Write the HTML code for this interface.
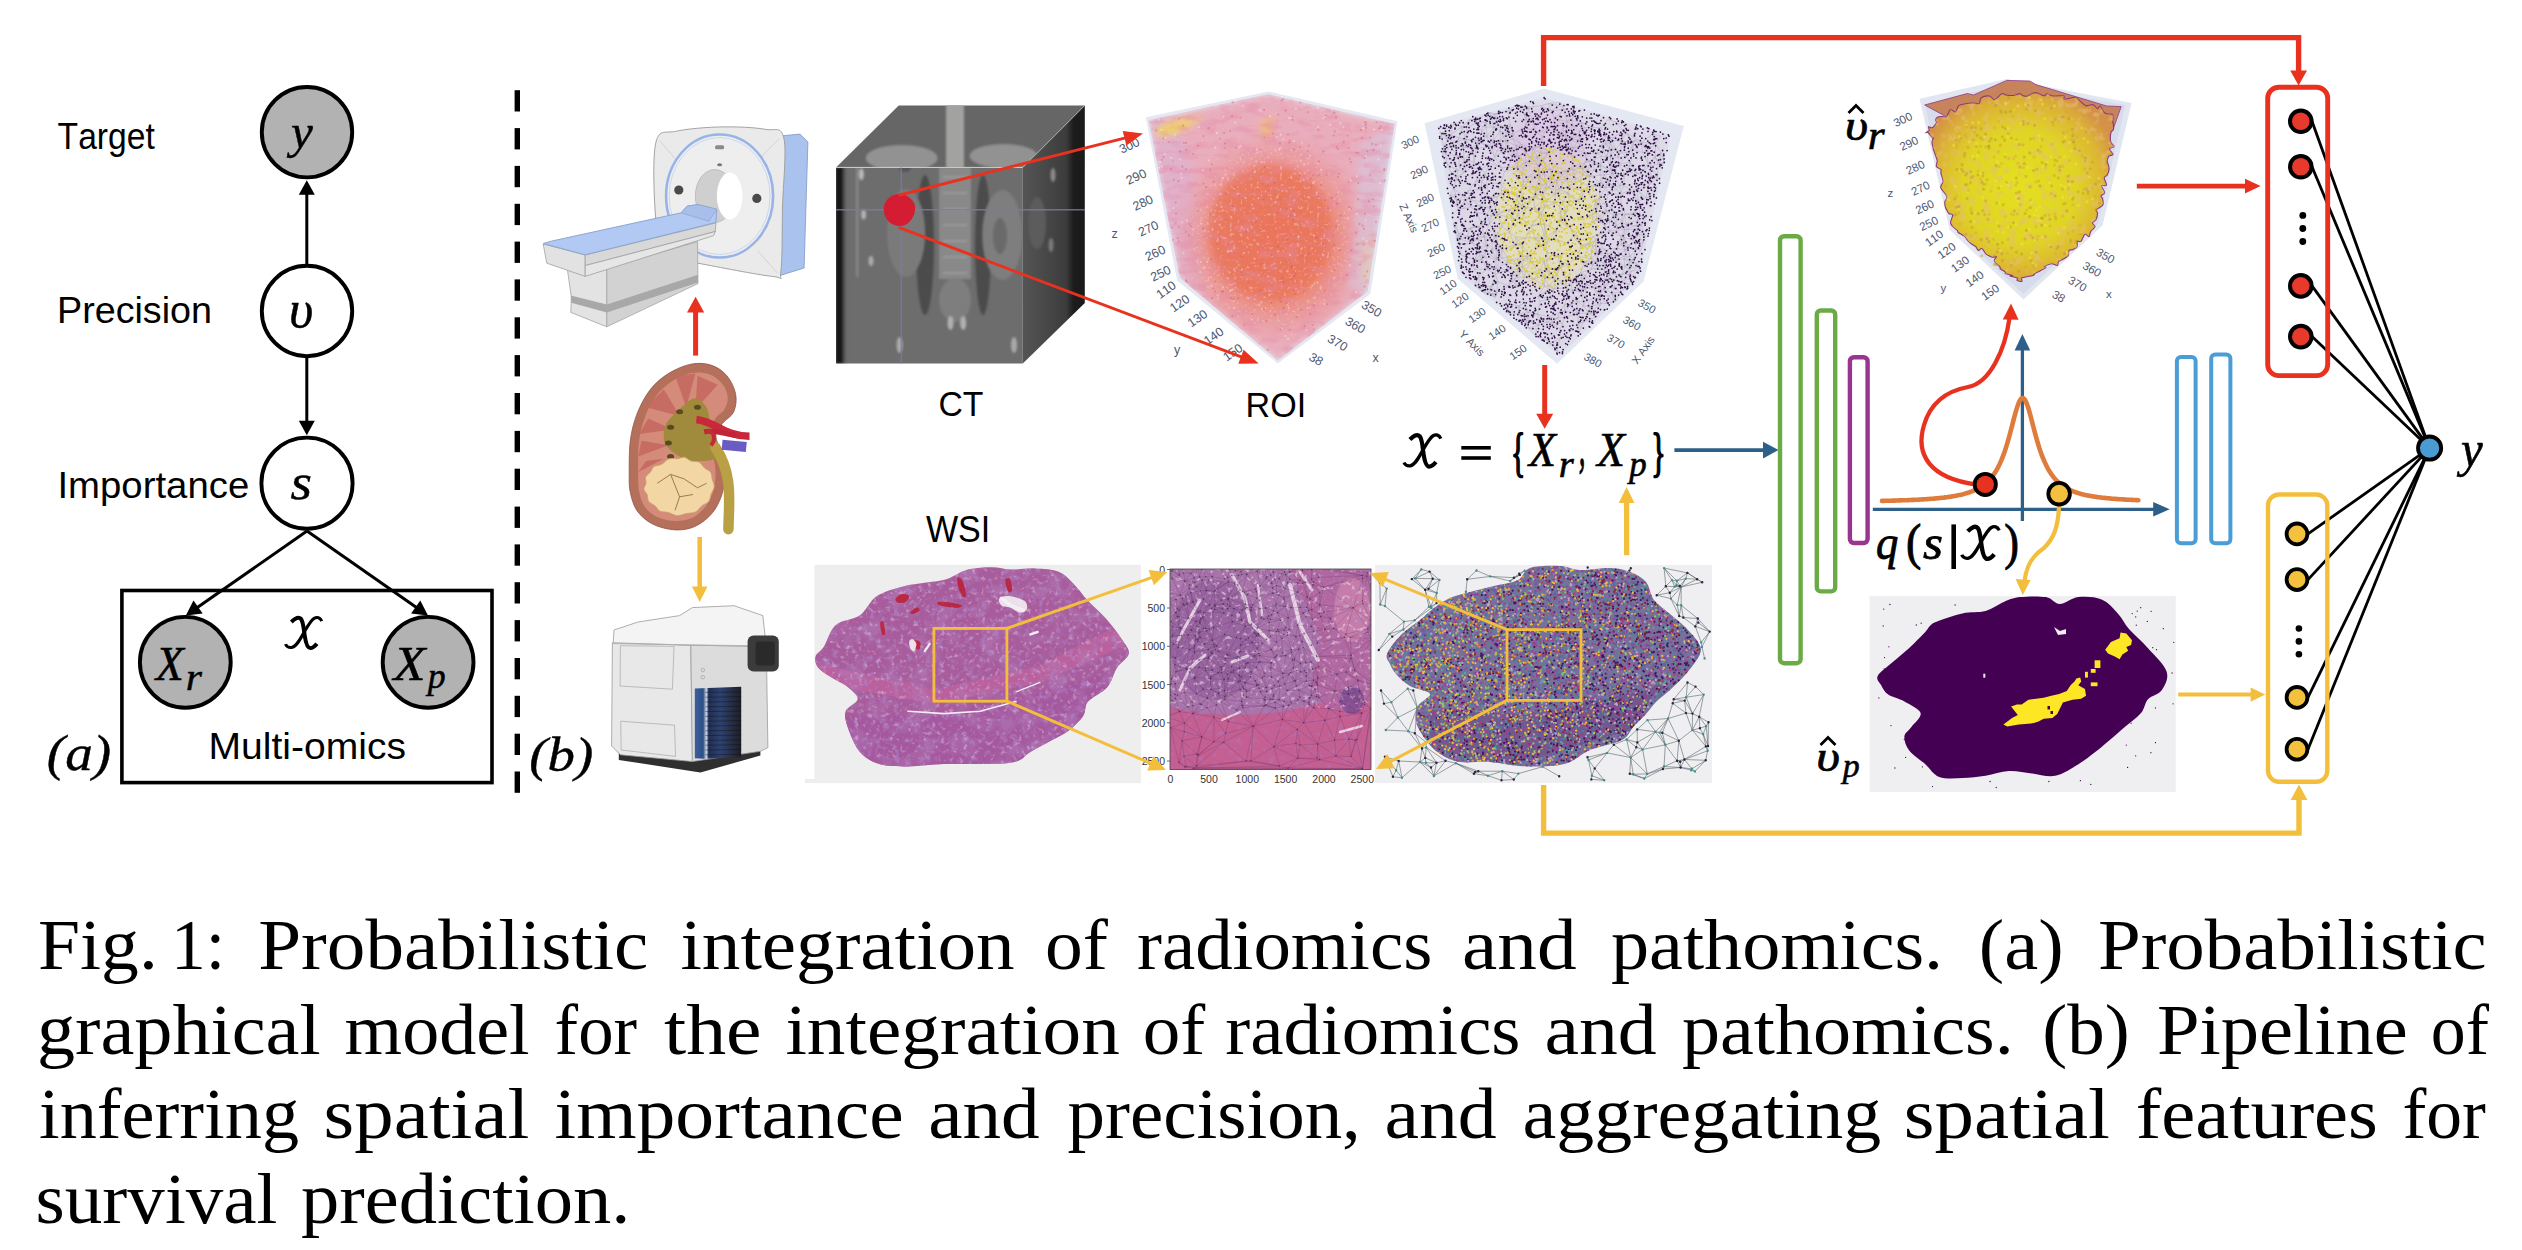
<!DOCTYPE html>
<html><head><meta charset="utf-8"><style>
html,body{margin:0;padding:0;background:#fff;}
body{width:2522px;height:1250px;overflow:hidden;}
svg{display:block;font-family:"Liberation Sans",sans-serif;}
text{font-kerning:none;font-variant-ligatures:none;}
</style></head><body>
<svg width="2522" height="1250" viewBox="0 0 2522 1250">
<defs><filter id="blur1" x="-20%" y="-20%" width="140%" height="140%"><feGaussianBlur stdDeviation="1.2"/></filter>
<filter id="blur3" x="-30%" y="-30%" width="160%" height="160%"><feGaussianBlur stdDeviation="3"/></filter>
<filter id="blur6" x="-50%" y="-50%" width="200%" height="200%"><feGaussianBlur stdDeviation="6"/></filter>
<filter id="tisL" x="0" y="0" width="100%" height="100%"><feTurbulence type="fractalNoise" baseFrequency="0.22" numOctaves="2" seed="11"/>
<feColorMatrix type="matrix" values="0 0 0 0 0.96  0 0 0 0 0.82  0 0 0 0 0.94  0 0 0 5 -2.9"/><feComposite in2="SourceGraphic" operator="in"/></filter>
<filter id="tisD" x="0" y="0" width="100%" height="100%"><feTurbulence type="fractalNoise" baseFrequency="0.16" numOctaves="2" seed="5"/>
<feColorMatrix type="matrix" values="0 0 0 0 0.42  0 0 0 0 0.22  0 0 0 0 0.55  0 0 0 4 -2.1"/><feComposite in2="SourceGraphic" operator="in"/></filter>
<filter id="roiT" x="0" y="0" width="100%" height="100%"><feTurbulence type="fractalNoise" baseFrequency="0.05 0.12" numOctaves="3" seed="8"/>
<feColorMatrix type="matrix" values="0 0 0 0 0.80  0 0 0 0 0.25  0 0 0 0 0.38  0 0 0 4 -1.9"/><feComposite in2="SourceGraphic" operator="in"/></filter>
<filter id="roiW" x="0" y="0" width="100%" height="100%"><feTurbulence type="fractalNoise" baseFrequency="0.3" numOctaves="2" seed="21"/>
<feColorMatrix type="matrix" values="0 0 0 0 1  0 0 0 0 0.92  0 0 0 0 0.88  0 0 0 5 -3.0"/><feComposite in2="SourceGraphic" operator="in"/></filter>
<filter id="tisM" x="0" y="0" width="100%" height="100%"><feTurbulence type="fractalNoise" baseFrequency="0.045" numOctaves="3" seed="17"/>
<feColorMatrix type="matrix" values="0 0 0 0 0.45  0 0 0 0 0.22  0 0 0 0 0.5  0 0 0 3.5 -1.6"/><feComposite in2="SourceGraphic" operator="in"/></filter>
<filter id="vrT" x="0" y="0" width="100%" height="100%"><feTurbulence type="fractalNoise" baseFrequency="0.12" numOctaves="3" seed="31"/>
<feColorMatrix type="matrix" values="0 0 0 0 0.78  0 0 0 0 0.52  0 0 0 0 0.18  0 0 0 5 -2.6"/><feComposite in2="SourceGraphic" operator="in"/></filter>
<filter id="tissue" x="0" y="0" width="100%" height="100%"><feTurbulence type="fractalNoise" baseFrequency="0.09" numOctaves="3" seed="4" result="n"/>
<feColorMatrix in="n" type="matrix" values="0 0 0 0 0.35  0 0 0 0 0.10  0 0 0 0 0.35  0 0 0 1.6 -0.55" result="c"/>
<feComposite in="c" in2="SourceGraphic" operator="in" result="t"/><feMerge><feMergeNode in="SourceGraphic"/><feMergeNode in="t"/></feMerge></filter>

<linearGradient id="scp" x1="0" x2="1" y1="0" y2="0"><stop offset="0" stop-color="#3d5f9a"/><stop offset="0.18" stop-color="#2d4f88"/><stop offset="0.25" stop-color="#cfd6e4"/><stop offset="0.3" stop-color="#1f2f55"/><stop offset="0.55" stop-color="#2e4270"/><stop offset="1" stop-color="#1e1e24"/></linearGradient>
<clipPath id="ctf"><rect x="836.0" y="167.4" width="186.8" height="196.1"/></clipPath>
<clipPath id="ctt"><polygon points="836.0,167.4 898.7,105.4 1084.8,105.4 1022.8,167.4"/></clipPath>
<clipPath id="ctr"><polygon points="1022.8,167.4 1084.8,105.4 1084.8,303.0 1022.8,363.5"/></clipPath>
<linearGradient id="ctl" x1="0" x2="1"><stop offset="0" stop-color="#121212"/><stop offset="0.45" stop-color="#181818"/><stop offset="1" stop-color="#676767" stop-opacity="0"/></linearGradient>
<linearGradient id="ctrg" x1="0" x2="1"><stop offset="0" stop-color="#555"/><stop offset="0.7" stop-color="#3c3c3c"/><stop offset="0.82" stop-color="#1c1c1c"/><stop offset="1" stop-color="#1a1a1a"/></linearGradient>
<clipPath id="roic"><polygon points="1148.5,119.9 1268.2,94.1 1394.8,124.0 1367.6,291.4 1277.8,360.7 1179.8,277.8"/></clipPath>
<radialGradient id="roig" cx="0.5" cy="0.5" r="0.5"><stop offset="0" stop-color="#ea7a62"/><stop offset="0.55" stop-color="#ec8670"/><stop offset="1" stop-color="#eaa2ae" stop-opacity="0"/></radialGradient>
<clipPath id="pcc"><polygon points="1437.5,126.1 1544.1,97.3 1670.8,134.7 1639.1,278.7 1559.9,356.5 1460.6,274.4"/></clipPath>
<radialGradient id="vrg" cx="0.5" cy="0.5" r="0.55"><stop offset="0" stop-color="#e4e01e"/><stop offset="0.55" stop-color="#e0d424"/><stop offset="0.82" stop-color="#dcb434"/><stop offset="1" stop-color="#d49048"/></radialGradient>
<clipPath id="vrc"><path d="M1929.1,130.2 C1929.5,129.2 1928.0,127.2 1928.6,126.7 C1929.1,126.3 1930.9,128.4 1932.3,127.7 C1933.6,127.0 1936.0,123.7 1936.5,122.4 C1937.1,121.1 1935.3,121.0 1935.5,120.0 C1935.7,119.1 1936.6,117.4 1937.7,116.9 C1938.8,116.3 1940.7,116.5 1942.2,116.5 C1943.6,116.5 1945.1,118.0 1946.5,116.8 C1947.9,115.6 1949.1,110.2 1950.6,109.5 C1952.1,108.7 1954.2,112.8 1955.5,112.2 C1956.9,111.5 1957.0,107.1 1958.7,105.7 C1960.4,104.3 1963.4,104.2 1965.7,103.8 C1968.0,103.4 1970.2,103.2 1972.5,103.1 C1974.7,103.0 1977.7,104.3 1979.2,103.4 C1980.6,102.5 1979.6,98.9 1981.3,97.7 C1983.0,96.4 1987.3,95.7 1989.5,96.0 C1991.8,96.3 1992.6,100.1 1994.7,99.7 C1996.7,99.3 1999.8,94.5 2001.7,93.7 C2003.6,92.9 2003.9,94.7 2006.0,95.0 C2008.0,95.3 2011.8,95.7 2014.1,95.5 C2016.4,95.2 2018.6,93.6 2019.9,93.6 C2021.2,93.5 2020.9,94.8 2022.1,95.2 C2023.3,95.7 2024.9,96.6 2027.1,96.2 C2029.2,95.7 2032.2,92.7 2035.1,92.6 C2037.9,92.6 2042.2,95.7 2044.2,95.9 C2046.2,96.1 2045.3,93.8 2046.8,93.8 C2048.4,93.8 2050.6,95.7 2053.4,96.0 C2056.3,96.3 2062.1,95.2 2063.9,95.7 C2065.7,96.3 2062.4,98.9 2064.3,99.2 C2066.1,99.4 2072.6,97.3 2074.8,97.2 C2077.0,97.1 2075.6,97.3 2077.3,98.6 C2079.1,100.0 2082.8,104.3 2085.4,105.4 C2088.1,106.4 2091.1,104.2 2093.1,104.7 C2095.0,105.2 2096.2,108.3 2097.4,108.6 C2098.6,108.8 2099.3,105.6 2100.4,106.1 C2101.4,106.7 2102.5,110.4 2103.7,111.8 C2104.9,113.1 2106.1,113.6 2107.7,114.0 C2109.2,114.5 2111.9,113.3 2112.7,114.6 C2113.6,115.9 2112.7,120.2 2112.8,121.7 C2112.8,123.1 2112.9,122.9 2113.0,123.2 C2113.0,123.4 2113.2,122.2 2113.3,123.2 C2113.3,124.3 2113.8,127.9 2113.5,129.5 C2113.1,131.0 2111.4,130.6 2110.9,132.7 C2110.5,134.7 2110.2,139.3 2110.7,141.7 C2111.2,144.0 2114.3,145.5 2114.1,146.7 C2113.8,147.9 2109.5,147.5 2109.3,148.8 C2109.2,150.1 2113.2,153.3 2113.1,154.5 C2113.0,155.7 2109.9,155.0 2108.9,156.2 C2107.9,157.4 2107.3,160.4 2107.1,161.5 C2106.9,162.6 2107.4,161.6 2107.7,162.8 C2108.1,164.1 2109.1,166.9 2109.1,169.0 C2109.0,171.0 2108.0,173.5 2107.2,175.0 C2106.4,176.5 2104.3,176.3 2104.2,178.0 C2104.1,179.7 2107.0,183.9 2106.5,185.2 C2106.1,186.5 2101.8,184.6 2101.5,185.8 C2101.2,187.1 2104.8,190.9 2104.7,192.6 C2104.6,194.3 2101.4,195.0 2101.0,196.0 C2100.7,197.0 2102.3,197.1 2102.6,198.7 C2102.8,200.2 2103.8,203.3 2102.7,205.1 C2101.6,207.0 2097.1,208.6 2096.2,209.9 C2095.4,211.2 2097.5,211.2 2097.5,212.8 C2097.5,214.4 2097.0,217.8 2096.1,219.5 C2095.3,221.2 2092.6,221.8 2092.4,222.9 C2092.2,224.1 2095.3,225.2 2095.0,226.6 C2094.7,228.1 2091.6,229.9 2090.6,231.6 C2089.7,233.2 2090.1,236.1 2089.1,236.6 C2088.2,237.0 2086.3,233.5 2084.9,234.3 C2083.6,235.1 2082.2,240.3 2081.0,241.4 C2079.7,242.6 2078.1,240.4 2077.4,241.3 C2076.7,242.2 2077.7,245.4 2077.0,246.8 C2076.2,248.2 2074.1,249.1 2072.8,249.7 C2071.5,250.3 2070.0,249.3 2069.1,250.4 C2068.3,251.5 2069.2,254.4 2067.6,256.2 C2066.0,258.0 2061.0,260.3 2059.5,261.0 C2058.0,261.8 2059.0,260.0 2058.6,260.7 C2058.2,261.5 2058.4,265.0 2057.3,265.5 C2056.1,266.0 2053.8,263.5 2051.7,263.7 C2049.5,263.9 2045.4,265.8 2044.3,266.5 C2043.3,267.2 2046.8,266.9 2045.6,267.9 C2044.4,268.8 2039.2,271.2 2037.2,272.3 C2035.2,273.4 2034.2,274.0 2033.7,274.3 C2033.2,274.7 2034.4,274.1 2034.3,274.3 C2034.2,274.5 2034.7,275.0 2033.1,275.5 C2031.5,276.0 2026.7,276.8 2024.7,277.2 C2022.8,277.6 2021.9,277.3 2021.4,278.0 C2021.0,278.7 2022.6,281.0 2021.9,281.4 C2021.2,281.8 2017.8,281.0 2017.1,280.4 C2016.3,279.9 2018.6,278.9 2017.5,278.2 C2016.3,277.4 2010.8,276.5 2010.0,276.1 C2009.2,275.7 2013.4,276.1 2012.6,275.6 C2011.8,275.2 2006.6,274.1 2005.4,273.5 C2004.2,272.9 2006.3,272.9 2005.5,272.1 C2004.6,271.3 2001.2,269.7 2000.3,268.9 C1999.4,268.1 2001.0,268.4 2000.0,267.1 C1999.0,265.8 1994.8,262.6 1994.3,260.9 C1993.7,259.1 1996.9,257.3 1996.5,256.6 C1996.2,256.0 1993.9,257.7 1992.1,257.2 C1990.3,256.7 1987.5,255.2 1985.8,253.8 C1984.2,252.3 1983.3,249.1 1982.0,248.5 C1980.8,247.9 1979.3,250.7 1978.3,250.4 C1977.2,250.1 1976.9,247.8 1975.8,246.7 C1974.7,245.7 1972.9,245.0 1971.6,244.0 C1970.3,243.0 1969.3,242.2 1968.1,240.9 C1966.9,239.6 1966.0,237.6 1964.3,236.2 C1962.7,234.8 1959.5,233.5 1958.3,232.5 C1957.2,231.6 1958.3,231.7 1957.4,230.6 C1956.4,229.6 1953.7,227.6 1952.6,226.2 C1951.4,224.9 1950.5,224.5 1950.5,222.6 C1950.5,220.7 1952.9,216.5 1952.6,215.0 C1952.4,213.5 1950.0,214.5 1948.9,213.5 C1947.9,212.6 1946.9,210.3 1946.3,209.2 C1945.7,208.1 1945.6,208.1 1945.3,206.9 C1945.1,205.6 1944.5,203.4 1944.8,201.7 C1945.1,200.0 1947.6,199.0 1947.0,196.7 C1946.3,194.4 1941.5,190.1 1940.8,187.8 C1940.1,185.4 1942.4,183.9 1942.8,182.6 C1943.1,181.2 1943.3,181.4 1942.9,179.8 C1942.6,178.2 1941.2,174.5 1940.9,172.8 C1940.6,171.1 1941.8,170.7 1941.0,169.7 C1940.3,168.6 1937.1,168.0 1936.4,166.6 C1935.8,165.1 1937.3,162.6 1937.2,161.0 C1937.2,159.4 1936.5,158.5 1936.0,156.9 C1935.5,155.4 1934.7,153.4 1934.2,151.9 C1933.7,150.4 1933.1,148.5 1932.9,147.9 C1932.8,147.3 1933.5,149.0 1933.3,148.2 C1933.2,147.3 1932.0,144.7 1932.0,143.0 C1931.9,141.3 1933.0,138.8 1933.2,138.0 C1933.3,137.2 1933.9,139.4 1933.0,138.4 C1932.0,137.4 1928.7,133.2 1927.5,132.2 C1926.3,131.3 1925.5,133.2 1925.8,132.8 C1926.1,132.5 1928.6,131.2 1929.1,130.2Z"/></clipPath>
<clipPath id="wsic"><path d="M815.6,656.0 C816.8,652.8 820.6,651.6 824.0,646.4 C827.4,641.2 830.0,630.0 836.0,624.8 C842.0,619.6 853.2,620.0 860.0,615.2 C866.8,610.4 869.6,600.8 876.8,596.0 C884.0,591.2 895.2,588.6 903.2,586.4 C911.2,584.2 917.6,584.0 924.8,582.8 C932.0,581.6 939.2,581.4 946.4,579.2 C953.6,577.0 960.4,571.6 968.0,569.6 C975.6,567.6 984.8,567.2 992.0,567.2 C999.2,567.2 1004.0,569.4 1011.2,569.6 C1018.4,569.8 1027.2,568.0 1035.2,568.4 C1043.2,568.8 1052.4,569.0 1059.2,572.0 C1066.0,575.0 1071.2,581.6 1076.0,586.4 C1080.8,591.2 1082.8,595.2 1088.0,600.8 C1093.2,606.4 1101.6,613.6 1107.2,620.0 C1112.9,626.4 1118.1,633.6 1121.7,639.2 C1125.3,644.8 1129.7,648.8 1128.9,653.6 C1128.1,658.4 1120.5,662.4 1116.9,668.0 C1113.3,673.6 1112.0,681.6 1107.2,687.2 C1102.4,692.8 1092.0,696.8 1088.0,701.6 C1084.0,706.4 1086.4,711.2 1083.2,716.0 C1080.0,720.8 1074.0,726.4 1068.8,730.4 C1063.6,734.4 1058.4,736.4 1052.0,740.0 C1045.6,743.6 1036.4,748.4 1030.4,752.0 C1024.4,755.6 1023.2,759.6 1016.0,761.6 C1008.8,763.6 999.2,763.6 987.2,764.0 C975.2,764.4 957.2,763.6 944.0,764.0 C930.8,764.4 918.8,766.4 908.0,766.4 C897.2,766.4 887.2,766.4 879.2,764.0 C871.2,761.6 865.2,758.0 860.0,752.0 C854.8,746.0 850.4,734.8 848.0,728.0 C845.6,721.2 844.0,716.0 845.6,711.2 C847.2,706.4 857.2,703.2 857.6,699.2 C858.0,695.2 851.6,690.4 848.0,687.2 C844.4,684.0 840.0,682.4 836.0,680.0 C832.0,677.6 827.2,675.2 824.0,672.8 C820.8,670.4 818.2,668.4 816.8,665.6 C815.4,662.8 814.4,659.2 815.6,656.0Z"/></clipPath>
<clipPath id="patc"><rect x="1170.0" y="569.0" width="201.0" height="200.4"/></clipPath>
<clipPath id="grc"><path d="M1387.0,654.0 C1388.7,649.3 1394.5,641.7 1400.0,636.0 C1405.5,630.3 1414.3,624.7 1420.0,620.0 C1425.7,615.3 1429.0,611.7 1434.0,608.0 C1439.0,604.3 1444.0,600.7 1450.0,598.0 C1456.0,595.3 1462.7,594.0 1470.0,592.0 C1477.3,590.0 1486.0,588.0 1494.0,586.0 C1502.0,584.0 1512.0,583.0 1518.0,580.0 C1524.0,577.0 1523.0,570.3 1530.0,568.0 C1537.0,565.7 1551.7,565.7 1560.0,566.0 C1568.3,566.3 1571.7,569.7 1580.0,570.0 C1588.3,570.3 1601.7,567.7 1610.0,568.0 C1618.3,568.3 1624.0,569.7 1630.0,572.0 C1636.0,574.3 1642.0,577.3 1646.0,582.0 C1650.0,586.7 1650.0,594.7 1654.0,600.0 C1658.0,605.3 1665.0,609.7 1670.0,614.0 C1675.0,618.3 1679.3,621.3 1684.0,626.0 C1688.7,630.7 1695.3,637.3 1698.0,642.0 C1700.7,646.7 1702.0,648.7 1700.0,654.0 C1698.0,659.3 1691.0,668.0 1686.0,674.0 C1681.0,680.0 1675.0,685.3 1670.0,690.0 C1665.0,694.7 1660.0,698.0 1656.0,702.0 C1652.0,706.0 1649.7,710.0 1646.0,714.0 C1642.3,718.0 1638.0,721.7 1634.0,726.0 C1630.0,730.3 1629.3,736.0 1622.0,740.0 C1614.7,744.0 1598.7,746.3 1590.0,750.0 C1581.3,753.7 1576.7,759.3 1570.0,762.0 C1563.3,764.7 1558.3,765.3 1550.0,766.0 C1541.7,766.7 1530.0,766.7 1520.0,766.0 C1510.0,765.3 1500.0,762.7 1490.0,762.0 C1480.0,761.3 1468.3,763.3 1460.0,762.0 C1451.7,760.7 1445.7,757.7 1440.0,754.0 C1434.3,750.3 1430.0,745.3 1426.0,740.0 C1422.0,734.7 1417.3,727.7 1416.0,722.0 C1414.7,716.3 1415.7,710.7 1418.0,706.0 C1420.3,701.3 1431.3,697.3 1430.0,694.0 C1428.7,690.7 1415.7,689.3 1410.0,686.0 C1404.3,682.7 1399.3,677.7 1396.0,674.0 C1392.7,670.3 1391.5,667.3 1390.0,664.0 C1388.5,660.7 1385.3,658.7 1387.0,654.0Z"/></clipPath></defs>
<text transform="translate(38.00 969.30) scale(0.1513 0.1440)" font-size="500" style="font-family:&quot;Liberation Serif&quot;;" fill="#000">Fig.</text>
<text transform="translate(171.00 969.30) scale(0.1393 0.1440)" font-size="500" style="font-family:&quot;Liberation Serif&quot;;" fill="#000">1:</text>
<text transform="translate(258.20 969.30) scale(0.1544 0.1440)" font-size="500" style="font-family:&quot;Liberation Serif&quot;;" fill="#000">Probabilistic</text>
<text transform="translate(680.40 969.30) scale(0.1543 0.1440)" font-size="500" style="font-family:&quot;Liberation Serif&quot;;" fill="#000">integration</text>
<text transform="translate(1045.00 969.30) scale(0.1511 0.1440)" font-size="500" style="font-family:&quot;Liberation Serif&quot;;" fill="#000">of</text>
<text transform="translate(1137.00 969.30) scale(0.1498 0.1440)" font-size="500" style="font-family:&quot;Liberation Serif&quot;;" fill="#000">radiomics</text>
<text transform="translate(1462.00 969.30) scale(0.1587 0.1440)" font-size="500" style="font-family:&quot;Liberation Serif&quot;;" fill="#000">and</text>
<text transform="translate(1611.00 969.30) scale(0.1524 0.1440)" font-size="500" style="font-family:&quot;Liberation Serif&quot;;" fill="#000">pathomics.</text>
<text transform="translate(1978.80 969.30) scale(0.1529 0.1440)" font-size="500" style="font-family:&quot;Liberation Serif&quot;;" fill="#000">(a)</text>
<text transform="translate(2098.00 969.30) scale(0.1538 0.1440)" font-size="500" style="font-family:&quot;Liberation Serif&quot;;" fill="#000">Probabilistic</text>
<text transform="translate(37.00 1053.80) scale(0.1525 0.1440)" font-size="500" style="font-family:&quot;Liberation Serif&quot;;" fill="#000">graphical</text>
<text transform="translate(344.60 1053.80) scale(0.1480 0.1440)" font-size="500" style="font-family:&quot;Liberation Serif&quot;;" fill="#000">model</text>
<text transform="translate(554.60 1053.80) scale(0.1414 0.1440)" font-size="500" style="font-family:&quot;Liberation Serif&quot;;" fill="#000">for</text>
<text transform="translate(664.00 1053.80) scale(0.1597 0.1440)" font-size="500" style="font-family:&quot;Liberation Serif&quot;;" fill="#000">the</text>
<text transform="translate(785.40 1053.80) scale(0.1544 0.1440)" font-size="500" style="font-family:&quot;Liberation Serif&quot;;" fill="#000">integration</text>
<text transform="translate(1142.80 1053.80) scale(0.1501 0.1440)" font-size="500" style="font-family:&quot;Liberation Serif&quot;;" fill="#000">of</text>
<text transform="translate(1225.20 1053.80) scale(0.1498 0.1440)" font-size="500" style="font-family:&quot;Liberation Serif&quot;;" fill="#000">radiomics</text>
<text transform="translate(1544.40 1053.80) scale(0.1554 0.1440)" font-size="500" style="font-family:&quot;Liberation Serif&quot;;" fill="#000">and</text>
<text transform="translate(1682.00 1053.80) scale(0.1522 0.1440)" font-size="500" style="font-family:&quot;Liberation Serif&quot;;" fill="#000">pathomics.</text>
<text transform="translate(2042.20 1053.80) scale(0.1500 0.1440)" font-size="500" style="font-family:&quot;Liberation Serif&quot;;" fill="#000">(b)</text>
<text transform="translate(2157.00 1053.80) scale(0.1531 0.1440)" font-size="500" style="font-family:&quot;Liberation Serif&quot;;" fill="#000">Pipeline</text>
<text transform="translate(2430.80 1053.80) scale(0.1396 0.1440)" font-size="500" style="font-family:&quot;Liberation Serif&quot;;" fill="#000">of</text>
<text transform="translate(39.00 1138.30) scale(0.1487 0.1440)" font-size="500" style="font-family:&quot;Liberation Serif&quot;;" fill="#000">inferring</text>
<text transform="translate(323.60 1138.30) scale(0.1577 0.1440)" font-size="500" style="font-family:&quot;Liberation Serif&quot;;" fill="#000">spatial</text>
<text transform="translate(554.60 1138.30) scale(0.1552 0.1440)" font-size="500" style="font-family:&quot;Liberation Serif&quot;;" fill="#000">importance</text>
<text transform="translate(928.20 1138.30) scale(0.1543 0.1440)" font-size="500" style="font-family:&quot;Liberation Serif&quot;;" fill="#000">and</text>
<text transform="translate(1067.60 1138.30) scale(0.1498 0.1440)" font-size="500" style="font-family:&quot;Liberation Serif&quot;;" fill="#000">precision,</text>
<text transform="translate(1384.40 1138.30) scale(0.1554 0.1440)" font-size="500" style="font-family:&quot;Liberation Serif&quot;;" fill="#000">and</text>
<text transform="translate(1522.60 1138.30) scale(0.1520 0.1440)" font-size="500" style="font-family:&quot;Liberation Serif&quot;;" fill="#000">aggregating</text>
<text transform="translate(1903.80 1138.30) scale(0.1579 0.1440)" font-size="500" style="font-family:&quot;Liberation Serif&quot;;" fill="#000">spatial</text>
<text transform="translate(2135.80 1138.30) scale(0.1530 0.1440)" font-size="500" style="font-family:&quot;Liberation Serif&quot;;" fill="#000">features</text>
<text transform="translate(2402.40 1138.30) scale(0.1432 0.1440)" font-size="500" style="font-family:&quot;Liberation Serif&quot;;" fill="#000">for</text>
<text transform="translate(35.60 1222.80) scale(0.1502 0.1440)" font-size="500" style="font-family:&quot;Liberation Serif&quot;;" fill="#000">survival</text>
<text transform="translate(301.00 1222.80) scale(0.1531 0.1440)" font-size="500" style="font-family:&quot;Liberation Serif&quot;;" fill="#000">prediction.</text>
<circle cx="307.0" cy="132.2" r="45.2" fill="#b2b2b2" stroke="#000" stroke-width="3.9"/>
<circle cx="307.0" cy="311.0" r="45.2" fill="#fff" stroke="#000" stroke-width="3.9"/>
<circle cx="307.0" cy="483.2" r="45.6" fill="#fff" stroke="#000" stroke-width="3.9"/>
<circle cx="185.3" cy="662.3" r="45.4" fill="#b2b2b2" stroke="#000" stroke-width="3.9"/>
<circle cx="428.1" cy="662.3" r="45.4" fill="#b2b2b2" stroke="#000" stroke-width="3.9"/>
<line x1="306.8" y1="264.0" x2="306.8" y2="193.7" stroke="#000" stroke-width="3.0"/><polygon points="306.8,180.2 314.8,194.7 298.8,194.7" fill="#000"/>
<line x1="306.8" y1="358.0" x2="306.8" y2="421.8" stroke="#000" stroke-width="3.0"/><polygon points="306.8,435.3 298.8,420.8 314.8,420.8" fill="#000"/>
<line x1="307.0" y1="531.0" x2="197.3" y2="607.6" stroke="#000" stroke-width="3.0"/><polygon points="185.8,615.6 193.5,600.5 202.7,613.6" fill="#000"/>
<line x1="307.0" y1="531.0" x2="416.5" y2="607.6" stroke="#000" stroke-width="3.0"/><polygon points="428.0,615.6 411.1,613.6 420.3,600.4" fill="#000"/>
<rect x="121.9" y="590.5" width="370.1" height="192.1" fill="none" stroke="#000" stroke-width="3.6"/>
<text transform="translate(57.60 148.80) scale(0.0673 0.0753)" font-size="500" style="font-family:&quot;Liberation Sans&quot;;" fill="#000">Target</text>
<text transform="translate(57.00 323.20) scale(0.0754 0.0744)" font-size="500" style="font-family:&quot;Liberation Sans&quot;;" fill="#000">Precision</text>
<text transform="translate(57.40 497.50) scale(0.0767 0.0753)" font-size="500" style="font-family:&quot;Liberation Sans&quot;;" fill="#000">Importance</text>
<text transform="translate(208.60 759.20) scale(0.0781 0.0747)" font-size="500" style="font-family:&quot;Liberation Sans&quot;;" fill="#000">Multi-omics</text>
<text transform="translate(291.05 147.58) scale(0.0983 0.0981)" font-size="500" style="font-family:&quot;Liberation Serif&quot;;font-style:italic;" fill="#000" stroke="#000" stroke-width="4.58" stroke-linejoin="round">y</text>
<text transform="translate(289.03 326.65) scale(0.1059 0.1048)" font-size="500" style="font-family:&quot;Liberation Serif&quot;;font-style:italic;" fill="#000" stroke="#000" stroke-width="4.27" stroke-linejoin="round">υ</text>
<text transform="translate(290.53 499.16) scale(0.1105 0.1027)" font-size="500" style="font-family:&quot;Liberation Serif&quot;;font-style:italic;" fill="#000" stroke="#000" stroke-width="4.22" stroke-linejoin="round">s</text>
<text transform="translate(155.66 679.70) scale(0.0917 0.0985)" font-size="500" style="font-family:&quot;Liberation Serif&quot;;font-style:italic;" fill="#000" stroke="#000" stroke-width="6.31" stroke-linejoin="round">X</text>
<text transform="translate(185.75 689.65) scale(0.0832 0.0780)" font-size="500" style="font-family:&quot;Liberation Serif&quot;;font-style:italic;" fill="#000" stroke="#000" stroke-width="6.20" stroke-linejoin="round">r</text>
<text transform="translate(393.38 679.70) scale(0.1047 0.0985)" font-size="500" style="font-family:&quot;Liberation Serif&quot;;font-style:italic;" fill="#000" stroke="#000" stroke-width="5.91" stroke-linejoin="round">X</text>
<text transform="translate(427.79 688.02) scale(0.0714 0.0711)" font-size="500" style="font-family:&quot;Liberation Serif&quot;;font-style:italic;" fill="#000" stroke="#000" stroke-width="7.02" stroke-linejoin="round">p</text>
<text transform="translate(46.83 770.01) scale(0.1102 0.0997)" font-size="500" style="font-family:&quot;Liberation Serif&quot;;font-style:italic;" fill="#000" stroke="#000" stroke-width="4.29" stroke-linejoin="round">(a)</text>
<text transform="translate(529.23 770.66) scale(0.1097 0.0992)" font-size="500" style="font-family:&quot;Liberation Serif&quot;;font-style:italic;" fill="#000" stroke="#000" stroke-width="4.31" stroke-linejoin="round">(b)</text>
<path d="M291.32,621.94 C294.95,618.39 298.35,616.28 300.92,618.80 C303.45,621.72 303.88,630.10 304.74,635.96 C306.03,644.31 307.74,648.08 310.28,648.08 C313.28,648.08 315.39,645.56 316.91,643.70" fill="none" stroke="#000" stroke-width="4.05" stroke-linecap="butt"/><path d="M321.78,621.11 C320.11,617.56 317.10,616.72 314.14,618.39 C311.14,620.05 307.74,625.91 304.31,631.76 C300.06,639.28 296.63,646.42 291.52,647.44 C288.13,647.86 285.98,645.56 285.55,644.12" fill="none" stroke="#000" stroke-width="3.13" stroke-linecap="butt"/>
<rect x="514.6" y="90.2" width="5.4" height="21.3" fill="#000"/>
<rect x="514.6" y="128.1" width="5.4" height="21.3" fill="#000"/>
<rect x="514.6" y="165.9" width="5.4" height="21.3" fill="#000"/>
<rect x="514.6" y="203.8" width="5.4" height="21.3" fill="#000"/>
<rect x="514.6" y="241.6" width="5.4" height="21.3" fill="#000"/>
<rect x="514.6" y="279.4" width="5.4" height="21.3" fill="#000"/>
<rect x="514.6" y="317.3" width="5.4" height="21.3" fill="#000"/>
<rect x="514.6" y="355.1" width="5.4" height="21.3" fill="#000"/>
<rect x="514.6" y="393.0" width="5.4" height="21.3" fill="#000"/>
<rect x="514.6" y="430.9" width="5.4" height="21.3" fill="#000"/>
<rect x="514.6" y="468.7" width="5.4" height="21.3" fill="#000"/>
<rect x="514.6" y="506.6" width="5.4" height="21.3" fill="#000"/>
<rect x="514.6" y="544.4" width="5.4" height="21.3" fill="#000"/>
<rect x="514.6" y="582.2" width="5.4" height="21.3" fill="#000"/>
<rect x="514.6" y="620.1" width="5.4" height="21.3" fill="#000"/>
<rect x="514.6" y="658.0" width="5.4" height="21.3" fill="#000"/>
<rect x="514.6" y="695.8" width="5.4" height="21.3" fill="#000"/>
<rect x="514.6" y="733.7" width="5.4" height="21.3" fill="#000"/>
<rect x="514.6" y="771.5" width="5.4" height="21.3" fill="#000"/>
<g><polygon points="779.6,136.0 800.0,134.1 807.9,142.0 804.1,268.0 777.2,276.4" fill="#a9c3ee" stroke="#7f97c4" stroke-width="0.8"/><path d="M656.0,142.0 C659.5,128.4 665.4,133.7 676.4,131.2 C687.4,128.7 707.2,127.2 722.0,126.9 C736.8,126.6 754.9,127.4 765.2,129.3 C775.5,131.2 781.0,125.3 783.9,138.4 C786.8,151.5 783.0,185.8 782.5,208.0 C782.0,230.2 782.5,260.2 780.8,271.6 C779.1,283.0 786.2,277.8 772.4,276.4 C758.6,275.0 716.0,266.6 698.0,263.2 C680.0,259.8 671.5,264.4 664.4,256.0 C657.3,247.6 656.7,231.8 655.3,212.8 C653.9,193.8 652.5,155.6 656.0,142.0Z" fill="#ebeaea" stroke="#9a9a9a" stroke-width="0.9"/><line x1="659.6" y1="140.8" x2="676.4" y2="160.0" stroke="#c8c8c8" stroke-width="0.7"/><line x1="779.6" y1="138.4" x2="760.4" y2="157.6" stroke="#c8c8c8" stroke-width="0.7"/><line x1="777.2" y1="272.8" x2="758.0" y2="251.2" stroke="#c8c8c8" stroke-width="0.7"/><ellipse cx="719.6" cy="196.0" rx="53.5" ry="61.5" fill="#eeeeee" stroke="#98b3e6" stroke-width="2.6"/><ellipse cx="719.6" cy="196.0" rx="50.5" ry="58.5" fill="none" stroke="#c9d7f1" stroke-width="1"/><ellipse cx="714.8" cy="196.0" rx="19.5" ry="26.5" fill="#cfcfcf" stroke="#aaa" stroke-width="0.6"/><ellipse cx="729.7" cy="196.0" rx="12.8" ry="23.5" fill="#ffffff"/><circle cx="678.8" cy="190.0" r="4.6" fill="#4a4a4a"/><circle cx="756.8" cy="198.4" r="4.6" fill="#4a4a4a"/><rect x="715.1" y="145.3" width="9" height="4" rx="1.5" fill="#8a8a8a"/><ellipse cx="719.6" cy="164.8" rx="2.5" ry="1.5" fill="#777"/><polygon points="567.2,268.0 606.8,268.0 606.8,326.8 570.8,312.4 571.3,296.8" fill="#e3e3e3" stroke="#a5a5a5" stroke-width="0.8"/><polygon points="606.8,268.0 697.5,241.6 698.0,283.6 606.8,326.8" fill="#d2d2d2" stroke="#a5a5a5" stroke-width="0.8"/><polygon points="570.8,295.6 606.8,304.5 606.8,312.4 571.3,302.8" fill="#a8a8a8"/><polygon points="606.8,304.5 698.0,274.7 698.0,282.4 606.8,312.4" fill="#a8a8a8"/><polygon points="543.2,244.0 585.2,255.0 585.2,276.4 546.8,263.2" fill="#e2e2e2" stroke="#a0a0a0" stroke-width="0.8"/><polygon points="585.2,255.0 716.0,222.9 715.3,231.5 585.2,265.6" fill="#d8d8d8" stroke="#a0a0a0" stroke-width="0.8"/><polygon points="585.2,265.6 715.3,231.5 713.6,235.6 585.2,276.4" fill="#e6e6e6" stroke="#a0a0a0" stroke-width="0.8"/><polygon points="543.2,243.5 551.6,241.1 681.2,212.8 687.2,206.1 698.0,204.6 716.7,209.2 716.0,222.4 585.2,254.8" fill="#b2caf3" stroke="#8ea6d0" stroke-width="1"/><polygon points="681.2,212.8 687.2,206.1 698.0,204.6 716.7,209.2 708.8,221.2" fill="#a7bfea" stroke="#8ea6d0" stroke-width="0.8"/></g>
<g><path d="M629.2,474.4 C629.2,465.8 629.0,450.9 630.3,440.8 C631.6,430.7 633.7,422.5 637.0,413.9 C640.4,405.3 645.2,396.0 650.5,389.3 C655.7,382.6 661.7,377.8 668.4,373.6 C675.1,369.4 683.7,365.6 690.8,364.2 C697.9,362.8 705.0,363.2 710.9,365.1 C716.9,367.0 722.5,370.6 726.6,375.4 C730.7,380.2 734.4,387.7 735.6,393.8 C736.8,399.8 735.9,406.7 733.8,411.7 C731.6,416.6 725.6,419.4 722.6,423.3 C719.6,427.2 716.1,430.2 715.9,435.2 C715.6,440.1 719.6,447.1 721.0,453.1 C722.4,459.1 724.1,464.5 724.4,471.0 C724.6,477.6 724.5,485.4 722.6,492.3 C720.6,499.2 717.3,506.8 712.7,512.5 C708.2,518.1 701.5,523.4 695.3,526.3 C689.0,529.2 682.2,530.3 675.1,529.9 C668.0,529.5 659.1,527.3 652.7,524.1 C646.4,520.9 640.8,516.0 637.0,510.7 C633.3,505.4 631.6,498.3 630.3,492.3 C629.0,486.2 629.2,483.0 629.2,474.4Z" fill="#b5705c" stroke="#8f5646" stroke-width="0.8"/><path d="M638.2,474.4 C638.1,466.2 637.7,452.5 638.8,443.0 C639.9,433.5 642.0,425.1 644.9,417.3 C647.7,409.4 651.6,402.0 656.1,396.0 C660.5,390.0 666.0,385.2 671.7,381.4 C677.5,377.6 684.6,374.4 690.8,373.1 C696.9,371.9 703.5,372.3 708.7,374.0 C713.9,375.8 719.0,379.8 722.1,383.7 C725.3,387.5 727.4,392.8 727.7,397.1 C728.1,401.4 726.4,405.9 724.4,409.4 C722.3,413.0 718.0,414.3 715.4,418.4 C712.8,422.5 709.3,428.5 708.7,434.1 C708.1,439.7 710.9,446.0 712.1,452.0 C713.2,458.0 715.2,463.6 715.4,469.9 C715.7,476.2 715.3,483.9 713.6,490.1 C711.9,496.2 709.0,502.2 705.3,506.9 C701.7,511.5 696.9,515.7 691.9,518.1 C686.9,520.4 680.9,521.1 675.1,521.0 C669.3,520.8 662.2,519.3 657.2,516.9 C652.2,514.6 647.9,511.0 644.9,506.9 C641.9,502.7 640.4,497.7 639.3,492.3 C638.2,486.9 638.2,482.6 638.2,474.4Z" fill="#d58b79"/><polygon points="675.1,375.8 695.3,373.6 686.3,407.2" fill="#c4685f" opacity="0.9"/><polygon points="697.5,375.8 717.7,384.8 695.3,409.4" fill="#c4685f" opacity="0.9"/><polygon points="646.0,407.2 663.9,389.3 679.6,416.1" fill="#c4685f" opacity="0.9"/><polygon points="639.3,434.1 648.2,418.4 672.9,429.6" fill="#c4685f" opacity="0.9"/><polygon points="638.2,456.5 641.5,440.8 668.4,445.3" fill="#c4685f" opacity="0.9"/><polygon points="638.2,472.1 646.0,460.9 663.9,458.7" fill="#c4685f" opacity="0.9"/><path d="M668.4,420.6 C671.7,416.1 679.6,408.7 684.1,404.9 C688.5,401.2 691.5,397.9 695.3,398.2 C699.0,398.6 703.8,402.7 706.5,407.2 C709.1,411.7 708.9,418.4 710.9,425.1 C713.0,431.8 718.0,441.9 718.8,447.5 C719.5,453.1 719.3,456.5 715.4,458.7 C711.5,460.9 701.2,461.3 695.3,460.9 C689.3,460.6 684.4,459.1 679.6,456.5 C674.7,453.8 668.8,449.4 666.1,445.3 C663.5,441.2 663.5,435.9 663.9,431.8 C664.3,427.7 665.0,425.1 668.4,420.6Z" fill="#a08a3c"/><ellipse cx="679.6" cy="411.7" rx="3.5" ry="2.5" fill="#5a4a20"/><ellipse cx="697.5" cy="407.2" rx="3.5" ry="2.5" fill="#5a4a20"/><ellipse cx="670.6" cy="427.3" rx="3.5" ry="2.5" fill="#5a4a20"/><ellipse cx="668.4" cy="443.0" rx="3.5" ry="2.5" fill="#5a4a20"/><ellipse cx="670.6" cy="456.5" rx="3.5" ry="2.5" fill="#5a4a20"/><path d="M715.4,447.5 C733.3,474.4 728.9,501.3 728.4,529.2" fill="none" stroke="#b9a044" stroke-width="10.5" stroke-linecap="round"/><path d="M722.1,444.8 L746.3,447.1" stroke="#6a5cc4" stroke-width="10" /><path d="M696.4,419.5 C715.4,421.7 724.4,436.3 749.5,436.3" fill="none" stroke="#c8283a" stroke-width="7.5"/><path d="M704.2,431.8 C715.4,429.6 724.4,434.1 735.6,435.2" fill="none" stroke="#c02436" stroke-width="5"/><path d="M706.5,431.8 C715.4,429.6 715.4,440.8 710.9,445.3" fill="none" stroke="#c8283a" stroke-width="4"/><path d="M646.0,483.3 C646.3,481.3 644.9,478.9 645.6,477.1 C646.4,475.2 649.1,473.9 650.5,472.1 C651.9,470.4 652.1,467.9 653.9,466.6 C655.8,465.3 659.2,465.6 661.7,464.3 C664.1,463.0 666.0,459.9 668.6,459.0 C671.2,458.0 674.7,459.0 677.3,458.7 C680.0,458.4 682.4,456.8 684.6,457.2 C686.9,457.6 688.3,460.1 690.8,460.9 C693.2,461.8 697.1,461.2 699.3,462.3 C701.5,463.4 702.3,466.0 704.2,467.7 C706.1,469.3 709.3,470.4 710.6,472.2 C711.9,474.1 711.5,476.4 712.1,478.9 C712.7,481.3 714.4,484.2 714.2,486.8 C714.0,489.4 711.8,492.1 710.9,494.5 C710.1,497.0 710.3,499.5 708.8,501.4 C707.4,503.2 704.2,504.0 702.0,505.7 C699.8,507.5 698.2,510.6 695.6,511.9 C693.0,513.2 689.4,512.9 686.3,513.6 C683.2,514.2 680.2,515.9 677.2,515.7 C674.3,515.5 671.2,513.2 668.4,512.5 C665.5,511.7 662.3,512.4 660.1,511.3 C657.9,510.2 656.9,507.4 654.9,505.7 C653.0,504.1 650.0,503.3 648.7,501.4 C647.3,499.5 647.9,496.6 647.1,494.5 C646.3,492.5 644.1,491.1 643.9,489.2 C643.7,487.4 645.7,485.4 646.0,483.3Z" fill="#f2d7a4" stroke="#c8a070" stroke-width="0.8"/><polyline points="657.2,483.3 670.6,474.4 684.1,478.9" fill="none" stroke="#a07a48" stroke-width="1"/><polyline points="670.6,474.4 679.6,496.8 675.1,510.2" fill="none" stroke="#a07a48" stroke-width="1"/><polyline points="684.1,478.9 697.5,487.8 706.5,483.3" fill="none" stroke="#a07a48" stroke-width="1"/><polyline points="679.6,496.8 693.0,494.5" fill="none" stroke="#a07a48" stroke-width="1"/></g>
<g><polygon points="618.8,752.4 692.4,760.9 760.4,750.0 760.4,755.6 700.4,772.4 618.8,759.9" fill="#2f2f2f"/><polygon points="612.4,642.8 690.8,645.2 692.4,761.5 620.4,754.8 611.6,746.0" fill="#e9e8e8" stroke="#9a9a9a" stroke-width="0.8"/><polygon points="690.8,645.2 766.3,646.3 767.9,747.6 760.4,751.3 692.4,761.5" fill="#dddcdc" stroke="#9a9a9a" stroke-width="0.8"/><path d="M613.2,642.8 L614.0,630.0 L638.0,622.0 L679.6,615.6 L692.4,607.6 L734.0,605.7 L762.8,615.6 L766.3,646.3 L690.8,645.2Z" fill="#f4f4f4" stroke="#9a9a9a" stroke-width="0.8"/><line x1="613.2" y1="643.6" x2="766.0" y2="646.0" stroke="#b0b0b0" stroke-width="0.8"/><polygon points="620.4,645.7 674.0,646.3 672.4,689.2 620.1,686.0" fill="none" stroke="#a8a8a8" stroke-width="0.7"/><polygon points="620.7,721.2 674.5,725.2 675.6,756.4 621.2,750.0" fill="none" stroke="#a8a8a8" stroke-width="0.7"/><polygon points="694.8,688.4 741.2,686.8 741.2,757.2 703.9,758.8 694.8,758.3" fill="url(#scp)"/><line x1="705.2" y1="692.4" x2="741.2" y2="691.9" stroke="#0e0e14" stroke-width="0.7" opacity="0.6"/><line x1="705.2" y1="697.2" x2="741.2" y2="696.7" stroke="#0e0e14" stroke-width="0.7" opacity="0.6"/><line x1="705.2" y1="702.0" x2="741.2" y2="701.5" stroke="#0e0e14" stroke-width="0.7" opacity="0.6"/><line x1="705.2" y1="706.8" x2="741.2" y2="706.3" stroke="#0e0e14" stroke-width="0.7" opacity="0.6"/><line x1="705.2" y1="711.6" x2="741.2" y2="711.1" stroke="#0e0e14" stroke-width="0.7" opacity="0.6"/><line x1="705.2" y1="716.4" x2="741.2" y2="715.9" stroke="#0e0e14" stroke-width="0.7" opacity="0.6"/><line x1="705.2" y1="721.2" x2="741.2" y2="720.7" stroke="#0e0e14" stroke-width="0.7" opacity="0.6"/><line x1="705.2" y1="726.0" x2="741.2" y2="725.5" stroke="#0e0e14" stroke-width="0.7" opacity="0.6"/><line x1="705.2" y1="730.8" x2="741.2" y2="730.3" stroke="#0e0e14" stroke-width="0.7" opacity="0.6"/><line x1="705.2" y1="735.6" x2="741.2" y2="735.1" stroke="#0e0e14" stroke-width="0.7" opacity="0.6"/><line x1="705.2" y1="740.4" x2="741.2" y2="739.9" stroke="#0e0e14" stroke-width="0.7" opacity="0.6"/><line x1="705.2" y1="745.2" x2="741.2" y2="744.7" stroke="#0e0e14" stroke-width="0.7" opacity="0.6"/><line x1="705.2" y1="750.0" x2="741.2" y2="749.5" stroke="#0e0e14" stroke-width="0.7" opacity="0.6"/><line x1="705.2" y1="754.8" x2="741.2" y2="754.3" stroke="#0e0e14" stroke-width="0.7" opacity="0.6"/><rect x="747.6" y="635.6" width="31.2" height="36.0" rx="6" fill="#3b3b3b"/><rect x="755.6" y="641.6" width="19.2" height="24.0" rx="3" fill="#2a2a2a"/><circle cx="702.8" cy="670.0" r="1.8" fill="none" stroke="#999" stroke-width="0.6"/><circle cx="702.8" cy="677.2" r="1.8" fill="none" stroke="#999" stroke-width="0.6"/></g>
<g><rect x="836.0" y="167.4" width="186.8" height="196.1" fill="#6d6d6d"/><g clip-path="url(#ctf)"><g filter="url(#blur1)"><rect x="836.0" y="167.4" width="12" height="196.1" fill="url(#ctl)"/><rect x="856" y="167" width="2.5" height="110" fill="#9a9a9a" opacity="0.6"/><ellipse cx="925" cy="245" rx="9" ry="70" fill="#4c4c4c"/><ellipse cx="983" cy="245" rx="8" ry="70" fill="#4c4c4c"/><ellipse cx="906" cy="233" rx="19" ry="44" fill="#7a7a7a"/><ellipse cx="1002.4" cy="235" rx="20" ry="45" fill="#7e7e7e"/><ellipse cx="1000" cy="236" rx="7" ry="18" fill="#6a6a6a"/><rect x="939" y="167" width="32" height="112" fill="#898989"/><rect x="943" y="176.0" width="24" height="2" fill="#9a9a9a"/><rect x="943" y="192.0" width="24" height="2" fill="#9a9a9a"/><rect x="943" y="208.0" width="24" height="2" fill="#9a9a9a"/><rect x="943" y="224.0" width="24" height="2" fill="#9a9a9a"/><rect x="943" y="240.0" width="24" height="2" fill="#9a9a9a"/><rect x="943" y="256.0" width="24" height="2" fill="#9a9a9a"/><rect x="943" y="272.0" width="24" height="2" fill="#9a9a9a"/><ellipse cx="955" cy="300" rx="16" ry="22" fill="#7e7e7e"/><ellipse cx="861.4" cy="174.2" rx="2.5" ry="6.0" fill="#b8b8b8"/><ellipse cx="863.6" cy="214.5" rx="2.5" ry="5.0" fill="#b0b0b0"/><ellipse cx="871.0" cy="261.0" rx="2.5" ry="5.0" fill="#aaaaaa"/><ellipse cx="899.6" cy="345.0" rx="3.0" ry="8.0" fill="#aaaaaa"/><ellipse cx="950.5" cy="323.0" rx="3.0" ry="7.0" fill="#b0b0b0"/><ellipse cx="963.2" cy="323.0" rx="3.0" ry="7.0" fill="#b0b0b0"/><ellipse cx="1014.0" cy="345.0" rx="3.0" ry="8.0" fill="#a8a8a8"/><ellipse cx="905.0" cy="168.0" rx="6.0" ry="4.0" fill="#555"/></g></g><polygon points="836.0,167.4 898.7,105.4 1084.8,105.4 1022.8,167.4" fill="#666"/><g clip-path="url(#ctt)"><g filter="url(#blur1)"><ellipse cx="901.7" cy="158" rx="36" ry="13" fill="#929292"/><ellipse cx="1003.5" cy="156" rx="34" ry="12" fill="#929292"/><rect x="946" y="104" width="18" height="64" fill="#a2a2a0"/></g></g><polygon points="1022.8,167.4 1084.8,105.4 1084.8,303.0 1022.8,363.5" fill="url(#ctrg)"/><g clip-path="url(#ctr)"><g filter="url(#blur1)"><ellipse cx="1037" cy="223" rx="9" ry="26" fill="#5c5c5c"/><ellipse cx="1053" cy="175" rx="2.5" ry="7" fill="#8a8a8a"/><ellipse cx="1051" cy="245" rx="2.5" ry="7" fill="#7a7a7a"/></g></g><line x1="836.0" y1="167.4" x2="1022.8" y2="167.4" stroke="#d0d0d0" stroke-width="1"/><line x1="1022.8" y1="167.4" x2="1084.8" y2="105.4" stroke="#b8b8b8" stroke-width="0.8"/><line x1="836.0" y1="209.7" x2="1084.8" y2="209.7" stroke="#7c7aac" stroke-width="1.6" opacity="0.8"/><line x1="901.3" y1="167.4" x2="901.3" y2="363.5" stroke="#7c7aac" stroke-width="1.6" opacity="0.7"/><path d="M884.0,206.0 C884.7,202.5 887.3,199.0 890.0,197.0 C892.7,195.0 896.7,193.8 900.0,194.0 C903.3,194.2 907.5,196.0 910.0,198.0 C912.5,200.0 914.5,202.8 915.0,206.0 C915.5,209.2 914.7,213.8 913.0,217.0 C911.3,220.2 908.2,223.7 905.0,225.0 C901.8,226.3 897.2,226.2 894.0,225.0 C890.8,223.8 887.7,221.2 886.0,218.0 C884.3,214.8 883.3,209.5 884.0,206.0Z" fill="#d9182f" opacity="0.95"/></g>
<g><polygon points="1145.8,117.2 1268.2,91.4 1397.5,121.3 1370.3,294.1 1277.8,363.5 1177.1,280.5" fill="#e5e8f2"/><g clip-path="url(#roic)"><g filter="url(#blur3)"><polygon points="1148.5,119.9 1268.2,94.1 1394.8,124.0 1367.6,291.4 1277.8,360.7 1179.8,277.8" fill="#e9aebd"/><polygon points="1148.5,119.9 1179.8,277.8 1204.3,296.8 1193.4,171.6 1179.8,117.2" fill="#dcb0d0" opacity="0.6"/><polygon points="1394.8,124.0 1367.6,291.4 1343.1,302.2 1356.7,144.4" fill="#e0b8cc" opacity="0.5"/><ellipse cx="1274" cy="238" rx="104" ry="112" fill="url(#roig)"/><ellipse cx="1270" cy="232" rx="62" ry="68" fill="#ea6f52" opacity="0.55"/><polygon points="1362.1,242.4 1378.4,231.5 1373.0,280.5 1359.4,285.9" fill="#f0d080" opacity="0.5"/><polygon points="1155.3,128.1 1171.6,119.9 1204.3,115.9 1179.8,133.5 1158.0,137.6" fill="#f2d45a" opacity="0.8"/><polygon points="1258.7,122.7 1275.0,114.5 1272.3,136.3 1261.4,139.0" fill="#f0c060" opacity="0.6"/><polygon points="1362.1,144.4 1394.8,125.4 1370.3,291.4 1348.5,285.9" fill="#d8c8e0" opacity="0.5"/></g><rect x="1140" y="90" width="260" height="275" fill="#fff" filter="url(#roiT)" opacity="0.4"/><ellipse cx="1272" cy="236" rx="80" ry="90" fill="#fff" filter="url(#roiW)" opacity="0.33"/></g><g opacity="0.35"><path d="M1171.0 157.8h0M1330.0 125.1h0M1223.1 178.2h0M1200.8 262.0h0M1181.1 173.6h0M1316.6 192.6h0M1267.8 237.1h0M1279.3 149.4h0M1356.3 292.2h0M1258.4 198.3h0M1323.1 118.4h0M1275.6 202.2h0M1313.0 183.2h0M1378.3 159.6h0M1281.6 328.5h0M1294.1 141.1h0M1281.9 97.4h0M1251.8 319.5h0M1276.5 137.4h0M1229.4 272.4h0M1283.0 139.5h0M1215.2 147.6h0M1277.5 196.6h0M1365.8 156.3h0M1379.9 183.2h0M1204.5 267.5h0M1180.2 159.3h0M1234.3 307.8h0M1240.8 146.0h0M1313.8 235.6h0M1241.3 165.7h0M1243.0 105.7h0M1289.0 117.9h0M1161.2 130.0h0M1159.1 167.8h0M1285.5 336.1h0M1245.5 198.2h0M1304.2 164.4h0M1182.2 222.3h0M1356.9 176.3h0M1323.1 255.2h0M1365.8 220.5h0M1318.2 127.1h0M1310.1 155.9h0M1198.8 127.2h0M1253.3 208.5h0M1223.4 116.6h0M1324.8 304.0h0M1202.8 170.2h0M1295.1 224.0h0M1183.4 253.3h0M1350.4 180.4h0M1174.9 134.6h0M1256.9 149.5h0M1212.5 229.7h0M1312.3 285.7h0M1300.0 173.5h0M1308.4 197.1h0M1261.8 162.2h0M1222.9 287.2h0M1290.0 254.9h0M1230.5 290.6h0M1186.8 220.7h0M1221.6 206.8h0M1235.2 122.5h0M1288.8 307.9h0M1207.3 261.7h0M1165.1 154.1h0M1269.4 294.9h0M1318.0 107.7h0M1317.6 282.6h0M1181.5 177.8h0M1366.7 241.4h0M1232.7 289.5h0M1298.8 236.3h0M1303.7 179.8h0M1350.1 208.8h0M1208.9 160.4h0M1173.5 208.2h0M1243.9 252.9h0M1171.2 229.2h0M1301.8 142.7h0M1161.8 166.5h0M1280.8 134.6h0M1219.7 224.7h0M1257.4 152.5h0M1241.7 227.7h0M1291.1 117.6h0M1231.2 251.0h0M1349.9 265.3h0M1160.0 161.9h0M1380.9 145.6h0M1295.8 108.7h0M1343.4 127.5h0M1201.0 223.6h0M1363.1 238.5h0M1374.0 129.4h0M1381.5 130.2h0M1268.3 276.5h0M1211.3 286.2h0M1300.7 160.7h0M1306.3 330.3h0M1242.4 269.5h0M1270.2 116.2h0M1290.9 208.8h0M1325.4 117.0h0M1193.4 229.5h0M1254.8 172.0h0M1288.1 338.8h0M1214.9 221.5h0M1174.3 161.9h0M1222.7 210.3h0M1340.3 123.0h0M1165.2 138.2h0M1256.3 161.5h0M1321.1 169.8h0M1332.1 109.8h0M1262.3 308.8h0M1261.2 302.4h0M1239.4 147.3h0M1260.3 110.6h0M1356.7 213.8h0M1217.0 132.9h0M1225.5 174.6h0M1200.3 272.2h0M1158.9 119.6h0M1363.2 128.4h0" stroke="#ffffff" stroke-width="2.20" stroke-linecap="round" fill="none"/></g><g opacity="0.35"><path d="M1256.1 221.9h0M1245.9 231.9h0M1293.8 290.5h0M1384.3 170.3h0M1323.2 194.2h0M1223.0 291.6h0M1185.9 280.1h0M1217.5 243.9h0M1300.2 147.1h0M1240.5 117.5h0M1372.8 199.1h0M1235.5 187.2h0M1172.9 239.9h0M1268.1 185.8h0M1290.0 179.2h0M1186.0 169.2h0M1205.2 237.1h0M1313.7 329.4h0M1215.0 281.5h0M1225.5 193.5h0M1363.8 244.7h0M1364.7 276.1h0M1360.1 264.6h0M1326.1 115.6h0M1243.6 269.8h0M1189.6 224.1h0M1367.2 151.2h0M1324.7 290.6h0M1260.5 264.2h0M1291.5 279.8h0M1376.0 144.7h0M1380.8 126.6h0M1347.6 135.7h0M1300.4 102.6h0M1161.7 159.8h0M1213.3 288.6h0M1293.9 149.4h0M1326.5 175.0h0M1303.9 291.8h0M1240.9 165.3h0M1324.9 200.4h0M1203.6 136.2h0M1270.6 247.1h0M1294.9 274.7h0M1349.6 159.2h0M1260.5 149.9h0M1346.8 275.1h0M1179.3 227.2h0M1336.6 194.5h0M1163.5 157.2h0M1185.8 232.0h0M1307.7 112.2h0M1198.0 211.4h0M1171.1 169.1h0M1219.9 138.8h0M1328.1 208.3h0M1310.1 313.9h0M1264.4 137.5h0M1313.4 175.2h0M1317.5 175.8h0M1171.8 228.1h0M1278.3 114.6h0M1376.5 122.4h0M1307.8 151.1h0M1308.6 253.9h0M1263.3 183.6h0M1313.8 305.4h0M1364.6 158.2h0M1308.8 145.5h0M1191.0 226.3h0M1188.9 235.4h0M1311.5 185.4h0M1179.1 118.5h0M1225.3 219.7h0M1238.9 196.1h0M1319.5 174.7h0M1253.6 195.8h0M1176.2 213.5h0M1232.0 116.3h0M1227.8 244.5h0M1175.6 223.5h0M1211.1 259.1h0M1334.8 270.0h0M1302.7 197.5h0M1310.5 178.6h0M1370.1 137.5h0M1366.1 127.8h0M1357.4 244.3h0M1280.0 298.3h0M1289.6 330.0h0M1361.8 138.0h0M1268.8 190.3h0M1287.3 239.4h0M1334.9 131.4h0M1290.6 215.6h0M1168.8 142.0h0M1336.9 146.8h0M1348.8 147.8h0M1260.8 175.7h0M1338.9 174.0h0M1286.9 209.0h0M1224.9 148.0h0M1291.2 266.9h0M1292.4 116.5h0M1273.0 133.3h0M1329.8 255.0h0M1231.0 297.9h0M1309.6 172.6h0M1290.9 213.8h0M1213.9 181.9h0M1280.4 199.5h0M1373.9 206.3h0M1348.8 182.0h0M1211.7 164.5h0M1244.3 325.0h0M1367.2 271.4h0M1292.4 215.8h0M1224.3 132.8h0M1370.2 175.5h0M1312.5 325.1h0M1195.4 195.6h0M1193.1 153.8h0M1301.6 309.8h0M1317.6 196.6h0M1324.8 226.1h0M1210.3 169.7h0M1286.5 302.9h0M1318.3 129.9h0M1177.6 238.1h0M1288.0 134.5h0M1178.7 241.5h0M1376.0 222.1h0M1183.9 142.9h0M1384.7 180.5h0M1356.0 232.7h0M1289.8 140.5h0M1220.5 238.8h0" stroke="#d0566a" stroke-width="2.20" stroke-linecap="round" fill="none"/></g><g opacity="0.35"><path d="M1320.6 172.6h0M1311.1 275.9h0M1270.7 320.1h0M1278.1 242.0h0M1198.5 226.2h0M1339.7 199.3h0M1301.6 249.3h0M1208.0 272.3h0M1287.4 270.9h0M1287.8 271.6h0M1342.5 222.3h0M1245.8 189.5h0M1348.7 210.1h0M1256.8 244.0h0M1183.0 260.6h0M1368.7 148.1h0M1236.5 267.8h0M1232.4 210.1h0M1297.0 223.6h0M1272.2 256.5h0M1196.6 227.9h0M1165.7 151.3h0M1340.5 263.7h0M1329.8 239.6h0M1230.8 217.3h0M1316.1 261.5h0M1354.7 205.3h0M1295.1 334.6h0M1222.1 180.9h0M1329.1 173.4h0M1254.1 262.9h0M1371.6 229.1h0M1352.6 142.5h0M1295.9 289.2h0M1163.6 125.8h0M1341.5 193.3h0M1161.2 143.2h0M1244.0 229.2h0M1247.0 246.9h0M1291.5 333.9h0M1324.0 251.2h0M1235.4 146.5h0M1218.8 266.9h0M1240.5 234.2h0M1166.7 201.5h0M1239.5 143.0h0M1255.4 266.2h0M1225.3 152.4h0M1324.1 235.6h0M1263.3 320.7h0M1190.1 221.6h0M1180.5 227.0h0M1168.1 171.1h0M1230.7 108.5h0M1194.6 167.3h0M1275.4 345.5h0M1365.4 275.4h0M1306.1 254.7h0M1168.3 120.8h0M1209.9 165.8h0M1363.1 165.6h0M1230.0 291.2h0M1234.0 269.4h0M1251.6 291.2h0M1247.8 170.8h0M1167.6 174.3h0M1275.2 311.5h0M1276.0 228.4h0M1254.0 220.7h0M1258.4 245.0h0M1289.5 274.3h0M1366.1 220.6h0M1233.1 174.7h0M1354.2 137.0h0M1365.7 152.6h0M1329.4 266.6h0M1291.1 335.1h0M1270.2 214.1h0M1299.6 193.9h0M1376.1 197.2h0M1315.0 284.2h0M1335.4 250.6h0M1262.2 146.5h0M1252.0 204.6h0M1344.4 178.0h0M1227.7 287.7h0M1227.0 304.3h0M1295.5 259.6h0M1259.1 336.8h0M1327.7 257.1h0M1229.9 167.9h0M1192.2 277.9h0M1218.2 159.4h0M1202.5 140.7h0M1279.1 104.0h0M1174.3 246.8h0M1385.7 179.5h0M1268.8 195.2h0M1342.4 265.7h0M1173.3 214.7h0M1297.6 302.2h0M1283.8 352.6h0M1304.8 247.4h0M1208.6 215.0h0M1219.5 216.4h0M1368.0 133.8h0M1285.6 190.6h0M1247.3 279.2h0M1190.4 130.7h0M1374.5 206.6h0M1234.3 278.6h0M1270.6 136.1h0M1351.4 180.8h0M1193.1 216.4h0M1222.4 289.0h0M1290.2 163.0h0M1241.8 241.4h0M1254.9 154.0h0M1325.7 153.4h0M1222.9 128.9h0" stroke="#f4c0c0" stroke-width="2.20" stroke-linecap="round" fill="none"/></g><g opacity="0.35"><path d="M1292.6 119.9h0M1293.4 219.9h0M1350.9 208.6h0M1365.2 122.1h0M1358.2 199.4h0M1334.3 245.2h0M1302.8 255.8h0M1323.5 151.6h0M1283.5 282.1h0M1294.5 272.4h0M1331.6 198.0h0M1350.9 162.2h0M1379.5 128.4h0M1271.3 302.7h0M1233.4 298.8h0M1183.2 125.6h0M1369.0 201.3h0M1263.7 309.1h0M1230.1 131.0h0M1274.9 314.8h0M1362.6 225.7h0M1336.0 226.4h0M1265.0 167.2h0M1180.2 151.4h0M1186.2 150.1h0M1233.0 206.4h0M1214.8 291.4h0M1300.0 175.2h0M1247.9 282.0h0M1178.4 181.1h0M1363.7 228.8h0M1186.1 142.8h0M1333.1 235.4h0M1266.3 321.1h0M1351.3 250.5h0M1358.2 183.0h0M1241.5 272.1h0M1372.1 143.9h0M1260.1 290.6h0M1274.4 182.7h0M1271.5 254.9h0M1182.3 166.7h0M1238.3 298.4h0M1173.9 179.8h0M1338.0 177.1h0M1163.5 138.5h0M1384.3 169.2h0M1304.4 326.1h0M1366.1 122.8h0M1291.5 267.6h0M1293.5 211.2h0M1323.3 244.2h0M1252.2 314.0h0M1358.1 153.1h0M1364.6 286.5h0M1285.7 110.6h0M1337.1 203.7h0M1359.5 223.9h0M1232.7 102.3h0M1280.9 301.5h0M1267.7 349.9h0M1289.3 142.5h0M1280.0 143.3h0M1282.4 277.7h0M1263.9 199.4h0M1156.3 130.6h0M1222.2 291.4h0M1356.1 152.5h0M1241.4 278.5h0M1318.9 161.4h0M1296.6 317.1h0M1364.9 214.1h0M1294.2 276.0h0M1336.1 117.6h0M1280.6 329.3h0M1232.2 316.3h0M1197.8 145.6h0M1337.8 149.0h0M1277.5 246.9h0M1186.6 281.3h0M1225.1 143.6h0M1361.0 130.1h0M1316.7 237.8h0M1334.2 113.0h0M1208.5 128.3h0M1333.7 135.6h0M1203.5 183.5h0M1365.6 125.2h0M1264.2 109.9h0M1349.2 207.0h0M1277.8 212.9h0M1373.4 150.2h0M1343.7 142.1h0M1235.8 147.6h0M1212.2 298.3h0M1234.5 253.0h0M1173.6 161.7h0M1283.6 308.2h0M1210.1 214.7h0M1326.7 304.2h0M1321.1 185.0h0M1175.8 202.5h0M1339.8 250.3h0M1374.6 240.9h0M1295.3 294.0h0M1282.9 99.4h0M1203.2 228.7h0M1206.2 187.2h0M1281.6 100.6h0M1241.8 256.5h0M1340.8 215.7h0" stroke="#c84a5a" stroke-width="2.20" stroke-linecap="round" fill="none"/></g><text x="0" y="0" transform="translate(1129.5 145.8) rotate(-25.0)" font-size="12.5" fill="#4d5870" text-anchor="middle" dominant-baseline="central" style="font-family:&quot;Liberation Sans&quot;">300</text><text x="0" y="0" transform="translate(1136.3 177.0) rotate(-25.0)" font-size="12.5" fill="#4d5870" text-anchor="middle" dominant-baseline="central" style="font-family:&quot;Liberation Sans&quot;">290</text><text x="0" y="0" transform="translate(1143.0 203.0) rotate(-25.0)" font-size="12.5" fill="#4d5870" text-anchor="middle" dominant-baseline="central" style="font-family:&quot;Liberation Sans&quot;">280</text><text x="0" y="0" transform="translate(1148.5 228.8) rotate(-25.0)" font-size="12.5" fill="#4d5870" text-anchor="middle" dominant-baseline="central" style="font-family:&quot;Liberation Sans&quot;">270</text><text x="0" y="0" transform="translate(1155.3 253.3) rotate(-25.0)" font-size="12.5" fill="#4d5870" text-anchor="middle" dominant-baseline="central" style="font-family:&quot;Liberation Sans&quot;">260</text><text x="0" y="0" transform="translate(1160.7 273.7) rotate(-25.0)" font-size="12.5" fill="#4d5870" text-anchor="middle" dominant-baseline="central" style="font-family:&quot;Liberation Sans&quot;">250</text><text x="0" y="0" transform="translate(1114.5 234.2) rotate(0.0)" font-size="12.5" fill="#4d5870" text-anchor="middle" dominant-baseline="central" style="font-family:&quot;Liberation Sans&quot;">z</text><text x="0" y="0" transform="translate(1166.2 290.0) rotate(-35.0)" font-size="12.5" fill="#4d5870" text-anchor="middle" dominant-baseline="central" style="font-family:&quot;Liberation Sans&quot;">110</text><text x="0" y="0" transform="translate(1179.8 303.6) rotate(-35.0)" font-size="12.5" fill="#4d5870" text-anchor="middle" dominant-baseline="central" style="font-family:&quot;Liberation Sans&quot;">120</text><text x="0" y="0" transform="translate(1197.5 318.6) rotate(-35.0)" font-size="12.5" fill="#4d5870" text-anchor="middle" dominant-baseline="central" style="font-family:&quot;Liberation Sans&quot;">130</text><text x="0" y="0" transform="translate(1213.8 336.3) rotate(-35.0)" font-size="12.5" fill="#4d5870" text-anchor="middle" dominant-baseline="central" style="font-family:&quot;Liberation Sans&quot;">140</text><text x="0" y="0" transform="translate(1232.9 352.6) rotate(-35.0)" font-size="12.5" fill="#4d5870" text-anchor="middle" dominant-baseline="central" style="font-family:&quot;Liberation Sans&quot;">150</text><text x="0" y="0" transform="translate(1177.0 349.9) rotate(0.0)" font-size="12.5" fill="#4d5870" text-anchor="middle" dominant-baseline="central" style="font-family:&quot;Liberation Sans&quot;">y</text><text x="0" y="0" transform="translate(1371.6 309.0) rotate(30.0)" font-size="12.5" fill="#4d5870" text-anchor="middle" dominant-baseline="central" style="font-family:&quot;Liberation Sans&quot;">350</text><text x="0" y="0" transform="translate(1355.3 325.4) rotate(30.0)" font-size="12.5" fill="#4d5870" text-anchor="middle" dominant-baseline="central" style="font-family:&quot;Liberation Sans&quot;">360</text><text x="0" y="0" transform="translate(1337.6 343.0) rotate(30.0)" font-size="12.5" fill="#4d5870" text-anchor="middle" dominant-baseline="central" style="font-family:&quot;Liberation Sans&quot;">370</text><text x="0" y="0" transform="translate(1315.9 359.4) rotate(30.0)" font-size="12.5" fill="#4d5870" text-anchor="middle" dominant-baseline="central" style="font-family:&quot;Liberation Sans&quot;">38</text><text x="0" y="0" transform="translate(1375.7 358.0) rotate(0.0)" font-size="12.5" fill="#4d5870" text-anchor="middle" dominant-baseline="central" style="font-family:&quot;Liberation Sans&quot;">x</text></g>
<g><polygon points="1424.6,123.2 1544.1,88.6 1683.8,126.1 1643.5,281.6 1557.1,363.7 1457.7,278.7" fill="#e4e8f2"/><g clip-path="url(#pcc)"><g filter="url(#blur6)"><polygon points="1437.5,126.1 1544.1,97.3 1670.8,134.7 1639.1,278.7 1559.9,356.5 1460.6,274.4" fill="#dcd8e6"/><ellipse cx="1548" cy="218" rx="50" ry="68" fill="#e4dfb0" opacity="0.8"/><ellipse cx="1548" cy="150" rx="40" ry="40" fill="#d8c0e0" opacity="0.6"/></g></g><path d="M1616.0,225.7L1609.9,221.3M1601.2,156.4L1597.8,153.2M1621.3,203.3L1616.9,214.6M1593.6,269.0L1598.9,267.0M1549.0,187.8L1546.5,187.4M1555.1,193.9L1558.9,188.9M1581.4,145.7L1578.9,139.5M1630.6,277.5L1629.9,284.0M1456.9,238.6L1458.1,236.1M1522.7,245.5L1525.6,238.0M1555.1,193.9L1563.2,201.6M1641.6,142.4L1655.5,143.8M1511.8,275.5L1518.1,269.6M1486.2,123.1L1491.1,115.4M1616.0,149.6L1611.8,140.0M1545.9,242.2L1544.1,239.9M1533.2,149.0L1531.5,148.0M1585.1,161.9L1584.3,163.3M1635.1,212.1L1633.8,214.4M1581.0,327.1L1579.1,331.8M1563.0,147.5L1566.1,146.3M1507.1,216.9L1497.7,214.4M1598.7,234.9L1596.0,239.3M1597.9,253.3L1596.9,253.9M1496.6,245.3L1496.7,240.8M1517.0,259.1L1519.0,265.3M1492.4,241.6L1496.6,245.3M1537.7,314.0L1549.2,317.2M1493.8,127.2L1486.2,123.1M1538.6,170.4L1536.9,164.4M1457.4,170.3L1452.7,160.3M1456.9,176.9L1451.1,172.4M1516.6,274.8L1517.2,277.2M1566.9,171.2L1567.2,169.9M1442.2,155.4L1443.7,146.9M1541.2,185.3L1536.2,187.8M1563.9,109.1L1551.4,111.1M1525.3,151.6L1531.5,148.0M1544.6,278.3L1542.4,272.5M1522.7,205.2L1526.4,208.0M1612.9,173.6L1608.0,180.3M1629.4,262.3L1631.8,260.9M1605.4,143.5L1610.5,144.2M1651.0,176.5L1648.3,185.9M1543.7,148.5L1539.7,146.4M1571.2,280.3L1566.7,280.3M1470.1,227.9L1474.9,239.0M1522.3,267.0L1523.4,260.6M1514.4,279.5L1516.6,274.8M1616.0,225.7L1609.0,231.1M1630.1,260.0L1629.4,262.3M1560.0,134.3L1559.1,146.9M1566.9,171.2L1562.3,174.8M1520.0,108.1L1521.3,106.8M1462.8,208.9L1465.1,199.6M1612.2,261.1L1606.9,257.4M1572.5,169.5L1573.9,166.0M1564.7,310.8L1578.1,313.7M1505.9,149.8L1512.0,150.2M1639.2,265.9L1631.8,260.9M1583.3,305.8L1588.4,312.7M1612.9,173.6L1618.9,164.1M1560.9,337.6L1550.7,343.3M1555.4,202.9L1563.2,201.6M1442.2,155.4L1446.2,158.4M1610.3,156.8L1610.2,149.1M1653.8,194.2L1648.7,197.4M1501.8,143.8L1500.4,141.3M1481.7,182.0L1486.3,176.7M1544.0,261.5L1547.5,270.2M1564.1,125.1L1567.0,128.1M1502.0,226.5L1497.7,214.4M1571.3,229.0L1573.2,236.4M1648.7,197.4L1648.3,185.9M1609.0,231.1L1621.2,236.4M1585.1,161.9L1586.0,159.3M1541.2,224.6L1544.2,235.7M1635.9,249.5L1635.0,241.3M1455.7,194.3L1449.8,195.3M1551.6,178.8L1550.4,169.0M1596.9,253.9L1591.0,258.6M1463.2,146.9L1464.0,160.1M1537.3,156.8L1530.9,157.2M1548.2,103.6L1560.1,102.2M1600.6,182.9L1590.0,176.2M1643.4,242.3L1645.2,236.1M1646.9,151.1L1642.4,152.4M1621.2,236.4L1616.9,248.2M1616.4,230.4L1624.6,229.5M1582.3,196.2L1587.9,186.6M1635.0,241.3L1633.1,239.8M1551.6,298.6L1548.8,289.2M1528.4,312.3L1524.2,318.7M1601.2,156.4L1603.5,151.3M1481.9,224.4L1483.9,236.6M1662.2,153.6L1661.0,152.3M1630.9,271.6L1630.6,277.5M1578.3,256.5L1580.4,247.9M1639.2,265.9L1633.4,259.7M1566.1,212.9L1569.4,201.2M1566.5,179.4L1576.0,179.0M1472.2,242.7L1467.4,236.5M1610.3,156.8L1618.0,157.3M1487.0,136.5L1493.8,127.2M1544.6,278.3L1553.6,277.2M1608.1,281.0L1605.3,279.9M1537.7,314.0L1546.4,322.2M1604.6,135.0L1601.1,146.8M1461.2,255.2L1459.2,245.0M1563.0,147.5L1563.8,148.7M1611.7,208.3L1621.3,203.3M1507.4,191.6L1516.4,194.0M1625.5,250.2L1616.9,248.2M1578.3,256.5L1591.0,258.6M1573.4,148.1L1585.0,153.4M1496.5,113.7L1495.1,114.7M1651.0,176.5L1650.1,165.9M1593.7,160.3L1600.3,165.2M1604.5,269.9L1606.1,263.2M1599.7,216.0L1601.2,219.1M1635.9,249.5L1628.6,246.5M1610.2,149.1L1613.2,149.3M1629.3,168.4L1627.5,168.7M1518.4,156.4L1525.3,151.6M1604.6,135.0L1600.9,127.8M1609.4,274.4L1604.5,269.9M1527.7,120.6L1524.1,114.3M1472.2,242.7L1460.1,239.2M1465.6,139.5L1458.0,140.7M1658.9,162.4L1660.7,154.1M1651.0,176.5L1657.6,177.3M1560.7,267.7L1563.7,262.9M1558.2,256.4L1563.7,262.9M1496.5,259.3L1496.9,250.6M1566.3,144.5L1567.2,145.2M1573.4,148.1L1567.2,145.2M1539.6,176.6L1538.6,170.4M1594.1,163.5L1594.0,170.0M1509.0,209.8L1518.6,203.6M1568.4,139.5L1566.3,144.5M1493.8,127.2L1500.1,131.3M1583.3,305.8L1583.4,301.8M1643.4,242.3L1635.0,241.3M1571.7,120.4L1573.4,126.2M1455.7,194.3L1453.9,188.6M1629.0,268.9L1624.9,266.4M1609.9,221.3L1605.2,225.3M1503.2,136.6L1506.4,135.9M1534.4,106.5L1529.1,107.1M1540.4,269.8L1546.1,270.8M1616.0,149.6L1621.8,141.3M1546.5,187.4L1540.0,189.3M1533.8,161.0L1536.9,164.4M1483.7,292.5L1478.8,286.5M1494.1,228.6L1483.9,236.6M1478.1,141.9L1478.5,140.5M1492.4,241.6L1488.1,245.9M1482.1,168.8L1489.3,163.1M1504.3,171.7L1500.8,183.7M1584.6,127.7L1579.4,131.7M1630.9,271.6L1629.0,268.9M1543.7,148.5L1547.0,152.6M1616.0,149.6L1620.8,151.7M1609.4,146.9L1609.1,148.6M1562.7,132.6L1565.2,135.4M1605.8,141.3L1611.8,140.0M1507.3,269.6L1495.4,268.6M1525.3,162.7L1530.9,157.2M1522.6,219.4L1518.4,214.5M1541.6,214.3L1545.0,206.8M1601.1,303.3L1606.1,303.4M1641.6,225.6L1637.6,230.4M1567.2,121.5L1574.4,112.8M1526.8,177.2L1523.2,181.2M1500.1,131.3L1500.4,141.3M1623.9,258.9L1629.4,262.3M1538.2,209.7L1545.0,206.8M1463.7,195.9L1468.1,190.8M1522.3,267.0L1521.4,262.2M1459.3,208.1L1462.8,208.9M1597.8,153.2L1593.7,160.3M1501.8,143.8L1496.9,150.8M1622.3,213.5L1624.6,215.2M1640.2,215.6L1637.9,219.8M1622.5,274.1L1629.0,268.9M1546.4,322.2L1551.7,322.7M1584.6,127.7L1592.3,127.4M1517.7,206.9L1526.4,208.0M1599.9,203.6L1596.1,211.2M1581.3,277.8L1585.4,275.3M1566.4,287.7L1567.7,294.5M1550.4,126.4L1560.0,134.3M1579.4,135.8L1587.1,130.3M1441.3,136.1L1443.7,146.9M1597.2,261.6L1591.0,258.6M1549.4,286.2L1554.7,279.0M1542.4,272.5L1538.4,273.6M1540.9,212.3L1538.2,209.7M1660.6,136.0L1652.6,133.9M1529.6,254.6L1522.0,256.3M1593.7,160.3L1585.0,153.4M1566.3,144.5L1560.0,134.3M1594.1,163.5L1593.7,160.3M1586.9,284.5L1595.4,284.9M1620.4,291.9L1616.0,301.1M1643.6,198.3L1638.3,201.8M1568.4,139.5L1579.4,131.7M1544.1,239.9L1542.3,245.4M1583.1,174.8L1572.5,169.5M1480.9,189.2L1475.9,181.0M1559.9,221.2L1563.6,217.9M1544.1,239.9L1546.4,236.8M1528.3,109.1L1532.5,120.4M1587.2,171.2L1590.0,176.2M1635.1,212.1L1638.3,201.8M1595.4,202.2L1597.2,202.7M1456.0,205.9L1449.8,195.3M1442.7,132.8L1450.4,134.7M1518.9,306.5L1518.7,306.2M1573.4,148.1L1581.4,145.7M1483.9,236.6L1478.9,227.4M1550.0,152.2L1547.0,152.6M1573.2,236.4L1566.7,242.9M1502.1,257.8L1502.2,249.3M1494.5,204.5L1497.8,196.6M1597.2,261.6L1598.9,267.0M1626.3,224.7L1627.0,229.2M1546.9,153.4L1547.0,152.6M1493.0,293.8L1496.8,293.0M1637.6,230.4L1638.5,234.3M1592.4,245.4L1591.0,258.6M1608.8,183.4L1606.4,184.6M1536.2,187.8L1527.6,181.9M1621.6,281.8L1622.5,274.1M1486.8,214.6L1481.9,224.4M1478.3,236.5L1477.8,239.0M1540.7,153.3L1539.7,146.4M1636.2,225.7L1637.9,219.8M1590.2,161.4L1594.1,163.5M1491.4,216.0L1497.7,214.4M1581.2,245.8L1573.2,236.4M1482.1,168.8L1475.9,181.0M1485.2,174.4L1486.3,176.7M1554.8,118.9L1563.9,109.1M1541.2,246.1L1535.0,238.1M1642.4,171.2L1651.0,176.5M1582.3,196.2L1581.6,198.1M1497.7,123.8L1491.1,115.4M1544.3,286.1L1548.8,289.2M1525.3,162.7L1533.8,161.0M1517.9,240.3L1515.9,237.0M1522.0,256.3L1523.3,258.9M1563.8,148.7L1559.1,146.9M1586.9,284.5L1581.3,277.8M1534.1,196.7L1536.2,187.8M1597.2,261.6L1597.9,253.3M1597.5,240.8L1605.0,249.8M1596.0,239.3L1595.2,245.7M1544.2,235.7L1546.4,236.8M1633.8,214.4L1624.6,215.2M1460.1,239.2L1458.1,236.1M1609.7,282.2L1613.7,279.8M1616.9,248.2L1605.0,249.8M1606.9,257.4L1610.8,256.5M1593.5,221.4L1596.6,219.1M1553.6,277.2L1554.7,279.0M1540.9,212.3L1539.7,215.3M1618.9,164.1L1612.1,169.0M1592.3,127.4L1587.1,130.3M1493.0,294.2L1489.4,293.0M1622.8,244.5L1623.8,237.6M1441.4,133.1L1442.7,132.8M1521.9,199.4L1518.6,203.6M1464.0,160.1L1472.7,149.3M1496.7,240.8L1498.7,247.3M1551.6,178.8L1546.2,183.9M1490.0,265.5L1495.4,268.6M1488.1,245.9L1486.3,246.2M1643.6,198.3L1637.0,189.0M1549.0,187.8L1556.7,180.2M1583.4,301.8L1586.9,300.0M1564.1,125.1L1560.0,134.3M1623.7,185.7L1620.3,194.2M1630.9,271.6L1639.2,265.9M1609.0,231.1L1598.7,234.9M1629.3,168.4L1630.5,162.2M1546.9,153.4L1540.7,153.3M1459.0,138.0L1450.4,134.7M1541.2,246.1L1547.3,252.5M1509.6,232.6L1514.3,245.2M1502.1,257.8L1507.3,262.3M1583.1,174.8L1582.1,168.2M1590.2,161.4L1584.3,163.3M1557.3,318.3L1551.6,320.3M1626.0,246.5L1625.5,250.2M1658.1,164.1L1650.1,165.9M1439.9,132.0L1442.7,132.8M1449.9,146.6L1443.7,146.9M1531.0,261.8L1528.1,256.8M1610.3,156.8L1613.2,149.3M1542.2,136.0L1539.7,146.4M1492.4,241.6L1496.7,240.8M1554.8,118.9L1550.4,126.4M1627.5,168.7L1618.9,164.1M1455.8,142.2L1463.2,146.9M1622.8,244.5L1626.0,246.5M1472.2,242.7L1474.9,239.0M1516.3,145.6L1521.5,144.5M1543.3,200.7L1534.8,196.2M1646.2,197.8L1643.6,198.3M1497.0,212.7L1509.0,209.8M1547.3,252.5L1552.4,254.6M1486.3,127.0L1493.8,127.2M1451.1,172.4L1448.1,179.3M1579.1,331.8L1577.9,324.1M1507.4,191.6L1501.9,190.9M1655.5,143.8L1652.6,133.9M1574.4,112.8L1563.9,109.1M1636.2,225.7L1637.6,230.4M1638.0,139.6L1636.3,139.3M1540.4,269.8L1544.0,261.5M1502.0,226.5L1496.7,236.0M1524.1,114.3L1525.8,119.3M1593.5,221.4L1596.0,220.4M1546.1,270.8L1547.5,270.2M1633.1,149.5L1626.4,157.0M1525.8,152.7L1518.4,156.4M1537.2,190.0L1536.2,187.8M1496.5,259.3L1495.4,268.6M1509.0,209.8L1507.1,216.9M1505.9,149.8L1512.0,157.1M1458.7,233.6L1470.1,227.9M1660.6,136.0L1655.5,143.8M1500.8,183.7L1491.1,183.1M1549.0,187.8L1546.2,183.9M1541.9,276.3L1538.4,273.6M1517.9,240.3L1514.3,245.2M1573.4,148.1L1571.7,156.3M1502.1,257.8L1507.2,257.5M1610.8,169.4L1600.3,165.2M1516.6,274.8L1521.8,271.1M1491.0,160.6L1489.3,163.1M1464.6,171.8L1466.4,161.1M1578.0,200.5L1568.0,192.9M1553.6,277.2L1551.7,273.0M1622.0,221.9L1616.9,214.6M1470.7,168.0L1466.4,161.1M1598.1,299.6L1590.2,306.8M1607.8,253.7L1616.9,248.2M1474.1,162.0L1476.0,148.3M1540.7,153.3L1547.0,152.6M1513.0,133.8L1513.2,139.0M1534.1,196.7L1534.0,197.9M1625.9,126.9L1623.6,130.8M1497.0,212.7L1494.5,204.5M1480.4,205.7L1470.4,199.6M1613.8,215.3L1606.5,210.7M1661.0,152.3L1655.3,157.1M1516.3,155.8L1518.4,156.4M1460.1,239.2L1459.2,245.0M1540.3,223.6L1541.6,214.3M1504.3,171.7L1501.6,167.8M1612.9,173.6L1612.1,169.0M1624.0,256.3L1617.0,259.9M1481.9,224.4L1476.8,212.4M1621.8,141.3L1620.8,151.7M1653.8,194.2L1648.3,185.9M1630.1,260.0L1631.8,260.9M1544.1,239.9L1549.4,238.9M1476.5,122.4L1467.2,127.6M1510.3,124.6L1513.0,133.8M1630.9,271.6L1628.8,274.6M1593.8,287.6L1600.3,289.7M1522.3,172.7L1523.2,181.2M1542.4,272.5L1541.9,276.3M1474.1,162.0L1470.7,168.0M1441.3,136.1L1447.5,139.2M1486.3,251.7L1479.7,247.2M1597.2,261.6L1592.1,264.5M1546.9,153.4L1543.0,160.8M1572.5,169.5L1566.9,171.2M1546.5,187.4L1542.8,193.7M1551.4,111.1L1559.3,105.5M1523.3,258.9L1528.1,256.8M1574.4,112.8L1582.0,122.8M1528.9,328.2L1526.1,324.2M1626.4,157.0L1620.8,151.7M1564.7,310.8L1571.0,304.9M1546.5,187.4L1541.2,185.3M1486.3,251.7L1478.6,252.8M1522.7,245.5L1517.9,240.3M1635.9,249.5L1643.4,242.3M1505.9,149.8L1494.6,156.5M1600.6,182.9L1608.0,180.3M1600.0,186.7L1587.9,186.6M1614.6,121.5L1623.6,130.8M1480.9,189.2L1487.9,197.1M1538.6,170.4L1526.8,177.2M1631.3,141.7L1621.8,141.3M1637.6,230.4L1627.0,229.2M1581.8,289.6L1585.3,288.6M1623.8,237.6L1633.1,239.8M1458.7,233.6L1458.1,236.1M1566.4,287.7L1566.7,280.3M1509.5,126.4L1502.3,126.2M1497.7,123.8L1496.5,113.7M1577.3,142.3L1581.4,145.7M1483.7,292.5L1495.4,297.3M1489.5,224.1L1491.4,216.0M1478.5,140.5L1487.0,136.5M1633.8,214.4L1637.9,219.8M1536.2,187.8L1523.7,186.2M1563.6,217.9L1571.3,229.0M1495.5,274.4L1487.2,269.0M1597.3,149.8L1585.0,153.4M1630.5,162.2L1626.4,157.0M1566.9,171.2L1566.5,179.4M1573.4,126.2L1582.0,122.8M1459.3,208.1L1465.1,199.6M1619.3,253.6L1624.0,256.3M1537.3,156.8L1536.9,164.4M1616.0,149.6L1618.0,157.3M1479.7,247.2L1478.6,252.8M1474.1,269.3L1487.2,269.0M1496.8,293.0L1497.8,281.6M1526.4,208.0L1518.4,214.5M1556.7,230.2L1559.9,221.2M1556.4,347.3L1557.7,351.8M1585.3,288.6L1586.9,300.0M1657.5,175.8L1650.1,165.9M1515.8,105.5L1529.1,107.1M1488.7,146.8L1493.4,140.7M1455.7,194.3L1463.7,195.9M1516.7,287.5L1518.1,286.9M1646.2,197.8L1648.7,197.4M1535.5,336.0L1528.9,328.2M1518.9,306.5L1524.5,302.3M1591.3,269.3L1592.1,264.5M1620.4,291.9L1614.3,287.7M1484.6,256.8L1483.0,255.4M1516.3,155.8L1516.3,145.6M1564.1,125.1L1562.7,132.6M1456.7,200.2L1459.3,208.1M1537.7,314.0L1528.4,312.3M1442.2,155.4L1445.4,153.5M1593.7,160.3L1587.1,160.2M1517.0,259.1L1521.4,262.2M1481.7,182.0L1485.2,174.4M1562.1,281.7L1554.7,279.0M1579.7,180.7L1576.0,179.0M1501.8,143.8L1491.5,146.6M1629.4,262.3L1629.0,268.9M1596.0,220.4L1596.6,219.1M1488.1,245.9L1483.9,236.6M1527.7,120.6L1525.8,119.3M1517.2,277.2L1524.4,277.2M1550.4,126.4L1547.1,129.1M1489.4,293.0L1495.4,297.3M1536.0,132.0L1545.0,132.1M1489.9,208.7L1491.4,216.0M1482.7,126.7L1476.5,122.4M1626.0,246.5L1627.7,247.3M1483.7,292.5L1474.1,285.4M1539.7,215.3L1531.5,225.5M1601.2,219.1L1596.6,219.1M1590.2,161.4L1587.1,160.2M1608.3,194.1L1613.3,186.8M1599.7,216.0L1596.1,211.2M1546.7,169.4L1540.4,164.1M1455.4,222.0L1453.1,223.7M1616.4,189.2L1620.1,185.6M1500.1,131.3L1493.4,140.7M1610.5,144.2L1611.8,140.0M1592.3,127.4L1582.0,122.8M1550.7,343.3L1556.4,347.3M1554.2,289.0L1554.7,279.0M1604.5,269.9L1593.6,269.0M1491.5,286.3L1490.3,289.2M1500.3,127.2L1502.3,126.2M1586.9,284.5L1585.4,275.3M1604.0,175.0L1600.3,165.2M1495.4,297.3L1496.8,293.0M1639.2,265.9L1629.0,268.9M1525.7,271.1L1538.4,273.6M1588.4,312.7L1583.0,322.3M1583.3,305.8L1578.1,313.7M1596.0,220.4L1605.2,225.3M1527.7,120.6L1532.5,120.4M1564.8,317.4L1578.1,313.7M1575.2,201.2L1569.4,201.2M1622.3,213.5L1616.9,214.6M1449.9,146.6L1447.5,139.2M1606.5,210.7L1611.7,208.3M1582.2,190.8L1587.9,186.6M1601.2,219.1L1605.2,225.3M1539.6,176.6L1541.2,185.3M1510.6,259.5L1507.3,262.3M1637.0,189.0L1648.3,185.9M1540.7,153.3L1537.3,156.8M1466.4,161.1L1459.8,167.3M1549.4,238.9L1554.4,239.2M1556.7,180.2L1562.3,174.8M1458.6,156.5L1445.4,153.5M1478.3,236.5L1483.9,236.6M1598.7,234.9L1592.7,236.8M1491.1,183.1L1501.9,190.9M1599.8,296.1L1601.1,303.3M1546.7,339.5L1550.7,343.3M1613.7,301.5L1606.1,303.4M1628.8,274.6L1622.5,274.1M1520.0,108.1L1524.1,114.3M1525.3,162.7L1536.9,164.4M1509.0,209.8L1497.7,214.4M1517.0,259.1L1522.0,256.3M1546.7,169.4L1538.6,170.4M1611.8,173.7L1608.0,180.3M1625.5,250.2L1627.7,247.3M1471.8,147.6L1472.7,149.3M1630.2,256.3L1630.1,260.0M1618.0,157.3L1620.8,151.7M1581.7,292.3L1576.8,301.4M1540.0,189.3L1541.2,185.3M1626.2,132.7L1633.6,141.3M1452.7,160.3L1446.2,158.4M1540.7,153.3L1543.0,160.8M1630.2,256.3L1625.5,250.2M1623.7,185.7L1631.0,190.3M1507.5,132.7L1513.0,133.8M1593.8,287.6L1585.3,288.6M1617.0,259.9L1624.9,266.4M1562.1,281.7L1554.2,289.0M1567.2,121.5L1563.9,109.1M1461.8,126.8L1453.5,124.1M1633.1,149.5L1630.5,162.2M1494.6,156.5L1488.7,146.8M1597.3,149.8L1597.8,153.2M1453.9,188.6L1456.0,180.0M1483.7,292.5L1487.3,290.7M1527.5,318.1L1539.1,325.3M1571.2,280.3L1566.4,287.7M1477.1,119.4L1488.9,112.6M1510.6,259.5L1507.2,257.5M1620.3,194.2L1631.0,190.3M1521.6,189.2L1523.2,181.2M1579.7,180.7L1587.9,186.6M1496.6,245.3L1492.1,249.5M1640.2,215.6L1633.8,214.4M1566.1,212.9L1563.2,201.6M1502.1,257.8L1496.5,259.3M1612.9,173.6L1620.1,185.6M1505.5,141.0L1513.2,139.0M1541.2,246.1L1542.3,245.4M1605.3,279.9L1608.3,278.9M1544.4,224.2L1541.6,214.3M1546.4,322.2L1551.6,320.3M1612.2,261.1L1610.8,256.5M1594.0,170.0L1590.0,176.2M1610.2,149.1L1609.1,148.6M1493.9,114.6L1495.1,114.7M1510.6,259.5L1519.0,265.3M1489.9,208.7L1495.7,213.5M1471.8,147.6L1465.6,139.5M1536.0,132.0L1525.3,127.5M1496.9,250.6L1500.3,256.3M1597.2,202.7L1599.2,198.1M1515.9,237.0L1514.3,245.2M1630.5,162.2L1618.9,164.1M1556.7,230.2L1554.4,239.2M1516.3,155.8L1512.0,150.2M1531.5,225.5L1541.2,224.6M1609.7,282.2L1608.3,278.9M1486.3,246.2L1477.8,239.0M1584.1,262.5L1591.0,258.6M1606.5,210.7L1599.9,203.6M1535.0,238.1L1542.3,245.4M1546.7,169.4L1543.0,160.8M1470.7,207.0L1470.4,199.6M1489.4,293.0L1487.3,290.7M1534.5,207.4L1543.3,200.7M1455.8,142.2L1450.4,134.7M1526.7,320.3L1526.1,324.2M1572.5,169.5L1576.0,179.0M1584.1,262.5L1578.3,256.5M1563.2,201.6L1569.4,201.2M1534.1,279.2L1525.7,271.1M1546.1,270.8L1544.0,261.5M1599.9,203.6L1605.3,204.0M1590.2,161.4L1585.1,161.9M1558.9,188.9L1569.0,186.6M1609.1,295.7L1612.1,293.2M1517.9,240.3L1525.6,238.0M1448.1,179.3L1456.0,180.0M1633.1,149.5L1633.6,141.3M1579.4,131.7L1587.1,130.3M1534.1,279.2L1541.9,276.3M1543.7,148.5L1550.0,152.2M1616.0,149.6L1613.2,149.3M1459.0,138.0L1458.0,140.7M1589.3,244.4L1596.0,239.3M1635.0,241.3L1628.6,246.5M1563.0,147.5L1566.3,144.5M1542.4,272.5L1546.1,270.8M1630.2,256.3L1624.0,256.3M1544.3,286.1L1544.6,278.3M1559.9,221.2L1561.5,217.5M1592.3,127.4L1600.9,127.8M1601.1,303.3L1598.1,299.6M1608.1,281.0L1609.7,282.2M1606.5,210.7L1596.1,211.2M1577.3,142.3L1578.9,139.5M1613.3,186.8L1608.0,180.3M1544.3,286.1L1534.1,279.2M1598.9,267.0L1604.4,262.6M1536.5,329.5L1528.9,328.2M1455.4,222.0L1458.7,233.6M1489.9,208.7L1494.5,204.5M1518.4,156.4L1517.3,167.9M1579.4,135.8L1568.4,139.5M1662.2,153.6L1664.2,163.1M1537.2,190.0L1534.8,196.2M1507.5,132.7L1500.1,131.3M1599.8,296.1L1606.1,303.4M1496.6,245.3L1498.7,247.3M1655.5,143.8L1661.0,152.3M1658.9,162.4L1655.3,157.1M1507.4,191.6L1497.8,196.6M1599.2,198.1L1608.3,194.1M1586.9,284.5L1585.3,288.6M1592.1,264.5L1592.4,261.4M1480.4,205.7L1476.8,212.4M1522.6,219.4L1514.1,219.4M1531.5,148.0L1521.5,144.5M1626.4,157.0L1618.0,157.3M1453.9,188.6L1449.8,195.3M1567.2,169.9L1573.9,166.0M1581.7,292.3L1586.9,300.0M1626.2,132.7L1623.6,130.8M1539.7,215.3L1541.6,214.3M1478.5,140.5L1488.7,146.8M1522.7,205.2L1521.9,199.4M1621.6,281.8L1630.6,277.5M1597.3,149.8L1603.5,151.3M1503.2,136.6L1500.4,141.3M1610.3,156.8L1610.8,169.4M1513.0,133.8L1525.3,127.5M1581.2,245.8L1575.8,235.7M1614.3,287.7L1613.7,279.8M1627.0,229.2L1633.1,239.8M1557.3,318.3L1549.2,317.2M1542.2,136.0L1536.0,132.0M1604.6,135.0L1611.8,140.0M1534.1,279.2L1524.4,277.2M1495.5,274.4L1497.8,281.6M1492.1,249.5L1496.9,250.6M1581.7,292.3L1585.3,288.6M1596.6,219.1L1596.1,211.2M1593.8,287.6L1598.1,299.6M1528.3,109.1L1521.3,106.8M1604.2,279.9L1603.7,289.1M1630.9,271.6L1640.2,269.2M1518.4,156.4L1516.3,145.6M1546.9,153.4L1550.0,152.2M1610.8,169.4L1611.8,173.7M1523.4,260.6L1521.4,262.2M1562.3,174.8L1559.6,171.9M1630.2,256.3L1627.7,247.3M1594.6,314.5L1588.4,312.7M1525.7,271.1L1521.8,271.1M1508.9,167.1L1517.3,167.9M1608.1,281.0L1608.3,278.9M1604.5,269.9L1604.4,262.6M1565.2,135.4L1567.0,128.1M1478.1,141.9L1465.6,139.5M1534.8,196.2L1541.4,191.8M1494.4,235.7L1494.5,238.8M1633.1,149.5L1641.6,142.4M1486.8,214.6L1491.4,216.0M1471.8,147.6L1463.2,146.9M1555.1,193.9L1555.4,202.9M1460.1,239.2L1458.7,233.6M1474.1,285.4L1478.8,286.5M1494.1,228.6L1496.7,236.0M1545.9,242.2L1554.4,239.2M1481.9,224.4L1488.5,218.7M1449.9,146.6L1445.4,153.5M1623.9,258.9L1630.1,260.0M1476.5,122.4L1477.1,119.4M1571.2,280.3L1581.3,277.8M1488.7,146.8L1476.0,148.3M1452.7,160.3L1459.8,167.3M1493.9,114.6L1488.9,112.6M1582.8,286.0L1581.3,277.8M1622.5,274.1L1609.4,274.4M1522.7,205.2L1517.7,206.9M1525.7,271.1L1524.4,277.2M1594.6,314.5L1595.5,317.3M1619.3,253.6L1616.9,248.2M1604.2,279.9L1600.3,289.7M1571.7,156.3L1573.9,166.0M1496.7,240.8L1502.2,249.3M1489.9,208.7L1486.8,214.6M1489.4,293.0L1493.0,293.8M1502.2,249.3L1496.9,250.6M1548.2,103.6L1551.4,111.1M1566.9,171.2L1559.6,171.9M1477.8,239.0L1483.9,236.6M1486.8,185.5L1486.3,176.7M1517.0,196.8L1518.6,203.6M1616.0,225.7L1624.6,229.5M1642.4,171.2L1650.1,165.9M1496.5,259.3L1492.1,249.5M1549.0,187.8L1542.8,193.7M1551.7,273.0L1547.5,270.2M1505.9,149.8L1501.8,143.8M1489.3,163.1L1501.6,167.8M1633.6,141.3L1632.0,148.1M1531.0,261.8L1544.0,261.5M1494.1,228.6L1489.5,224.1M1646.2,197.8L1648.3,185.9M1543.3,200.7L1534.0,197.9M1462.8,208.9L1468.3,204.3M1535.0,238.1L1525.6,238.0M1474.1,269.3L1481.6,259.0M1605.4,143.5L1605.8,141.3M1474.2,259.4L1481.6,259.0M1544.3,286.1L1549.4,286.2M1629.3,168.4L1638.0,173.8M1568.4,139.5L1565.2,135.4M1502.2,249.3L1507.2,257.5M1521.6,189.2L1521.9,199.4M1495.5,274.4L1507.3,269.6M1631.8,260.9L1629.0,268.9M1567.2,121.5L1567.0,128.1M1642.4,152.4L1648.1,163.4M1511.8,275.5L1512.9,281.7M1599.8,296.1L1603.7,289.1M1622.3,213.5L1621.3,203.3M1510.3,124.6L1507.7,110.9M1575.2,201.2L1568.0,192.9M1567.2,169.9L1559.6,171.9M1613.8,215.3L1616.9,214.6M1497.8,281.6L1508.5,285.8M1626.2,132.7L1631.3,141.7M1567.9,264.3L1560.7,267.7M1456.7,200.2L1449.8,195.3M1587.9,186.6L1590.0,176.2M1571.7,120.4L1582.0,122.8M1646.9,151.1L1655.5,143.8M1587.2,171.2L1594.0,170.0M1521.8,271.1L1522.3,267.0M1464.6,171.8L1459.8,167.3M1640.2,215.6L1638.3,201.8M1599.7,216.0L1606.5,210.7M1581.8,289.6L1572.0,290.3M1472.2,242.7L1459.2,245.0M1464.0,160.1L1458.6,156.5M1601.1,146.8L1603.5,151.3M1518.7,306.2L1508.2,303.8M1551.6,178.8L1544.0,173.8M1441.3,136.1L1442.7,132.8M1595.4,284.9L1604.2,279.9M1531.5,148.0L1539.7,146.4M1439.9,132.0L1441.4,133.1M1583.4,301.8L1576.8,301.4M1584.1,262.5L1592.1,264.5M1455.7,194.3L1456.7,200.2M1613.7,301.5L1616.0,301.1M1609.4,274.4L1606.1,263.2M1562.6,323.8L1560.0,329.0M1482.7,126.7L1486.2,123.1M1492.4,241.6L1494.5,238.8M1544.3,286.1L1541.9,276.3M1568.0,192.9L1563.2,201.6M1655.5,143.8L1655.3,157.1M1474.1,162.0L1466.4,161.1M1622.8,244.5L1621.0,244.4M1489.5,224.1L1483.9,236.6M1528.3,109.1L1529.1,107.1M1519.0,265.3L1507.3,269.6M1468.1,190.8L1470.4,199.6M1623.8,237.6L1624.6,229.5M1560.5,211.2L1559.1,205.8M1658.1,164.1L1657.5,175.8M1495.7,213.5L1497.7,214.4M1477.8,239.0L1474.9,239.0M1578.1,313.7L1571.0,304.9M1643.4,242.3L1638.5,234.3M1526.1,324.2L1524.2,318.7M1494.6,156.5L1501.6,167.8M1455.8,142.2L1449.9,146.6M1488.9,112.6L1491.1,115.4M1483.0,255.4L1481.6,259.0M1568.4,139.5L1578.9,139.5M1623.7,185.7L1624.5,174.9M1496.5,113.7L1493.9,114.6M1502.2,249.3L1498.7,247.3M1540.3,223.6L1531.5,225.5M1551.6,320.3L1551.7,322.7M1599.8,296.1L1600.3,289.7M1551.6,298.6L1540.0,301.4M1465.6,139.5L1463.2,146.9M1604.0,175.0L1611.8,173.7M1619.3,253.6L1610.8,256.5M1578.0,200.5L1582.2,190.8M1589.3,244.4L1580.4,247.9M1579.4,131.7L1582.0,122.8M1623.9,258.9L1624.0,256.3M1522.7,245.5L1522.0,256.3M1582.8,286.0L1571.2,280.3M1502.2,249.3L1514.3,245.2M1550.4,169.0L1544.0,173.8M1494.1,228.6L1502.0,226.5M1544.6,278.3L1549.4,286.2M1461.8,126.8L1467.2,127.6M1543.3,200.7L1542.8,193.7M1468.3,204.3L1470.4,199.6M1587.2,171.2L1582.1,168.2M1537.7,314.0L1527.5,318.1M1523.4,260.6L1528.1,256.8M1496.8,293.0L1508.5,285.8M1554.8,118.9L1567.2,121.5M1604.5,269.9L1604.2,279.9M1515.9,237.0L1525.6,238.0M1467.4,236.5L1460.1,239.2M1480.9,189.2L1468.1,190.8M1664.2,163.1L1660.7,154.1M1479.8,256.1L1481.6,259.0M1474.1,162.0L1482.1,168.8M1633.6,141.3L1636.3,139.3M1489.9,208.7L1487.9,197.1M1606.9,257.4L1606.1,263.2M1522.3,172.7L1525.3,162.7M1546.5,187.4L1541.4,191.8M1486.3,246.2L1483.9,236.6M1497.0,212.7L1497.7,214.4M1484.6,256.8L1481.6,259.0M1566.1,212.9L1563.6,217.9M1546.8,260.6L1547.5,270.2M1529.1,107.1L1521.3,106.8M1521.6,189.2L1516.4,194.0M1592.1,264.5L1593.6,269.0M1600.9,175.2L1604.0,175.0M1573.4,148.1L1577.3,142.3M1516.3,155.8L1512.0,157.1M1493.8,127.2L1500.3,127.2M1482.7,126.7L1486.3,127.0M1593.8,287.6L1586.9,284.5M1540.7,153.3L1543.7,148.5M1550.0,152.2L1559.1,146.9M1470.7,207.0L1476.8,212.4M1579.7,180.7L1590.0,176.2M1548.7,342.2L1546.7,339.5M1464.6,171.8L1456.9,176.9M1528.9,328.2L1526.7,320.3M1519.0,265.3L1522.3,267.0M1474.2,259.4L1478.6,252.8M1512.0,157.1L1517.3,167.9M1566.5,179.4L1569.0,186.6M1566.1,212.9L1560.5,211.2M1596.6,219.1L1591.7,215.3M1564.8,317.4L1557.3,318.3M1544.6,278.3L1551.7,273.0M1494.4,235.7L1496.7,236.0M1646.2,197.8L1637.0,189.0M1474.2,259.4L1461.2,255.2M1475.9,181.0L1485.2,174.4M1516.7,287.5L1508.5,285.8M1650.1,165.9L1655.3,157.1M1566.5,179.4L1562.3,174.8M1581.2,245.8L1580.4,247.9M1616.0,149.6L1610.3,156.8M1623.7,185.7L1620.1,185.6M1489.3,163.1L1485.2,174.4M1616.4,189.2L1613.3,186.8M1529.6,254.6L1528.1,256.8M1496.5,113.7L1488.9,112.6M1597.3,149.8L1601.1,146.8M1452.7,160.3L1445.4,153.5M1560.1,102.2L1559.3,105.5M1613.1,137.8L1611.8,140.0M1456.7,200.2L1465.1,199.6M1565.2,135.4L1560.0,134.3M1573.2,236.4L1575.8,235.7M1609.0,231.1L1609.9,221.3M1622.8,244.5L1625.5,250.2M1526.7,320.3L1527.5,318.1M1537.2,190.0L1540.0,189.3M1620.3,194.2L1620.1,185.6M1560.3,267.8L1551.7,273.0M1457.4,170.3L1451.1,172.4M1549.4,286.2L1554.2,289.0M1614.3,287.7L1609.7,282.2M1600.9,175.2L1594.0,170.0M1622.5,274.1L1613.7,279.8M1555.7,190.3L1549.0,187.8M1546.7,169.4L1550.4,169.0M1526.7,320.3L1524.2,318.7M1540.3,223.6L1541.2,224.6M1494.5,238.8L1496.7,240.8M1560.3,267.8L1563.7,262.9M1514.4,279.5L1512.9,281.7M1600.3,165.2L1608.7,170.5M1623.8,237.6L1628.6,246.5M1466.4,161.1L1472.7,149.3M1546.4,322.2L1549.2,317.2M1626.3,152.6L1626.4,157.0M1628.8,274.6L1630.6,277.5M1591.6,311.5L1601.1,303.3M1484.6,256.8L1490.0,265.5M1621.6,281.8L1628.8,274.6M1595.4,202.2L1596.1,211.2M1522.6,219.4L1531.5,225.5M1609.4,146.9L1610.5,144.2M1525.7,271.1L1522.3,267.0M1542.2,136.0L1543.7,148.5M1542.2,136.0L1545.0,132.1M1470.7,207.0L1462.8,208.9M1583.4,301.8L1581.7,292.3M1614.3,287.7L1612.1,293.2M1447.5,139.2L1450.4,134.7M1589.3,244.4L1581.2,245.8M1465.6,139.5L1467.2,127.6M1465.1,199.6L1470.4,199.6M1525.8,152.7L1525.3,162.7M1657.6,177.3L1657.5,175.8M1584.3,163.3L1587.2,171.2M1544.4,224.2L1540.3,223.6M1600.3,165.2L1594.0,170.0M1581.4,145.7L1585.0,153.4M1546.4,322.2L1539.1,325.3M1516.6,274.8L1518.1,269.6M1636.2,225.7L1627.0,229.2M1491.4,216.0L1495.7,213.5M1544.4,224.2L1544.2,235.7M1597.8,153.2L1603.5,151.3M1590.2,161.4L1593.7,160.3M1568.0,192.9L1569.4,201.2M1616.0,225.7L1622.0,221.9M1580.6,272.7L1581.3,277.8M1601.2,219.1L1609.9,221.3M1479.8,256.1L1478.6,252.8M1486.3,251.7L1496.5,259.3M1625.5,214.2L1624.6,215.2M1540.0,189.3L1541.4,191.8M1463.2,146.9L1458.0,140.7M1522.3,267.0L1518.1,269.6M1542.4,272.5L1540.4,269.8M1442.2,155.4L1447.7,164.9M1459.8,167.3L1458.6,156.5M1597.5,240.8L1595.2,245.7M1618.9,164.1L1624.5,174.9M1597.2,261.6L1592.4,261.4M1621.6,281.8L1614.3,287.7M1522.3,172.7L1526.8,177.2M1525.8,152.7L1530.9,157.2M1548.7,342.2L1557.7,351.8M1621.2,236.4L1624.6,229.5M1630.2,256.3L1633.4,259.7M1628.8,274.6L1629.0,268.9M1566.1,146.3L1563.8,148.7M1604.0,175.0L1608.0,180.3M1596.0,239.3L1592.7,236.8M1641.6,225.6L1646.7,216.3M1622.3,213.5L1622.0,221.9M1457.4,170.3L1459.8,167.3M1476.5,122.4L1486.2,123.1M1609.1,295.7L1599.8,296.1M1587.2,171.2L1584.4,172.2M1563.9,109.1L1559.3,105.5M1637.6,230.4L1633.1,239.8M1542.8,193.7L1541.4,191.8M1582.3,196.2L1578.0,200.5M1582.1,168.2L1584.4,172.2M1453.9,188.6L1463.7,195.9M1631.8,260.9L1633.4,259.7M1492.0,198.8L1494.5,204.5M1630.2,256.3L1623.9,258.9M1566.3,144.5L1565.2,135.4M1452.7,160.3L1458.6,156.5M1609.4,274.4L1605.3,279.9M1480.9,189.2L1486.8,185.5M1467.4,236.5L1474.9,239.0M1494.6,156.5L1496.9,150.8M1547.3,252.5L1544.0,261.5M1507.5,132.7L1506.4,135.9M1487.0,136.5L1481.8,132.1M1606.4,156.5L1601.2,156.4M1582.8,286.0L1582.4,288.5M1610.3,156.8L1618.9,164.1M1551.6,298.6L1537.8,296.7M1579.4,135.8L1579.4,131.7M1581.7,292.3L1572.0,290.3M1584.1,262.5L1591.3,269.3M1564.8,317.4L1564.7,310.8M1606.5,210.7L1605.3,204.0M1638.3,201.8L1631.0,190.3M1543.0,160.8L1540.4,164.1M1599.2,198.1L1599.9,203.6M1591.6,311.5L1588.4,312.7M1600.9,127.8L1607.7,119.8M1470.7,168.0L1482.1,168.8M1560.9,337.6L1560.0,329.0M1555.4,202.9L1559.1,205.8M1658.9,162.4L1664.2,163.1M1486.2,123.1L1488.9,112.6M1600.6,182.9L1606.4,184.6M1546.8,260.6L1552.4,254.6M1479.8,256.1L1483.0,255.4M1505.9,149.8L1496.9,150.8M1581.8,289.6L1581.7,292.3M1550.7,343.3L1557.7,351.8M1627.0,229.2L1624.6,229.5M1539.7,215.3L1540.3,223.6M1606.4,156.5L1610.2,149.1M1630.1,260.0L1633.4,259.7M1534.1,279.2L1538.4,273.6M1601.1,303.3L1590.2,306.8M1540.9,212.3L1541.6,214.3M1439.9,132.0L1441.3,136.1M1635.9,249.5L1633.4,259.7M1540.4,269.8L1531.0,261.8M1558.2,256.4L1552.4,254.6M1559.0,312.6L1557.3,318.3M1512.0,157.1L1512.0,150.2M1566.7,280.3L1560.7,267.7M1576.7,232.6L1571.3,229.0M1580.6,272.7L1571.2,280.3M1544.4,224.2L1556.7,230.2M1442.7,132.8L1453.5,124.1M1534.0,197.9L1526.4,208.0M1517.0,196.8L1507.4,191.6M1519.0,265.3L1521.4,262.2M1523.2,181.2L1527.6,181.9M1567.9,264.3L1578.3,256.5M1568.0,192.9L1569.0,186.6M1646.9,151.1L1655.3,157.1M1538.6,170.4L1544.0,173.8M1539.7,215.3L1538.2,209.7M1595.2,245.7L1592.4,245.4M1556.7,230.2L1546.4,236.8M1630.5,162.2L1627.5,168.7M1445.4,153.5L1443.7,146.9M1616.0,225.7L1613.8,215.3M1496.5,259.3L1500.3,256.3M1616.4,189.2L1608.3,194.1M1457.1,235.9L1458.1,236.1M1597.2,261.6L1596.9,253.9M1470.7,207.0L1480.4,205.7M1616.0,225.7L1616.9,214.6M1543.3,200.7L1545.0,206.8M1596.1,211.2L1591.7,215.3M1612.9,173.6L1624.5,174.9M1447.5,139.2L1443.7,146.9M1567.7,294.5L1572.0,290.3M1599.8,296.1L1598.1,299.6M1605.5,187.6L1600.6,182.9M1555.1,193.9L1542.8,193.7M1583.1,174.8L1584.4,172.2M1514.1,219.4L1518.4,214.5M1586.9,300.0L1598.1,299.6M1640.2,215.6L1646.7,216.3M1603.7,289.1L1600.3,289.7M1576.8,301.4L1572.0,290.3M1623.8,237.6L1621.2,236.4M1613.7,279.8L1608.3,278.9M1544.4,224.2L1541.2,224.6M1525.3,151.6L1521.5,144.5M1582.8,286.0L1585.3,288.6M1480.4,205.7L1481.9,202.1M1607.8,253.7L1605.0,249.8M1456.7,200.2L1463.7,195.9M1457.4,170.3L1456.9,176.9M1576.7,232.6L1573.2,236.4M1517.7,206.9L1518.4,214.5M1592.4,245.4L1596.9,253.9M1589.3,244.4L1592.7,236.8M1500.4,141.3L1491.5,146.6M1480.9,189.2L1481.9,202.1M1453.9,188.6L1448.1,179.3M1622.5,274.1L1624.9,266.4M1445.4,153.5L1446.2,158.4M1626.2,132.7L1621.8,141.3M1545.0,132.1L1547.1,129.1M1546.8,260.6L1544.0,261.5M1521.8,271.1L1518.1,269.6M1651.0,176.5L1638.0,173.8M1487.0,136.5L1493.4,140.7M1612.2,261.1L1617.0,259.9M1518.7,313.7L1507.8,313.0M1514.4,279.5L1517.2,277.2M1543.0,160.8L1537.3,156.8M1491.5,286.3L1495.5,274.4M1633.1,149.5L1632.0,148.1M1609.1,148.6L1603.5,151.3M1609.1,295.7L1613.7,301.5M1557.3,318.3L1561.6,313.3M1513.2,139.0L1506.4,135.9M1494.1,228.6L1494.4,235.7M1507.5,132.7L1502.3,126.2M1622.3,213.5L1625.5,214.2M1497.7,123.8L1495.1,114.7M1595.4,202.2L1591.7,215.3M1493.4,140.7L1491.5,146.6M1514.4,279.5L1511.8,275.5M1623.9,258.9L1617.0,259.9M1626.2,132.7L1636.3,139.3M1449.9,146.6L1463.2,146.9M1629.3,168.4L1630.1,172.5M1605.5,187.6L1599.2,198.1M1559.9,221.2L1571.3,229.0M1582.1,168.2L1573.9,166.0M1539.6,176.6L1540.2,176.0M1560.5,211.2L1561.5,217.5M1620.4,291.9L1629.1,284.7M1617.0,259.9L1610.8,256.5M1582.2,190.8L1569.0,186.6M1525.8,152.7L1531.5,148.0M1605.4,143.5L1609.1,148.6M1471.8,147.6L1476.0,148.3M1583.1,174.8L1576.0,179.0M1608.8,183.4L1613.3,186.8M1595.2,245.7L1605.0,249.8M1638.0,173.8L1630.1,172.5M1576.8,301.4L1571.0,304.9M1556.7,180.2L1551.6,178.8M1563.6,217.9L1561.5,217.5M1564.8,317.4L1562.6,323.8M1620.4,291.9L1612.1,293.2M1566.9,171.2L1576.0,179.0M1461.8,126.8L1465.6,139.5M1606.4,184.6L1608.0,180.3M1490.0,265.5L1487.2,269.0M1522.7,245.5L1529.6,254.6M1502.0,226.5L1507.1,216.9M1544.3,286.1L1537.8,296.7M1642.4,171.2L1648.1,163.4M1556.7,180.2L1559.6,171.9M1474.2,259.4L1479.8,256.1M1481.6,259.0L1487.2,269.0M1478.3,236.5L1474.9,239.0M1513.2,139.0L1521.5,144.5M1637.0,189.0L1638.3,201.8M1580.6,272.7L1585.4,275.3M1539.6,176.6L1526.8,177.2M1592.4,261.4L1591.0,258.6M1591.3,269.3L1585.4,275.3M1640.2,269.2L1630.6,277.5M1526.8,177.2L1527.6,181.9M1560.9,337.6L1556.4,347.3M1600.9,175.2L1600.6,182.9M1612.1,169.0L1611.8,173.7M1481.7,182.0L1475.9,181.0M1528.9,328.2L1539.1,325.3M1573.4,126.2L1567.0,128.1M1533.2,149.0L1539.7,146.4M1626.3,224.7L1624.6,229.5M1600.6,182.9L1604.0,175.0M1505.5,141.0L1506.4,135.9M1538.6,170.4L1540.4,164.1M1496.8,293.0L1490.3,289.2M1613.8,215.3L1611.7,208.3M1613.1,137.8L1623.6,130.8M1610.8,169.4L1612.1,169.0M1545.9,242.2L1542.3,245.4M1542.8,193.7L1546.9,201.3M1559.0,312.6L1564.7,310.8M1579.7,180.7L1569.0,186.6M1605.4,143.5L1603.5,151.3M1476.5,122.4L1469.6,119.7M1627.5,168.7L1630.1,172.5M1488.5,218.7L1491.4,216.0M1492.0,198.8L1487.9,197.1M1597.5,240.8L1596.0,239.3M1587.1,160.2L1585.0,153.4M1633.1,149.5L1642.4,152.4M1576.0,179.0L1569.0,186.6M1635.0,241.3L1638.5,234.3M1607.8,253.7L1606.9,257.4M1601.2,156.4L1593.7,160.3M1620.1,185.6L1624.5,174.9M1605.5,187.6L1606.4,184.6M1456.9,176.9L1448.1,179.3M1584.6,127.7L1587.1,130.3M1459.3,208.1L1456.0,205.9M1486.3,127.0L1481.8,132.1M1641.6,142.4L1642.4,152.4M1495.4,268.6L1487.2,269.0M1651.0,176.5L1657.5,175.8M1441.3,136.1L1441.4,133.1M1519.0,265.3L1518.1,269.6M1586.0,159.3L1585.0,153.4M1633.1,239.8L1628.6,246.5M1540.2,176.0L1546.2,183.9M1583.1,174.8L1579.7,180.7M1456.9,238.6L1457.1,235.9M1641.6,142.4L1633.6,141.3M1489.4,293.0L1490.3,289.2M1556.7,230.2L1549.4,238.9M1581.8,289.6L1582.8,286.0M1523.2,181.2L1523.7,186.2M1496.7,236.0L1496.7,240.8M1567.2,121.5L1573.4,126.2M1604.2,279.9L1605.3,279.9M1550.4,169.0L1559.6,171.9M1472.2,242.7L1477.8,239.0M1507.8,313.0L1508.2,303.8M1567.7,294.5L1564.7,304.6M1581.0,327.1L1577.9,324.1M1641.6,142.4L1646.9,151.1M1625.5,250.2L1619.3,253.6M1566.1,212.9L1561.5,217.5M1546.5,187.4L1546.2,183.9M1609.1,295.7L1606.1,303.4M1546.8,260.6L1547.3,252.5M1624.6,215.2L1626.3,224.7M1623.8,237.6L1621.0,244.4M1518.7,306.2L1524.5,302.3M1609.4,274.4L1613.7,279.8M1502.1,257.8L1500.3,256.3M1487.3,290.7L1478.8,286.5M1629.1,284.7L1629.9,284.0M1456.9,176.9L1456.0,180.0M1527.6,181.9L1523.7,186.2M1494.6,156.5L1491.5,146.6M1554.2,289.0L1548.8,289.2M1645.2,236.1L1638.5,234.3M1470.1,227.9L1478.9,227.4M1548.8,289.2L1537.8,296.7M1551.6,298.6L1554.2,289.0M1478.1,141.9L1476.0,148.3M1493.0,293.8L1490.3,289.2M1496.7,236.0L1509.6,232.6M1491.1,183.1L1486.8,185.5M1594.1,163.5L1600.3,165.2M1616.0,225.7L1616.4,230.4M1509.5,126.4L1510.3,124.6M1531.5,225.5L1525.6,238.0M1467.4,236.5L1470.1,227.9M1497.8,196.6L1501.9,190.9M1605.3,279.9L1603.7,289.1M1486.3,127.0L1486.2,123.1M1507.1,216.9L1514.1,219.4M1531.0,261.8L1523.4,260.6M1536.5,329.5L1539.1,325.3M1521.3,284.4L1517.2,277.2M1486.2,123.1L1477.1,119.4M1516.6,274.8L1511.8,275.5M1604.6,135.0L1605.8,141.3M1454.3,196.7L1449.8,195.3M1537.7,314.0L1539.1,325.3M1489.9,208.7L1480.4,205.7M1479.7,247.2L1477.8,239.0M1580.6,272.7L1591.3,269.3M1464.6,171.8L1456.0,180.0M1491.5,286.3L1496.8,293.0M1609.7,282.2L1603.7,289.1M1581.0,327.1L1583.0,322.3M1493.8,127.2L1493.4,140.7M1504.3,171.7L1517.3,167.9M1578.1,313.7L1577.9,324.1M1518.7,306.2L1507.8,313.0M1509.0,209.8L1518.4,214.5M1463.2,146.9L1458.6,156.5M1588.4,312.7L1590.2,306.8M1595.2,245.7L1596.9,253.9M1591.6,311.5L1590.2,306.8M1491.5,286.3L1478.8,286.5M1504.3,171.7L1508.9,167.1M1540.0,301.4L1537.8,296.7M1505.5,141.0L1516.3,145.6M1608.7,170.5L1611.8,173.7M1609.9,221.3L1606.5,210.7M1534.8,196.2L1536.2,187.8M1509.6,232.6L1514.1,219.4M1482.7,126.7L1481.8,132.1M1627.5,168.7L1624.5,174.9M1610.3,156.8L1612.1,169.0M1559.0,312.6L1549.2,317.2M1527.5,318.1L1524.2,318.7M1512.0,150.2L1516.3,145.6M1597.8,153.2L1585.0,153.4M1486.8,214.6L1476.8,212.4M1486.3,251.7L1492.1,249.5M1571.7,156.3L1563.8,148.7M1635.9,249.5L1641.0,250.0M1572.5,169.5L1567.2,169.9M1596.0,239.3L1592.4,245.4M1459.0,138.0L1461.8,126.8M1573.4,148.1L1568.4,139.5M1562.1,281.7L1566.4,287.7M1600.0,186.7L1605.5,187.6M1641.6,225.6L1637.9,219.8M1493.0,294.2L1495.4,297.3M1469.6,119.7L1467.2,127.6M1534.1,196.7L1521.9,199.4M1587.1,130.3L1578.9,139.5M1576.8,301.4L1567.7,294.5M1593.8,287.6L1595.4,284.9M1457.1,235.9L1453.1,223.7M1540.7,153.3L1533.2,149.0M1477.8,226.5L1470.1,227.9M1456.9,238.6L1460.1,239.2M1582.3,196.2L1582.2,190.8M1536.0,132.0L1532.5,120.4M1584.1,262.5L1592.4,261.4M1546.8,260.6L1558.2,256.4M1566.4,287.7L1554.2,289.0M1539.6,176.6L1546.2,183.9M1640.2,269.2L1639.2,265.9M1492.0,198.8L1497.8,196.6M1578.1,313.7L1583.0,322.3M1481.7,182.0L1486.8,185.5M1456.9,238.6L1459.2,245.0M1619.3,253.6L1617.0,259.9M1629.4,262.3L1624.9,266.4M1507.2,257.5L1507.3,262.3M1536.0,132.0L1547.1,129.1M1635.9,249.5L1627.7,247.3M1545.9,242.2L1549.4,238.9M1609.4,146.9L1610.2,149.1M1518.9,306.5L1528.4,312.3M1609.1,295.7L1603.7,289.1M1486.3,251.7L1486.3,246.2M1532.5,120.4L1525.3,127.5M1554.8,118.9L1564.1,125.1M1493.4,140.7L1500.4,141.3M1534.4,106.5L1540.8,106.0M1482.1,168.8L1485.2,174.4M1563.2,201.6L1559.1,205.8M1593.5,221.4L1591.7,215.3M1512.9,281.7L1518.1,286.9M1489.5,224.1L1488.5,218.7M1481.9,224.4L1478.9,227.4M1562.6,323.8L1551.7,322.7M1526.7,320.3L1539.1,325.3M1568.0,192.9L1558.9,188.9M1626.3,224.7L1637.9,219.8M1595.5,317.3L1583.0,322.3M1604.5,269.9L1598.9,267.0M1544.1,239.9L1544.2,235.7M1488.1,245.9L1486.3,251.7M1518.7,313.7L1528.4,312.3M1468.3,204.3L1465.1,199.6M1479.7,247.2L1486.3,246.2M1597.2,261.6L1604.4,262.6M1643.4,242.3L1641.0,250.0M1531.0,261.8L1538.4,273.6M1544.6,278.3L1554.7,279.0M1606.9,257.4L1604.4,262.6M1497.7,123.8L1500.3,127.2M1637.6,230.4L1645.2,236.1M1471.8,147.6L1478.1,141.9M1495.5,274.4L1495.4,268.6M1555.7,190.3L1555.1,193.9M1500.8,183.7L1501.9,190.9M1584.6,127.7L1582.0,122.8M1555.4,202.9L1545.0,206.8M1453.1,223.7L1458.7,233.6M1608.1,281.0L1603.7,289.1M1491.0,160.6L1501.6,167.8M1529.6,254.6L1531.0,261.8M1626.3,224.7L1622.0,221.9M1600.9,175.2L1600.3,165.2M1452.7,160.3L1447.7,164.9M1533.8,161.0L1537.3,156.8M1585.1,161.9L1587.1,160.2M1488.7,146.8L1487.0,136.5M1641.0,250.0L1633.4,259.7M1621.6,281.8L1613.7,279.8M1560.3,267.8L1554.7,279.0M1543.0,160.8L1550.0,152.2M1582.8,286.0L1586.9,284.5M1525.3,162.7L1517.3,167.9M1599.7,216.0L1596.6,219.1M1511.8,275.5L1507.3,269.6M1449.9,146.6L1458.6,156.5M1576.8,301.4L1578.1,313.7M1605.4,143.5L1601.1,146.8M1466.4,161.1L1464.0,160.1M1524.1,114.3L1521.3,106.8M1521.8,271.1L1517.2,277.2M1463.2,146.9L1472.7,149.3M1588.4,312.7L1578.1,313.7M1630.1,172.5L1624.5,174.9M1533.2,149.0L1537.3,156.8M1497.8,196.6L1487.9,197.1M1606.4,156.5L1600.3,165.2M1521.3,284.4L1534.1,279.2M1567.9,264.3L1563.7,262.9M1560.1,102.2L1563.9,109.1M1479.0,276.1L1478.8,286.5M1477.8,226.5L1481.9,224.4M1534.5,207.4L1534.0,197.9M1571.2,280.3L1572.0,290.3M1478.3,236.5L1470.1,227.9M1589.3,244.4L1592.4,245.4M1582.8,286.0L1572.0,290.3M1562.1,281.7L1566.7,280.3M1621.2,236.4L1621.0,244.4M1637.9,219.8L1646.7,216.3M1492.4,241.6L1492.1,249.5M1611.7,208.3L1605.3,204.0M1505.5,141.0L1512.0,150.2M1544.6,278.3L1541.9,276.3M1586.0,159.3L1587.1,160.2M1479.0,276.1L1487.2,269.0M1518.7,313.7L1526.1,324.2M1621.6,281.8L1629.9,284.0M1608.8,183.4L1608.0,180.3M1514.4,279.5L1518.1,286.9M1523.4,260.6L1523.3,258.9M1587.6,243.4L1581.2,245.8M1609.4,274.4L1604.2,279.9M1522.3,267.0L1531.0,261.8M1626.3,152.6L1633.1,149.5M1558.2,256.4L1560.3,267.8M1543.3,200.7L1546.9,201.3M1543.0,160.8L1550.4,169.0M1546.1,270.8L1551.7,273.0M1627.7,247.3L1628.6,246.5M1497.7,123.8L1493.8,127.2M1599.2,198.1L1605.3,204.0M1621.8,141.3L1611.8,140.0M1560.3,267.8L1560.7,267.7M1566.1,146.3L1566.3,144.5M1625.5,214.2L1633.8,214.4M1490.0,265.5L1481.6,259.0M1522.0,256.3L1528.1,256.8M1608.3,194.1L1605.3,204.0M1625.5,250.2L1621.0,244.4M1616.9,248.2L1610.8,256.5M1516.3,145.6L1513.2,139.0M1559.9,221.2L1560.5,211.2M1605.8,141.3L1601.1,146.8M1543.3,200.7L1538.2,209.7M1489.4,293.0L1483.7,292.5M1632.0,148.1L1631.3,141.7M1534.8,196.2L1542.8,193.7M1488.1,245.9L1492.1,249.5M1640.2,215.6L1635.1,212.1M1616.9,248.2L1621.0,244.4M1584.3,163.3L1582.1,168.2M1648.1,163.4L1650.1,165.9M1598.7,234.9L1597.5,240.8M1620.3,194.2L1608.3,194.1M1583.3,305.8L1576.8,301.4M1523.3,258.9L1521.4,262.2M1609.4,274.4L1612.2,261.1M1605.5,187.6L1613.3,186.8M1594.1,163.5L1587.2,171.2M1586.9,300.0L1590.2,306.8M1457.1,235.9L1458.7,233.6M1566.1,212.9L1559.1,205.8M1505.5,141.0L1501.8,143.8M1606.9,257.4L1597.9,253.3M1522.3,172.7L1517.3,167.9M1478.6,252.8L1483.0,255.4M1597.2,202.7L1599.9,203.6M1576.7,232.6L1575.8,235.7M1455.8,142.2L1458.0,140.7M1625.5,214.2L1621.3,203.3M1621.2,236.4L1616.4,230.4M1577.3,142.3L1568.4,139.5M1446.2,158.4L1447.7,164.9M1455.7,194.3L1454.3,196.7M1551.6,320.3L1549.2,317.2M1534.0,197.9L1534.8,196.2M1606.1,263.2L1604.4,262.6M1551.4,111.1L1540.8,106.0M1459.0,138.0L1455.8,142.2M1509.5,126.4L1507.5,132.7M1600.0,186.7L1600.6,182.9M1476.5,122.4L1481.8,132.1M1455.8,142.2L1447.5,139.2M1613.8,215.3L1609.9,221.3M1520.0,108.1L1507.7,110.9M1486.8,214.6L1480.4,205.7M1626.0,246.5L1623.8,237.6M1484.6,256.8L1496.5,259.3M1489.9,208.7L1481.9,202.1M1546.9,201.3L1545.0,206.8M1522.7,205.2L1534.0,197.9M1606.4,156.5L1610.3,156.8M1626.4,157.0L1618.9,164.1M1571.7,156.3L1585.0,153.4M1527.5,318.1L1528.4,312.3M1545.9,242.2L1547.3,252.5M1493.9,114.6L1491.1,115.4M1497.0,212.7L1495.7,213.5M1597.2,202.7L1596.1,211.2M1566.3,144.5L1559.1,146.9M1558.9,188.9L1556.7,180.2M1525.8,152.7L1533.2,149.0M1583.0,322.3L1577.9,324.1M1539.6,176.6L1536.2,187.8M1525.3,127.5L1525.8,119.3M1607.7,119.8L1614.6,121.5M1461.8,126.8L1450.4,134.7M1624.6,229.5L1622.0,221.9M1555.1,193.9L1549.0,187.8M1583.1,174.8L1590.0,176.2M1609.0,231.1L1616.4,230.4M1548.2,103.6L1540.8,106.0M1527.7,120.6L1525.3,127.5M1491.5,286.3L1497.8,281.6M1609.4,274.4L1608.3,278.9M1515.8,105.5L1521.3,106.8M1578.0,200.5L1581.6,198.1M1573.4,126.2L1565.2,135.4M1551.7,322.7L1560.0,329.0M1496.9,250.6L1498.7,247.3M1493.8,127.2L1491.1,115.4M1581.8,289.6L1582.4,288.5M1456.7,200.2L1454.3,196.7M1539.6,176.6L1527.6,181.9M1494.4,235.7L1483.9,236.6M1517.0,259.1L1510.6,259.5M1600.0,186.7L1599.2,198.1M1537.2,190.0L1541.4,191.8M1535.5,336.0L1546.7,339.5M1546.7,169.4L1544.0,173.8M1612.9,173.6L1613.3,186.8M1502.0,226.5L1509.6,232.6M1638.0,139.6L1633.6,141.3M1540.0,189.3L1536.2,187.8M1505.9,149.8L1505.5,141.0M1534.5,207.4L1538.2,209.7M1534.4,106.5L1528.3,109.1M1510.3,124.6L1502.3,126.2M1537.3,156.8L1540.4,164.1M1463.7,195.9L1470.4,199.6M1583.3,305.8L1590.2,306.8M1474.1,162.0L1472.7,149.3M1579.4,135.8L1578.9,139.5M1517.0,196.8L1521.9,199.4M1621.6,281.8L1620.4,291.9M1564.8,317.4L1561.6,313.3M1522.0,256.3L1514.3,245.2M1609.4,146.9L1613.2,149.3M1478.5,140.5L1465.6,139.5M1491.0,160.6L1494.6,156.5M1518.9,306.5L1518.7,313.7M1549.4,286.2L1548.8,289.2M1540.4,269.8L1538.4,273.6M1478.1,141.9L1488.7,146.8M1662.2,153.6L1660.7,154.1M1549.4,238.9L1546.4,236.8M1472.2,242.7L1479.7,247.2M1571.0,304.9L1564.7,304.6M1572.5,169.5L1582.1,168.2M1493.0,294.2L1493.0,293.8M1620.3,194.2L1621.3,203.3M1496.5,259.3L1490.0,265.5M1459.8,167.3L1464.0,160.1M1522.7,245.5L1514.3,245.2M1538.6,170.4L1540.2,176.0M1600.9,175.2L1590.0,176.2M1595.4,284.9L1585.4,275.3M1513.0,133.8L1506.4,135.9M1472.2,242.7L1478.6,252.8M1508.9,167.1L1501.6,167.8M1475.9,181.0L1468.1,190.8M1606.4,156.5L1610.8,169.4M1657.6,177.3L1648.3,185.9M1612.1,293.2L1603.7,289.1M1461.8,126.8L1469.6,119.7M1597.2,261.6L1606.9,257.4M1658.1,164.1L1664.2,163.1M1587.6,243.4L1592.7,236.8M1560.3,267.8L1547.5,270.2M1583.3,305.8L1586.9,300.0M1595.4,284.9L1600.3,289.7M1447.5,139.2L1442.7,132.8M1521.3,284.4L1518.1,286.9M1626.2,132.7L1625.9,126.9M1600.6,182.9L1587.9,186.6M1517.7,206.9L1509.0,209.8M1507.5,132.7L1503.2,136.6M1590.2,161.4L1587.2,171.2M1516.4,194.0L1521.9,199.4M1544.4,224.2L1546.4,236.8M1574.4,112.8L1571.7,120.4M1562.7,132.6L1567.0,128.1M1522.7,205.2L1518.6,203.6M1516.3,155.8L1517.3,167.9M1521.3,284.4L1524.4,277.2M1540.9,212.3L1545.0,206.8M1503.2,136.6L1500.1,131.3M1573.4,126.2L1579.4,131.7M1609.4,146.9L1605.4,143.5M1613.1,137.8L1621.8,141.3M1567.2,121.5L1564.1,125.1M1507.3,262.3L1495.4,268.6M1502.2,249.3L1500.3,256.3M1534.5,207.4L1539.7,215.3M1481.9,202.1L1470.4,199.6M1601.2,156.4L1600.3,165.2M1601.2,219.1L1606.5,210.7M1514.4,279.5L1521.3,284.4M1636.2,225.7L1626.3,224.7M1492.4,241.6L1483.9,236.6M1486.8,214.6L1488.5,218.7M1500.1,131.3L1502.3,126.2M1573.4,148.1L1566.1,146.3M1513.0,133.8L1521.5,144.5M1472.3,264.3L1481.6,259.0M1618.0,157.3L1618.9,164.1M1469.6,119.7L1477.1,119.4M1588.4,312.7L1595.5,317.3M1534.0,197.9L1521.9,199.4M1638.0,139.6L1641.6,142.4M1507.4,191.6L1500.8,183.7M1487.3,290.7L1490.3,289.2M1509.5,126.4L1513.0,133.8M1610.8,169.4L1608.7,170.5M1477.8,226.5L1478.9,227.4M1621.6,281.8L1629.1,284.7M1630.5,162.2L1638.0,173.8M1548.2,103.6L1559.3,105.5M1489.5,224.1L1497.7,214.4M1481.9,202.1L1487.9,197.1M1609.0,231.1L1605.2,225.3M1456.7,200.2L1456.0,205.9M1636.2,225.7L1641.6,225.6M1610.5,144.2L1613.2,149.3M1623.8,237.6L1627.0,229.2M1635.1,212.1L1625.5,214.2M1544.6,278.3L1546.1,270.8M1533.8,161.0L1530.9,157.2M1493.0,294.2L1496.8,293.0M1541.2,185.3L1546.2,183.9M1486.3,127.0L1487.0,136.5M1605.5,187.6L1608.3,194.1M1625.5,250.2L1624.0,256.3M1491.5,286.3L1487.3,290.7M1553.6,277.2L1560.3,267.8M1614.3,287.7L1603.7,289.1M1505.5,141.0L1500.4,141.3M1555.1,193.9L1568.0,192.9M1607.8,253.7L1597.9,253.3M1546.2,183.9L1544.0,173.8M1457.4,170.3L1447.7,164.9M1607.8,253.7L1610.8,256.5M1626.3,152.6L1632.0,148.1M1606.4,156.5L1609.1,148.6M1464.6,171.8L1457.4,170.3M1536.5,329.5L1535.5,336.0M1655.3,157.1L1660.7,154.1M1496.7,236.0L1494.5,238.8M1626.0,246.5L1628.6,246.5M1516.3,145.6L1525.3,151.6M1517.0,196.8L1516.4,194.0M1633.6,141.3L1631.3,141.7M1540.2,176.0L1544.0,173.8M1533.2,149.0L1530.9,157.2M1610.5,144.2L1605.8,141.3M1540.4,164.1L1536.9,164.4M1642.4,171.2L1638.0,173.8M1515.8,105.5L1520.0,108.1M1620.1,185.6L1613.3,186.8M1613.7,301.5L1612.1,293.2M1486.3,251.7L1483.0,255.4M1630.2,256.3L1635.9,249.5M1496.9,150.8L1491.5,146.6M1612.9,173.6L1611.8,173.7M1582.2,190.8L1579.7,180.7M1597.9,253.3L1605.0,249.8M1465.1,199.6L1463.7,195.9M1521.6,189.2L1523.7,186.2M1591.6,311.5L1594.6,314.5M1525.8,152.7L1525.3,151.6M1611.7,208.3L1616.9,214.6M1641.6,142.4L1652.6,133.9M1528.3,109.1L1524.1,114.3M1661.0,152.3L1660.7,154.1M1547.1,129.1L1560.0,134.3M1616.4,189.2L1620.3,194.2M1587.6,243.4L1589.3,244.4M1624.6,215.2L1622.0,221.9M1555.1,193.9L1546.9,201.3M1612.2,261.1L1606.1,263.2M1598.7,234.9L1605.2,225.3M1494.4,235.7L1492.4,241.6M1559.0,312.6L1564.7,304.6M1625.9,126.9L1614.6,121.5M1595.2,245.7L1597.9,253.3M1511.8,275.5L1508.5,285.8M1540.0,301.4L1537.7,314.0M1516.7,287.5L1512.9,281.7M1522.6,219.4L1526.4,208.0M1554.4,239.2L1566.7,242.9M1479.0,276.1L1474.1,285.4M1567.7,294.5L1571.0,304.9M1582.4,288.5L1585.3,288.6M1568.4,139.5L1567.2,145.2M1542.3,245.4L1547.3,252.5M1459.0,138.0L1465.6,139.5M1564.7,310.8L1564.7,304.6M1535.0,238.1L1544.2,235.7M1606.4,156.5L1603.5,151.3M1508.9,167.1L1512.0,157.1M1592.1,264.5L1598.9,267.0M1544.1,239.9L1535.0,238.1M1488.7,146.8L1491.5,146.6M1563.0,147.5L1559.1,146.9M1573.4,148.1L1563.8,148.7M1478.3,236.5L1478.9,227.4M1626.3,152.6L1621.8,141.3M1474.1,269.3L1472.3,264.3M1509.0,209.8L1514.1,219.4M1559.0,312.6L1561.6,313.3M1621.8,141.3L1623.6,130.8M1474.2,259.4L1472.3,264.3M1584.1,262.5L1580.6,272.7M1518.7,313.7L1524.2,318.7M1608.8,183.4L1605.5,187.6M1548.7,342.2L1550.7,343.3M1467.4,236.5L1458.7,233.6M1502.1,257.8L1495.4,268.6M1601.2,219.1L1596.0,220.4M1525.7,271.1L1531.0,261.8M1612.1,293.2L1616.0,301.1M1584.4,172.2L1590.0,176.2M1626.3,152.6L1620.8,151.7M1535.0,238.1L1531.5,225.5M1564.1,125.1L1550.4,126.4M1564.7,310.8L1561.6,313.3M1497.7,123.8L1502.3,126.2M1451.1,172.4L1447.7,164.9M1476.0,148.3L1472.7,149.3M1641.6,225.6L1645.2,236.1M1521.8,271.1L1524.4,277.2M1478.5,140.5L1481.8,132.1M1497.7,123.8L1493.9,114.6M1515.8,105.5L1507.7,110.9M1484.6,256.8L1486.3,251.7M1481.7,182.0L1480.9,189.2M1616.0,149.6L1610.5,144.2M1557.3,318.3L1551.7,322.7M1604.0,175.0L1608.7,170.5M1555.4,202.9L1546.9,201.3M1532.5,120.4L1524.1,114.3M1517.7,206.9L1518.6,203.6M1648.1,163.4L1655.3,157.1M1595.4,202.2L1599.2,198.1M1489.9,208.7L1497.0,212.7M1534.5,207.4L1526.4,208.0M1551.6,178.8L1559.6,171.9M1507.3,269.6L1507.3,262.3M1566.4,287.7L1572.0,290.3M1566.5,179.4L1558.9,188.9M1534.1,196.7L1534.8,196.2M1450.4,134.7L1453.5,124.1M1496.5,113.7L1507.7,110.9M1479.0,276.1L1474.1,269.3M1646.9,151.1L1648.1,163.4M1637.0,189.0L1631.0,190.3M1633.1,239.8L1638.5,234.3M1584.3,163.3L1573.9,166.0M1518.7,306.2L1518.7,313.7M1519.0,265.3L1507.3,262.3M1489.5,224.1L1481.9,224.4M1593.8,287.6L1599.8,296.1M1658.1,164.1L1658.9,162.4M1555.7,190.3L1558.9,188.9M1496.6,245.3L1496.9,250.6M1518.4,156.4L1525.3,162.7M1507.3,269.6L1518.1,269.6M1512.9,281.7L1508.5,285.8M1566.1,146.3L1567.2,145.2M1613.1,137.8L1604.6,135.0M1515.9,237.0L1509.6,232.6M1566.5,179.4L1556.7,180.2M1505.5,141.0L1503.2,136.6M1464.6,171.8L1470.7,168.0M1578.0,200.5L1575.2,201.2M1633.8,214.4L1626.3,224.7M1487.9,197.1L1486.8,185.5M1594.6,314.5L1601.1,303.3M1517.0,259.1L1523.3,258.9M1623.9,258.9L1624.9,266.4M1562.6,323.8L1557.3,318.3M1591.3,269.3L1593.6,269.0M1489.9,208.7L1492.0,198.8M1555.7,190.3L1556.7,180.2M1470.7,207.0L1468.3,204.3M1524.5,302.3L1528.4,312.3M1567.2,121.5L1571.7,120.4M1632.0,148.1L1621.8,141.3M1491.1,183.1L1486.3,176.7M1562.7,132.6L1560.0,134.3M1500.3,127.2L1500.1,131.3M1549.0,187.8L1551.6,178.8M1658.1,164.1L1655.3,157.1M1554.8,118.9L1551.4,111.1" stroke="#9a94aa" stroke-width="0.4" fill="none" opacity="0.8"/><path d="M1548.0 285.5h0M1549.8 179.3h0M1540.8 194.7h0M1594.2 201.1h0M1522.8 188.3h0M1558.0 167.7h0M1560.9 258.0h0M1503.8 183.6h0M1586.3 252.6h0M1535.6 220.2h0M1583.5 168.5h0M1535.5 211.3h0M1527.0 222.0h0M1576.3 160.0h0M1590.0 232.6h0M1538.1 244.9h0M1542.7 202.0h0M1553.5 263.2h0M1531.5 158.8h0M1590.7 257.2h0M1540.7 194.8h0M1579.8 212.0h0M1567.5 172.0h0M1510.9 257.1h0M1583.4 182.9h0M1596.4 199.8h0M1578.6 219.5h0M1561.6 220.3h0M1564.5 177.6h0M1504.4 207.2h0M1503.7 190.5h0M1550.3 256.5h0M1519.8 172.5h0M1507.4 217.9h0M1543.7 249.2h0M1530.4 251.4h0M1563.2 162.9h0M1521.1 184.4h0M1587.8 233.3h0M1591.1 238.4h0M1546.8 199.8h0M1536.4 265.0h0M1507.0 251.1h0M1551.8 174.4h0M1544.8 200.6h0M1514.7 210.3h0M1580.4 224.8h0M1582.8 247.9h0M1590.2 245.7h0M1563.3 196.8h0M1540.0 259.9h0M1514.9 174.0h0M1559.6 198.9h0M1542.6 159.3h0M1538.8 155.6h0M1585.2 198.9h0M1589.4 194.2h0M1590.8 224.4h0M1559.7 195.6h0M1549.9 268.5h0M1519.4 197.5h0M1533.3 186.6h0M1508.8 184.2h0M1551.3 148.2h0M1554.0 231.8h0M1556.7 202.0h0M1556.3 280.8h0M1554.2 182.1h0M1582.7 245.6h0M1506.3 245.5h0M1544.5 244.9h0M1559.4 231.4h0M1595.8 203.4h0M1567.6 202.6h0M1589.8 238.3h0M1581.4 248.2h0M1539.8 244.7h0M1511.5 216.8h0M1520.8 223.4h0M1579.5 217.6h0M1559.2 241.6h0M1508.5 226.9h0M1525.9 155.3h0M1568.8 185.3h0M1573.8 160.7h0M1525.8 224.2h0M1516.3 199.7h0M1544.4 242.9h0M1569.5 189.1h0M1552.1 287.3h0M1554.9 240.8h0M1529.6 165.6h0M1589.8 215.4h0M1513.3 201.4h0M1522.2 223.9h0M1537.7 234.6h0M1571.6 181.6h0M1508.1 256.6h0M1586.6 190.2h0M1580.8 240.7h0M1574.1 208.0h0M1567.5 153.7h0M1543.4 205.1h0M1548.4 267.2h0M1550.4 223.6h0M1539.5 189.3h0M1554.8 172.7h0M1520.4 182.5h0M1548.9 214.7h0M1519.7 218.7h0M1518.0 178.7h0M1526.0 217.5h0M1512.9 208.8h0M1508.7 224.7h0M1578.8 219.4h0M1533.9 253.6h0M1514.8 194.2h0M1511.7 191.5h0M1503.3 197.3h0M1548.5 238.6h0M1525.6 188.4h0M1564.9 162.9h0M1563.7 245.0h0M1532.6 279.3h0M1538.4 187.0h0M1560.5 245.8h0M1583.5 239.9h0M1530.4 211.8h0M1569.8 226.1h0M1551.0 158.5h0M1553.2 167.5h0M1503.8 196.1h0M1538.9 270.1h0M1524.0 173.7h0M1502.2 206.8h0M1532.0 187.2h0M1502.7 222.8h0M1556.7 173.0h0M1533.5 189.3h0M1548.9 278.5h0M1537.0 260.2h0M1543.4 170.8h0M1524.0 250.8h0M1560.6 203.8h0M1575.3 244.1h0M1514.9 226.2h0M1594.7 223.2h0M1509.0 193.3h0M1580.9 244.8h0M1529.3 233.2h0M1564.9 210.9h0M1569.3 249.9h0M1557.5 275.8h0M1560.4 153.8h0M1573.8 191.1h0M1564.5 221.5h0M1572.9 157.6h0M1543.7 170.4h0M1582.5 260.7h0M1547.3 243.3h0M1540.8 246.3h0M1533.6 230.3h0M1522.0 164.0h0M1508.0 260.1h0M1521.6 231.6h0M1593.3 252.1h0M1511.1 249.0h0M1542.1 201.0h0M1543.7 215.9h0M1517.0 206.3h0M1566.5 228.3h0M1557.8 250.0h0M1589.6 207.4h0M1578.1 252.3h0M1548.1 216.3h0M1593.6 214.1h0M1554.0 174.6h0M1587.7 224.0h0M1577.8 168.6h0M1516.4 268.7h0M1553.5 177.8h0M1580.8 261.5h0M1561.8 164.1h0M1525.4 206.7h0M1524.3 209.5h0M1562.0 219.1h0M1581.4 184.4h0M1538.9 235.2h0M1535.1 267.1h0M1585.5 230.7h0M1543.7 158.1h0M1570.0 278.7h0M1558.2 220.4h0M1577.6 236.0h0M1503.6 241.9h0M1528.4 156.4h0M1534.7 272.1h0M1549.7 149.2h0M1520.3 222.5h0M1581.0 228.1h0M1564.4 271.7h0M1571.3 168.9h0M1518.0 179.4h0M1586.8 218.0h0M1546.4 187.9h0M1544.2 197.3h0M1582.6 259.8h0M1524.2 189.1h0M1502.4 239.4h0M1575.7 173.4h0M1535.6 171.3h0M1529.7 162.7h0M1549.8 178.6h0M1566.8 206.5h0M1562.1 265.3h0M1533.0 262.4h0M1532.4 158.8h0M1588.6 237.7h0M1549.9 285.7h0M1566.7 276.4h0M1549.8 225.9h0M1581.1 260.0h0M1542.1 162.0h0M1536.9 211.7h0M1558.8 255.6h0M1535.3 239.7h0M1598.1 226.6h0M1516.7 188.7h0M1547.8 188.5h0M1514.7 202.9h0M1544.8 179.3h0M1544.8 239.6h0M1555.0 272.6h0M1523.1 218.2h0M1587.5 249.1h0M1569.8 174.9h0M1591.1 206.1h0M1537.6 169.0h0M1533.2 198.5h0M1554.0 203.8h0M1520.6 160.2h0M1540.5 286.5h0M1500.3 239.5h0M1527.6 234.1h0M1516.3 233.1h0M1539.8 286.6h0M1532.6 273.7h0M1558.7 175.9h0M1536.3 187.9h0M1522.5 253.5h0M1562.0 220.6h0M1567.6 210.5h0M1528.5 221.5h0M1529.1 181.8h0M1509.9 256.5h0M1513.2 201.7h0M1513.5 255.2h0M1531.4 253.9h0M1518.5 191.4h0M1586.2 260.9h0M1552.9 274.9h0M1519.7 231.0h0M1513.3 247.2h0M1564.3 243.1h0M1513.0 193.8h0M1510.2 241.8h0M1559.2 213.2h0M1583.5 219.6h0M1574.5 259.5h0M1511.7 248.2h0M1548.8 273.7h0M1554.5 182.7h0M1549.3 275.1h0M1528.6 216.8h0M1593.7 190.9h0M1535.1 187.1h0M1584.9 225.5h0M1589.3 226.8h0M1572.8 243.3h0M1509.8 260.6h0M1537.0 197.2h0M1504.8 235.9h0M1529.5 202.2h0M1572.0 254.4h0M1555.3 210.0h0M1534.7 283.4h0M1532.5 193.4h0M1546.0 148.4h0M1581.9 183.6h0M1589.0 246.7h0M1561.6 168.4h0M1539.7 262.7h0M1579.0 232.6h0M1528.3 179.3h0M1551.3 268.6h0M1580.2 171.8h0M1539.9 224.4h0M1563.0 283.1h0M1539.6 208.9h0M1529.0 157.1h0M1559.3 266.0h0M1576.3 228.4h0M1529.6 237.0h0M1544.7 182.4h0M1542.0 280.3h0M1560.0 256.1h0M1580.3 233.9h0M1547.4 205.5h0M1516.0 201.9h0M1500.1 228.7h0M1538.2 245.1h0M1572.6 231.6h0M1530.4 262.0h0M1549.5 229.5h0M1552.6 177.0h0M1586.8 176.6h0M1561.2 227.2h0M1574.0 189.8h0M1521.2 158.2h0M1509.8 231.6h0M1507.7 205.1h0M1538.8 212.8h0M1532.8 154.9h0M1513.4 212.3h0M1526.1 184.6h0M1569.4 265.1h0M1583.1 190.4h0M1574.5 251.8h0M1534.4 251.8h0M1521.7 247.7h0M1543.9 261.0h0M1580.8 260.1h0M1536.7 171.7h0M1560.2 236.0h0M1560.0 236.6h0M1542.7 283.0h0M1525.0 202.3h0M1541.4 162.5h0M1596.3 195.4h0M1547.2 188.7h0M1501.8 193.4h0M1510.1 215.3h0M1517.9 261.1h0M1539.0 215.2h0M1533.5 153.1h0M1545.6 166.7h0M1531.8 268.4h0M1563.9 229.3h0M1569.8 205.0h0M1551.3 222.3h0M1573.2 195.9h0M1544.7 249.8h0M1498.9 209.4h0M1549.7 164.2h0M1523.2 200.0h0M1519.5 191.2h0M1516.4 206.6h0M1549.6 149.7h0M1584.9 223.4h0M1559.4 191.4h0M1497.2 204.5h0M1544.8 267.8h0M1580.9 180.2h0M1581.4 216.6h0M1505.8 190.1h0M1508.5 260.6h0M1581.1 180.2h0M1504.5 233.2h0M1504.6 237.9h0M1576.3 188.7h0M1549.6 219.5h0M1539.5 178.9h0M1589.0 205.1h0M1516.9 210.3h0M1540.2 153.4h0M1586.7 239.7h0M1517.9 164.9h0M1575.6 182.0h0M1512.2 191.9h0M1578.0 217.9h0M1534.7 167.7h0M1578.9 201.7h0M1555.2 220.0h0M1536.3 274.5h0M1578.2 259.6h0M1517.5 222.4h0M1582.6 173.8h0M1586.8 233.1h0M1525.1 206.7h0M1593.0 201.6h0M1520.5 218.5h0M1585.3 255.5h0M1501.7 247.3h0M1543.9 214.5h0M1514.6 192.7h0M1531.0 212.1h0M1518.9 253.9h0M1508.1 200.4h0M1524.9 173.9h0M1506.6 216.0h0M1563.6 210.3h0M1537.9 276.8h0M1545.4 215.9h0M1543.2 220.4h0M1549.3 150.6h0M1571.4 205.4h0M1591.4 251.5h0M1509.6 263.3h0M1566.7 232.9h0M1586.3 204.6h0M1504.3 210.8h0M1578.2 168.2h0M1593.2 222.4h0M1508.3 237.5h0M1578.5 258.5h0M1586.9 239.2h0M1571.6 225.8h0M1570.1 280.0h0M1593.3 209.9h0M1550.3 152.5h0M1556.3 274.3h0M1582.4 183.8h0M1568.4 267.7h0M1522.4 251.8h0M1559.6 236.5h0M1558.1 222.0h0M1591.1 234.0h0M1562.3 204.4h0M1553.7 237.8h0M1547.5 207.8h0M1514.8 189.4h0M1536.2 243.7h0M1586.8 256.1h0M1508.4 223.1h0M1520.0 252.9h0M1523.2 214.9h0M1543.2 283.4h0M1572.0 252.0h0M1566.6 250.3h0M1581.0 196.6h0M1512.0 181.3h0M1591.8 221.8h0M1565.1 159.7h0M1546.0 181.3h0M1557.7 240.3h0M1560.6 217.1h0M1542.4 259.2h0M1588.8 238.5h0M1589.4 223.9h0M1549.0 246.3h0M1565.9 282.9h0M1511.4 261.5h0M1508.1 190.3h0M1574.0 231.7h0M1528.8 190.5h0M1523.6 193.7h0M1513.5 173.5h0M1595.5 201.1h0M1533.5 232.9h0M1521.5 255.6h0M1562.4 154.7h0M1517.4 215.8h0M1544.4 223.4h0M1542.2 197.0h0M1531.9 258.2h0M1519.0 251.5h0M1525.5 222.3h0M1587.4 188.9h0M1521.5 186.1h0M1519.6 243.9h0M1535.9 253.7h0M1576.1 182.6h0M1506.0 249.3h0M1565.8 272.8h0M1524.6 268.2h0M1533.3 232.2h0M1581.0 219.0h0M1572.7 225.0h0M1511.1 205.9h0M1546.3 234.2h0M1520.2 193.1h0M1531.5 261.3h0M1569.5 204.2h0M1573.0 202.8h0M1575.8 188.2h0M1555.4 268.3h0M1513.4 168.8h0M1541.2 172.6h0M1576.7 193.5h0M1539.5 189.4h0M1561.5 220.9h0M1541.0 218.7h0M1533.5 238.4h0M1562.1 203.3h0M1538.3 263.2h0M1546.2 233.6h0M1530.4 214.1h0M1521.2 242.4h0M1548.4 199.0h0M1584.0 197.8h0M1515.3 264.0h0M1540.6 222.2h0M1592.5 188.9h0M1563.7 253.5h0M1541.6 185.0h0M1542.9 258.4h0M1505.5 190.5h0M1553.2 152.2h0M1541.3 207.2h0M1507.6 229.8h0M1545.2 218.5h0M1538.4 247.5h0M1517.6 243.5h0M1535.3 230.6h0M1514.5 219.5h0M1531.4 250.4h0M1589.1 254.5h0M1570.6 201.0h0M1595.2 212.6h0M1560.3 244.1h0M1535.4 189.9h0M1538.6 272.8h0M1546.6 219.2h0M1518.5 162.2h0M1562.0 237.2h0M1578.4 161.2h0M1553.9 201.6h0M1512.1 187.9h0M1528.5 275.7h0M1545.9 231.8h0M1563.3 154.6h0M1522.4 196.3h0M1496.7 216.2h0M1578.5 231.1h0M1538.2 177.4h0M1579.2 194.6h0M1554.1 216.8h0M1534.5 209.2h0M1538.0 233.6h0M1562.0 231.7h0M1520.7 221.6h0M1558.2 241.7h0M1555.1 166.5h0M1574.5 265.0h0M1544.4 180.3h0M1556.5 170.5h0M1528.6 247.3h0M1583.9 223.5h0M1508.5 196.2h0M1555.8 256.3h0M1554.5 268.4h0M1564.6 244.0h0M1539.9 257.7h0M1529.3 199.5h0M1547.4 206.2h0M1574.4 158.2h0M1503.1 247.6h0M1538.2 212.1h0M1521.2 175.0h0M1526.5 243.7h0M1587.1 208.0h0M1506.6 250.6h0M1568.2 266.4h0M1503.0 199.6h0M1554.2 165.5h0M1539.7 223.1h0M1506.9 193.2h0M1574.3 219.5h0M1551.0 238.9h0M1591.9 250.5h0M1517.5 207.4h0M1514.4 260.9h0M1564.7 214.0h0M1529.0 240.4h0M1497.8 232.9h0M1573.0 173.4h0M1569.3 181.9h0M1544.4 276.6h0M1548.4 230.1h0M1586.9 227.1h0M1532.7 221.4h0M1577.2 228.8h0M1590.8 242.7h0M1586.6 175.8h0M1540.2 183.3h0M1535.6 247.3h0M1504.9 222.8h0M1544.3 181.1h0M1535.2 160.6h0M1527.5 259.3h0M1530.6 255.3h0M1561.0 268.0h0M1549.6 176.9h0M1561.3 256.2h0M1548.5 194.9h0M1596.0 218.7h0M1544.8 164.5h0M1597.5 217.7h0M1521.7 172.2h0M1500.7 234.5h0M1544.7 275.3h0M1567.6 224.6h0M1544.7 247.8h0M1550.3 223.7h0M1583.5 188.9h0M1539.3 171.1h0M1532.9 253.6h0M1555.3 229.6h0M1562.0 182.6h0M1594.7 200.3h0M1592.2 195.5h0M1550.0 258.9h0M1552.6 178.7h0M1517.1 177.9h0M1521.4 167.4h0M1593.0 242.4h0M1503.5 200.0h0M1530.9 231.5h0M1553.7 254.2h0M1552.5 214.9h0M1537.4 244.0h0M1569.5 276.3h0M1565.7 222.8h0M1503.5 207.3h0M1546.2 168.5h0M1559.6 177.2h0M1549.7 208.1h0M1571.5 230.2h0M1565.6 260.5h0M1514.7 187.3h0M1525.8 170.6h0M1555.0 285.2h0M1581.2 268.9h0M1535.0 257.9h0M1579.6 162.7h0M1538.1 189.0h0M1510.3 250.0h0M1517.3 171.0h0M1570.4 248.4h0M1526.7 270.7h0M1513.4 166.4h0M1538.3 217.3h0M1589.3 243.2h0M1565.3 243.8h0M1546.2 213.5h0M1508.7 194.4h0M1566.6 253.4h0M1514.9 207.4h0M1515.6 224.9h0M1570.0 196.7h0M1503.0 248.9h0M1546.7 267.9h0M1569.7 273.7h0M1504.9 235.1h0M1564.4 229.2h0M1545.0 201.5h0M1558.8 179.0h0M1587.7 211.0h0M1553.0 228.4h0M1532.9 278.9h0M1526.7 225.1h0M1552.8 217.3h0M1560.2 157.8h0M1511.0 179.3h0M1530.5 192.2h0M1530.2 189.4h0M1512.6 166.9h0M1511.8 220.5h0M1569.6 246.2h0M1590.4 224.6h0M1523.2 198.9h0M1570.2 265.7h0M1576.9 226.9h0M1522.1 255.9h0M1590.0 217.9h0M1567.8 156.4h0M1585.6 247.6h0M1543.2 168.9h0M1539.4 240.8h0M1548.0 265.5h0M1555.5 150.2h0" stroke="#ddcc3c" stroke-width="2.00" stroke-linecap="round" fill="none"/><path d="M1498.8 236.3h0M1531.7 315.2h0M1490.8 295.1h0M1496.9 186.3h0M1625.9 273.0h0M1566.6 140.5h0M1523.6 293.6h0M1508.1 151.5h0M1516.7 108.2h0M1472.3 221.0h0M1480.2 194.6h0M1580.8 228.8h0M1653.8 196.6h0M1484.9 224.2h0M1519.1 268.2h0M1598.2 239.2h0M1532.6 282.3h0M1488.5 166.0h0M1475.3 276.5h0M1482.9 153.2h0M1459.8 253.5h0M1469.5 154.5h0M1522.7 243.0h0M1648.4 233.6h0M1484.1 140.3h0M1464.9 181.3h0M1471.6 265.6h0M1577.1 314.4h0M1571.2 133.4h0M1642.9 170.3h0M1499.0 255.7h0M1555.5 269.4h0M1470.5 271.7h0M1605.2 287.5h0M1515.6 205.1h0M1562.4 353.5h0M1558.4 334.8h0M1642.0 198.3h0M1667.1 150.6h0M1630.2 192.4h0M1609.8 164.9h0M1535.5 194.0h0M1482.9 226.6h0M1476.7 278.4h0M1580.7 280.9h0M1480.2 121.2h0M1644.1 185.0h0M1530.4 210.2h0M1564.4 317.7h0M1662.6 150.3h0M1547.3 318.5h0M1484.3 133.4h0M1637.0 152.5h0M1614.9 171.0h0M1609.2 304.9h0M1615.5 149.4h0M1524.9 225.9h0M1550.2 326.6h0M1650.2 169.5h0M1639.5 239.6h0M1642.0 132.9h0M1654.2 187.2h0M1513.3 109.5h0M1511.5 306.7h0M1638.6 213.8h0M1627.0 271.7h0M1468.9 271.0h0M1529.0 150.4h0M1540.4 294.9h0M1470.1 184.3h0M1578.5 124.0h0M1544.0 143.9h0M1543.7 109.6h0M1525.8 131.1h0M1451.2 126.7h0M1638.0 214.2h0M1535.1 310.7h0M1536.7 118.4h0M1507.7 131.1h0M1572.1 150.7h0M1543.9 332.8h0M1556.8 347.9h0M1466.5 269.3h0M1595.7 288.0h0M1493.6 195.4h0M1559.8 104.0h0M1649.2 142.6h0M1598.1 123.6h0M1606.8 245.1h0M1475.6 143.1h0M1618.3 204.2h0M1567.2 294.8h0M1540.1 335.3h0M1522.1 200.9h0M1562.9 326.7h0M1532.9 102.2h0M1563.1 135.7h0M1578.2 335.8h0M1451.2 197.9h0M1493.7 160.3h0M1649.3 230.4h0M1610.0 164.6h0M1635.0 133.4h0M1565.7 343.5h0M1499.3 223.8h0M1620.7 282.0h0M1473.1 236.6h0M1546.4 145.7h0M1569.2 168.6h0M1531.5 146.8h0M1613.9 267.6h0M1605.0 234.8h0M1631.1 141.3h0M1621.9 269.0h0M1580.3 187.6h0M1567.2 216.2h0M1503.9 153.4h0M1499.6 173.0h0M1492.9 179.7h0M1641.2 126.8h0M1533.2 118.5h0M1573.7 235.4h0M1505.7 308.1h0M1485.3 218.7h0M1525.3 136.6h0M1461.1 268.2h0M1522.1 121.3h0M1456.0 154.4h0M1483.7 149.2h0M1454.0 231.6h0M1547.4 334.3h0M1471.4 216.1h0M1463.4 273.2h0M1561.5 338.1h0M1594.6 275.4h0M1535.9 171.4h0M1635.9 128.9h0M1495.3 168.2h0M1563.9 105.5h0M1647.7 155.1h0M1543.4 326.3h0M1642.6 165.6h0M1639.1 266.6h0M1506.4 248.4h0M1629.6 259.5h0M1633.3 165.5h0M1597.8 246.3h0M1594.4 136.5h0M1588.5 264.1h0M1648.6 177.7h0M1535.2 308.3h0M1603.0 222.0h0M1485.6 285.6h0M1610.8 248.5h0M1641.9 253.7h0M1542.6 127.0h0M1468.5 122.9h0M1524.1 291.9h0M1520.6 320.3h0M1557.5 322.1h0M1648.7 146.6h0M1599.4 133.5h0M1517.2 281.1h0M1495.7 217.5h0M1508.7 228.5h0M1563.4 147.4h0M1475.6 285.4h0M1551.7 182.3h0M1535.0 134.6h0M1485.7 287.3h0M1580.6 243.5h0M1499.2 143.5h0M1634.6 175.0h0M1481.3 285.6h0M1477.6 152.2h0M1542.6 119.6h0M1517.0 105.2h0M1631.5 198.8h0M1543.4 245.2h0M1535.0 113.9h0M1660.4 159.7h0M1609.4 255.8h0M1522.4 289.6h0M1602.7 212.3h0M1489.1 169.6h0M1615.3 257.4h0M1624.9 286.9h0M1637.4 222.4h0M1481.2 137.9h0M1506.1 304.0h0M1641.5 184.3h0M1576.1 125.7h0M1563.5 272.7h0M1582.1 281.6h0M1635.3 251.2h0M1555.6 127.1h0M1524.5 314.4h0M1557.3 323.9h0M1638.6 144.4h0M1615.3 299.4h0M1570.2 253.9h0M1631.2 281.0h0M1472.6 216.2h0M1501.1 170.0h0M1549.0 293.0h0M1585.0 133.7h0M1501.3 150.4h0M1635.0 170.4h0M1544.3 118.8h0M1640.4 206.6h0M1527.2 114.9h0M1638.3 180.4h0M1500.6 177.1h0M1512.1 127.8h0M1512.7 199.0h0M1477.7 272.9h0M1613.6 164.9h0M1615.2 177.8h0M1584.1 132.1h0M1598.9 131.9h0M1503.3 120.3h0M1613.5 203.4h0M1647.0 229.7h0M1470.2 221.6h0M1599.5 275.5h0M1581.3 295.5h0M1633.9 236.6h0M1616.6 176.1h0M1576.6 281.4h0M1459.5 181.3h0M1544.7 271.0h0M1597.7 302.5h0M1567.5 318.0h0M1605.0 255.8h0M1487.7 179.3h0M1613.3 170.1h0M1612.6 170.0h0M1537.0 114.1h0M1544.2 136.8h0M1619.8 211.0h0M1473.7 165.3h0M1576.0 250.7h0M1575.3 287.6h0M1461.5 259.0h0M1629.5 184.9h0M1549.5 139.4h0M1598.3 260.9h0M1593.0 226.6h0M1551.2 126.5h0M1510.3 160.3h0M1540.5 164.4h0M1491.9 234.8h0M1492.2 146.5h0M1629.0 236.0h0M1495.5 209.6h0M1640.6 271.2h0M1599.9 130.6h0M1640.8 208.1h0M1499.7 116.5h0M1496.5 128.9h0M1585.6 178.4h0M1543.8 340.4h0M1510.7 281.2h0M1572.7 106.7h0M1554.4 255.4h0M1570.9 120.1h0M1602.3 152.3h0M1500.2 119.5h0M1518.4 109.0h0M1455.4 232.2h0M1610.8 266.1h0M1525.8 287.3h0M1580.3 239.3h0M1581.6 198.5h0M1489.2 191.0h0M1486.2 146.6h0M1637.1 272.3h0M1648.2 188.2h0M1555.7 302.3h0M1530.1 286.1h0M1631.5 169.8h0M1646.1 215.7h0M1598.7 254.2h0M1459.8 154.7h0M1602.1 243.6h0M1514.0 201.5h0M1588.4 147.6h0M1555.0 128.8h0M1611.7 209.9h0M1458.6 248.1h0M1560.1 147.4h0M1502.0 277.2h0M1538.0 124.0h0M1463.1 267.0h0M1557.9 177.5h0M1549.6 215.5h0M1530.4 181.8h0M1659.1 154.6h0M1638.1 272.9h0M1612.2 189.5h0M1545.6 307.2h0M1608.0 220.1h0M1598.8 242.5h0M1554.4 253.4h0M1622.0 214.8h0M1611.1 177.8h0M1644.6 184.6h0M1625.7 173.8h0M1444.3 124.9h0M1577.7 141.0h0M1578.7 322.3h0M1637.2 242.8h0M1622.5 287.6h0M1461.8 132.3h0M1496.6 302.4h0M1608.2 140.2h0M1493.5 132.2h0M1619.1 264.9h0M1618.3 243.4h0M1587.0 215.2h0M1648.0 153.7h0M1645.3 171.9h0M1523.0 294.7h0M1519.0 175.8h0M1445.6 131.2h0M1487.5 245.3h0M1522.0 129.7h0M1475.8 118.0h0M1634.8 229.7h0M1477.5 245.8h0M1466.1 151.6h0M1495.8 240.8h0M1590.2 273.4h0M1508.2 266.5h0M1482.5 155.9h0M1611.2 155.5h0M1653.3 143.6h0M1604.4 282.0h0M1610.0 193.2h0M1464.3 131.6h0M1469.8 243.3h0M1586.9 281.7h0M1618.3 202.6h0M1621.7 205.7h0M1458.7 194.6h0M1655.7 145.8h0M1475.0 173.0h0M1598.4 166.0h0M1527.0 131.8h0M1536.0 140.7h0M1634.6 194.9h0M1615.7 181.3h0M1621.1 143.5h0M1508.7 286.8h0M1476.0 231.2h0M1534.9 286.7h0M1457.5 246.7h0M1647.8 148.1h0M1550.0 297.2h0M1489.6 142.1h0M1663.8 138.5h0M1622.7 170.2h0M1464.3 166.4h0M1531.7 108.8h0M1508.0 274.9h0M1651.2 202.0h0M1638.0 233.0h0M1603.6 257.4h0M1471.5 140.4h0M1462.4 157.1h0M1485.8 286.2h0M1486.1 262.3h0M1529.0 196.9h0M1639.7 168.7h0M1566.1 149.9h0M1556.8 221.9h0M1459.5 210.5h0M1597.0 277.4h0M1552.8 306.2h0M1516.9 265.5h0M1506.2 220.0h0M1620.3 254.3h0M1530.0 148.8h0M1583.6 261.8h0M1470.4 240.8h0M1558.2 254.3h0M1473.1 170.9h0M1529.4 149.5h0M1449.1 134.8h0M1486.0 261.8h0M1578.6 155.2h0M1533.4 129.4h0M1444.2 165.3h0M1552.6 295.8h0M1612.1 268.4h0M1634.9 237.0h0M1525.7 188.1h0M1485.9 120.0h0M1489.7 150.6h0M1479.2 126.4h0M1653.6 139.6h0M1649.4 193.8h0M1485.3 222.1h0M1500.2 246.4h0M1639.8 246.1h0M1526.8 113.1h0M1595.2 253.7h0M1602.4 295.3h0M1557.9 267.7h0M1460.9 236.4h0M1574.5 314.5h0M1486.0 116.0h0M1553.4 146.4h0M1536.1 132.4h0M1452.7 213.1h0M1542.3 108.3h0M1595.2 157.1h0M1504.7 293.4h0M1513.9 150.5h0M1618.6 255.5h0M1577.3 298.8h0M1496.2 248.4h0M1453.5 146.4h0M1645.1 156.5h0M1522.0 208.4h0M1617.8 176.1h0M1442.2 139.0h0M1566.7 332.8h0M1513.1 287.8h0M1558.8 293.4h0M1452.0 205.3h0M1519.3 135.8h0M1514.8 156.7h0M1562.5 351.9h0M1594.2 294.6h0M1615.2 183.9h0M1476.9 129.6h0M1484.5 186.5h0M1650.6 143.7h0M1473.2 240.4h0M1523.4 308.4h0M1538.7 142.1h0M1531.2 121.7h0M1610.6 141.9h0M1458.2 158.3h0M1469.5 164.3h0M1533.5 121.7h0M1647.9 191.3h0M1600.6 220.5h0M1537.7 118.1h0M1491.6 239.8h0M1560.1 116.3h0M1625.0 143.4h0M1544.1 123.7h0M1616.3 232.1h0M1553.9 239.2h0M1577.4 238.6h0M1451.0 146.7h0M1469.4 167.2h0M1615.3 185.1h0M1519.0 321.2h0M1556.9 228.7h0M1575.8 258.9h0M1638.8 166.3h0M1623.1 144.1h0M1469.1 157.3h0M1506.2 159.7h0M1555.4 118.1h0M1622.5 196.2h0M1567.9 304.8h0M1480.7 207.8h0M1452.8 173.9h0M1513.2 224.6h0M1438.8 128.4h0M1578.6 331.9h0M1587.5 235.0h0M1532.9 328.5h0M1551.2 146.8h0M1461.3 267.1h0M1472.9 238.9h0M1662.2 167.8h0M1451.9 149.4h0M1478.0 148.9h0M1486.8 113.8h0M1482.7 277.4h0M1571.6 124.8h0M1610.1 248.2h0M1523.4 242.0h0M1469.0 127.5h0M1487.7 197.3h0M1466.6 231.1h0M1596.6 123.3h0M1500.2 147.8h0M1548.4 303.6h0M1579.8 110.5h0M1511.8 213.2h0M1633.6 276.5h0M1636.0 127.2h0M1594.7 131.5h0M1474.1 225.5h0M1605.3 253.3h0M1646.8 199.7h0M1633.3 248.7h0M1465.3 237.9h0M1597.8 131.6h0M1651.5 190.1h0M1541.3 114.0h0M1538.6 246.1h0M1509.9 113.0h0M1598.9 253.8h0M1519.3 217.9h0M1619.0 259.0h0M1505.5 149.3h0M1634.5 135.9h0M1535.6 248.6h0M1615.8 197.2h0M1620.0 227.4h0M1565.2 139.6h0M1464.1 273.6h0M1556.0 171.7h0M1475.5 137.3h0M1638.5 248.4h0M1606.6 250.8h0M1559.9 321.0h0M1615.2 207.2h0M1536.9 265.6h0M1482.9 282.3h0M1540.3 191.9h0M1459.8 153.7h0M1490.6 153.2h0M1623.4 121.9h0M1644.1 207.8h0M1530.5 320.8h0M1549.9 292.6h0M1587.1 316.8h0M1636.3 203.6h0M1557.7 290.9h0M1588.2 153.3h0M1494.7 291.0h0M1452.5 217.3h0M1565.1 112.3h0M1581.5 126.0h0M1630.3 170.9h0M1604.5 171.6h0M1621.7 122.6h0M1579.0 281.5h0M1460.9 176.8h0M1488.6 198.3h0M1600.0 299.4h0M1575.9 201.2h0M1630.7 247.8h0M1580.1 321.4h0M1600.8 260.4h0M1595.8 272.3h0M1474.9 208.9h0M1509.5 304.2h0M1479.1 248.3h0M1622.2 223.6h0M1644.5 216.8h0M1639.9 165.8h0M1454.8 225.7h0M1444.1 151.4h0M1510.5 267.7h0M1471.1 195.2h0M1621.3 178.5h0M1532.3 111.7h0M1552.9 342.0h0M1634.7 242.7h0M1451.8 177.6h0M1517.9 206.5h0M1569.3 329.9h0M1639.1 169.9h0M1606.3 265.1h0M1522.0 129.8h0M1454.1 122.3h0M1635.2 209.9h0M1600.5 309.5h0M1477.4 267.0h0M1568.6 111.5h0M1599.7 272.6h0M1574.3 113.0h0M1504.8 239.3h0M1554.0 131.7h0M1592.6 303.6h0M1639.5 184.6h0M1605.3 291.5h0M1476.4 279.6h0M1564.0 125.5h0M1491.4 239.9h0M1494.2 266.8h0M1615.9 288.4h0M1600.0 146.1h0M1588.8 281.9h0M1555.1 142.9h0M1574.2 279.5h0M1593.1 301.8h0M1564.8 147.1h0M1469.3 253.7h0M1641.1 144.0h0M1462.3 206.1h0M1624.8 157.3h0M1642.2 176.6h0M1464.6 204.0h0M1547.1 171.8h0M1651.4 181.5h0M1447.4 188.4h0M1561.1 309.9h0M1481.1 232.4h0M1489.4 202.4h0M1546.3 268.9h0M1645.1 223.3h0M1495.1 281.7h0M1639.5 224.7h0M1454.3 136.7h0M1515.5 105.8h0M1503.6 118.7h0M1606.6 134.0h0M1523.3 321.2h0M1449.7 143.8h0M1634.9 181.8h0M1612.0 205.6h0M1506.2 210.3h0M1491.8 200.2h0M1556.2 155.8h0M1517.8 314.6h0M1630.2 278.6h0M1623.9 131.1h0M1542.6 339.9h0M1487.7 178.3h0M1591.5 148.2h0M1567.4 178.6h0M1634.0 237.9h0M1622.2 120.9h0M1575.1 111.6h0M1653.8 130.2h0M1607.2 273.8h0M1642.3 222.4h0M1595.4 311.3h0M1631.7 223.4h0M1487.2 146.1h0M1469.4 249.2h0M1474.3 265.1h0M1571.6 113.1h0M1580.3 120.9h0M1586.9 300.1h0M1500.8 145.5h0M1577.3 187.3h0M1643.9 165.4h0M1488.0 234.0h0M1487.2 193.4h0M1514.3 311.8h0M1571.7 130.6h0M1584.8 283.9h0M1589.7 181.5h0M1591.9 121.1h0M1498.7 250.2h0M1612.4 281.6h0M1460.6 219.5h0M1656.8 138.7h0M1503.4 274.7h0M1641.4 190.1h0M1637.0 234.6h0M1593.7 311.0h0M1471.9 120.5h0M1609.5 202.0h0M1466.6 193.2h0M1479.9 273.2h0M1487.1 164.4h0M1541.8 142.3h0M1545.1 98.8h0M1626.8 130.0h0M1463.0 225.5h0M1625.4 174.0h0M1659.8 166.3h0M1645.1 225.2h0M1602.3 187.2h0M1458.6 243.3h0M1627.4 171.8h0M1530.0 310.4h0M1550.1 160.7h0M1502.3 112.6h0M1571.0 240.2h0M1579.5 290.4h0M1471.8 197.5h0M1598.4 291.3h0M1568.3 148.1h0M1636.7 254.3h0M1600.3 279.6h0M1569.7 189.2h0M1638.8 241.6h0M1599.1 242.2h0M1554.7 292.2h0M1648.1 182.8h0M1550.7 142.9h0M1593.4 181.9h0M1580.3 285.5h0M1450.2 152.7h0M1526.3 327.8h0M1566.6 316.9h0M1468.6 152.0h0M1651.9 150.8h0M1596.9 280.1h0M1547.5 299.4h0M1629.8 200.4h0M1478.8 169.5h0M1490.5 169.0h0M1524.9 319.4h0M1476.7 146.3h0M1594.2 113.9h0M1575.8 257.3h0M1570.0 226.4h0M1485.1 250.4h0M1448.3 155.5h0M1481.1 139.4h0M1628.3 225.7h0M1575.8 204.3h0M1573.6 314.4h0M1569.8 246.9h0M1620.9 276.7h0M1553.1 111.5h0M1615.0 226.8h0M1572.7 114.7h0M1581.7 275.2h0M1556.7 345.1h0M1503.7 295.3h0M1641.2 197.4h0M1498.1 125.1h0M1488.2 267.1h0M1494.9 145.3h0M1620.8 292.2h0M1471.0 131.5h0M1573.7 129.5h0M1607.9 150.9h0M1564.5 334.1h0M1608.2 299.0h0M1490.6 119.0h0M1542.2 340.0h0M1549.9 156.4h0M1512.5 130.3h0M1465.4 228.6h0M1506.4 264.6h0M1518.1 248.2h0M1613.6 271.2h0M1565.2 295.5h0M1528.8 121.3h0M1646.6 203.5h0M1654.5 142.8h0M1452.4 143.1h0M1508.7 134.5h0M1642.9 210.1h0M1594.4 177.0h0M1477.5 147.4h0M1449.9 166.7h0M1635.3 257.7h0M1561.6 133.4h0M1574.6 157.0h0M1574.5 279.1h0M1604.3 132.6h0M1618.6 197.2h0M1579.2 214.2h0M1538.6 328.5h0M1484.9 125.3h0M1545.5 121.3h0M1624.5 147.5h0M1473.5 277.1h0M1539.5 288.4h0M1478.2 125.2h0M1646.7 202.2h0M1565.7 287.4h0M1561.8 253.6h0M1654.3 136.5h0M1645.7 138.6h0M1520.8 107.0h0M1640.1 136.2h0M1458.3 125.2h0M1529.0 139.1h0M1477.6 119.2h0M1538.9 183.8h0M1606.7 158.6h0M1655.3 190.3h0M1568.6 304.8h0M1607.0 159.5h0M1513.1 130.9h0M1534.0 298.3h0M1590.8 283.2h0M1603.4 232.2h0M1593.5 298.1h0M1592.0 306.6h0M1603.6 274.1h0M1635.1 180.2h0M1469.2 198.1h0M1577.9 255.9h0M1595.9 189.5h0M1613.3 124.6h0M1584.8 196.6h0M1500.7 267.9h0M1585.8 318.6h0M1533.0 120.9h0M1516.5 149.3h0M1598.0 116.1h0M1570.3 149.0h0M1504.0 286.7h0M1621.4 266.5h0M1612.0 200.2h0M1523.3 287.7h0M1483.2 286.1h0M1576.2 297.5h0M1600.6 278.3h0M1459.7 238.7h0M1539.4 155.4h0M1568.1 242.7h0M1478.2 168.2h0M1651.0 150.9h0M1606.7 221.4h0M1569.6 115.9h0M1647.8 141.1h0M1560.3 141.1h0M1612.5 134.6h0M1520.2 285.3h0M1595.2 145.0h0M1627.4 264.7h0M1609.1 185.4h0M1548.2 121.6h0M1547.0 127.1h0M1477.1 260.9h0M1472.4 168.2h0M1452.7 202.2h0M1541.6 237.9h0M1541.4 160.5h0M1460.1 133.7h0M1489.3 264.7h0M1481.4 177.6h0M1499.9 217.1h0M1578.3 148.1h0M1445.0 128.3h0M1526.8 294.5h0M1607.0 220.4h0M1646.2 176.0h0M1637.9 233.2h0M1576.0 151.3h0M1638.4 202.4h0M1472.5 193.7h0M1617.1 118.9h0M1610.9 286.8h0M1606.1 271.8h0M1591.8 322.5h0M1525.4 135.2h0M1653.3 176.2h0M1540.5 336.6h0M1655.6 188.1h0M1522.4 243.6h0M1479.1 208.8h0M1571.7 257.9h0M1488.5 275.2h0M1470.2 130.6h0M1515.5 182.6h0M1554.3 296.6h0M1571.0 328.5h0M1521.7 147.0h0M1591.2 136.6h0M1510.0 301.6h0M1479.5 118.7h0M1576.2 280.3h0M1586.7 118.1h0M1539.6 309.1h0M1624.3 196.8h0M1583.7 301.3h0M1482.3 202.8h0M1523.9 206.5h0M1527.3 253.6h0M1556.7 269.5h0M1624.8 144.1h0M1477.3 252.6h0M1598.0 242.7h0M1460.7 221.8h0M1595.5 263.2h0M1481.5 187.6h0M1634.3 135.1h0M1637.9 266.3h0M1604.2 140.0h0M1470.6 215.8h0M1630.3 142.9h0M1445.1 151.3h0M1507.7 306.6h0M1528.2 324.7h0M1635.4 277.4h0M1580.0 308.9h0M1545.8 255.9h0M1488.2 115.3h0M1641.5 261.3h0M1485.8 145.0h0M1547.5 115.0h0M1486.7 224.8h0M1634.8 277.8h0M1546.2 118.1h0M1519.4 284.9h0M1466.7 262.0h0M1611.1 261.3h0M1492.1 241.0h0M1493.0 284.3h0M1491.0 136.2h0M1521.3 315.5h0M1506.3 117.8h0M1580.2 290.7h0M1610.4 201.2h0M1536.1 336.5h0M1444.2 157.8h0M1599.2 251.1h0M1636.8 183.5h0M1639.4 214.8h0M1628.1 141.1h0M1649.8 148.1h0M1551.2 273.3h0M1655.2 138.7h0M1578.1 276.3h0M1518.9 262.8h0M1549.9 135.1h0M1629.9 267.6h0M1498.7 111.4h0M1535.6 131.6h0M1472.8 116.7h0M1641.3 157.9h0M1568.2 296.7h0M1552.4 258.9h0M1458.5 260.6h0M1526.6 108.3h0M1582.8 155.6h0M1512.9 214.0h0M1581.2 234.1h0M1605.6 236.4h0M1491.8 211.2h0M1621.0 175.2h0M1634.6 183.8h0M1642.6 182.6h0M1513.9 318.2h0M1509.0 132.2h0M1595.8 153.3h0M1491.8 252.7h0M1544.2 341.1h0M1507.7 147.9h0M1650.9 187.8h0M1511.7 304.5h0M1571.9 138.7h0M1443.4 128.2h0M1565.8 144.9h0M1515.9 293.1h0M1477.6 234.7h0M1493.6 118.1h0M1567.6 306.3h0M1643.9 187.5h0M1465.8 251.4h0M1650.3 205.7h0M1610.2 260.3h0M1474.5 260.2h0M1481.2 240.5h0M1506.0 111.5h0M1454.8 162.6h0M1487.6 293.9h0M1650.0 196.4h0M1615.5 167.1h0M1504.9 192.2h0M1607.9 302.9h0M1509.8 148.7h0M1518.8 210.4h0M1522.7 319.8h0M1466.2 254.8h0M1470.8 166.6h0M1470.8 147.6h0M1541.0 318.0h0M1604.6 213.4h0M1567.0 223.5h0M1487.7 254.1h0M1584.8 297.4h0M1612.8 158.5h0M1582.6 216.9h0M1567.0 115.8h0M1536.0 289.5h0M1590.2 295.0h0M1622.7 294.5h0M1516.6 295.5h0M1602.2 220.7h0M1474.2 192.4h0M1557.8 288.1h0M1604.3 298.7h0M1615.2 295.3h0M1635.1 175.6h0M1506.9 310.3h0M1635.8 201.3h0M1446.8 147.6h0M1522.0 324.0h0M1594.4 161.8h0M1583.5 227.6h0M1553.7 175.4h0M1526.4 150.8h0M1538.7 209.7h0M1470.5 201.7h0M1639.6 177.7h0M1493.7 201.7h0M1582.3 141.7h0M1511.8 136.1h0M1459.4 214.1h0M1461.4 247.8h0M1545.8 212.7h0M1591.1 136.9h0M1496.5 212.0h0M1513.1 242.3h0M1562.8 295.0h0M1560.9 330.7h0M1516.1 302.7h0M1617.5 152.0h0M1600.7 232.4h0M1507.1 125.9h0M1615.1 154.9h0M1582.1 208.0h0M1646.0 230.7h0M1588.4 305.7h0M1616.6 161.8h0M1522.6 136.8h0M1541.3 318.3h0M1570.0 140.4h0M1646.5 150.5h0M1643.8 239.8h0M1547.5 291.2h0M1598.6 218.6h0M1510.5 314.7h0M1553.7 139.2h0M1554.9 348.4h0M1481.7 189.4h0M1630.0 193.4h0M1605.5 272.1h0M1638.6 216.5h0M1512.2 160.2h0M1516.8 159.9h0M1606.0 292.1h0M1604.8 134.1h0M1561.1 141.0h0M1476.3 123.2h0M1567.0 337.3h0M1474.9 185.9h0M1532.5 315.7h0M1532.1 301.5h0M1593.9 312.9h0M1547.3 127.9h0M1592.6 124.8h0M1577.6 327.6h0M1629.2 160.5h0M1506.5 311.6h0M1583.1 290.7h0M1522.8 112.3h0M1566.5 126.8h0M1574.7 165.9h0M1571.9 217.9h0M1523.6 119.7h0M1495.7 129.4h0M1479.5 172.7h0M1483.9 186.2h0M1509.4 197.5h0M1461.3 149.5h0M1526.8 229.6h0M1581.4 139.2h0M1519.9 310.6h0M1598.1 130.8h0M1604.1 296.2h0M1494.0 123.6h0M1583.3 328.0h0M1484.0 277.9h0M1599.1 135.2h0M1598.8 295.4h0M1560.2 347.2h0M1587.6 216.4h0M1476.1 253.7h0M1471.9 239.0h0M1633.5 197.6h0M1578.4 289.0h0M1440.6 126.7h0M1449.3 175.0h0M1491.5 289.8h0M1484.2 214.2h0M1606.9 276.1h0M1627.6 286.5h0M1588.6 172.1h0M1552.8 345.0h0M1465.8 178.7h0M1477.7 133.0h0M1488.8 256.7h0M1470.3 221.8h0M1548.6 292.3h0M1601.2 208.2h0M1558.1 308.3h0M1557.2 354.0h0M1563.8 299.2h0M1548.9 301.5h0M1603.9 274.9h0M1668.3 134.8h0M1654.5 203.8h0M1600.0 291.6h0M1561.2 172.8h0M1608.1 303.0h0M1630.6 279.5h0M1476.6 145.4h0M1651.9 220.5h0M1565.5 197.1h0M1514.8 210.4h0M1459.8 243.9h0M1602.1 237.4h0M1545.5 293.3h0M1458.4 147.9h0M1510.1 112.3h0M1505.9 202.8h0M1539.3 165.9h0M1496.4 144.1h0M1616.3 254.9h0M1479.6 208.9h0M1638.8 167.9h0M1513.8 315.0h0M1442.1 133.6h0M1460.4 183.1h0M1499.2 254.4h0M1597.8 131.8h0M1638.4 188.4h0M1469.3 184.2h0M1479.7 167.6h0M1560.3 202.7h0M1485.4 196.8h0M1491.3 180.1h0M1535.5 116.1h0M1459.0 212.5h0M1629.9 276.5h0M1605.7 239.0h0M1628.4 224.5h0M1597.7 258.5h0M1654.4 131.3h0M1493.7 261.7h0M1448.9 127.2h0M1615.9 214.8h0M1576.3 201.4h0M1610.6 244.1h0M1502.4 245.1h0M1579.5 275.2h0M1643.1 218.5h0M1486.9 264.1h0M1545.1 303.8h0M1536.7 319.5h0M1476.9 265.6h0M1585.9 166.4h0M1505.2 292.5h0M1641.1 204.5h0M1535.3 145.4h0M1583.3 233.9h0M1455.7 196.6h0M1582.0 317.4h0M1638.6 240.5h0M1661.5 165.2h0M1470.8 153.7h0M1524.4 128.8h0M1497.5 270.3h0M1591.9 126.1h0M1479.2 182.1h0M1522.5 131.5h0M1562.2 294.5h0M1562.2 110.2h0M1470.8 278.8h0M1584.3 278.4h0M1567.8 149.6h0M1469.9 268.8h0M1512.7 285.8h0M1473.8 129.0h0M1455.6 175.6h0M1481.7 190.1h0M1525.2 305.5h0M1517.0 291.2h0M1616.2 166.0h0M1490.1 237.7h0M1461.5 206.2h0M1518.0 185.5h0M1613.2 233.0h0M1551.2 319.0h0M1562.6 283.7h0M1610.2 286.8h0M1526.2 136.9h0M1474.7 121.3h0M1549.2 318.7h0M1628.2 148.2h0M1488.7 176.0h0M1637.3 213.3h0M1605.0 241.0h0M1557.2 130.1h0M1657.6 155.4h0M1587.4 287.5h0M1569.0 152.3h0M1456.1 147.9h0M1632.8 176.3h0M1528.6 322.5h0M1609.5 132.4h0M1507.6 140.5h0M1563.5 287.9h0M1572.7 163.3h0M1587.6 153.0h0M1568.9 153.4h0M1475.5 247.8h0M1584.2 191.2h0M1439.7 138.2h0M1587.1 292.2h0M1516.0 244.6h0M1540.8 333.2h0M1470.9 204.6h0M1636.6 146.2h0M1471.7 264.8h0M1601.9 269.1h0M1497.3 226.0h0M1593.8 150.2h0M1527.9 121.7h0M1612.6 140.6h0M1500.2 112.4h0M1498.6 121.0h0M1637.4 191.2h0M1477.1 238.4h0M1615.5 173.1h0M1541.5 113.1h0M1487.1 121.0h0M1490.4 206.8h0M1621.1 286.9h0M1573.8 177.0h0M1462.1 218.6h0M1465.4 143.1h0M1606.0 280.1h0M1569.9 326.1h0M1485.2 202.9h0M1578.8 283.9h0M1484.3 177.0h0M1621.1 253.9h0M1529.8 298.8h0M1585.7 123.7h0M1654.5 139.5h0M1504.2 289.2h0M1479.2 230.0h0M1464.1 138.6h0M1618.3 121.0h0M1596.3 190.1h0M1595.6 208.8h0M1445.0 146.3h0M1570.7 161.9h0M1494.6 118.2h0M1492.0 173.4h0M1516.7 275.5h0M1591.5 197.1h0M1649.5 153.3h0M1510.7 198.5h0M1605.6 127.6h0M1622.6 175.9h0M1601.5 274.7h0M1599.8 265.5h0M1542.3 238.4h0M1599.4 183.8h0M1467.6 132.5h0M1498.7 259.9h0M1625.9 241.8h0M1493.4 276.1h0M1596.3 211.4h0M1474.5 262.2h0M1638.2 185.6h0M1618.2 165.7h0M1577.6 116.5h0M1513.5 223.7h0M1603.4 141.3h0M1627.0 171.5h0M1613.4 301.8h0M1541.1 296.3h0M1629.8 168.9h0M1640.5 126.0h0M1562.7 280.9h0M1539.0 208.4h0M1507.3 128.1h0M1625.6 277.3h0M1588.1 270.8h0M1628.2 142.9h0M1523.2 280.7h0M1482.9 257.3h0M1536.6 138.4h0M1540.1 122.5h0M1478.3 122.9h0M1458.9 214.2h0M1582.8 130.3h0M1624.7 146.6h0M1498.5 183.3h0M1609.2 210.7h0M1492.3 226.6h0M1476.6 171.3h0M1580.8 320.1h0M1552.6 277.3h0M1464.7 243.8h0M1543.7 318.9h0M1508.0 192.3h0M1468.4 238.7h0M1589.6 189.6h0M1634.3 194.4h0M1494.5 203.5h0M1540.4 321.9h0M1505.0 240.0h0M1565.9 280.3h0M1504.5 305.0h0M1643.2 214.9h0M1582.4 309.8h0M1664.3 162.4h0M1457.6 240.2h0M1595.8 122.4h0M1592.7 323.2h0M1464.0 226.0h0M1608.5 137.2h0M1517.3 115.3h0M1535.2 322.8h0M1604.7 309.5h0M1495.9 130.1h0M1519.6 302.1h0M1649.1 188.0h0M1591.8 308.4h0M1623.3 208.7h0M1576.4 118.6h0M1546.8 132.0h0M1536.4 124.3h0M1458.4 210.1h0M1554.1 336.1h0M1468.3 123.7h0M1662.6 150.5h0M1639.9 204.6h0M1549.0 152.0h0M1480.6 251.5h0M1591.5 147.6h0M1481.1 169.3h0M1462.8 194.8h0M1588.5 191.9h0M1492.0 266.8h0M1551.8 142.3h0M1572.8 321.4h0M1471.2 193.4h0M1451.1 178.4h0M1475.5 172.2h0M1511.6 148.1h0M1541.0 275.6h0M1471.3 239.5h0M1607.6 171.0h0M1573.5 310.5h0M1554.1 134.9h0M1614.4 212.3h0M1591.3 311.6h0M1584.4 153.1h0M1649.5 179.9h0M1517.3 248.3h0M1641.1 182.8h0M1541.3 148.2h0M1628.9 151.7h0M1640.4 140.5h0M1595.2 184.7h0M1591.8 118.1h0M1501.8 294.2h0M1450.0 198.4h0M1498.9 290.9h0M1583.5 205.3h0M1526.9 127.7h0M1551.3 122.3h0M1489.8 116.3h0M1582.3 116.8h0M1618.9 281.4h0M1609.3 256.3h0M1593.4 151.5h0M1473.0 150.7h0M1553.2 134.7h0M1466.2 126.9h0M1463.0 145.0h0M1468.1 253.4h0M1471.4 236.0h0M1598.0 240.2h0M1591.9 151.0h0M1595.8 316.6h0M1598.2 312.1h0M1633.5 231.5h0M1464.9 195.2h0M1505.0 180.3h0M1640.7 169.6h0M1478.7 187.9h0M1601.7 138.9h0M1580.0 205.2h0M1550.1 141.2h0M1635.7 169.3h0M1587.0 266.3h0M1549.3 328.6h0M1615.3 206.9h0M1633.5 214.2h0M1498.2 156.0h0M1536.0 118.8h0M1666.2 142.5h0M1583.2 201.0h0M1644.6 212.2h0M1515.5 113.3h0M1608.6 259.6h0M1450.5 128.0h0M1520.4 111.4h0M1652.5 134.3h0M1480.8 223.3h0M1599.1 115.2h0M1642.1 178.5h0M1451.7 199.7h0M1594.3 157.2h0M1455.0 128.9h0M1562.1 313.8h0M1585.8 144.3h0M1576.2 299.0h0M1468.1 146.4h0M1588.8 135.3h0M1474.6 197.4h0M1469.6 269.2h0M1594.6 196.3h0M1457.9 217.2h0M1628.2 199.0h0M1512.3 110.4h0M1477.9 127.9h0M1636.7 124.9h0M1473.0 197.1h0M1608.8 137.6h0M1616.5 201.1h0M1528.1 315.8h0M1446.5 125.1h0M1555.4 310.4h0M1522.0 107.2h0M1465.5 199.9h0M1605.0 128.9h0M1558.2 193.4h0M1510.5 150.8h0M1627.6 288.2h0M1519.7 222.5h0M1461.1 145.9h0M1567.4 202.1h0M1636.1 186.7h0M1490.9 251.1h0M1598.7 222.0h0M1611.6 292.4h0M1518.4 285.9h0M1575.8 331.0h0M1462.0 262.0h0M1585.7 206.2h0M1487.6 240.2h0M1557.0 163.8h0M1474.5 119.3h0M1617.2 269.1h0M1543.2 295.6h0M1637.7 128.7h0M1464.2 127.0h0M1582.7 286.7h0M1477.5 124.4h0M1463.2 122.7h0M1613.1 186.6h0M1639.5 215.8h0M1604.2 243.2h0M1480.0 247.8h0M1569.2 337.6h0M1577.7 331.7h0M1610.3 287.1h0M1548.2 229.0h0M1549.9 324.4h0M1481.7 207.3h0M1541.8 319.0h0M1453.9 187.4h0M1607.6 266.3h0M1524.6 148.5h0M1491.0 289.6h0M1640.1 268.1h0M1563.1 349.6h0M1573.5 254.0h0M1659.4 178.5h0M1491.5 183.2h0M1621.5 135.7h0M1551.6 239.5h0M1489.0 230.0h0M1503.5 194.2h0M1628.3 154.7h0M1594.9 122.0h0M1568.4 289.7h0M1549.6 305.5h0M1586.4 137.6h0M1479.9 246.9h0M1485.1 207.8h0M1642.5 199.2h0M1597.8 268.9h0M1551.8 215.6h0M1591.6 262.2h0M1523.9 109.7h0M1529.3 321.1h0M1559.1 265.7h0M1524.6 155.0h0M1633.1 262.7h0M1457.5 204.6h0M1575.5 151.1h0M1557.4 344.9h0M1557.5 125.7h0M1613.2 272.7h0M1636.0 265.5h0M1483.4 279.6h0M1548.4 110.4h0M1528.6 124.7h0M1607.8 244.9h0M1597.0 235.1h0M1662.9 134.1h0M1492.4 173.7h0M1601.4 279.0h0M1650.2 178.0h0M1523.9 213.2h0M1582.6 138.9h0M1647.4 127.9h0M1647.5 181.7h0M1605.1 194.6h0M1636.7 209.3h0M1525.3 324.1h0M1525.1 282.5h0M1620.1 284.9h0M1519.1 283.2h0M1525.3 106.2h0M1589.4 144.5h0M1502.5 116.7h0M1574.2 134.3h0M1475.5 119.5h0M1645.0 171.6h0M1629.1 217.4h0M1473.8 132.4h0M1630.9 209.7h0M1573.5 111.5h0M1579.4 134.9h0M1554.2 126.4h0M1454.4 157.5h0M1621.5 239.5h0M1594.9 281.9h0M1562.3 302.9h0M1555.2 298.1h0M1552.2 105.0h0M1658.5 160.0h0M1637.1 147.4h0M1451.0 200.3h0M1551.9 291.1h0M1616.3 212.7h0M1650.7 180.6h0M1496.5 141.3h0M1652.9 132.4h0M1616.0 262.2h0M1565.7 312.2h0M1563.1 337.3h0M1596.4 171.6h0M1604.6 228.0h0M1607.7 218.4h0M1542.9 110.8h0M1572.9 300.8h0M1559.3 144.0h0M1479.2 248.9h0M1610.0 176.8h0M1586.8 159.4h0M1626.8 165.2h0M1605.9 262.1h0M1598.2 166.6h0M1590.2 280.6h0M1611.3 149.9h0M1608.6 233.1h0M1468.4 131.4h0M1611.8 221.3h0M1547.7 144.3h0M1548.5 178.5h0M1553.9 308.1h0M1483.5 175.3h0M1520.5 256.0h0M1482.1 290.9h0M1603.5 117.7h0M1612.4 199.9h0M1559.1 137.3h0M1628.3 130.3h0M1606.1 182.2h0M1509.9 185.6h0M1569.5 285.3h0M1567.5 321.5h0M1483.5 211.4h0M1450.6 183.4h0M1526.1 282.3h0M1611.5 162.6h0M1532.9 285.2h0M1599.5 252.5h0M1636.9 241.5h0M1628.8 171.3h0M1627.3 193.3h0M1606.4 259.8h0M1462.5 224.3h0M1560.4 149.9h0M1541.8 108.8h0M1620.0 135.3h0M1458.7 251.6h0M1499.2 289.6h0M1526.2 198.6h0M1601.1 141.8h0M1473.1 139.2h0M1476.4 226.7h0M1607.7 215.9h0M1467.1 254.0h0M1504.5 275.8h0M1608.6 281.9h0M1575.2 116.3h0M1618.4 173.5h0M1576.8 308.6h0M1624.4 125.6h0M1492.0 147.8h0M1532.9 316.9h0M1557.5 119.8h0M1544.3 172.1h0M1552.5 268.9h0M1498.4 113.3h0M1613.1 217.4h0M1576.7 325.1h0M1618.5 284.5h0M1553.2 313.4h0M1623.5 184.0h0M1484.8 285.3h0M1466.7 161.6h0M1583.8 179.0h0M1596.1 229.4h0M1475.6 206.0h0M1635.0 215.6h0M1604.2 196.9h0M1527.0 115.4h0M1595.8 171.2h0M1452.3 184.8h0M1460.6 165.0h0M1499.3 270.4h0M1463.6 225.8h0M1476.6 251.5h0M1608.1 138.0h0M1448.1 193.3h0M1612.5 140.9h0M1536.6 141.8h0M1547.0 318.8h0M1638.9 261.5h0M1506.9 240.0h0M1619.1 207.6h0M1458.1 158.0h0M1526.3 316.0h0M1582.2 145.0h0M1531.2 131.9h0M1484.9 269.4h0M1609.2 140.3h0M1663.8 155.5h0M1554.3 309.8h0M1525.5 148.3h0M1481.8 141.5h0M1494.1 118.4h0M1566.8 126.1h0M1632.3 282.7h0M1553.1 309.1h0M1501.1 296.9h0M1503.9 309.2h0M1579.1 241.5h0M1637.7 178.8h0M1598.1 204.0h0M1474.4 261.5h0M1471.9 148.5h0M1606.8 204.1h0M1573.5 110.3h0M1530.0 290.0h0M1492.7 273.1h0M1605.8 201.8h0M1613.3 259.8h0M1455.0 128.0h0M1627.0 288.9h0M1586.2 239.4h0M1538.5 115.6h0M1648.8 128.6h0M1508.4 157.7h0M1594.6 164.2h0M1523.3 299.1h0M1483.0 284.7h0M1610.6 258.2h0M1608.7 269.8h0M1562.3 293.6h0M1511.3 278.5h0M1455.5 232.5h0M1535.2 123.9h0M1648.2 165.9h0M1630.0 139.2h0M1465.9 266.9h0M1481.6 221.5h0M1534.4 170.5h0M1505.0 272.0h0M1484.6 213.8h0M1599.9 123.3h0M1529.2 119.4h0M1485.0 115.0h0M1601.0 151.6h0M1601.0 258.7h0M1479.9 287.5h0M1605.4 123.5h0M1568.1 104.7h0M1467.7 209.3h0M1535.3 297.7h0M1567.6 255.9h0M1546.5 306.6h0M1607.0 206.0h0M1621.6 267.5h0M1585.0 167.2h0M1617.4 244.8h0M1496.9 204.8h0M1645.0 249.5h0M1648.5 147.2h0M1498.5 140.6h0M1518.9 158.3h0M1617.4 280.7h0M1489.6 200.7h0M1578.8 313.1h0M1599.1 129.2h0M1462.5 272.0h0M1516.1 307.5h0M1647.8 187.3h0M1547.1 311.7h0M1520.2 261.7h0M1618.0 140.0h0M1508.1 128.8h0M1564.3 140.7h0M1629.1 233.7h0M1594.8 133.5h0M1623.8 245.7h0M1654.5 191.3h0M1499.8 182.7h0M1613.5 194.0h0M1475.8 119.7h0M1618.4 219.4h0M1599.6 185.2h0M1558.9 132.3h0M1467.5 183.5h0M1533.1 315.1h0M1538.2 336.5h0M1483.6 136.2h0M1643.8 237.2h0M1656.5 168.6h0M1610.4 264.4h0M1655.2 184.8h0M1605.3 229.4h0M1576.5 331.2h0M1496.0 245.5h0M1597.3 138.9h0M1641.8 138.2h0M1565.6 336.0h0M1518.2 149.1h0M1488.4 234.0h0M1556.9 268.7h0M1562.1 139.3h0M1563.3 148.1h0M1542.6 192.3h0M1606.4 171.8h0M1651.8 171.0h0M1465.5 221.3h0M1580.2 317.2h0M1605.7 239.3h0M1530.3 301.5h0M1572.9 282.3h0M1455.8 166.2h0M1479.5 175.2h0M1510.6 267.3h0M1554.7 122.7h0M1609.5 137.9h0M1485.1 219.7h0M1591.8 286.8h0M1539.9 321.9h0M1503.2 152.8h0M1558.7 138.0h0M1545.5 333.2h0M1575.7 134.4h0M1483.1 164.4h0M1612.0 195.1h0M1554.0 129.5h0M1636.7 190.1h0M1487.3 163.5h0M1546.4 220.5h0M1603.9 243.4h0M1576.4 276.7h0M1529.2 143.9h0M1496.2 193.4h0M1604.9 260.9h0M1580.4 166.3h0M1580.8 224.5h0M1451.1 162.8h0M1647.1 146.7h0M1503.5 120.5h0M1485.3 289.6h0M1560.9 186.9h0M1613.7 252.2h0M1466.7 256.5h0M1488.3 141.2h0M1603.2 178.1h0M1495.7 281.8h0M1499.9 143.9h0M1505.0 125.4h0M1628.0 225.6h0M1558.8 195.8h0M1510.0 280.5h0M1501.1 147.7h0M1560.6 312.6h0M1569.5 270.1h0M1653.9 194.7h0M1473.1 253.9h0M1605.5 199.0h0M1553.6 327.2h0M1518.5 177.6h0M1460.3 207.7h0M1633.7 191.6h0M1543.1 321.2h0M1596.3 170.7h0M1471.3 212.4h0M1571.1 334.8h0M1636.4 233.1h0M1472.5 153.4h0M1466.8 257.5h0M1464.5 162.3h0M1571.8 131.8h0M1538.1 119.5h0M1617.4 255.4h0M1460.3 157.0h0M1505.2 277.4h0M1598.5 163.3h0M1467.1 159.9h0M1608.7 265.1h0M1499.1 252.2h0M1610.1 278.5h0M1456.9 141.3h0M1449.5 135.7h0M1579.1 310.5h0M1533.9 313.4h0M1526.8 136.0h0M1591.1 166.5h0M1479.1 287.0h0M1485.8 158.0h0M1469.1 159.7h0M1607.3 157.5h0M1557.8 283.7h0M1653.9 177.4h0M1547.4 297.3h0M1650.1 198.5h0M1614.3 166.8h0M1625.3 132.5h0M1571.2 246.8h0M1599.8 286.4h0M1545.1 337.1h0M1596.4 169.8h0M1597.3 185.5h0M1639.7 218.7h0M1566.1 139.4h0M1570.3 312.5h0M1659.6 183.2h0M1489.9 121.7h0M1480.4 168.6h0M1642.0 262.0h0M1476.9 215.7h0M1617.4 176.5h0M1574.0 107.8h0M1642.6 204.4h0M1589.8 186.8h0M1596.6 115.0h0M1618.2 227.9h0M1494.2 280.7h0M1480.3 228.4h0M1631.2 218.4h0M1568.0 171.3h0M1646.5 146.4h0M1557.0 328.7h0M1495.4 193.8h0M1483.3 290.3h0M1481.2 134.0h0M1570.3 338.8h0M1656.1 174.6h0M1612.5 235.4h0M1607.4 179.3h0M1519.7 147.4h0M1495.3 179.8h0M1495.4 176.4h0M1600.8 136.0h0M1472.4 177.5h0M1531.8 143.0h0M1500.6 161.4h0M1478.5 129.6h0M1515.3 220.0h0M1460.0 201.0h0M1648.0 236.1h0M1450.8 143.1h0M1595.0 279.6h0M1637.8 207.4h0M1444.0 133.7h0M1599.7 132.4h0M1541.4 172.2h0M1656.8 174.6h0M1577.1 285.4h0M1669.0 136.2h0M1591.2 131.4h0M1607.2 309.0h0M1521.6 291.5h0M1510.6 307.1h0M1456.4 152.9h0M1566.6 150.6h0M1444.4 125.4h0M1482.4 192.7h0M1500.3 119.6h0M1489.5 160.1h0M1478.4 138.4h0M1615.6 138.2h0M1551.7 192.2h0M1631.0 223.8h0M1618.3 196.7h0M1616.7 131.2h0M1610.3 180.7h0M1556.9 353.1h0M1603.4 235.8h0M1442.7 156.5h0M1495.0 226.2h0M1557.2 342.9h0M1590.4 165.0h0M1577.7 213.6h0M1499.4 176.9h0M1585.1 265.7h0M1519.1 263.0h0M1484.2 209.5h0M1585.6 132.2h0M1631.1 238.6h0M1489.9 268.5h0M1544.5 112.1h0M1628.9 137.5h0M1495.8 283.0h0M1596.3 300.7h0M1483.0 140.7h0M1559.5 136.0h0M1471.3 251.5h0M1476.1 164.4h0M1586.8 121.9h0M1516.4 319.5h0M1620.7 288.1h0M1657.0 180.3h0M1632.3 165.6h0M1454.0 159.4h0M1613.3 166.2h0M1567.9 187.8h0M1485.1 187.7h0M1571.3 108.8h0M1616.5 248.8h0M1563.9 296.5h0M1519.4 320.3h0M1552.0 308.3h0M1607.5 129.0h0M1500.9 121.1h0M1455.3 222.8h0M1488.1 158.4h0M1445.6 162.8h0M1512.4 156.0h0M1461.6 225.0h0M1485.4 120.3h0M1597.1 312.7h0M1572.4 132.9h0M1465.6 171.4h0M1633.6 281.6h0M1508.9 108.1h0M1628.3 234.6h0M1507.6 146.1h0M1652.3 177.9h0M1642.4 231.7h0M1491.2 166.5h0M1547.4 327.2h0M1479.1 143.5h0M1530.5 255.6h0M1488.5 163.2h0M1605.9 150.3h0M1576.3 303.8h0M1613.2 239.2h0M1588.7 184.1h0M1526.6 107.4h0M1467.0 136.7h0M1505.5 130.1h0M1478.6 284.5h0M1600.7 206.3h0M1550.0 119.7h0M1559.5 352.5h0M1556.2 235.6h0M1619.4 264.4h0M1635.7 207.1h0M1481.2 141.9h0M1562.0 263.6h0M1593.9 120.9h0M1507.5 167.7h0M1519.5 271.3h0M1449.9 158.5h0M1580.2 135.7h0M1532.6 137.7h0M1526.2 177.0h0M1581.4 199.1h0M1579.6 146.4h0M1501.0 272.6h0M1479.0 252.1h0M1524.0 302.5h0M1498.4 193.7h0M1525.2 127.0h0M1553.8 319.1h0M1612.1 285.5h0M1543.2 329.3h0M1563.6 274.7h0M1642.4 210.0h0M1474.0 235.2h0M1591.1 263.0h0M1575.8 279.0h0M1558.0 134.6h0M1507.6 305.3h0M1525.9 309.4h0M1576.5 276.8h0M1510.6 295.3h0M1641.5 259.1h0M1577.0 119.9h0M1645.3 180.4h0M1450.8 201.5h0M1654.2 152.2h0M1621.1 179.0h0M1621.9 133.9h0M1567.4 344.5h0M1571.3 320.8h0M1547.6 121.2h0M1618.1 199.4h0M1496.5 242.1h0M1556.6 107.4h0M1621.1 267.5h0M1615.1 272.4h0M1534.9 114.1h0M1612.1 235.4h0M1572.5 270.0h0M1613.1 225.2h0M1618.6 139.2h0M1463.6 149.6h0M1526.3 165.6h0M1531.1 305.9h0M1485.1 200.4h0M1509.0 117.1h0M1554.8 337.7h0M1610.1 257.3h0M1466.0 277.3h0M1502.7 127.5h0M1603.8 227.8h0M1573.2 292.4h0M1593.4 140.9h0M1533.0 199.7h0M1652.0 160.7h0M1622.2 226.2h0M1538.3 144.1h0M1489.1 235.2h0M1615.5 162.5h0M1597.2 265.0h0M1612.5 258.0h0M1470.2 275.2h0M1547.6 215.9h0M1479.0 243.0h0M1574.8 290.0h0M1511.3 275.9h0M1547.6 108.9h0M1609.2 184.4h0M1608.7 273.1h0M1496.1 246.4h0M1621.1 158.0h0M1563.2 123.5h0M1550.9 308.5h0M1514.7 161.2h0M1488.7 197.4h0M1555.0 199.5h0M1641.4 158.4h0M1559.1 142.2h0M1539.9 320.4h0M1594.7 130.0h0M1503.2 162.8h0M1464.2 228.7h0M1541.8 272.6h0M1545.0 333.4h0M1546.4 146.3h0M1621.8 223.7h0M1554.9 314.5h0M1576.2 264.1h0M1473.4 249.4h0M1445.6 166.9h0M1590.8 173.8h0M1492.1 210.4h0M1448.8 178.9h0M1621.6 293.8h0M1606.8 300.5h0M1614.7 169.9h0M1586.3 147.8h0M1573.0 329.4h0M1513.6 118.1h0M1589.2 326.6h0M1663.8 154.1h0M1498.9 113.6h0M1624.6 183.8h0M1494.4 223.0h0M1488.9 184.2h0M1552.2 171.5h0M1477.2 247.9h0M1494.3 214.8h0M1504.5 292.1h0M1650.9 167.7h0M1463.3 244.0h0M1529.4 161.2h0M1603.1 265.7h0M1571.9 302.8h0M1485.2 233.0h0M1573.3 293.1h0M1541.7 109.0h0M1651.1 216.7h0M1495.8 235.7h0M1636.0 157.9h0M1633.6 153.9h0M1598.0 259.6h0M1531.9 208.8h0M1485.1 119.9h0M1480.4 234.0h0M1534.6 300.9h0M1445.7 133.5h0M1519.1 312.4h0M1619.7 193.0h0M1587.5 171.5h0M1612.3 161.7h0M1586.6 130.3h0M1484.4 197.7h0M1512.3 273.4h0M1529.1 322.1h0M1552.8 126.5h0M1564.7 219.4h0M1522.5 289.9h0M1520.1 192.1h0M1554.7 303.8h0M1453.1 160.2h0M1641.5 157.1h0M1638.3 247.5h0M1495.2 241.6h0M1578.0 117.8h0M1632.6 284.4h0M1587.4 314.2h0M1605.5 267.7h0M1498.3 186.8h0M1621.4 281.8h0M1591.6 210.3h0M1504.9 162.5h0M1482.3 158.3h0M1559.8 332.3h0M1620.9 197.1h0M1445.2 148.9h0M1632.7 150.0h0M1524.8 325.5h0M1476.3 147.9h0M1541.8 324.3h0M1609.4 246.1h0M1569.7 137.0h0M1652.4 154.9h0M1495.6 294.6h0M1457.5 239.1h0M1497.3 202.0h0M1613.8 280.0h0M1491.0 140.4h0M1524.6 316.5h0M1485.1 185.1h0M1561.3 116.8h0M1487.3 177.4h0M1635.2 129.1h0M1516.6 294.9h0M1634.4 229.9h0M1445.9 151.7h0M1567.7 135.5h0M1473.0 173.4h0M1552.2 338.2h0M1513.9 168.9h0M1522.0 282.4h0M1601.5 295.3h0M1446.7 144.8h0M1535.7 309.9h0M1582.2 128.3h0M1526.7 277.1h0M1570.8 335.8h0M1599.9 211.1h0M1532.4 273.5h0M1530.3 139.8h0M1582.0 283.1h0M1529.9 132.2h0M1462.0 156.5h0M1577.7 115.8h0M1491.0 198.4h0M1456.0 185.9h0M1510.0 287.3h0M1540.4 334.5h0M1642.5 175.3h0M1529.4 276.4h0M1487.7 233.2h0M1533.5 323.4h0M1591.7 159.9h0M1479.8 167.2h0M1630.3 275.1h0M1481.2 162.0h0M1602.4 280.8h0M1622.2 181.9h0M1488.7 148.1h0M1583.1 317.6h0M1619.1 210.9h0M1645.0 146.4h0M1588.7 127.5h0M1477.5 244.1h0M1609.1 261.7h0M1487.6 289.2h0M1619.2 266.0h0M1649.4 228.0h0M1513.8 154.7h0M1571.4 139.3h0M1590.0 118.0h0M1547.1 342.9h0M1474.2 215.6h0M1574.2 224.5h0M1551.8 163.6h0M1531.0 293.8h0M1544.2 142.4h0M1644.7 152.8h0M1621.9 267.0h0M1630.9 157.9h0M1496.5 121.9h0M1566.3 131.2h0M1576.9 125.8h0M1559.6 225.4h0M1615.5 217.2h0M1632.9 200.3h0M1530.3 290.6h0M1515.6 121.4h0M1605.0 178.5h0M1611.6 235.4h0M1635.8 200.7h0M1620.4 150.5h0M1569.3 296.5h0M1598.5 286.7h0M1558.0 283.9h0M1477.2 248.7h0M1642.9 129.1h0M1503.9 238.7h0M1469.6 277.9h0M1490.0 158.5h0M1634.3 259.5h0M1488.5 157.0h0M1603.4 147.5h0M1508.2 183.2h0M1584.4 110.1h0M1631.2 206.8h0M1453.5 137.1h0M1639.6 243.7h0M1479.6 180.3h0M1442.4 148.8h0M1586.5 135.3h0M1608.2 227.0h0M1547.0 324.6h0M1523.0 133.1h0M1446.7 126.3h0M1615.3 296.6h0M1564.6 330.6h0M1444.3 163.3h0M1543.2 127.5h0M1496.5 146.4h0M1487.6 215.3h0M1459.6 202.8h0M1450.8 125.3h0M1572.2 245.9h0M1509.7 294.8h0M1493.2 185.8h0M1480.7 200.5h0M1502.8 141.0h0M1487.8 113.2h0M1631.1 265.7h0M1484.6 282.4h0M1562.1 312.5h0M1447.8 141.1h0M1477.0 214.2h0M1587.1 296.2h0M1570.9 216.8h0M1574.0 106.3h0M1562.2 146.0h0M1563.4 160.5h0M1564.5 154.1h0M1654.4 184.0h0M1477.4 177.3h0M1529.3 146.7h0M1561.9 149.7h0M1566.7 316.7h0M1454.3 180.4h0M1522.8 315.8h0M1605.6 160.0h0M1456.3 150.6h0M1494.8 123.3h0M1497.6 118.0h0M1625.2 144.5h0M1473.2 224.6h0M1452.6 206.2h0M1627.8 247.9h0M1496.3 202.9h0M1632.5 235.4h0M1552.2 112.5h0M1513.6 271.9h0M1604.1 125.1h0M1480.2 168.6h0M1548.6 130.0h0M1595.1 130.3h0M1638.2 229.0h0M1476.4 209.7h0M1459.1 256.7h0M1516.6 175.8h0M1507.1 196.9h0M1604.4 309.9h0M1519.5 177.9h0M1510.1 312.3h0M1455.9 142.0h0M1507.3 118.7h0M1600.4 139.6h0M1520.0 269.8h0M1553.1 313.1h0M1622.3 141.0h0M1476.9 133.1h0M1526.3 114.2h0M1455.5 124.1h0M1540.1 116.8h0M1592.0 134.5h0M1462.8 168.9h0M1469.0 263.3h0M1587.3 282.0h0M1547.4 343.2h0M1600.5 290.9h0M1639.7 230.2h0M1490.3 123.3h0M1439.6 136.6h0M1551.6 252.8h0M1480.3 118.0h0M1537.5 175.2h0M1472.1 173.7h0M1468.9 237.3h0M1584.5 133.4h0M1616.5 123.7h0M1459.5 185.6h0M1601.4 296.2h0M1629.7 189.4h0M1567.1 104.5h0M1506.9 169.2h0M1589.2 184.2h0M1554.6 252.6h0M1554.2 206.4h0M1461.3 120.5h0M1534.8 177.4h0M1492.9 134.3h0M1615.1 253.2h0M1533.5 103.4h0M1506.0 158.2h0M1592.4 320.9h0M1541.3 304.4h0M1466.0 259.1h0M1666.2 138.0h0M1563.0 264.1h0M1482.6 198.2h0M1502.8 133.4h0M1537.8 331.8h0M1463.8 230.7h0M1618.6 295.0h0M1578.9 111.0h0M1628.0 250.1h0M1500.8 127.1h0M1524.7 131.2h0M1626.1 128.7h0M1547.4 277.2h0M1512.1 127.7h0M1527.6 203.8h0M1583.0 310.7h0M1506.4 127.8h0M1568.7 219.6h0M1595.6 276.8h0M1602.6 284.0h0M1567.1 149.7h0M1465.1 192.5h0M1533.8 136.5h0M1498.1 271.5h0M1523.4 197.5h0M1552.3 325.4h0M1502.6 148.5h0M1554.2 322.1h0M1635.8 175.3h0M1491.3 118.0h0M1565.9 147.0h0M1600.6 134.4h0M1584.6 286.9h0M1491.4 177.8h0M1617.9 241.8h0M1452.2 178.9h0M1505.9 136.0h0M1522.5 154.2h0M1624.5 165.9h0M1462.2 143.7h0M1566.4 281.0h0M1551.1 312.1h0M1478.7 162.6h0M1521.2 135.4h0M1568.9 277.7h0M1562.5 300.3h0M1517.2 112.1h0M1586.5 316.5h0M1544.1 97.7h0M1528.1 284.7h0M1644.7 223.3h0M1502.0 291.6h0M1611.3 254.3h0M1618.6 162.7h0M1613.7 223.0h0M1529.1 227.9h0M1623.8 243.1h0M1589.7 318.5h0M1488.4 173.6h0M1580.3 334.0h0M1631.6 187.0h0M1472.3 248.3h0M1604.8 223.6h0M1568.6 341.3h0M1615.4 288.6h0M1492.7 228.7h0M1564.8 220.3h0M1598.3 308.3h0M1648.3 187.4h0M1591.9 136.3h0M1568.2 144.0h0M1566.6 298.8h0M1573.8 184.1h0M1453.4 203.1h0M1587.6 138.8h0M1563.6 188.0h0M1465.8 181.3h0M1568.6 298.2h0M1481.7 262.2h0M1540.1 295.6h0M1533.0 312.1h0M1458.2 199.5h0M1531.7 315.1h0M1567.4 187.4h0M1625.8 254.3h0M1456.0 145.6h0M1473.2 258.4h0M1470.5 145.4h0M1476.3 205.8h0M1551.5 333.6h0M1543.2 241.2h0M1656.0 131.6h0M1533.6 321.1h0M1625.2 287.4h0M1631.4 243.7h0M1603.5 162.2h0M1613.8 131.5h0M1621.4 138.6h0M1572.2 306.4h0M1609.1 192.1h0M1475.3 184.5h0M1623.4 227.0h0M1619.2 263.6h0M1649.8 193.7h0M1454.7 230.8h0M1624.3 150.2h0M1602.7 159.6h0M1451.4 137.6h0M1474.9 279.1h0M1556.0 304.0h0M1504.1 157.2h0M1453.2 201.1h0M1660.4 132.1h0M1462.2 180.6h0M1595.8 226.9h0M1589.6 294.4h0M1653.0 167.1h0M1585.6 209.5h0M1474.6 212.3h0M1525.7 149.9h0M1489.3 276.9h0M1578.0 258.9h0M1465.2 162.4h0M1551.0 132.9h0M1600.9 251.5h0M1601.1 197.1h0M1572.8 325.3h0M1498.5 140.7h0M1562.4 219.9h0M1506.4 269.6h0M1521.8 291.7h0M1493.7 269.3h0M1473.5 233.1h0M1508.7 300.0h0M1542.4 297.4h0M1621.1 173.4h0M1589.5 321.4h0M1627.1 203.1h0M1591.5 129.1h0M1473.2 172.5h0M1450.4 138.7h0M1453.5 145.3h0M1569.3 114.1h0M1498.3 257.6h0M1562.3 208.9h0M1467.7 174.9h0M1589.8 276.1h0M1502.3 248.2h0M1569.8 330.7h0M1610.6 118.7h0M1539.6 130.5h0M1638.1 226.2h0M1530.6 101.5h0M1608.8 135.8h0M1611.6 279.5h0M1487.0 266.3h0M1618.7 154.0h0M1505.0 151.5h0M1530.0 305.4h0M1588.3 271.8h0M1478.9 133.2h0M1484.6 289.9h0M1510.8 273.6h0M1446.5 135.5h0M1466.0 176.5h0M1539.6 139.0h0M1441.5 151.5h0M1557.3 137.6h0M1589.8 327.1h0M1608.4 271.1h0M1468.8 144.6h0M1475.4 156.1h0M1549.7 289.9h0M1593.1 283.2h0M1609.5 117.4h0M1521.6 322.3h0M1574.5 309.3h0M1623.4 130.4h0M1507.6 270.5h0M1519.3 195.9h0M1649.7 219.8h0M1655.3 138.9h0M1569.2 264.2h0M1616.9 131.9h0M1535.2 283.6h0M1599.9 169.8h0M1650.9 205.8h0M1567.0 108.9h0M1516.4 281.0h0M1549.3 341.3h0M1493.1 213.4h0M1523.3 283.9h0M1501.5 197.5h0M1639.3 245.6h0M1566.9 291.0h0M1466.2 256.6h0M1548.6 140.7h0M1477.1 244.5h0M1508.7 311.4h0M1557.1 298.8h0M1626.9 154.6h0M1449.3 130.7h0M1515.7 300.0h0M1469.4 272.0h0M1613.6 183.8h0M1603.3 146.2h0M1599.7 249.4h0M1460.3 156.9h0M1648.4 173.4h0M1469.9 217.2h0M1477.6 163.9h0M1461.3 265.4h0M1580.7 141.0h0M1648.6 174.3h0M1563.1 291.3h0M1656.4 197.9h0M1514.9 287.0h0M1535.8 334.0h0M1482.8 209.5h0M1492.6 276.5h0M1643.7 234.2h0M1584.4 320.4h0M1523.9 198.6h0M1559.3 145.1h0M1628.2 234.5h0M1472.4 271.5h0M1454.1 202.2h0M1526.3 302.8h0M1664.1 158.9h0M1591.1 114.1h0M1615.0 266.3h0M1492.5 117.2h0M1466.5 145.4h0M1515.0 302.2h0M1555.1 349.6h0M1510.5 268.3h0M1623.5 209.8h0M1635.9 240.5h0M1459.6 122.7h0M1448.6 137.7h0M1498.7 166.0h0M1625.9 124.6h0M1491.7 159.2h0M1650.0 162.9h0M1593.4 274.6h0M1641.1 172.7h0M1466.1 261.0h0M1466.8 165.4h0M1620.0 204.2h0M1642.2 160.2h0M1559.2 335.1h0M1623.1 235.7h0M1458.4 179.7h0M1488.7 202.8h0M1562.9 125.5h0M1581.4 253.0h0M1538.2 224.1h0M1479.1 140.3h0M1547.8 315.4h0M1530.1 301.3h0M1531.7 141.7h0M1542.1 199.2h0M1635.4 144.7h0M1547.9 337.9h0M1455.4 171.4h0M1557.9 278.5h0M1589.1 311.0h0M1567.9 261.1h0M1607.2 167.0h0M1486.4 250.9h0M1609.3 184.1h0M1483.4 226.8h0M1566.6 132.2h0M1456.2 125.4h0M1612.3 187.7h0M1589.4 211.7h0M1545.2 303.0h0M1473.2 190.7h0M1560.7 261.4h0M1616.4 276.7h0M1603.7 134.7h0M1548.7 339.3h0M1573.7 280.3h0M1509.2 286.5h0M1600.9 243.0h0M1605.4 219.7h0M1502.3 238.3h0M1620.7 132.3h0M1475.7 277.6h0M1472.1 231.4h0M1589.8 292.9h0M1567.6 303.8h0M1518.0 169.1h0M1628.4 200.5h0M1502.5 262.3h0M1557.8 148.0h0M1568.7 130.2h0M1517.9 106.1h0M1518.9 105.5h0M1577.3 208.5h0M1566.6 293.4h0M1506.9 270.8h0M1494.1 142.5h0M1596.2 279.9h0M1607.6 280.0h0M1492.8 177.2h0M1594.1 314.7h0M1509.8 137.2h0M1599.9 280.9h0M1633.7 156.0h0M1486.9 251.2h0M1528.6 115.8h0M1553.1 186.3h0M1619.1 274.9h0M1494.5 141.2h0M1594.2 130.2h0M1570.4 280.7h0M1603.1 185.3h0M1648.0 131.4h0M1627.9 192.7h0M1660.0 164.6h0M1634.3 191.7h0M1645.2 222.9h0M1553.9 305.4h0M1456.3 223.0h0M1451.4 181.4h0M1508.4 164.8h0M1451.6 174.1h0M1498.9 166.1h0M1582.6 261.7h0M1553.0 213.4h0M1571.1 153.6h0M1598.6 150.0h0M1455.3 164.2h0M1499.9 121.8h0M1599.9 191.7h0M1624.6 283.5h0M1501.5 305.9h0M1497.2 244.1h0M1631.7 142.1h0M1536.7 290.8h0M1546.5 111.5h0M1648.3 199.8h0M1452.6 217.5h0M1540.4 144.9h0M1568.3 261.7h0M1465.3 142.0h0M1462.6 234.1h0M1500.2 303.6h0M1596.4 299.0h0M1654.3 162.5h0M1508.7 157.8h0M1479.8 231.1h0M1471.9 141.7h0M1555.2 281.0h0M1586.8 139.5h0M1473.2 276.5h0M1628.2 174.8h0M1492.6 188.0h0M1601.0 120.7h0M1568.6 280.0h0M1469.4 275.0h0M1559.2 301.5h0M1590.0 153.3h0M1494.3 230.9h0M1646.0 145.3h0M1620.3 276.3h0" stroke="#2e0f45" stroke-width="1.75" stroke-linecap="round" fill="none"/><text x="0" y="0" transform="translate(1410.0 142.0) rotate(-25.0)" font-size="11.0" fill="#4d5870" text-anchor="middle" dominant-baseline="central" style="font-family:&quot;Liberation Sans&quot;">300</text><text x="0" y="0" transform="translate(1419.0 172.0) rotate(-25.0)" font-size="11.0" fill="#4d5870" text-anchor="middle" dominant-baseline="central" style="font-family:&quot;Liberation Sans&quot;">290</text><text x="0" y="0" transform="translate(1425.0 200.0) rotate(-25.0)" font-size="11.0" fill="#4d5870" text-anchor="middle" dominant-baseline="central" style="font-family:&quot;Liberation Sans&quot;">280</text><text x="0" y="0" transform="translate(1430.0 225.0) rotate(-25.0)" font-size="11.0" fill="#4d5870" text-anchor="middle" dominant-baseline="central" style="font-family:&quot;Liberation Sans&quot;">270</text><text x="0" y="0" transform="translate(1436.0 250.0) rotate(-25.0)" font-size="11.0" fill="#4d5870" text-anchor="middle" dominant-baseline="central" style="font-family:&quot;Liberation Sans&quot;">260</text><text x="0" y="0" transform="translate(1442.0 272.0) rotate(-25.0)" font-size="11.0" fill="#4d5870" text-anchor="middle" dominant-baseline="central" style="font-family:&quot;Liberation Sans&quot;">250</text><text x="0" y="0" transform="translate(1409.0 218.0) rotate(65.0)" font-size="11.0" fill="#4d5870" text-anchor="middle" dominant-baseline="central" style="font-family:&quot;Liberation Sans&quot;">Z Axis</text><text x="0" y="0" transform="translate(1448.0 287.0) rotate(-35.0)" font-size="11.0" fill="#4d5870" text-anchor="middle" dominant-baseline="central" style="font-family:&quot;Liberation Sans&quot;">110</text><text x="0" y="0" transform="translate(1460.0 300.0) rotate(-35.0)" font-size="11.0" fill="#4d5870" text-anchor="middle" dominant-baseline="central" style="font-family:&quot;Liberation Sans&quot;">120</text><text x="0" y="0" transform="translate(1477.0 315.0) rotate(-35.0)" font-size="11.0" fill="#4d5870" text-anchor="middle" dominant-baseline="central" style="font-family:&quot;Liberation Sans&quot;">130</text><text x="0" y="0" transform="translate(1497.0 332.0) rotate(-35.0)" font-size="11.0" fill="#4d5870" text-anchor="middle" dominant-baseline="central" style="font-family:&quot;Liberation Sans&quot;">140</text><text x="0" y="0" transform="translate(1518.0 352.0) rotate(-35.0)" font-size="11.0" fill="#4d5870" text-anchor="middle" dominant-baseline="central" style="font-family:&quot;Liberation Sans&quot;">150</text><text x="0" y="0" transform="translate(1472.0 343.0) rotate(45.0)" font-size="11.0" fill="#4d5870" text-anchor="middle" dominant-baseline="central" style="font-family:&quot;Liberation Sans&quot;">Y Axis</text><text x="0" y="0" transform="translate(1647.0 306.0) rotate(30.0)" font-size="11.0" fill="#4d5870" text-anchor="middle" dominant-baseline="central" style="font-family:&quot;Liberation Sans&quot;">350</text><text x="0" y="0" transform="translate(1632.0 323.0) rotate(30.0)" font-size="11.0" fill="#4d5870" text-anchor="middle" dominant-baseline="central" style="font-family:&quot;Liberation Sans&quot;">360</text><text x="0" y="0" transform="translate(1616.0 341.0) rotate(30.0)" font-size="11.0" fill="#4d5870" text-anchor="middle" dominant-baseline="central" style="font-family:&quot;Liberation Sans&quot;">370</text><text x="0" y="0" transform="translate(1593.0 360.0) rotate(30.0)" font-size="11.0" fill="#4d5870" text-anchor="middle" dominant-baseline="central" style="font-family:&quot;Liberation Sans&quot;">380</text><text x="0" y="0" transform="translate(1643.0 350.0) rotate(-55.0)" font-size="11.0" fill="#4d5870" text-anchor="middle" dominant-baseline="central" style="font-family:&quot;Liberation Sans&quot;">X Axis</text></g>
<g><polygon points="1919.5,98.7 2006.8,79.0 2131.6,102.9 2102.5,225.6 2023.5,299.5 1949.6,229.8" fill="#e2e6f1"/><polygon points="1924.7,103.9 2006.8,84.2 2125.4,105.0 2098.4,223.5 2023.5,294.3 1952.7,227.7" fill="#d7dcec"/><polygon points="1924.7,105.0 1967.3,93.5 1973.5,95.0 2006.8,80.4 2029.7,81.0 2035.9,84.6 2106.7,106.0 2121.2,106.6 2112.9,129.9 2038.0,134.1 1959.0,123.7" fill="#c7845c" stroke="#8a3a8a" stroke-width="0.8"/><path d="M1929.1,130.2 C1929.5,129.2 1928.0,127.2 1928.6,126.7 C1929.1,126.3 1930.9,128.4 1932.3,127.7 C1933.6,127.0 1936.0,123.7 1936.5,122.4 C1937.1,121.1 1935.3,121.0 1935.5,120.0 C1935.7,119.1 1936.6,117.4 1937.7,116.9 C1938.8,116.3 1940.7,116.5 1942.2,116.5 C1943.6,116.5 1945.1,118.0 1946.5,116.8 C1947.9,115.6 1949.1,110.2 1950.6,109.5 C1952.1,108.7 1954.2,112.8 1955.5,112.2 C1956.9,111.5 1957.0,107.1 1958.7,105.7 C1960.4,104.3 1963.4,104.2 1965.7,103.8 C1968.0,103.4 1970.2,103.2 1972.5,103.1 C1974.7,103.0 1977.7,104.3 1979.2,103.4 C1980.6,102.5 1979.6,98.9 1981.3,97.7 C1983.0,96.4 1987.3,95.7 1989.5,96.0 C1991.8,96.3 1992.6,100.1 1994.7,99.7 C1996.7,99.3 1999.8,94.5 2001.7,93.7 C2003.6,92.9 2003.9,94.7 2006.0,95.0 C2008.0,95.3 2011.8,95.7 2014.1,95.5 C2016.4,95.2 2018.6,93.6 2019.9,93.6 C2021.2,93.5 2020.9,94.8 2022.1,95.2 C2023.3,95.7 2024.9,96.6 2027.1,96.2 C2029.2,95.7 2032.2,92.7 2035.1,92.6 C2037.9,92.6 2042.2,95.7 2044.2,95.9 C2046.2,96.1 2045.3,93.8 2046.8,93.8 C2048.4,93.8 2050.6,95.7 2053.4,96.0 C2056.3,96.3 2062.1,95.2 2063.9,95.7 C2065.7,96.3 2062.4,98.9 2064.3,99.2 C2066.1,99.4 2072.6,97.3 2074.8,97.2 C2077.0,97.1 2075.6,97.3 2077.3,98.6 C2079.1,100.0 2082.8,104.3 2085.4,105.4 C2088.1,106.4 2091.1,104.2 2093.1,104.7 C2095.0,105.2 2096.2,108.3 2097.4,108.6 C2098.6,108.8 2099.3,105.6 2100.4,106.1 C2101.4,106.7 2102.5,110.4 2103.7,111.8 C2104.9,113.1 2106.1,113.6 2107.7,114.0 C2109.2,114.5 2111.9,113.3 2112.7,114.6 C2113.6,115.9 2112.7,120.2 2112.8,121.7 C2112.8,123.1 2112.9,122.9 2113.0,123.2 C2113.0,123.4 2113.2,122.2 2113.3,123.2 C2113.3,124.3 2113.8,127.9 2113.5,129.5 C2113.1,131.0 2111.4,130.6 2110.9,132.7 C2110.5,134.7 2110.2,139.3 2110.7,141.7 C2111.2,144.0 2114.3,145.5 2114.1,146.7 C2113.8,147.9 2109.5,147.5 2109.3,148.8 C2109.2,150.1 2113.2,153.3 2113.1,154.5 C2113.0,155.7 2109.9,155.0 2108.9,156.2 C2107.9,157.4 2107.3,160.4 2107.1,161.5 C2106.9,162.6 2107.4,161.6 2107.7,162.8 C2108.1,164.1 2109.1,166.9 2109.1,169.0 C2109.0,171.0 2108.0,173.5 2107.2,175.0 C2106.4,176.5 2104.3,176.3 2104.2,178.0 C2104.1,179.7 2107.0,183.9 2106.5,185.2 C2106.1,186.5 2101.8,184.6 2101.5,185.8 C2101.2,187.1 2104.8,190.9 2104.7,192.6 C2104.6,194.3 2101.4,195.0 2101.0,196.0 C2100.7,197.0 2102.3,197.1 2102.6,198.7 C2102.8,200.2 2103.8,203.3 2102.7,205.1 C2101.6,207.0 2097.1,208.6 2096.2,209.9 C2095.4,211.2 2097.5,211.2 2097.5,212.8 C2097.5,214.4 2097.0,217.8 2096.1,219.5 C2095.3,221.2 2092.6,221.8 2092.4,222.9 C2092.2,224.1 2095.3,225.2 2095.0,226.6 C2094.7,228.1 2091.6,229.9 2090.6,231.6 C2089.7,233.2 2090.1,236.1 2089.1,236.6 C2088.2,237.0 2086.3,233.5 2084.9,234.3 C2083.6,235.1 2082.2,240.3 2081.0,241.4 C2079.7,242.6 2078.1,240.4 2077.4,241.3 C2076.7,242.2 2077.7,245.4 2077.0,246.8 C2076.2,248.2 2074.1,249.1 2072.8,249.7 C2071.5,250.3 2070.0,249.3 2069.1,250.4 C2068.3,251.5 2069.2,254.4 2067.6,256.2 C2066.0,258.0 2061.0,260.3 2059.5,261.0 C2058.0,261.8 2059.0,260.0 2058.6,260.7 C2058.2,261.5 2058.4,265.0 2057.3,265.5 C2056.1,266.0 2053.8,263.5 2051.7,263.7 C2049.5,263.9 2045.4,265.8 2044.3,266.5 C2043.3,267.2 2046.8,266.9 2045.6,267.9 C2044.4,268.8 2039.2,271.2 2037.2,272.3 C2035.2,273.4 2034.2,274.0 2033.7,274.3 C2033.2,274.7 2034.4,274.1 2034.3,274.3 C2034.2,274.5 2034.7,275.0 2033.1,275.5 C2031.5,276.0 2026.7,276.8 2024.7,277.2 C2022.8,277.6 2021.9,277.3 2021.4,278.0 C2021.0,278.7 2022.6,281.0 2021.9,281.4 C2021.2,281.8 2017.8,281.0 2017.1,280.4 C2016.3,279.9 2018.6,278.9 2017.5,278.2 C2016.3,277.4 2010.8,276.5 2010.0,276.1 C2009.2,275.7 2013.4,276.1 2012.6,275.6 C2011.8,275.2 2006.6,274.1 2005.4,273.5 C2004.2,272.9 2006.3,272.9 2005.5,272.1 C2004.6,271.3 2001.2,269.7 2000.3,268.9 C1999.4,268.1 2001.0,268.4 2000.0,267.1 C1999.0,265.8 1994.8,262.6 1994.3,260.9 C1993.7,259.1 1996.9,257.3 1996.5,256.6 C1996.2,256.0 1993.9,257.7 1992.1,257.2 C1990.3,256.7 1987.5,255.2 1985.8,253.8 C1984.2,252.3 1983.3,249.1 1982.0,248.5 C1980.8,247.9 1979.3,250.7 1978.3,250.4 C1977.2,250.1 1976.9,247.8 1975.8,246.7 C1974.7,245.7 1972.9,245.0 1971.6,244.0 C1970.3,243.0 1969.3,242.2 1968.1,240.9 C1966.9,239.6 1966.0,237.6 1964.3,236.2 C1962.7,234.8 1959.5,233.5 1958.3,232.5 C1957.2,231.6 1958.3,231.7 1957.4,230.6 C1956.4,229.6 1953.7,227.6 1952.6,226.2 C1951.4,224.9 1950.5,224.5 1950.5,222.6 C1950.5,220.7 1952.9,216.5 1952.6,215.0 C1952.4,213.5 1950.0,214.5 1948.9,213.5 C1947.9,212.6 1946.9,210.3 1946.3,209.2 C1945.7,208.1 1945.6,208.1 1945.3,206.9 C1945.1,205.6 1944.5,203.4 1944.8,201.7 C1945.1,200.0 1947.6,199.0 1947.0,196.7 C1946.3,194.4 1941.5,190.1 1940.8,187.8 C1940.1,185.4 1942.4,183.9 1942.8,182.6 C1943.1,181.2 1943.3,181.4 1942.9,179.8 C1942.6,178.2 1941.2,174.5 1940.9,172.8 C1940.6,171.1 1941.8,170.7 1941.0,169.7 C1940.3,168.6 1937.1,168.0 1936.4,166.6 C1935.8,165.1 1937.3,162.6 1937.2,161.0 C1937.2,159.4 1936.5,158.5 1936.0,156.9 C1935.5,155.4 1934.7,153.4 1934.2,151.9 C1933.7,150.4 1933.1,148.5 1932.9,147.9 C1932.8,147.3 1933.5,149.0 1933.3,148.2 C1933.2,147.3 1932.0,144.7 1932.0,143.0 C1931.9,141.3 1933.0,138.8 1933.2,138.0 C1933.3,137.2 1933.9,139.4 1933.0,138.4 C1932.0,137.4 1928.7,133.2 1927.5,132.2 C1926.3,131.3 1925.5,133.2 1925.8,132.8 C1926.1,132.5 1928.6,131.2 1929.1,130.2Z" fill="url(#vrg)" stroke="#8a3a7a" stroke-width="1.1"/><rect x="1915" y="80" width="220" height="225" fill="#fff" filter="url(#vrT)" opacity="0.55" clip-path="url(#vrc)"/><g opacity="0.45"><path d="M2056.8 160.8h0M2006.4 182.4h0M2055.1 119.2h0M2042.0 139.7h0M2010.3 226.9h0M2080.7 233.8h0M1955.9 140.3h0M2025.0 239.2h0M2002.6 126.8h0M1989.5 141.2h0M1973.0 176.5h0M2052.7 122.4h0M2016.4 140.2h0M2072.8 197.4h0M1960.8 138.2h0M2055.7 218.8h0M1976.3 146.6h0M2012.9 109.0h0M2062.4 189.0h0M2026.7 109.1h0M2026.0 176.3h0M2078.1 191.8h0M1988.7 146.2h0M1971.3 177.7h0M1984.7 214.6h0M2058.3 177.8h0M2051.2 108.5h0M2002.4 136.9h0M2038.5 181.1h0M2083.1 193.3h0M1985.6 200.8h0M2051.6 185.9h0M2016.4 193.0h0M2000.3 145.2h0M2022.9 144.8h0M2045.3 236.5h0M2086.3 188.6h0M1996.2 264.4h0M1982.9 175.8h0M1972.2 227.4h0M1970.6 182.6h0M2011.7 248.0h0M2067.8 176.3h0M1989.1 148.3h0M2005.3 156.9h0M2003.3 204.7h0M2002.4 242.7h0M1980.6 137.9h0M2016.4 252.1h0M2063.4 132.6h0M2027.9 123.7h0M1973.3 139.7h0M2055.4 217.2h0M1981.7 255.8h0M2092.2 162.1h0M2031.0 260.6h0M2066.8 211.0h0M2085.9 131.7h0M1987.1 179.7h0M2036.5 239.6h0M2041.8 218.0h0M1983.6 184.3h0M2011.4 138.0h0M2054.8 160.0h0M2054.3 175.6h0M1999.0 226.1h0M1987.8 219.4h0M2085.2 161.1h0M2090.2 168.8h0M2008.1 133.5h0M1970.7 171.5h0M2045.0 215.6h0M2011.3 265.3h0M1982.8 210.6h0M2096.4 209.6h0M1982.9 173.0h0M1967.9 147.4h0M2087.5 173.1h0M2059.9 166.5h0M2023.2 121.3h0M1998.6 188.1h0M2030.5 139.0h0M2088.1 193.4h0M1975.4 127.4h0" stroke="#c89a2a" stroke-width="3.20" stroke-linecap="round" fill="none"/></g><g opacity="0.45"><path d="M2064.8 187.1h0M2029.9 257.9h0M2035.2 240.1h0M2027.8 167.6h0M1997.3 222.5h0M1976.4 143.6h0M2015.9 224.3h0M1959.4 136.6h0M2016.4 141.5h0M2089.4 177.0h0M2071.2 150.9h0M2069.7 184.4h0M1972.9 156.3h0M2001.6 186.0h0M2029.7 229.4h0M2044.0 167.1h0M2038.9 135.7h0M2031.4 253.1h0M1983.0 197.6h0M2040.7 220.8h0M2069.5 142.5h0M2021.9 244.1h0M2067.0 252.2h0M1993.0 264.8h0M2038.1 215.9h0M2061.2 185.0h0M2081.7 128.1h0M1975.8 212.7h0M2008.3 185.8h0M1985.0 136.3h0M2044.6 118.5h0M2054.6 105.8h0M1948.9 200.0h0M2041.1 99.9h0M2005.4 103.8h0M2036.7 210.1h0M2084.0 138.6h0M2033.0 263.1h0M2064.6 156.8h0M2046.9 162.7h0M2049.9 245.0h0M1969.2 141.8h0M2005.5 184.1h0M2031.9 202.7h0M1997.8 231.1h0M2018.0 106.1h0M1953.8 145.4h0M2008.5 226.9h0M2039.9 207.1h0M2062.6 197.2h0M1977.1 155.9h0M2042.5 104.2h0M2003.6 232.4h0M2029.2 97.5h0M2080.4 232.0h0M2042.3 237.3h0M1967.5 191.5h0M2071.6 197.5h0M2050.4 156.9h0M2025.5 104.7h0M2034.4 214.9h0M2071.7 118.7h0M1996.0 180.5h0M1998.2 203.2h0M2098.8 178.5h0M2045.5 225.4h0M1966.0 125.0h0M2078.3 205.4h0M2007.7 136.7h0M2049.6 182.5h0M1997.2 161.7h0M2017.9 200.7h0M2037.8 220.5h0M2016.4 196.2h0M1955.1 186.3h0M2000.6 250.6h0M2087.1 201.7h0M2067.4 253.1h0M2065.3 137.0h0M1972.8 122.7h0M2021.0 123.3h0M2076.0 163.7h0M1960.5 170.4h0M2013.8 109.3h0M2008.2 128.2h0M2039.8 140.0h0M1978.6 122.6h0M2035.9 265.7h0M1980.8 173.6h0M1974.2 221.6h0M2064.2 227.7h0M2005.3 154.0h0M2058.5 233.3h0M1948.1 198.8h0M2087.9 142.1h0M2092.5 198.8h0M1958.1 209.4h0" stroke="#f0ea40" stroke-width="3.20" stroke-linecap="round" fill="none"/></g><g opacity="0.45"><path d="M2072.5 116.6h0M1978.5 152.4h0M2017.0 182.4h0M2050.5 262.9h0M2033.0 265.4h0M1965.2 134.8h0M1999.2 166.5h0M2071.2 118.7h0M2077.2 136.6h0M1971.0 208.7h0M1974.5 159.1h0M1966.6 137.2h0M1993.5 239.3h0M2008.0 239.4h0M2062.8 216.1h0M2098.2 181.2h0M2012.9 116.2h0M2054.4 165.2h0M1989.3 214.3h0M1959.3 141.4h0M2065.9 203.1h0M2003.8 105.4h0M1945.7 186.3h0M1967.3 184.9h0M1985.6 147.1h0M2074.6 145.5h0M1978.1 170.9h0M1994.7 127.6h0M2055.6 253.1h0M2014.2 260.1h0M2073.9 139.6h0M1970.9 236.3h0M2092.1 187.7h0M2007.1 100.5h0M2013.7 158.9h0M2045.4 167.5h0M2033.5 138.3h0M2068.4 188.6h0M2070.7 242.6h0M2017.7 163.2h0M2050.2 225.9h0M2066.9 210.4h0M1959.9 224.0h0M2083.9 189.1h0M1975.9 232.7h0M2007.4 253.3h0M2038.0 236.2h0M2023.3 167.5h0M2053.2 125.3h0M2035.8 226.9h0M1971.0 210.7h0M2095.1 196.5h0M2015.9 185.1h0M2001.7 163.5h0M2030.3 235.3h0M2020.3 204.6h0M2035.6 181.8h0M1956.5 214.2h0M2073.1 231.2h0M1998.2 248.6h0M1956.8 195.9h0M2079.8 225.4h0M2069.6 160.7h0M1985.8 184.2h0M2008.8 158.7h0M2051.4 193.7h0M2067.4 112.2h0M2049.2 215.1h0M2081.9 156.1h0M1958.8 211.9h0M2067.5 131.8h0M2068.4 233.2h0M2026.6 210.1h0M2034.3 266.9h0M2079.4 230.9h0M2062.8 142.5h0M2055.0 214.2h0M1998.6 151.7h0M1957.9 213.8h0M2030.5 199.9h0M2071.0 139.7h0M2041.1 146.7h0M2015.6 156.3h0M2005.3 216.6h0M2084.8 169.1h0M2017.4 214.0h0M1982.4 139.6h0M1985.1 122.6h0M1998.6 121.3h0M2034.0 156.8h0M2072.9 204.9h0M1994.1 156.9h0M1974.6 132.3h0M2069.2 175.5h0M2058.7 121.2h0M1980.5 146.4h0M2013.3 214.7h0M1956.7 144.9h0M2025.8 266.8h0M2073.5 142.1h0M2011.5 214.2h0M2062.7 166.4h0M1966.6 126.9h0M2052.0 144.1h0M2073.3 133.9h0M2040.1 151.9h0M2059.6 156.9h0M1991.0 191.1h0M2043.2 263.5h0M1956.2 147.4h0M2003.2 104.4h0M1980.6 179.1h0M1968.2 190.4h0M1959.8 133.3h0M2061.3 117.2h0" stroke="#d4a83a" stroke-width="3.20" stroke-linecap="round" fill="none"/></g><g opacity="0.45"><path d="M1961.5 169.4h0M1978.1 213.7h0M2034.5 125.4h0M1997.3 252.0h0M1959.0 206.4h0M2001.1 112.2h0M1971.7 213.2h0M2074.9 148.6h0M2024.3 163.6h0M1988.8 241.7h0M2002.4 260.6h0M2045.9 164.4h0M1964.5 155.8h0M2032.8 237.7h0M2063.0 116.8h0M1987.2 238.7h0M2041.7 225.2h0M2005.7 112.2h0M2029.7 152.9h0M2019.9 167.2h0M1997.6 244.4h0M2099.6 203.0h0M2016.2 178.0h0M2056.9 248.3h0M2040.0 185.9h0M1991.3 138.7h0M2036.3 252.0h0M2070.7 240.6h0M2072.3 129.3h0M1956.9 207.3h0M2021.6 254.0h0M2059.8 170.2h0M1965.6 184.5h0M1995.2 139.8h0M1981.9 182.2h0M2026.4 230.3h0M2004.6 140.1h0M2024.3 157.1h0M2072.7 199.2h0M2025.1 213.5h0M2055.1 195.9h0M2064.5 253.6h0M2036.8 169.0h0M2068.2 181.3h0M2023.4 124.0h0M1964.7 153.6h0M1996.1 165.6h0M1965.8 175.0h0M2042.1 162.5h0M1983.5 189.1h0M2005.2 128.5h0M2018.8 271.1h0M2030.0 186.9h0M2076.1 241.3h0M2027.9 105.2h0M1981.1 128.6h0M1985.6 134.2h0M2073.6 142.0h0M2068.9 118.7h0M2019.3 144.5h0M2038.0 150.1h0M2019.4 191.8h0M2000.9 110.9h0M1954.7 214.9h0M2072.3 181.6h0M1962.1 164.7h0M2079.4 150.7h0M1977.3 135.3h0M2033.6 170.5h0M2063.8 203.9h0M2072.8 135.9h0M2013.5 222.8h0M1994.5 255.8h0M2087.8 191.1h0M1977.9 174.9h0M2042.1 218.4h0M2050.7 246.8h0M1994.7 264.3h0M2030.2 207.7h0M1967.1 198.5h0M1954.9 198.9h0M1995.9 105.6h0M1971.6 127.6h0M2018.5 198.5h0M2010.3 111.4h0M2029.6 216.5h0M2095.4 184.2h0M2008.8 97.8h0M1966.6 173.4h0M2014.4 210.8h0M1970.6 221.6h0M1981.2 239.7h0M2073.3 217.3h0M1966.0 234.4h0M1988.9 146.3h0M1963.0 171.4h0M2049.9 219.3h0M2001.8 253.7h0M2085.3 157.9h0M2064.0 141.3h0M1956.9 169.3h0M2058.2 246.4h0M2035.4 110.6h0M1996.9 203.1h0" stroke="#b8903a" stroke-width="3.20" stroke-linecap="round" fill="none"/></g><text x="0" y="0" transform="translate(1902.8 119.5) rotate(-25.0)" font-size="11.5" fill="#4d5870" text-anchor="middle" dominant-baseline="central" style="font-family:&quot;Liberation Sans&quot;">300</text><text x="0" y="0" transform="translate(1909.0 143.4) rotate(-25.0)" font-size="11.5" fill="#4d5870" text-anchor="middle" dominant-baseline="central" style="font-family:&quot;Liberation Sans&quot;">290</text><text x="0" y="0" transform="translate(1915.3 167.4) rotate(-25.0)" font-size="11.5" fill="#4d5870" text-anchor="middle" dominant-baseline="central" style="font-family:&quot;Liberation Sans&quot;">280</text><text x="0" y="0" transform="translate(1920.5 188.2) rotate(-25.0)" font-size="11.5" fill="#4d5870" text-anchor="middle" dominant-baseline="central" style="font-family:&quot;Liberation Sans&quot;">270</text><text x="0" y="0" transform="translate(1924.7 206.9) rotate(-25.0)" font-size="11.5" fill="#4d5870" text-anchor="middle" dominant-baseline="central" style="font-family:&quot;Liberation Sans&quot;">260</text><text x="0" y="0" transform="translate(1928.8 223.5) rotate(-25.0)" font-size="11.5" fill="#4d5870" text-anchor="middle" dominant-baseline="central" style="font-family:&quot;Liberation Sans&quot;">250</text><text x="0" y="0" transform="translate(1890.3 193.4) rotate(0.0)" font-size="11.5" fill="#4d5870" text-anchor="middle" dominant-baseline="central" style="font-family:&quot;Liberation Sans&quot;">z</text><text x="0" y="0" transform="translate(1934.0 238.1) rotate(-35.0)" font-size="11.5" fill="#4d5870" text-anchor="middle" dominant-baseline="central" style="font-family:&quot;Liberation Sans&quot;">110</text><text x="0" y="0" transform="translate(1946.5 250.6) rotate(-35.0)" font-size="11.5" fill="#4d5870" text-anchor="middle" dominant-baseline="central" style="font-family:&quot;Liberation Sans&quot;">120</text><text x="0" y="0" transform="translate(1960.0 264.1) rotate(-35.0)" font-size="11.5" fill="#4d5870" text-anchor="middle" dominant-baseline="central" style="font-family:&quot;Liberation Sans&quot;">130</text><text x="0" y="0" transform="translate(1974.6 278.7) rotate(-35.0)" font-size="11.5" fill="#4d5870" text-anchor="middle" dominant-baseline="central" style="font-family:&quot;Liberation Sans&quot;">140</text><text x="0" y="0" transform="translate(1990.2 292.2) rotate(-35.0)" font-size="11.5" fill="#4d5870" text-anchor="middle" dominant-baseline="central" style="font-family:&quot;Liberation Sans&quot;">150</text><text x="0" y="0" transform="translate(1943.4 288.0) rotate(0.0)" font-size="11.5" fill="#4d5870" text-anchor="middle" dominant-baseline="central" style="font-family:&quot;Liberation Sans&quot;">y</text><text x="0" y="0" transform="translate(2105.6 255.8) rotate(30.0)" font-size="11.5" fill="#4d5870" text-anchor="middle" dominant-baseline="central" style="font-family:&quot;Liberation Sans&quot;">350</text><text x="0" y="0" transform="translate(2092.1 269.3) rotate(30.0)" font-size="11.5" fill="#4d5870" text-anchor="middle" dominant-baseline="central" style="font-family:&quot;Liberation Sans&quot;">360</text><text x="0" y="0" transform="translate(2077.6 283.9) rotate(30.0)" font-size="11.5" fill="#4d5870" text-anchor="middle" dominant-baseline="central" style="font-family:&quot;Liberation Sans&quot;">370</text><text x="0" y="0" transform="translate(2058.8 296.4) rotate(30.0)" font-size="11.5" fill="#4d5870" text-anchor="middle" dominant-baseline="central" style="font-family:&quot;Liberation Sans&quot;">38</text><text x="0" y="0" transform="translate(2108.8 294.3) rotate(0.0)" font-size="11.5" fill="#4d5870" text-anchor="middle" dominant-baseline="central" style="font-family:&quot;Liberation Sans&quot;">x</text></g>
<g><rect x="814.4" y="564.8" width="326.5" height="218.4" fill="#efeeef"/><rect x="805" y="779" width="12" height="4" fill="#efeeef"/><g clip-path="url(#wsic)"><rect x="814" y="560" width="330" height="225" fill="#a85c9c"/><polygon points="814.4,716.0 934.4,716.0 1040.0,692.0 1128.9,668.0 1128.9,768.8 814.4,768.8" fill="#a4579f" opacity="0.7"/><polygon points="814.4,663.2 934.4,689.6 1040.0,665.6 1128.9,620.0 1128.9,644.0 1040.0,682.4 934.4,704.0 814.4,682.4" fill="#c0629e" opacity="0.75"/><rect x="814" y="560" width="330" height="225" fill="#fff" filter="url(#tisM)" opacity="0.45"/><rect x="814" y="560" width="330" height="225" fill="#fff" filter="url(#tisD)" opacity="0.7"/><rect x="814" y="560" width="330" height="225" fill="#fff" filter="url(#tisL)" opacity="0.32"/></g><path d="M895.5,598.9 C896.1,597.5 899.7,594.6 902.0,594.1 C904.3,593.6 908.6,594.7 909.2,596.0 C909.8,597.3 907.4,600.9 905.6,602.0 C903.8,603.1 900.1,603.3 898.4,602.7 C896.7,602.2 894.9,600.3 895.5,598.9Z" fill="#bb1d33" opacity="0.85"/><path d="M910.4,612.3 C911.0,611.3 914.9,607.9 916.4,607.5 C917.9,607.2 920.1,609.3 919.5,610.4 C918.9,611.5 914.3,613.7 912.8,614.0 C911.3,614.3 909.8,613.4 910.4,612.3Z" fill="#bb1d33" opacity="0.85"/><path d="M938.0,602.0 C939.8,601.5 947.2,602.1 951.2,602.7 C955.2,603.3 961.2,604.7 962.0,605.6 C962.8,606.5 959.6,608.0 956.0,608.0 C952.4,608.0 943.4,606.6 940.4,605.6 C937.4,604.6 936.2,602.5 938.0,602.0Z" fill="#bb1d33" opacity="0.85"/><path d="M957.2,578.0 C957.7,576.5 960.5,576.9 962.0,579.7 C963.5,582.5 966.0,592.0 966.1,594.8 C966.2,597.6 963.9,597.5 962.7,596.5 C961.5,595.5 959.8,591.9 958.9,588.8 C958.0,585.7 956.7,579.5 957.2,578.0Z" fill="#bb1d33" opacity="0.85"/><path d="M1005.2,580.4 C1005.5,578.3 1008.9,577.1 1010.0,578.7 C1011.2,580.3 1012.5,587.9 1012.2,590.0 C1011.9,592.2 1009.5,593.3 1008.4,591.7 C1007.2,590.1 1005.0,582.6 1005.2,580.4Z" fill="#bb1d33" opacity="0.85"/><path d="M880.2,622.9 C880.4,620.8 882.7,620.2 883.5,621.9 C884.4,623.7 885.5,631.1 885.2,633.2 C885.0,635.3 882.9,636.1 882.1,634.4 C881.3,632.7 879.9,625.0 880.2,622.9Z" fill="#bb1d33" opacity="0.85"/><path d="M913.3,640.4 C914.2,639.5 919.0,640.6 920.0,642.1 C921.1,643.6 920.4,648.4 919.5,649.3 C918.7,650.2 915.8,649.1 914.7,647.6 C913.7,646.1 912.4,641.3 913.3,640.4Z" fill="#bb1d33" opacity="0.85"/><path d="M999.2,598.4 C1000.4,596.8 1004.6,595.6 1008.8,596.0 C1013.0,596.4 1021.4,598.6 1024.4,600.8 C1027.4,603.0 1027.6,607.2 1026.8,609.2 C1026.0,611.2 1022.2,613.0 1019.6,612.8 C1017.0,612.6 1014.2,609.2 1011.2,608.0 C1008.2,606.8 1003.6,607.2 1001.6,605.6 C999.6,604.0 998.0,600.0 999.2,598.4Z" fill="#f2eef2" opacity="0.9"/><path d="M909.2,641.6 C909.6,640.0 911.6,638.8 912.8,639.2 C914.0,639.6 916.2,642.0 916.4,644.0 C916.6,646.0 915.0,650.4 914.0,651.2 C913.0,652.0 911.2,650.4 910.4,648.8 C909.6,647.2 908.8,643.2 909.2,641.6Z" fill="#f2eef2" opacity="0.9"/><polyline points="908.0,711.2 944.0,713.6 980.0,711.2 1016.0,701.6" fill="none" stroke="#f4eef4" stroke-width="1.6" stroke-linecap="round"/><polyline points="1001.6,598.4 1011.2,605.6 1023.2,610.4" fill="none" stroke="#f4eef4" stroke-width="3.5" stroke-linecap="round"/><polyline points="929.6,644.0 924.8,651.2" fill="none" stroke="#f4eef4" stroke-width="2.2" stroke-linecap="round"/><polyline points="1016.0,692.0 1040.0,682.4" fill="none" stroke="#f4eef4" stroke-width="1.2" stroke-linecap="round"/><polyline points="1030.4,634.4 1037.6,632.0" fill="none" stroke="#f4eef4" stroke-width="2.5" stroke-linecap="round"/></g>
<g><g clip-path="url(#patc)"><rect x="1170.0" y="569.0" width="201.0" height="200.4" fill="#aa74aa"/><path d="M1170,708 C1200,714 1240,718 1280,712 C1310,706 1340,700 1371,690 L1371,770 L1170,770 Z" fill="#c45f92"/><polygon points="1290,569 1371,569 1371,700 1330,712 1310,690 1320,640" fill="#b3669f" opacity="0.85"/><ellipse cx="1352" cy="610" rx="18" ry="32" fill="#cf86ad" opacity="0.7"/><ellipse cx="1352" cy="700" rx="12" ry="14" fill="#7a4a90" opacity="0.8"/><ellipse cx="1215" cy="640" rx="45" ry="60" fill="#8e5a98" opacity="0.6"/><rect x="1170" y="569" width="202" height="140" fill="#fff" filter="url(#tisL)" opacity="0.55"/><rect x="1170" y="569" width="202" height="202" fill="#fff" filter="url(#tisD)" opacity="0.35"/><polyline points="1178.0,640.0 1190.0,618.0 1200.0,600.0" fill="none" stroke="#f2e0ee" stroke-width="3.0" stroke-linecap="round" opacity="0.85"/><polyline points="1232.0,575.0 1245.0,598.0 1250.0,622.0 1268.0,640.0" fill="none" stroke="#f2e0ee" stroke-width="3.5" stroke-linecap="round" opacity="0.85"/><polyline points="1290.0,585.0 1300.0,625.0 1318.0,660.0" fill="none" stroke="#f2e0ee" stroke-width="4.0" stroke-linecap="round" opacity="0.85"/><polyline points="1180.0,690.0 1190.0,668.0 1205.0,655.0" fill="none" stroke="#f2e0ee" stroke-width="3.0" stroke-linecap="round" opacity="0.85"/><polyline points="1222.0,720.0 1240.0,712.0" fill="none" stroke="#f2e0ee" stroke-width="2.0" stroke-linecap="round" opacity="0.85"/><polyline points="1300.0,572.0 1312.0,590.0" fill="none" stroke="#f2e0ee" stroke-width="3.0" stroke-linecap="round" opacity="0.85"/><polyline points="1340.0,732.0 1362.0,726.0" fill="none" stroke="#f2e0ee" stroke-width="2.5" stroke-linecap="round" opacity="0.85"/><polyline points="1232.0,662.0 1248.0,656.0" fill="none" stroke="#f2e0ee" stroke-width="3.0" stroke-linecap="round" opacity="0.85"/><polyline points="1258.0,585.0 1262.0,615.0" fill="none" stroke="#f2e0ee" stroke-width="2.5" stroke-linecap="round" opacity="0.85"/><path d="M1275.7 656.5L1274.6 657.6M1240.0 651.6L1254.5 655.9M1367.0 576.1L1367.9 572.8M1214.3 591.7L1206.1 590.5M1311.6 579.2L1313.4 582.1M1178.9 762.6L1184.6 767.0M1282.3 719.5L1275.3 708.1M1287.6 635.3L1295.9 636.5M1276.3 585.4L1272.6 587.7M1318.6 666.8L1337.2 674.2M1188.2 634.7L1194.6 646.3M1260.4 691.8L1259.0 688.3M1223.8 742.3L1196.6 765.9M1230.1 606.3L1227.7 608.7M1345.8 672.0L1350.8 658.3M1279.4 766.0L1288.0 768.0M1167.2 704.9L1179.6 711.5M1197.8 639.5L1200.1 637.5M1300.3 671.7L1295.4 680.9M1259.6 655.6L1271.4 662.5M1225.0 663.7L1225.3 658.6M1256.0 634.1L1254.4 632.7M1190.8 592.4L1200.8 590.8M1273.8 694.9L1273.4 696.3M1304.3 564.7L1311.6 569.4M1266.2 687.6L1271.5 676.9M1199.9 611.4L1193.0 602.1M1171.1 684.1L1167.4 694.0M1245.3 608.6L1245.4 604.2M1255.5 651.2L1258.7 653.6M1200.3 704.0L1196.7 693.8M1168.3 658.0L1174.8 664.5M1242.6 591.3L1237.7 585.2M1298.7 649.2L1303.3 647.3M1311.6 579.2L1305.1 582.3M1240.1 689.7L1243.7 688.6M1316.6 656.2L1310.9 662.1M1355.4 740.4L1350.9 756.5M1184.3 682.0L1184.2 692.4M1279.4 766.0L1246.2 761.1M1259.8 661.7L1256.3 667.3M1188.2 634.7L1180.5 628.1M1319.1 613.5L1311.7 609.7M1296.8 670.5L1293.4 667.9M1313.4 582.1L1318.7 577.4M1319.8 604.9L1323.7 587.2M1305.7 662.4L1312.6 669.1M1246.8 574.2L1241.7 574.4M1182.1 740.7L1197.0 753.9M1344.3 637.2L1333.9 628.4M1247.7 662.8L1254.5 655.9M1364.6 704.6L1370.6 708.5M1256.4 591.6L1255.7 589.0M1297.3 729.3L1317.6 744.0M1348.5 687.8L1348.3 693.9M1318.6 666.8L1316.6 656.2M1371.4 639.0L1372.2 622.2M1175.8 612.6L1171.0 621.4M1214.5 646.7L1216.7 645.9M1317.2 642.9L1311.5 645.2M1199.0 660.0L1199.0 667.3M1278.1 681.5L1284.7 684.1M1309.8 698.0L1311.5 695.4M1275.8 605.9L1273.4 610.7M1251.1 610.1L1242.3 610.1M1258.4 633.6L1258.5 635.4M1238.5 575.5L1240.8 571.4M1172.1 578.4L1168.7 570.9M1303.7 722.7L1304.0 701.2M1177.5 695.2L1184.2 692.4M1220.0 567.0L1227.8 577.5M1202.8 617.3L1198.1 612.1M1286.0 627.5L1284.4 630.0M1172.1 578.4L1184.8 581.0M1272.7 593.1L1260.2 586.0M1203.1 689.2L1207.4 698.1M1256.9 598.2L1260.1 595.9M1188.7 618.3L1198.1 612.1M1330.2 618.2L1353.2 607.7M1299.7 697.1L1309.3 698.0M1220.4 565.6L1196.8 564.5M1371.4 639.0L1375.9 611.2M1245.4 604.2L1242.3 610.1M1175.5 658.0L1174.8 664.5M1228.0 598.9L1234.1 608.8M1245.4 604.2L1244.4 592.3M1212.3 576.6L1220.0 567.0M1227.1 655.0L1216.7 645.9M1294.5 658.4L1294.2 660.2M1286.0 627.5L1277.7 629.8M1348.9 739.1L1335.9 756.0M1367.0 576.1L1362.7 578.2M1252.0 642.4L1256.6 636.0M1246.2 761.1L1193.4 768.2M1288.1 617.8L1291.0 607.6M1251.0 672.1L1255.2 680.8M1316.8 696.6L1314.9 689.0M1318.8 697.4L1314.9 689.0M1198.4 755.4L1198.0 754.8M1210.5 678.6L1194.8 677.5M1281.3 574.1L1279.2 578.5M1179.0 628.0L1179.1 616.9M1285.9 655.6L1274.6 657.6M1220.0 567.0L1201.5 569.1M1285.9 655.6L1282.5 652.7M1303.2 613.2L1300.2 607.5M1277.7 629.8L1284.4 630.0M1311.6 686.0L1313.8 680.2M1278.5 631.4L1283.6 634.2M1318.8 697.4L1313.6 707.8M1190.8 592.4L1192.7 602.0M1277.7 612.7L1273.4 610.7M1212.3 576.6L1208.9 579.8M1218.6 693.2L1225.0 696.6M1279.1 699.8L1273.4 696.3M1196.6 765.9L1184.0 756.0M1197.0 753.9L1198.0 754.8M1362.2 575.4L1367.9 572.8M1184.5 723.0L1201.8 736.9M1285.9 655.6L1291.4 652.3M1272.0 688.5L1266.6 691.3M1228.0 598.9L1215.4 590.6M1245.4 604.2L1246.0 607.3M1215.3 649.7L1212.0 653.2M1242.8 707.7L1253.3 726.2M1288.1 617.8L1277.7 612.7M1240.0 651.6L1237.9 656.8M1278.8 595.1L1285.1 588.4M1298.0 699.8L1304.0 701.2M1223.7 613.1L1212.9 612.0M1231.9 615.7L1241.5 620.0M1340.1 716.4L1328.8 708.6M1187.9 706.7L1192.9 705.8M1359.4 691.4L1348.5 687.8M1188.2 634.7L1189.4 649.5M1227.1 655.0L1225.3 658.6M1198.8 633.3L1200.1 637.5M1172.4 570.0L1175.4 564.6M1246.8 574.2L1255.7 589.0M1283.9 606.2L1275.8 605.9M1178.2 647.4L1175.5 658.0M1311.5 645.2L1304.0 633.4M1221.9 669.4L1225.0 663.7M1250.6 676.8L1244.9 682.8M1288.7 705.2L1304.0 701.2M1289.3 629.6L1295.9 636.5M1207.4 698.1L1196.7 693.8M1192.0 701.6L1200.3 704.0M1252.8 604.8L1259.7 600.2M1309.8 698.0L1316.8 696.6M1350.4 637.4L1351.1 655.3M1208.3 658.0L1212.2 670.0M1276.6 642.1L1270.3 636.6M1287.2 690.6L1294.0 681.0M1214.5 646.7L1214.1 644.7M1238.5 575.5L1235.2 570.5M1344.3 637.2L1351.1 655.3M1289.3 629.6L1288.1 617.8M1264.1 699.2L1260.4 691.8M1265.9 578.6L1271.7 583.2M1179.0 628.0L1171.0 621.4M1171.0 621.4L1173.0 627.1M1350.8 658.3L1337.2 674.2M1243.4 694.9L1240.1 689.7M1304.4 670.7L1300.3 671.7M1244.4 592.3L1255.7 589.0M1206.0 628.4L1202.8 617.3M1172.4 570.0L1168.7 570.9M1324.9 720.2L1328.8 708.6M1260.4 691.8L1265.0 696.9M1285.9 655.6L1276.9 655.1M1317.8 678.0L1334.8 691.1M1196.6 586.8L1200.8 590.8M1283.9 606.2L1285.8 606.5M1271.1 649.4L1258.7 653.6M1184.2 692.4L1196.7 693.8M1271.1 649.4L1262.4 643.4M1244.9 682.8L1241.2 676.8M1215.2 590.2L1215.4 590.6M1223.3 603.9L1215.0 606.2M1190.8 592.4L1196.6 586.8M1314.9 689.0L1311.5 695.4M1258.5 685.0L1262.5 677.8M1276.4 631.7L1277.7 629.8M1279.2 578.5L1285.7 574.5M1319.1 613.5L1312.5 619.4M1260.2 586.0L1271.7 583.2M1263.7 619.0L1267.7 618.6M1367.0 576.1L1375.9 611.2M1203.1 689.2L1210.2 689.7M1225.6 733.3L1213.8 741.7M1276.9 655.1L1275.7 656.5M1218.2 672.7L1221.4 672.5M1239.7 612.5L1234.1 608.8M1362.5 600.7L1353.2 607.7M1221.1 667.3L1212.0 653.2M1245.8 568.3L1240.8 571.4M1206.0 628.4L1199.8 622.9M1209.6 629.1L1212.3 640.3M1317.2 642.9L1344.3 637.2M1350.9 756.5L1356.8 739.4M1199.5 576.9L1194.0 577.9M1175.5 658.0L1169.7 654.9M1180.2 595.1L1172.1 578.4M1245.3 608.6L1242.3 610.1M1319.8 604.9L1353.2 607.7M1315.5 667.9L1318.6 666.8M1188.7 618.3L1186.9 603.9M1273.8 746.7L1250.8 760.8M1271.1 649.4L1275.7 656.5M1218.6 693.2L1211.1 689.2M1223.8 742.3L1213.8 741.7M1361.7 713.3L1340.0 701.4M1295.4 680.9L1294.0 681.0M1362.2 575.4L1362.7 578.2M1212.3 640.3L1200.1 637.5M1194.8 677.5L1199.0 667.3M1234.7 583.9L1237.7 585.2M1200.8 590.8L1193.0 602.1M1271.1 649.4L1276.9 655.1M1199.9 611.4L1203.6 598.9M1233.9 669.9L1233.2 672.1M1166.2 638.9L1165.3 622.5M1214.3 591.7L1214.9 604.9M1287.4 632.7L1284.4 630.0M1191.2 630.1L1198.8 633.3M1178.9 762.6L1186.1 766.5M1313.4 582.1L1305.1 582.3M1175.5 658.0L1189.4 649.5M1311.5 645.2L1302.1 641.5M1289.8 579.1L1299.9 580.3M1306.4 681.2L1298.9 690.1M1374.9 684.7L1371.4 639.0M1168.3 717.5L1166.5 700.2M1194.5 652.2L1194.0 647.9M1272.0 688.5L1274.3 685.8M1239.7 612.5L1231.9 615.7M1205.8 576.8L1208.9 579.8M1264.0 564.2L1270.7 574.9M1215.0 606.2L1211.2 608.4M1256.6 636.0L1262.4 643.4M1245.2 667.7L1239.6 668.6M1306.3 675.9L1313.8 680.2M1307.3 597.3L1306.8 607.2M1259.7 600.2L1260.3 608.7M1175.8 671.7L1186.1 668.3M1273.8 694.9L1279.1 699.8M1169.3 656.0L1168.3 658.0M1227.5 692.5L1224.6 690.7M1242.6 591.3L1246.8 574.2M1228.1 581.8L1234.7 583.9M1223.7 613.1L1231.9 615.7M1317.1 758.1L1317.6 744.0M1260.4 691.8L1246.4 691.4M1345.8 634.2L1344.3 637.2M1362.9 603.6L1353.2 607.7M1283.8 597.5L1285.1 588.4M1260.2 586.0L1265.9 578.6M1186.1 668.3L1189.4 649.5M1245.3 608.6L1246.0 607.3M1233.9 669.9L1231.5 666.5M1231.5 666.5L1221.9 669.4M1318.6 666.8L1310.9 662.1M1250.6 676.8L1255.2 680.8M1242.8 707.7L1242.8 705.7M1208.1 649.2L1208.2 657.6M1283.8 587.4L1276.3 585.4M1183.4 604.1L1184.1 605.1M1320.7 616.5L1323.9 612.1M1182.1 740.7L1184.3 731.7M1258.7 653.6L1257.3 648.1M1270.8 667.9L1264.4 673.5M1283.6 587.6L1285.1 588.4M1210.5 678.6L1224.1 679.4M1191.2 630.1L1195.6 621.4M1315.5 667.9L1310.9 662.1M1179.0 628.0L1173.0 627.1M1374.9 684.7L1362.5 768.6M1231.5 666.5L1225.0 663.7M1231.0 672.2L1233.2 672.1M1283.3 706.5L1275.2 702.4M1194.7 582.6L1196.6 586.8M1283.0 677.5L1282.8 673.2M1264.1 705.9L1242.8 705.7M1281.9 638.6L1276.4 631.7M1266.6 691.3L1273.4 696.3M1235.2 570.5L1240.8 571.4M1318.7 577.4L1314.0 567.9M1300.5 663.4L1294.2 660.2M1170.5 727.8L1184.3 731.7M1232.3 621.4L1213.6 627.7M1188.7 618.3L1179.2 610.1M1310.1 598.9L1319.9 592.4M1169.6 598.4L1166.9 596.8M1205.8 576.8L1201.5 569.1M1190.8 592.4L1185.9 596.8M1199.5 576.9L1201.5 569.1M1315.5 667.9L1312.6 669.1M1207.1 707.6L1214.0 717.1M1184.3 682.0L1175.8 671.7M1215.0 606.2L1214.9 604.9M1291.0 607.6L1284.0 599.3M1210.8 677.0L1210.5 678.6M1291.4 652.3L1294.5 658.4M1184.0 756.0L1186.1 766.5M1218.6 693.2L1224.6 690.7M1262.4 643.4L1257.3 648.1M1291.0 607.6L1297.9 592.1M1180.4 568.1L1175.4 564.6M1283.3 706.5L1275.3 708.1M1298.0 699.8L1288.7 705.2M1212.3 640.3L1213.6 627.7M1245.8 568.3L1264.0 564.2M1251.4 624.2L1261.3 618.0M1201.5 704.5L1207.1 707.6M1246.8 574.2L1257.2 571.2M1330.2 618.2L1325.0 629.4M1269.3 630.6L1277.7 629.8M1279.9 686.1L1284.7 684.1M1215.2 590.2L1208.9 579.8M1354.7 670.2L1345.8 672.0M1308.8 702.8L1304.0 701.2M1266.2 704.8L1275.2 702.4M1165.9 592.4L1165.3 622.5M1227.5 674.3L1224.1 679.4M1228.1 581.8L1231.8 575.4M1196.6 765.9L1198.4 755.4M1266.7 576.9L1258.8 568.4M1168.3 658.0L1168.7 645.6M1374.9 684.7L1364.7 702.3M1200.9 618.8L1199.8 621.2M1276.0 604.3L1275.8 605.9M1192.8 713.6L1187.9 706.7M1195.8 639.7L1195.1 635.9M1361.7 713.3L1348.3 693.9M1302.1 641.5L1295.9 636.5M1345.8 634.2L1353.2 607.7M1258.4 633.6L1254.4 632.7M1178.2 647.4L1179.5 635.3M1287.5 582.7L1289.8 579.1M1184.3 682.0L1187.1 669.5M1265.3 700.0L1270.6 699.2M1246.8 574.2L1237.7 585.2M1362.5 600.7L1362.7 578.2M1266.6 691.3L1265.0 696.9M1278.1 681.5L1274.3 685.8M1269.3 630.6L1276.4 631.7M1192.0 701.6L1192.9 705.8M1213.8 741.7L1201.8 736.9M1199.5 576.9L1205.8 576.8M1200.9 618.8L1202.8 617.3M1202.3 580.0L1194.7 582.6M1278.8 595.1L1284.0 599.3M1305.8 616.4L1312.5 619.4M1240.2 638.6L1245.7 639.8M1173.5 643.9L1168.7 645.6M1262.5 677.8L1256.3 667.3M1168.3 658.0L1171.5 679.1M1183.4 604.1L1176.0 599.6M1225.3 658.6L1218.9 651.4M1266.2 704.8L1275.3 708.1M1313.6 707.8L1303.7 722.7M1208.9 579.8L1206.1 590.5M1208.1 649.2L1211.3 652.3M1186.9 603.9L1193.0 602.1M1237.0 658.4L1239.6 668.6M1214.1 644.7L1204.3 644.0M1282.5 652.7L1276.9 655.1M1270.6 699.2L1275.2 702.4M1264.0 564.2L1258.8 568.4M1171.7 565.4L1170.5 565.9M1216.7 645.9L1218.9 651.4M1270.6 699.2L1272.8 699.3M1323.7 587.2L1353.2 607.7M1258.4 633.6L1256.0 634.1M1370.6 708.5L1364.7 702.3M1182.3 598.4L1183.4 604.1M1275.3 708.1L1275.2 702.4M1200.9 618.8L1199.8 622.9M1289.6 571.9L1299.9 580.3M1166.9 596.8L1165.3 622.5M1203.7 612.7L1212.9 612.0M1265.5 607.9L1261.3 618.0M1340.1 716.4L1324.9 720.2M1198.4 755.4L1197.0 753.9M1194.0 647.9L1194.6 646.3M1184.3 682.0L1189.4 672.0M1245.8 568.3L1229.6 569.0M1193.4 768.2L1186.1 766.5M1358.1 680.1L1374.9 684.7M1210.5 678.6L1219.5 688.3M1350.9 756.5L1335.9 756.0M1266.2 687.6L1259.0 688.3M1179.1 616.9L1175.8 612.6M1313.6 707.8L1316.8 696.6M1276.0 604.3L1278.8 595.1M1207.4 698.1L1200.3 704.0M1205.4 667.9L1212.2 670.0M1210.5 678.6L1218.2 672.7M1304.4 670.7L1300.5 663.4M1245.4 604.2L1234.1 608.8M1317.8 678.0L1313.8 680.2M1364.6 704.6L1348.3 693.9M1191.2 630.1L1180.5 628.1M1272.6 587.7L1271.7 583.2M1181.4 635.6L1180.5 628.1M1324.9 720.2L1313.6 707.8M1241.5 620.0L1242.3 610.1M1311.2 686.5L1311.6 686.0M1304.3 564.7L1264.0 564.2M1300.3 671.7L1300.5 663.4M1306.4 681.2L1296.4 686.0M1302.3 570.3L1311.6 569.4M1242.6 591.3L1228.0 598.9M1175.4 564.6L1178.3 568.4M1304.4 670.7L1306.3 672.5M1179.3 574.9L1184.8 581.0M1200.8 590.8L1203.6 598.9M1251.4 624.2L1251.1 610.1M1284.5 572.1L1285.7 574.5M1179.3 574.9L1172.1 578.4M1218.6 693.2L1216.4 705.0M1184.6 767.0L1186.1 766.5M1224.6 690.7L1224.1 679.4M1228.1 678.8L1227.5 674.3M1234.8 582.4L1234.7 583.9M1283.8 587.4L1283.6 587.6M1264.1 699.2L1246.6 697.1M1223.7 613.1L1222.6 608.7M1247.0 594.4L1245.4 604.2M1340.1 716.4L1334.6 740.1M1303.2 613.2L1297.7 625.1M1268.9 615.9L1265.5 607.9M1167.3 696.0L1172.1 700.8M1333.9 628.4L1353.2 607.7M1313.7 631.3L1304.0 633.4M1257.1 684.6L1258.5 685.0M1236.5 637.7L1232.3 621.4M1297.9 592.1L1283.8 597.5M1189.5 585.1L1184.8 581.0M1271.1 649.4L1276.6 642.1M1182.1 740.7L1178.9 762.6M1283.0 677.5L1289.1 674.3M1193.4 768.2L1196.6 765.9M1299.8 635.8L1295.9 636.5M1266.2 639.4L1271.1 649.4M1221.1 667.3L1221.9 669.4M1194.5 652.2L1186.1 668.3M1323.9 612.1L1353.2 607.7M1168.3 658.0L1169.6 651.8M1218.2 672.7L1212.2 670.0M1196.8 626.3L1191.2 630.1M1362.5 600.7L1375.9 611.2M1294.5 658.4L1292.5 659.8M1182.1 740.7L1170.5 727.8M1270.6 699.2L1266.2 704.8M1223.7 613.1L1213.6 627.7M1182.3 598.4L1185.9 596.8M1311.2 686.5L1311.5 695.4M1283.8 587.4L1279.2 578.5M1202.3 580.0L1208.9 579.8M1264.1 699.2L1265.3 700.0M1223.3 603.9L1214.9 604.9M1264.4 673.5L1256.3 667.3M1265.9 578.6L1266.7 576.9M1214.9 604.9L1221.2 600.3M1214.3 591.7L1221.2 600.3M1227.5 674.3L1231.0 672.2M1313.7 631.3L1325.0 629.4M1330.2 618.2L1320.7 616.5M1251.0 672.1L1256.3 667.3M1265.5 607.9L1259.7 600.2M1262.4 643.4L1258.5 635.4M1194.8 677.5L1189.4 672.0M1289.8 579.1L1285.7 574.5M1175.5 658.0L1168.3 658.0M1173.5 643.9L1169.6 651.8M1177.5 695.2L1175.4 698.6M1257.2 628.0L1269.1 622.6M1280.4 620.2L1288.1 617.8M1362.9 603.6L1372.2 622.2M1283.8 587.4L1285.1 588.4M1233.9 669.9L1231.0 672.2M1182.1 740.7L1184.0 756.0M1235.2 570.5L1231.8 575.4M1264.2 676.5L1262.5 677.8M1172.1 700.8L1170.3 695.1M1180.3 666.3L1174.8 664.5M1245.3 626.3L1241.5 620.0M1216.4 705.0L1214.0 717.1M1270.8 667.9L1270.9 663.2M1179.2 610.1L1175.8 612.6M1180.2 595.1L1169.6 598.4M1195.1 635.9L1188.2 634.7M1297.9 583.1L1289.8 579.1M1282.3 719.5L1253.3 726.2M1278.1 681.5L1282.8 673.2M1348.9 739.1L1334.6 740.1M1245.8 568.3L1220.4 565.6M1182.3 598.4L1176.0 599.6M1218.6 693.2L1207.4 698.1M1245.4 604.2L1247.2 607.8M1288.0 768.0L1193.4 768.2M1259.8 661.7L1264.4 673.5M1212.0 653.2L1225.3 658.6M1362.9 603.6L1375.9 611.2M1228.1 678.8L1233.2 672.1M1289.3 629.6L1287.4 632.7M1175.5 658.0L1169.6 651.8M1223.3 603.9L1227.8 603.9M1198.8 629.9L1200.0 632.0M1199.8 621.2L1199.8 622.9M1247.2 607.8L1251.4 607.4M1239.7 612.5L1241.5 620.0M1318.7 577.4L1323.7 587.2M1175.8 671.7L1171.5 679.1M1353.2 607.7L1372.2 622.2M1179.2 610.1L1184.1 605.1M1175.4 698.6L1170.3 695.1M1180.2 595.1L1185.9 596.8M1276.3 585.4L1279.2 578.5M1282.3 719.5L1297.3 729.3M1284.5 572.1L1289.6 571.9M1313.7 631.3L1311.5 645.2M1234.8 582.4L1231.8 575.4M1280.4 620.2L1271.4 614.9M1368.1 632.4L1367.9 628.6M1317.1 758.1L1297.9 758.2M1194.0 647.9L1189.4 649.5M1192.4 581.8L1189.5 585.1M1228.1 678.8L1227.5 692.5M1317.1 758.1L1319.6 759.7M1184.5 723.0L1184.3 731.7M1266.2 639.4L1262.4 643.4M1245.3 626.3L1240.2 638.6M1224.6 690.7L1219.5 688.3M1302.0 565.8L1289.6 571.9M1282.3 719.5L1288.7 705.2M1348.9 739.1L1355.4 740.4M1228.4 721.5L1214.0 717.1M1239.9 658.1L1239.6 668.6M1317.2 642.9L1316.6 656.2M1167.4 694.0L1171.5 679.1M1264.0 564.2L1196.8 564.5M1191.2 630.1L1188.2 634.7M1270.6 699.2L1273.4 696.3M1256.9 598.2L1256.4 591.6M1304.3 564.7L1302.3 570.3M1298.7 649.2L1294.5 658.4M1225.6 733.3L1214.0 717.1M1255.5 651.2L1254.5 655.9M1213.6 627.7L1224.7 634.4M1194.5 652.2L1204.3 644.0M1165.9 592.4L1168.7 570.9M1289.8 579.1L1289.6 571.9M1180.2 595.1L1176.0 599.6M1256.4 591.6L1260.1 595.9M1367.0 576.1L1362.5 600.7M1291.3 649.7L1287.6 635.3M1311.3 626.5L1312.5 619.4M1240.6 645.3L1236.5 637.7M1282.3 719.5L1303.7 722.7M1220.4 565.6L1229.6 569.0M1305.7 662.4L1310.9 662.1M1205.7 670.6L1212.2 670.0M1310.1 598.9L1311.7 609.7M1253.3 726.2L1275.3 708.1M1280.4 620.2L1270.4 619.4M1271.4 662.5L1270.9 663.2M1299.8 635.8L1302.1 641.5M1206.7 630.8L1200.0 632.0M1266.2 639.4L1258.4 633.6M1276.4 631.7L1276.6 642.1M1246.1 690.1L1243.0 686.9M1258.3 662.6L1247.7 662.8M1192.4 581.8L1184.8 581.0M1248.4 638.2L1245.7 639.8M1208.1 649.2L1204.3 644.0M1259.0 688.3L1258.5 685.0M1175.8 671.7L1187.1 669.5M1168.3 658.0L1166.2 638.9M1276.8 592.5L1272.7 593.1M1190.8 573.4L1184.8 581.0M1186.9 603.9L1192.7 602.0M1269.1 622.6L1270.4 619.4M1297.3 729.3L1295.9 743.3M1355.4 740.4L1356.8 739.4M1240.6 645.3L1240.0 651.6M1173.5 643.9L1166.2 638.9M1318.8 697.4L1316.8 696.6M1275.0 566.1L1284.5 572.1M1270.6 699.2L1265.0 696.9M1288.0 768.0L1319.6 759.7M1206.0 628.4L1209.6 629.1M1289.6 571.9L1285.7 574.5M1202.3 580.0L1200.8 590.8M1314.0 567.9L1311.6 569.4M1246.6 697.1L1242.8 705.7M1168.3 717.5L1169.1 714.8M1374.9 684.7L1357.9 680.8M1263.7 619.0L1257.2 628.0M1180.3 666.3L1189.4 649.5M1201.5 704.5L1200.3 704.0M1370.6 708.5L1356.8 739.4M1218.6 693.2L1210.2 689.7M1313.6 707.8L1309.3 704.6M1228.1 581.8L1215.2 590.2M1239.4 675.5L1245.2 667.7M1169.2 602.1L1176.0 599.6M1199.9 611.4L1198.1 612.1M1206.0 628.4L1206.7 630.8M1245.3 608.6L1247.2 607.8M1203.6 598.9L1193.0 602.1M1256.9 598.2L1252.8 604.8M1263.7 619.0L1269.1 622.6M1283.6 587.6L1276.3 585.4M1247.0 594.4L1244.4 592.3M1273.8 694.9L1266.6 691.3M1268.9 615.9L1261.3 618.0M1362.7 578.2L1323.7 587.2M1228.1 678.8L1224.1 679.4M1295.4 680.9L1290.9 672.8M1172.0 637.3L1179.5 635.3M1246.1 690.1L1244.9 682.8M1208.3 658.0L1205.4 667.9M1284.7 684.1L1294.0 681.0M1234.1 608.8L1242.3 610.1M1308.8 702.8L1313.6 707.8M1168.3 658.0L1167.4 694.0M1198.8 629.9L1198.8 633.3M1169.6 651.8L1168.7 645.6M1233.9 669.9L1239.6 668.6M1313.4 582.1L1323.7 587.2M1287.2 690.6L1299.7 697.1M1310.9 662.1L1312.6 669.1M1278.8 595.1L1283.6 587.6M1192.8 713.6L1201.8 736.9M1169.1 714.8L1179.6 711.5M1311.6 686.0L1309.4 685.5M1177.5 695.2L1175.1 694.6M1166.2 638.9L1172.7 635.2M1313.1 584.8L1305.1 582.3M1238.5 575.5L1237.7 585.2M1317.8 678.0L1315.9 682.1M1302.3 570.3L1299.9 580.3M1168.3 658.0L1166.5 700.2M1339.8 711.4L1340.1 716.4M1281.9 638.6L1276.6 642.1M1236.5 637.7L1227.1 655.0M1364.7 702.3L1348.3 693.9M1258.7 653.6L1259.6 655.6M1210.8 677.0L1212.2 670.0M1224.6 578.8L1227.8 577.5M1305.1 582.3L1299.9 580.3M1210.5 678.6L1211.1 689.2M1214.3 591.7L1215.2 590.2M1213.6 627.7L1212.9 612.0M1184.3 682.0L1194.3 678.5M1297.9 583.1L1287.5 582.7M1337.2 674.2L1334.8 691.1M1168.7 570.9L1170.5 565.9M1306.3 672.5L1306.3 675.9M1208.3 658.0L1208.2 657.6M1228.0 598.9L1223.3 603.9M1313.4 582.1L1313.1 584.8M1190.4 668.6L1186.1 668.3M1246.0 663.6L1245.2 667.7M1221.9 669.4L1231.0 672.2M1359.4 691.4L1348.3 693.9M1207.4 698.1L1210.2 689.7M1170.0 691.5L1175.1 694.6M1271.4 662.5L1274.6 657.6M1333.9 628.4L1325.0 629.4M1276.0 604.3L1272.7 593.1M1200.1 637.5L1200.0 632.0M1258.3 662.6L1254.5 655.9M1244.9 682.8L1243.0 686.9M1233.9 669.9L1239.4 675.5M1251.1 610.1L1241.5 620.0M1300.0 745.0L1317.1 758.1M1330.2 618.2L1323.9 612.1M1278.1 681.5L1283.0 677.5M1260.2 586.0L1246.8 574.2M1218.6 693.2L1221.3 702.0M1289.1 674.3L1290.9 672.8M1236.6 710.1L1221.3 702.0M1193.4 768.2L1362.5 768.6M1273.3 572.1L1274.8 579.2M1245.3 608.6L1251.1 610.1M1316.9 683.1L1315.9 682.1M1317.8 678.0L1317.3 685.0M1359.4 691.4L1374.9 684.7M1313.7 631.3L1311.3 626.5M1274.3 685.8L1279.9 686.1M1180.4 568.1L1183.6 572.9M1299.7 697.1L1304.0 701.2M1259.8 661.7L1270.9 663.2M1178.9 762.6L1184.0 756.0M1194.0 577.9L1198.3 568.4M1175.4 698.6L1187.9 706.7M1231.9 615.7L1232.3 621.4M1202.8 617.3L1199.8 622.9M1264.1 705.9L1253.3 726.2M1165.9 592.4L1166.9 596.8M1212.0 653.2L1218.9 651.4M1298.7 649.2L1305.7 662.4M1273.8 694.9L1272.0 688.5M1184.5 723.0L1170.5 727.8M1287.2 690.6L1298.0 699.8M1205.7 670.6L1194.8 677.5M1238.5 681.8L1240.1 689.7M1291.0 607.6L1300.2 607.5M1172.0 637.3L1172.7 635.2M1228.4 721.5L1236.6 710.1M1285.9 655.6L1275.7 656.5M1238.5 681.8L1233.2 672.1M1214.5 646.7L1215.3 649.7M1192.8 713.6L1184.5 723.0M1199.9 611.4L1209.5 604.9M1166.2 638.9L1173.0 627.1M1311.5 645.2L1316.6 656.2M1184.6 767.0L1193.4 768.2M1246.2 761.1L1253.3 726.2M1313.8 680.2L1312.6 669.1M1186.9 603.9L1184.1 605.1M1315.9 682.1L1313.8 680.2M1212.3 576.6L1201.5 569.1M1194.8 677.5L1194.3 678.5M1183.4 604.1L1179.2 610.1M1266.2 639.4L1269.3 630.6M1221.4 672.5L1227.5 674.3M1246.0 663.6L1239.9 658.1M1220.0 567.0L1229.6 569.0M1316.9 683.1L1317.3 685.0M1319.9 592.4L1323.7 587.2M1165.9 592.4L1180.2 595.1M1197.1 638.7L1195.1 635.9M1287.5 582.7L1297.9 592.1M1358.1 680.1L1357.9 680.8M1169.3 656.0L1175.5 658.0M1175.4 564.6L1171.7 565.4M1314.9 689.0L1317.3 685.0M1303.2 613.2L1306.8 607.2M1238.5 681.8L1227.5 692.5M1348.9 739.1L1361.7 713.3M1251.1 610.1L1251.4 607.4M1206.0 628.4L1203.6 628.5M1266.7 576.9L1270.7 574.9M1228.1 678.8L1231.0 672.2M1237.0 658.4L1225.3 658.6M1188.7 618.3L1195.6 621.4M1257.1 684.6L1255.2 680.8M1214.8 609.5L1215.0 606.2M1245.8 568.3L1257.2 571.2M1218.2 672.7L1224.1 679.4M1270.8 667.9L1282.8 673.2M1179.5 635.3L1180.5 628.1M1179.3 574.9L1183.6 572.9M1236.6 710.1L1253.3 726.2M1285.8 606.5L1291.0 607.6M1271.4 614.9L1273.4 610.7M1196.6 765.9L1186.1 766.5M1306.8 607.2L1308.9 610.2M1314.0 567.9L1312.0 565.3M1319.9 592.4L1313.1 584.8M1265.5 607.9L1260.3 608.7M1172.4 570.0L1178.3 568.4M1179.0 628.0L1180.5 628.1M1359.4 691.4L1364.7 702.3M1186.9 603.9L1185.9 596.8M1197.1 638.7L1195.8 639.7M1241.8 701.4L1240.1 689.7M1201.5 704.5L1207.4 698.1M1203.6 598.9L1209.5 604.9M1260.2 586.0L1260.1 595.9M1202.3 580.0L1196.6 586.8M1237.0 658.4L1239.9 658.1M1175.8 612.6L1165.3 622.5M1182.3 598.4L1186.9 603.9M1283.3 706.5L1283.9 701.3M1212.3 576.6L1205.8 576.8M1313.7 631.3L1317.2 642.9M1180.3 666.3L1175.5 658.0M1192.8 713.6L1179.6 711.5M1259.7 600.2L1260.1 595.9M1280.4 620.2L1269.1 622.6M1310.1 598.9L1313.1 584.8M1214.8 609.5L1212.9 612.0M1313.6 707.8L1328.8 708.6M1362.2 575.4L1314.0 567.9M1266.2 639.4L1276.6 642.1M1227.5 692.5L1224.8 699.5M1276.4 631.7L1270.3 636.6M1362.7 578.2L1353.2 607.7M1285.8 606.5L1277.7 612.7M1350.8 658.3L1351.1 655.3M1213.8 741.7L1198.0 754.8M1240.1 689.7L1243.0 686.9M1231.5 666.5L1231.0 672.2M1259.8 661.7L1254.5 655.9M1242.8 705.7L1241.8 705.2M1283.6 634.2L1284.4 630.0M1311.5 695.4L1298.9 690.1M1175.2 683.7L1175.1 694.6M1178.2 647.4L1169.6 651.8M1184.5 723.0L1179.6 711.5M1372.2 622.2L1367.9 628.6M1190.4 668.6L1199.0 667.3M1241.8 701.4L1224.8 699.5M1260.2 586.0L1255.7 589.0M1298.0 699.8L1291.1 702.4M1319.8 604.9L1323.9 612.1M1246.4 691.4L1256.7 685.7M1279.4 766.0L1250.8 760.8M1240.0 651.6L1252.0 642.4M1196.8 626.3L1198.8 629.9M1303.2 613.2L1288.1 617.8M1257.2 628.0L1250.9 625.1M1311.5 645.2L1303.3 647.3M1278.1 681.5L1271.5 676.9M1228.1 678.8L1238.5 681.8M1207.1 707.6L1216.4 705.0M1294.0 681.0L1290.9 672.8M1246.6 697.1L1246.4 691.4M1276.3 585.4L1271.7 583.2M1317.8 678.0L1312.6 669.1M1273.8 746.7L1297.9 758.2M1182.6 647.7L1189.4 649.5M1167.4 694.0L1166.5 700.2M1214.5 646.7L1211.3 652.3M1288.7 705.2L1291.1 702.4M1286.0 627.5L1288.1 617.8M1281.9 638.6L1291.3 649.7M1285.9 655.6L1282.8 673.2M1180.3 666.3L1175.8 671.7M1202.8 617.3L1203.7 612.7M1296.8 670.5L1295.4 680.9M1374.9 684.7L1354.7 670.2M1192.8 713.6L1214.0 717.1M1202.8 617.3L1212.9 612.0M1311.6 579.2L1311.6 569.4M1264.1 705.9L1242.8 707.7M1283.9 701.3L1291.1 702.4M1244.9 682.8L1255.2 680.8M1172.4 570.0L1179.3 574.9M1276.8 592.5L1278.8 595.1M1252.0 642.4L1262.4 643.4M1245.4 604.2L1252.8 604.8M1283.3 706.5L1288.7 705.2M1245.8 568.3L1235.2 570.5M1228.0 598.9L1227.8 603.9M1361.7 713.3L1364.6 704.6M1216.7 645.9L1224.7 634.4M1256.0 634.1L1258.5 635.4M1184.3 682.0L1175.2 683.7M1171.1 684.1L1171.5 679.1M1282.8 673.2L1289.1 674.3M1371.4 639.0L1350.4 637.4M1285.8 606.5L1284.0 599.3M1269.1 622.6L1277.7 629.8M1227.1 655.0L1237.9 656.8M1271.1 649.4L1259.6 655.6M1362.9 603.6L1362.5 600.7M1281.3 574.1L1285.7 574.5M1273.3 572.1L1275.0 566.1M1273.4 696.3L1272.8 699.3M1238.5 575.5L1234.8 582.4M1181.4 635.6L1179.5 635.3M1307.3 597.3L1297.9 592.1M1195.8 639.7L1194.6 646.3M1319.6 759.7L1362.5 768.6M1182.6 647.7L1188.2 634.7M1247.0 594.4L1255.7 589.0M1188.7 618.3L1180.5 628.1M1223.3 603.9L1227.7 608.7M1240.6 645.3L1227.1 655.0M1215.3 649.7L1216.7 645.9M1255.5 651.2L1257.3 648.1M1195.6 621.4L1198.1 612.1M1192.0 701.6L1187.9 706.7M1283.9 606.2L1276.0 604.3M1246.1 690.1L1256.7 685.7M1299.7 697.1L1298.9 690.1M1297.9 583.1L1297.9 592.1M1211.3 652.3L1208.2 657.6M1266.2 687.6L1262.5 677.8M1167.2 704.9L1168.3 717.5M1264.0 564.2L1266.7 576.9M1218.2 672.7L1221.9 669.4M1241.8 701.4L1246.6 697.1M1354.7 670.2L1371.4 639.0M1237.9 656.8L1239.9 658.1M1286.0 627.5L1280.4 620.2M1170.5 727.8L1168.3 717.5M1259.6 655.6L1274.6 657.6M1257.1 684.6L1256.7 685.7M1227.1 655.0L1218.9 651.4M1179.2 610.1L1179.1 616.9M1271.5 676.9L1264.4 673.5M1297.9 592.1L1285.1 588.4M1209.6 629.1L1202.8 617.3M1203.6 598.9L1206.1 590.5M1180.2 595.1L1189.1 588.3M1208.3 658.0L1212.0 653.2M1293.4 667.9L1290.9 672.8M1184.0 756.0L1197.0 753.9M1207.1 707.6L1207.4 698.1M1192.4 581.8L1194.7 582.6M1194.0 577.9L1190.8 573.4M1287.2 690.6L1283.9 701.3M1221.3 702.0L1224.8 699.5M1319.1 613.5L1319.8 604.9M1203.1 689.2L1194.8 677.5M1318.7 577.4L1311.6 569.4M1208.3 658.0L1221.1 667.3M1167.4 694.0L1170.3 695.1M1311.6 686.0L1315.9 682.1M1306.8 607.2L1300.2 607.5M1234.8 582.4L1237.7 585.2M1283.3 706.5L1282.3 719.5M1166.2 638.9L1168.7 645.6M1273.3 572.1L1281.3 574.1M1258.4 633.6L1269.3 630.6M1185.9 596.8L1192.7 602.0M1296.4 686.0L1298.9 690.1M1273.8 746.7L1282.3 719.5M1269.3 630.6L1270.3 636.6M1350.4 637.4L1367.9 628.6M1300.0 745.0L1317.6 744.0M1168.3 717.5L1179.6 711.5M1224.1 679.4L1219.5 688.3M1194.5 652.2L1194.6 646.3M1190.8 573.4L1183.6 572.9M1264.4 673.5L1262.5 677.8M1170.3 695.1L1175.1 694.6M1197.1 638.7L1200.1 637.5M1227.5 692.5L1241.8 701.4M1251.0 672.1L1262.5 677.8M1171.5 679.1L1175.2 683.7M1247.7 662.8L1256.3 667.3M1180.4 568.1L1178.3 568.4M1210.8 677.0L1205.7 670.6M1165.3 622.5L1171.0 621.4M1309.4 685.5L1311.5 695.4M1281.9 638.6L1283.6 634.2M1172.1 700.8L1166.5 700.2M1302.1 641.5L1304.0 633.4M1375.9 611.2L1372.2 622.2M1240.6 645.3L1242.2 641.5M1175.5 658.0L1182.6 647.7M1308.8 702.8L1309.8 698.0M1316.6 656.2L1351.1 655.3M1208.1 649.2L1214.5 646.7M1334.8 691.1L1328.8 708.6M1240.6 645.3L1245.7 639.8M1297.7 625.1L1295.9 636.5M1287.2 690.6L1279.9 686.1M1362.2 575.4L1318.7 577.4M1211.1 689.2L1210.2 689.7M1177.2 616.4L1179.0 628.0M1192.9 705.8L1200.3 704.0M1287.4 632.7L1287.6 635.3M1240.0 680.8L1241.2 676.8M1282.8 673.2L1290.9 672.8M1311.6 686.0L1317.3 685.0M1231.9 615.7L1227.7 608.7M1297.7 625.1L1288.1 617.8M1265.9 578.6L1257.2 571.2M1186.9 603.9L1198.1 612.1M1167.4 694.0L1170.0 691.5M1283.0 677.5L1284.7 684.1M1220.4 565.6L1220.0 567.0M1177.2 616.4L1179.1 616.9M1197.8 639.5L1195.8 639.7M1281.9 638.6L1287.6 635.3M1239.4 675.5L1233.2 672.1M1192.4 581.8L1194.0 577.9M1319.8 604.9L1311.7 609.7M1231.5 666.5L1239.6 668.6M1309.3 698.0L1311.5 695.4M1306.4 681.2L1309.4 685.5M1302.3 570.3L1289.6 571.9M1358.1 680.1L1354.7 670.2M1287.4 632.7L1295.9 636.5M1200.9 618.8L1195.6 621.4M1300.3 671.7L1306.3 672.5M1195.8 639.7L1197.8 641.4M1177.5 608.6L1179.2 610.1M1371.4 639.0L1368.1 632.4M1194.6 646.3L1197.8 641.4M1247.2 607.8L1246.0 607.3M1287.2 690.6L1298.9 690.1M1275.0 566.1L1287.1 566.4M1244.9 682.8L1256.7 685.7M1196.8 564.5L1190.8 573.4M1272.7 593.1L1259.7 600.2M1263.7 619.0L1268.9 615.9M1192.8 713.6L1207.1 707.6M1260.2 586.0L1257.2 571.2M1265.5 607.9L1272.7 593.1M1203.1 689.2L1210.5 678.6M1221.1 667.3L1225.3 658.6M1283.6 634.2L1287.6 635.3M1306.4 681.2L1295.4 680.9M1276.0 604.3L1265.5 607.9M1187.9 706.7L1184.2 692.4M1172.1 700.8L1167.2 704.9M1214.1 644.7L1212.3 640.3M1304.4 670.7L1305.7 662.4M1245.8 568.3L1246.8 574.2M1272.0 688.5L1279.9 686.1M1264.0 564.2L1175.4 564.6M1304.4 670.7L1312.6 669.1M1243.7 688.6L1243.0 686.9M1374.9 684.7L1370.6 708.5M1172.4 570.0L1171.5 571.2M1242.8 707.7L1241.8 705.2M1179.3 574.9L1178.3 568.4M1348.9 739.1L1350.9 756.5M1236.6 710.1L1241.8 701.4M1300.5 663.4L1293.4 667.9M1266.2 639.4L1270.3 636.6M1311.3 626.5L1325.0 629.4M1362.2 575.4L1323.7 587.2M1265.5 607.9L1273.4 610.7M1194.6 646.3L1189.4 649.5M1190.4 668.6L1187.1 669.5M1258.5 685.0L1255.2 680.8M1283.8 597.5L1284.0 599.3M1180.4 568.1L1179.3 574.9M1180.2 595.1L1182.3 598.4M1356.8 739.4L1362.5 768.6M1309.3 698.0L1298.9 690.1M1255.2 680.8L1262.5 677.8M1339.8 711.4L1328.8 708.6M1271.7 583.2L1270.7 574.9M1177.2 616.4L1171.0 621.4M1350.9 756.5L1362.5 768.6M1310.1 598.9L1306.8 607.2M1243.4 694.9L1246.4 691.4M1241.7 574.4L1240.8 571.4M1177.5 608.6L1175.8 612.6M1242.2 641.5L1245.7 639.8M1245.3 626.3L1232.3 621.4M1241.8 701.4L1241.8 705.2M1316.6 656.2L1303.3 647.3M1177.5 608.6L1183.4 604.1M1196.8 564.5L1201.5 569.1M1178.2 647.4L1181.4 635.6M1214.3 591.7L1203.6 598.9M1241.5 620.0L1232.3 621.4M1259.0 688.3L1256.7 685.7M1200.8 590.8L1206.1 590.5M1257.2 571.2L1258.8 568.4M1364.6 704.6L1364.7 702.3M1299.8 635.8L1304.0 633.4M1205.7 670.6L1205.4 667.9M1359.4 691.4L1357.9 680.8M1195.8 639.7L1188.2 634.7M1287.5 582.7L1279.2 578.5M1281.3 574.1L1284.5 572.1M1316.8 696.6L1311.5 695.4M1236.5 637.7L1224.7 634.4M1224.6 578.8L1215.2 590.2M1165.3 622.5L1173.0 627.1M1279.1 699.8L1275.2 702.4M1250.8 760.8L1253.3 726.2M1190.4 668.6L1189.4 672.0M1274.8 579.2L1276.3 585.4M1169.6 598.4L1176.0 599.6M1313.1 584.8L1323.7 587.2M1311.7 609.7L1308.9 610.2M1204.3 644.0L1194.6 646.3M1218.6 693.2L1219.5 688.3M1228.4 721.5L1216.4 705.0M1287.5 582.7L1285.1 588.4M1289.3 629.6L1284.4 630.0M1297.7 625.1L1299.8 635.8M1230.1 606.3L1228.0 598.9M1201.8 736.9L1197.0 753.9M1229.6 569.0L1231.8 575.4M1194.5 652.2L1189.4 649.5M1206.7 630.8L1200.1 637.5M1278.5 631.4L1284.4 630.0M1216.4 705.0L1207.4 698.1M1271.4 614.9L1270.4 619.4M1302.1 641.5L1303.3 647.3M1231.5 666.5L1237.0 658.4M1337.2 674.2L1348.5 687.8M1266.6 691.3L1260.4 691.8M1223.7 613.1L1232.3 621.4M1214.8 609.5L1222.6 608.7M1210.8 677.0L1218.2 672.7M1258.7 653.6L1262.4 643.4M1230.1 606.3L1234.1 608.8M1324.9 720.2L1317.6 744.0M1193.0 602.1L1198.1 612.1M1224.6 578.8L1228.1 581.8M1306.8 607.2L1311.7 609.7M1199.0 660.0L1190.4 668.6M1203.7 612.7L1211.2 608.4M1181.4 635.6L1188.2 634.7M1175.8 671.7L1175.2 683.7M1278.5 631.4L1277.7 629.8M1275.2 702.4L1272.8 699.3M1312.0 565.3L1311.6 569.4M1270.8 667.9L1271.5 676.9M1266.2 687.6L1266.6 691.3M1303.0 583.0L1297.9 592.1M1317.8 678.0L1337.2 674.2M1213.8 741.7L1214.0 717.1M1172.4 570.0L1171.7 565.4M1264.1 699.2L1265.0 696.9M1177.2 616.4L1175.8 612.6M1240.0 651.6L1239.9 658.1M1169.3 656.0L1169.7 654.9M1251.4 624.2L1241.5 620.0M1187.9 706.7L1179.6 711.5M1206.7 630.8L1212.3 640.3M1202.3 580.0L1205.8 576.8M1211.2 608.4L1212.9 612.0M1271.5 676.9L1264.2 676.5M1291.4 652.3L1291.3 649.7M1307.3 597.3L1313.1 584.8M1211.3 652.3L1212.0 653.2M1165.9 592.4L1172.1 578.4M1240.0 589.9L1234.7 583.9M1278.1 681.5L1279.9 686.1M1228.0 598.9L1240.0 589.9M1239.4 675.5L1241.2 676.8M1221.1 667.3L1212.2 670.0M1345.8 672.0L1348.5 687.8M1271.7 583.2L1266.7 576.9M1251.0 672.1L1247.7 662.8M1291.3 649.7L1295.9 636.5M1167.3 696.0L1167.4 694.0M1278.5 631.4L1276.4 631.7M1264.0 564.2L1220.4 565.6M1320.7 616.5L1312.5 619.4M1308.8 702.8L1316.8 696.6M1199.5 576.9L1198.3 568.4M1254.4 632.7L1250.9 625.1M1285.9 655.6L1291.3 649.7M1215.3 649.7L1218.9 651.4M1184.5 723.0L1168.3 717.5M1225.0 696.6L1221.3 702.0M1212.0 653.2L1208.2 657.6M1240.0 680.8L1238.5 681.8M1273.3 572.1L1270.7 574.9M1167.3 696.0L1166.5 700.2M1194.5 652.2L1199.0 660.0M1361.7 713.3L1340.1 716.4M1282.5 652.7L1276.6 642.1M1307.3 597.3L1303.0 583.0M1263.7 619.0L1261.3 618.0M1303.2 613.2L1305.8 616.4M1175.4 698.6L1179.6 711.5M1334.6 740.1L1317.6 744.0M1296.4 686.0L1295.4 680.9M1316.6 656.2L1344.3 637.2M1297.9 583.1L1303.0 583.0M1300.5 663.4L1305.7 662.4M1252.0 642.4L1245.7 639.8M1288.0 768.0L1297.9 758.2M1169.2 602.1L1165.3 622.5M1367.9 572.8L1375.9 611.2M1270.8 667.9L1259.8 661.7M1300.3 671.7L1296.8 670.5M1194.7 582.6L1189.5 585.1M1270.6 699.2L1266.6 691.3M1251.0 672.1L1245.2 667.7M1258.5 685.0L1256.7 685.7M1177.5 608.6L1176.0 599.6M1252.0 642.4L1257.3 648.1M1202.8 617.3L1213.6 627.7M1222.6 608.7L1227.7 608.7M1297.9 583.1L1299.9 580.3M1287.2 690.6L1296.4 686.0M1208.1 649.2L1199.0 660.0M1276.8 592.5L1272.6 587.7M1223.8 742.3L1246.2 761.1M1204.3 644.0L1197.8 641.4M1311.2 686.5L1314.9 689.0M1194.5 652.2L1208.1 649.2M1184.2 692.4L1175.2 683.7M1227.5 692.5L1225.0 696.6M1243.4 694.9L1243.7 688.6M1213.8 741.7L1198.4 755.4M1273.3 572.1L1279.2 578.5M1300.3 671.7L1306.3 675.9M1266.2 687.6L1272.0 688.5M1228.1 581.8L1215.4 590.6M1238.5 681.8L1239.4 675.5M1224.6 578.8L1220.0 567.0M1256.8 684.8L1255.2 680.8M1215.2 590.2L1206.1 590.5M1246.0 663.6L1247.7 662.8M1245.3 626.3L1254.4 632.7M1223.8 742.3L1198.4 755.4M1183.4 604.1L1186.9 603.9M1283.9 606.2L1277.7 612.7M1214.8 609.5L1223.7 613.1M1248.4 638.2L1256.6 636.0M1218.2 672.7L1221.1 667.3M1274.8 579.2L1270.7 574.9M1187.1 669.5L1186.1 668.3M1198.8 629.9L1203.6 628.5M1265.5 607.9L1275.8 605.9M1245.3 626.3L1250.9 625.1M1216.7 645.9L1212.3 640.3M1243.7 688.6L1246.4 691.4M1300.0 745.0L1297.9 758.2M1266.2 687.6L1274.3 685.8M1309.4 685.5L1313.8 680.2M1196.6 586.8L1189.5 585.1M1192.0 701.6L1184.2 692.4M1167.3 696.0L1170.3 695.1M1371.4 639.0L1351.1 655.3M1300.0 745.0L1297.3 729.3M1302.3 570.3L1302.0 565.8M1247.0 594.4L1256.9 598.2M1214.3 591.7L1215.4 590.6M1178.2 647.4L1173.5 643.9M1298.7 649.2L1300.5 663.4M1307.3 597.3L1305.1 582.3M1306.3 675.9L1312.6 669.1M1178.9 762.6L1170.5 727.8M1296.4 686.0L1294.0 681.0M1303.3 647.3L1310.9 662.1M1199.9 611.4L1202.8 617.3M1361.7 713.3L1356.8 739.4M1245.3 626.3L1251.4 624.2M1190.8 592.4L1189.1 588.3M1283.3 706.5L1279.1 699.8M1166.2 638.9L1166.5 700.2M1223.3 603.9L1221.2 600.3M1296.8 670.5L1300.5 663.4M1179.3 574.9L1171.5 571.2M1256.6 636.0L1258.5 635.4M1179.0 628.0L1179.5 635.3M1241.2 676.8L1245.2 667.7M1242.6 591.3L1244.4 592.3M1271.5 676.9L1274.3 685.8M1252.0 642.4L1248.4 638.2M1311.2 686.5L1309.4 685.5M1274.8 579.2L1279.2 578.5M1172.0 637.3L1166.2 638.9M1246.2 761.1L1250.8 760.8M1278.8 595.1L1272.7 593.1M1334.6 740.1L1335.9 756.0M1205.4 667.9L1199.0 667.3M1258.3 662.6L1259.8 661.7M1319.6 759.7L1317.6 744.0M1228.0 598.9L1245.4 604.2M1171.5 571.2L1168.7 570.9M1199.8 622.9L1203.6 628.5M1362.2 575.4L1367.0 576.1M1260.2 586.0L1256.4 591.6M1287.5 582.7L1285.7 574.5M1178.2 647.4L1182.6 647.7M1194.8 677.5L1190.4 668.6M1311.3 626.5L1305.8 616.4M1224.6 690.7L1225.0 696.6M1199.5 576.9L1194.7 582.6M1283.9 606.2L1284.0 599.3M1314.9 689.0L1311.6 686.0M1302.3 570.3L1305.1 582.3M1250.6 676.8L1241.2 676.8M1193.0 602.1L1192.7 602.0M1320.7 616.5L1311.3 626.5M1265.5 607.9L1271.4 614.9M1228.0 598.9L1228.1 581.8M1214.9 604.9L1211.2 608.4M1216.4 705.0L1221.3 702.0M1189.1 588.3L1189.5 585.1M1240.0 680.8L1239.4 675.5M1297.7 625.1L1311.3 626.5M1206.7 630.8L1203.6 628.5M1307.3 597.3L1300.2 607.5M1271.1 649.4L1274.6 657.6M1228.4 721.5L1225.6 733.3M1303.2 613.2L1291.0 607.6M1271.1 649.4L1282.5 652.7M1204.3 644.0L1200.1 637.5M1195.1 635.9L1198.8 633.3M1297.7 625.1L1305.8 616.4M1171.1 684.1L1170.0 691.5M1317.6 744.0L1335.9 756.0M1240.6 645.3L1240.2 638.6M1192.8 713.6L1200.3 704.0M1251.4 624.2L1250.9 625.1M1212.3 640.3L1204.3 644.0M1266.2 687.6L1260.4 691.8M1272.7 593.1L1260.1 595.9M1304.3 564.7L1312.0 565.3M1295.4 680.9L1306.3 675.9M1286.0 627.5L1289.3 629.6M1201.8 736.9L1184.3 731.7M1225.0 696.6L1224.8 699.5M1227.5 692.5L1240.1 689.7M1223.8 742.3L1225.6 733.3M1230.1 606.3L1227.8 603.9M1183.6 572.9L1184.8 581.0M1273.3 572.1L1264.0 564.2M1169.6 598.4L1169.2 602.1M1202.3 580.0L1206.1 590.5M1348.5 687.8L1334.8 691.1M1247.0 594.4L1256.4 591.6M1198.8 633.3L1200.0 632.0M1172.7 635.2L1179.5 635.3M1189.1 588.3L1184.8 581.0M1282.8 673.2L1293.4 667.9M1180.2 595.1L1184.8 581.0M1334.8 691.1L1340.0 701.4M1179.0 628.0L1172.7 635.2M1256.8 684.8L1256.7 685.7M1245.4 604.2L1251.4 607.4M1282.5 652.7L1291.3 649.7M1196.8 564.5L1198.3 568.4M1319.1 613.5L1320.7 616.5M1180.4 568.1L1190.8 573.4M1172.4 570.0L1170.5 565.9M1246.1 690.1L1246.4 691.4M1265.3 700.0L1265.4 705.2M1353.2 607.7L1367.9 628.6M1350.8 658.3L1316.6 656.2M1330.2 618.2L1333.9 628.4M1198.3 568.4L1201.5 569.1M1188.7 618.3L1179.1 616.9M1228.4 721.5L1221.3 702.0M1228.1 581.8L1227.8 577.5M1264.1 705.9L1275.3 708.1M1294.2 660.2L1293.4 667.9M1279.4 766.0L1273.8 746.7M1201.8 736.9L1198.0 754.8M1278.8 595.1L1283.8 597.5M1203.1 689.2L1196.7 693.8M1279.4 766.0L1193.4 768.2M1199.0 660.0L1205.4 667.9M1296.8 670.5L1290.9 672.8M1205.7 670.6L1210.5 678.6M1223.7 613.1L1227.7 608.7M1182.6 647.7L1181.4 635.6M1209.6 629.1L1206.7 630.8M1268.9 615.9L1267.7 618.6M1264.1 705.9L1265.4 705.2M1196.8 626.3L1199.8 622.9M1190.8 573.4L1198.3 568.4M1319.6 759.7L1335.9 756.0M1196.6 765.9L1197.0 753.9M1308.8 702.8L1309.3 704.6M1196.8 626.3L1203.6 628.5M1273.8 746.7L1253.3 726.2M1231.5 666.5L1225.3 658.6M1298.7 649.2L1291.3 649.7M1167.2 704.9L1169.1 714.8M1240.0 651.6L1227.1 655.0M1283.6 634.2L1287.4 632.7M1208.1 649.2L1214.1 644.7M1287.2 690.6L1279.1 699.8M1238.5 575.5L1231.8 575.4M1242.2 641.5L1240.2 638.6M1265.3 700.0L1266.2 704.8M1257.2 628.0L1254.4 632.7M1345.8 634.2L1350.4 637.4M1199.0 660.0L1208.2 657.6M1238.5 681.8L1243.0 686.9M1191.2 630.1L1198.8 629.9M1304.3 564.7L1302.0 565.8M1368.1 632.4L1372.2 622.2M1270.8 667.9L1271.4 662.5M1203.7 612.7L1209.5 604.9M1194.0 577.9L1194.7 582.6M1308.8 702.8L1309.3 698.0M1269.3 630.6L1257.2 628.0M1227.1 655.0L1224.7 634.4M1255.5 651.2L1252.0 642.4M1345.8 634.2L1367.9 628.6M1311.6 579.2L1302.3 570.3M1271.5 676.9L1282.8 673.2M1374.9 684.7L1375.9 611.2M1303.0 583.0L1299.9 580.3M1288.7 705.2L1283.9 701.3M1209.6 629.1L1213.6 627.7M1269.3 630.6L1269.1 622.6M1247.0 594.4L1252.8 604.8M1273.8 746.7L1297.3 729.3M1309.3 698.0L1304.0 701.2M1289.1 674.3L1294.0 681.0M1239.4 675.5L1239.6 668.6M1280.4 620.2L1277.7 629.8M1348.3 693.9L1340.0 701.4M1165.9 592.4L1169.6 598.4M1266.2 687.6L1258.5 685.0M1339.8 711.4L1340.0 701.4M1199.9 611.4L1203.7 612.7M1243.4 694.9L1246.6 697.1M1245.8 568.3L1258.8 568.4M1196.8 626.3L1195.6 621.4M1251.1 610.1L1260.3 608.7M1177.5 608.6L1169.2 602.1M1175.4 698.6L1172.1 700.8M1177.5 695.2L1187.9 706.7M1169.3 656.0L1169.6 651.8M1211.1 689.2L1219.5 688.3M1228.4 721.5L1253.3 726.2M1257.2 628.0L1251.4 624.2M1271.4 662.5L1282.8 673.2M1228.0 598.9L1234.7 583.9M1236.6 710.1L1224.8 699.5M1239.9 658.1L1247.7 662.8M1261.3 618.0L1260.3 608.7M1200.9 618.8L1198.1 612.1M1324.9 720.2L1303.7 722.7M1225.6 733.3L1253.3 726.2M1241.8 701.4L1242.8 705.7M1247.2 607.8L1251.1 610.1M1245.3 626.3L1248.4 638.2M1264.1 705.9L1246.6 697.1M1317.8 678.0L1316.9 683.1M1265.4 705.2L1275.3 708.1M1205.7 670.6L1199.0 667.3M1328.8 708.6L1340.0 701.4M1319.9 592.4L1319.8 604.9M1277.7 612.7L1275.8 605.9M1297.7 625.1L1289.3 629.6M1285.8 606.5L1288.1 617.8M1246.8 574.2L1240.8 571.4M1256.9 598.2L1259.7 600.2M1223.8 742.3L1253.3 726.2M1177.5 695.2L1175.2 683.7M1175.2 683.7L1170.0 691.5M1370.6 708.5L1362.5 768.6M1199.5 576.9L1202.3 580.0M1309.3 704.6L1304.0 701.2M1171.1 684.1L1175.2 683.7M1246.0 663.6L1239.6 668.6M1172.1 578.4L1171.5 571.2M1316.6 656.2L1337.2 674.2M1259.6 655.6L1254.5 655.9M1264.1 705.9L1265.3 700.0M1310.1 598.9L1319.8 604.9M1279.4 766.0L1297.9 758.2M1293.4 667.9L1292.5 659.8M1334.8 691.1L1348.3 693.9M1303.0 583.0L1305.1 582.3M1271.4 614.9L1277.7 612.7M1276.0 604.3L1284.0 599.3M1209.5 604.9L1211.2 608.4M1236.6 710.1L1242.8 707.7M1221.2 600.3L1215.4 590.6M1240.0 680.8L1243.0 686.9M1238.5 575.5L1241.7 574.4M1295.9 743.3L1297.9 758.2M1240.6 645.3L1252.0 642.4M1357.9 680.8L1345.8 672.0M1248.4 638.2L1240.2 638.6M1203.6 628.5L1200.0 632.0M1227.8 603.9L1227.7 608.7M1354.7 670.2L1350.8 658.3M1242.6 591.3L1240.0 589.9M1358.1 680.1L1345.8 672.0M1221.9 669.4L1227.5 674.3M1281.3 574.1L1275.0 566.1M1188.7 618.3L1191.2 630.1M1179.1 616.9L1180.5 628.1M1298.7 649.2L1291.4 652.3M1318.6 666.8L1317.8 678.0M1265.4 705.2L1266.2 704.8M1195.6 621.4L1199.8 621.2M1237.0 658.4L1237.9 656.8M1317.3 685.0L1315.9 682.1M1312.0 565.3L1367.9 572.8M1243.4 694.9L1241.8 701.4M1172.7 635.2L1173.0 627.1M1246.1 690.1L1243.7 688.6M1288.7 705.2L1303.7 722.7M1192.8 713.6L1192.9 705.8M1344.3 637.2L1350.4 637.4M1287.2 690.6L1291.1 702.4M1251.0 672.1L1250.6 676.8M1245.3 626.3L1236.5 637.7M1300.0 745.0L1295.9 743.3M1287.1 566.4L1289.6 571.9M1348.9 739.1L1340.1 716.4M1221.4 672.5L1224.1 679.4M1252.8 604.8L1251.4 607.4M1246.6 697.1L1260.4 691.8M1281.9 638.6L1282.5 652.7M1315.5 667.9L1317.8 678.0M1297.3 729.3L1303.7 722.7M1242.6 591.3L1255.7 589.0M1259.0 688.3L1246.4 691.4M1276.8 592.5L1276.3 585.4M1231.9 615.7L1234.1 608.8M1257.1 684.6L1256.8 684.8M1185.9 596.8L1189.1 588.3M1269.1 622.6L1267.7 618.6M1197.8 639.5L1197.1 638.7M1357.9 680.8L1348.5 687.8M1280.4 620.2L1277.7 612.7M1188.7 618.3L1184.1 605.1M1354.7 670.2L1351.1 655.3M1214.8 609.5L1211.2 608.4M1273.8 694.9L1279.9 686.1M1284.7 684.1L1289.1 674.3M1282.8 673.2L1292.5 659.8M1191.2 630.1L1195.1 635.9M1228.1 581.8L1234.8 582.4M1231.8 575.4L1227.8 577.5M1259.8 661.7L1259.6 655.6M1311.6 579.2L1318.7 577.4M1268.9 615.9L1271.4 614.9M1172.0 637.3L1173.5 643.9M1298.7 649.2L1295.9 636.5M1195.6 621.4L1199.8 622.9M1239.9 658.1L1254.5 655.9M1246.2 761.1L1196.6 765.9M1194.3 678.5L1189.4 672.0M1240.0 680.8L1244.9 682.8M1189.1 588.3L1196.6 586.8M1297.9 592.1L1300.2 607.5M1256.6 636.0L1254.4 632.7M1294.2 660.2L1292.5 659.8M1169.2 602.1L1166.9 596.8M1309.8 698.0L1309.3 698.0M1229.6 569.0L1227.8 577.5M1180.4 568.1L1196.8 564.5M1319.6 759.7L1297.9 758.2M1167.2 704.9L1166.5 700.2M1265.3 700.0L1265.0 696.9M1227.1 655.0L1237.0 658.4M1257.2 628.0L1261.3 618.0M1184.3 682.0L1196.7 693.8M1182.1 740.7L1201.8 736.9M1284.5 572.1L1287.1 566.4M1266.2 639.4L1258.5 635.4M1311.3 626.5L1304.0 633.4M1169.7 654.9L1169.6 651.8M1194.3 678.5L1196.7 693.8M1305.8 616.4L1308.9 610.2M1234.1 608.8L1227.7 608.7M1300.5 663.4L1294.5 658.4M1309.4 685.5L1298.9 690.1M1311.7 609.7L1312.5 619.4M1232.3 621.4L1224.7 634.4M1214.9 604.9L1209.5 604.9M1214.3 591.7L1209.5 604.9M1272.7 593.1L1272.6 587.7M1318.8 697.4L1328.8 708.6M1319.1 613.5L1323.9 612.1M1239.7 612.5L1242.3 610.1M1174.8 664.5L1171.5 679.1M1317.2 642.9L1333.9 628.4M1279.1 699.8L1283.9 701.3M1302.0 565.8L1287.1 566.4M1256.6 636.0L1256.0 634.1M1287.2 690.6L1284.7 684.1M1190.8 592.4L1193.0 602.1M1297.7 625.1L1304.0 633.4M1257.2 571.2L1266.7 576.9M1274.8 579.2L1271.7 583.2M1306.4 681.2L1313.8 680.2M1251.1 610.1L1261.3 618.0M1268.9 615.9L1270.4 619.4M1170.3 695.1L1170.0 691.5M1165.3 622.5L1166.5 700.2M1334.8 691.1L1317.3 685.0M1248.4 638.2L1254.4 632.7M1212.3 640.3L1224.7 634.4M1362.2 575.4L1312.0 565.3M1264.2 676.5L1264.4 673.5M1197.8 639.5L1197.8 641.4M1305.7 662.4L1303.3 647.3M1320.7 616.5L1325.0 629.4M1278.5 631.4L1281.9 638.6M1348.9 739.1L1356.8 739.4M1339.8 711.4L1361.7 713.3M1258.3 662.6L1256.3 667.3M1260.2 586.0L1272.6 587.7M1214.1 644.7L1216.7 645.9M1228.0 598.9L1221.2 600.3M1324.9 720.2L1334.6 740.1M1244.9 682.8L1256.8 684.8M1221.1 667.3L1225.0 663.7M1187.1 669.5L1189.4 672.0M1192.0 701.6L1196.7 693.8M1252.8 604.8L1260.3 608.7M1203.1 689.2L1194.3 678.5M1222.6 608.7L1215.0 606.2M1283.8 587.4L1287.5 582.7M1174.8 664.5L1175.8 671.7M1251.4 607.4L1260.3 608.7M1259.8 661.7L1271.4 662.5M1267.7 618.6L1270.4 619.4M1350.4 637.4L1368.1 632.4M1235.2 570.5L1229.6 569.0M1304.3 564.7L1287.1 566.4M1242.6 591.3L1245.4 604.2M1264.0 564.2L1287.1 566.4M1306.3 672.5L1312.6 669.1M1345.8 634.2L1333.9 628.4M1194.0 577.9L1184.8 581.0M1279.1 699.8L1279.9 686.1M1312.5 619.4L1308.9 610.2M1236.5 637.7L1240.2 638.6M1220.4 565.6L1201.5 569.1M1335.9 756.0L1362.5 768.6M1303.7 722.7L1317.6 744.0M1210.5 678.6L1210.2 689.7M1175.4 698.6L1175.1 694.6M1306.4 681.2L1306.3 675.9M1279.1 699.8L1272.8 699.3M1240.0 589.9L1237.7 585.2M1221.4 672.5L1221.9 669.4M1258.7 653.6L1254.5 655.9M1241.7 574.4L1237.7 585.2M1288.0 768.0L1362.5 768.6M1169.2 602.1L1175.8 612.6M1200.1 637.5L1197.8 641.4M1318.8 697.4L1317.3 685.0M1224.6 578.8L1212.3 576.6M1307.3 597.3L1310.1 598.9M1194.5 652.2L1190.4 668.6M1291.4 652.3L1292.5 659.8M1223.3 603.9L1222.6 608.7M1266.2 687.6L1264.2 676.5M1212.3 576.6L1215.2 590.2M1303.2 613.2L1308.9 610.2M1236.6 710.1L1241.8 705.2M1345.8 672.0L1337.2 674.2M1264.0 564.2L1275.0 566.1M1264.1 705.9L1264.1 699.2M1303.7 722.7L1309.3 704.6M1195.1 635.9L1200.1 637.5M1255.5 651.2L1240.0 651.6M1201.8 736.9L1214.0 717.1M1282.8 673.2L1274.6 657.6M1285.9 655.6L1292.5 659.8M1196.8 564.5L1175.4 564.6M1298.7 649.2L1302.1 641.5M1298.0 699.8L1299.7 697.1M1318.8 697.4L1334.8 691.1M1201.5 704.5L1192.8 713.6M1258.4 633.6L1257.2 628.0M1172.1 700.8L1179.6 711.5M1276.8 592.5L1283.6 587.6M1180.3 666.3L1186.1 668.3M1199.0 660.0L1208.3 658.0M1361.7 713.3L1370.6 708.5M1245.2 667.7L1247.7 662.8M1228.1 678.8L1224.6 690.7M1251.0 672.1L1241.2 676.8M1273.8 746.7L1295.9 743.3M1317.2 642.9L1325.0 629.4M1215.3 649.7L1211.3 652.3M1297.9 592.1L1284.0 599.3M1173.5 643.9L1179.5 635.3" stroke="#3b1b45" stroke-width="0.5" fill="none" opacity="0.32"/><g opacity="0.5"><path d="M1279.4 766.0h0M1283.9 606.2h0M1266.2 639.4h0M1258.3 662.6h0M1192.4 581.8h0M1255.5 651.2h0M1197.8 639.5h0M1214.8 609.5h0M1286.0 627.5h0M1304.4 670.7h0M1228.4 721.5h0M1172.0 637.3h0M1251.0 672.1h0M1180.3 666.3h0M1218.6 693.2h0M1182.1 740.7h0M1270.8 667.9h0M1224.6 578.8h0M1304.3 564.7h0M1283.8 587.4h0M1308.8 702.8h0M1223.8 742.3h0M1285.9 655.6h0M1165.9 592.4h0M1287.2 690.6h0M1348.9 739.1h0M1283.3 706.5h0M1194.5 652.2h0M1266.2 687.6h0M1263.7 619.0h0M1264.1 705.9h0M1278.5 631.4h0M1201.5 704.5h0M1273.8 694.9h0M1184.3 682.0h0M1359.4 691.4h0M1180.2 595.1h0M1264.1 699.2h0M1208.1 649.2h0M1228.1 678.8h0M1225.6 733.3h0M1358.1 680.1h0M1169.6 598.4h0M1374.9 684.7h0M1210.8 677.0h0M1311.6 579.2h0M1171.1 684.1h0M1298.0 699.8h0M1199.0 660.0h0M1240.6 645.3h0M1307.3 597.3h0M1297.9 583.1h0M1203.1 689.2h0M1302.3 570.3h0M1271.1 649.4h0M1242.2 641.5h0M1273.8 746.7h0M1246.1 690.1h0M1281.9 638.6h0M1273.3 572.1h0M1169.3 656.0h0M1287.5 582.7h0M1276.0 604.3h0M1258.4 633.6h0M1172.4 570.0h0M1180.4 568.1h0M1196.8 626.3h0M1362.9 603.6h0M1208.3 658.0h0M1354.7 670.2h0M1188.7 618.3h0M1318.8 697.4h0M1268.9 615.9h0M1206.0 628.4h0M1278.1 681.5h0M1191.2 630.1h0M1276.8 592.5h0M1214.3 591.7h0M1177.5 608.6h0M1280.4 620.2h0M1271.5 676.9h0M1282.3 719.5h0M1214.5 646.7h0M1282.5 652.7h0M1205.7 670.6h0M1362.2 575.4h0M1199.5 576.9h0M1257.1 684.6h0M1192.8 713.6h0M1300.3 671.7h0M1357.9 680.8h0M1210.5 678.6h0M1177.2 616.4h0M1339.8 711.4h0M1242.6 591.3h0M1177.5 695.2h0M1258.7 653.6h0M1178.2 647.4h0M1194.8 677.5h0M1169.2 602.1h0M1173.5 643.9h0M1182.3 598.4h0M1278.8 595.1h0M1175.5 658.0h0M1200.9 618.8h0M1233.9 669.9h0M1303.2 613.2h0M1245.8 568.3h0M1238.5 575.5h0M1215.3 649.7h0M1300.0 745.0h0M1250.6 676.8h0M1245.3 626.3h0M1209.6 629.1h0M1313.7 631.3h0M1175.4 698.6h0M1296.8 670.5h0M1240.0 680.8h0M1361.7 713.3h0M1168.3 658.0h0M1230.1 606.3h0M1269.3 630.6h0M1238.5 681.8h0M1244.9 682.8h0M1310.1 598.9h0M1195.6 621.4h0M1288.0 768.0h0M1212.3 576.6h0M1179.3 574.9h0M1240.0 651.6h0M1283.6 587.6h0M1166.2 638.9h0M1205.4 667.9h0M1265.3 700.0h0M1297.7 625.1h0M1298.7 649.2h0M1306.4 681.2h0M1178.9 762.6h0M1179.0 628.0h0M1245.3 608.6h0M1190.4 668.6h0M1265.5 607.9h0M1243.4 694.9h0M1319.9 592.4h0M1167.3 696.0h0M1319.1 613.5h0M1192.0 701.6h0M1228.0 598.9h0M1236.6 710.1h0M1317.2 642.9h0M1223.3 603.9h0M1281.3 574.1h0M1264.0 564.2h0M1228.1 581.8h0M1315.5 667.9h0M1247.0 594.4h0M1313.4 582.1h0M1197.1 638.7h0M1207.1 707.6h0M1216.4 705.0h0M1252.0 642.4h0M1345.8 672.0h0M1227.8 603.9h0M1227.5 692.5h0M1239.7 612.5h0M1218.2 672.7h0M1340.1 716.4h0M1239.4 675.5h0M1283.6 634.2h0M1272.7 593.1h0M1289.8 579.1h0M1260.2 586.0h0M1274.8 579.2h0M1318.6 666.8h0M1213.8 741.7h0M1182.6 647.7h0M1245.4 604.2h0M1309.8 698.0h0M1202.3 580.0h0M1247.2 607.8h0M1311.5 645.2h0M1172.1 578.4h0M1194.0 577.9h0M1297.3 729.3h0M1234.8 582.4h0M1241.8 701.4h0M1171.5 571.2h0M1220.4 565.6h0M1187.9 706.7h0M1184.5 723.0h0M1166.9 596.8h0M1256.9 598.2h0M1257.2 628.0h0M1172.7 635.2h0M1223.7 613.1h0M1270.6 699.2h0M1183.4 604.1h0M1196.8 564.5h0M1236.5 637.7h0M1265.4 705.2h0M1246.0 663.6h0M1367.0 576.1h0M1194.7 582.6h0M1174.8 664.5h0M1291.4 652.3h0M1221.4 672.5h0M1251.4 624.2h0M1276.9 655.1h0M1190.8 573.4h0M1181.4 635.6h0M1186.9 603.9h0M1299.7 697.1h0M1300.5 663.4h0M1199.9 611.4h0M1289.3 629.6h0M1190.8 592.4h0M1276.3 585.4h0M1214.1 644.7h0M1324.9 720.2h0M1227.1 655.0h0M1198.8 629.9h0M1264.2 676.5h0M1221.1 667.3h0M1350.8 658.3h0M1246.2 761.1h0M1306.3 672.5h0M1252.8 604.8h0M1175.8 671.7h0M1279.2 578.5h0M1294.5 658.4h0M1194.0 647.9h0M1241.2 676.8h0M1201.8 736.9h0M1285.8 606.5h0M1206.7 630.8h0M1231.9 615.7h0M1179.5 635.3h0M1355.4 740.4h0M1194.3 678.5h0M1184.6 767.0h0M1272.0 688.5h0M1313.6 707.8h0M1318.7 577.4h0M1314.0 567.9h0M1251.1 610.1h0M1317.1 758.1h0M1172.1 700.8h0M1222.6 608.7h0M1224.6 690.7h0M1330.2 618.2h0M1192.9 705.8h0M1305.7 662.4h0M1179.2 610.1h0M1202.8 617.3h0M1248.4 638.2h0M1195.8 639.7h0M1288.1 617.8h0M1214.0 717.1h0M1170.5 727.8h0M1271.4 614.9h0M1207.4 698.1h0M1185.9 596.8h0M1256.8 684.8h0M1277.7 612.7h0M1246.6 697.1h0M1195.1 635.9h0M1198.8 633.3h0M1220.0 567.0h0M1319.6 759.7h0M1240.2 638.6h0M1216.7 645.9h0M1169.7 654.9h0M1316.6 656.2h0M1291.0 607.6h0M1261.3 618.0h0M1250.8 760.8h0M1199.8 621.2h0M1199.0 667.3h0M1211.1 689.2h0M1275.8 605.9h0M1212.3 640.3h0M1288.7 705.2h0M1279.1 699.8h0M1266.6 691.3h0M1231.5 666.5h0M1211.3 652.3h0M1221.9 669.4h0M1204.3 644.0h0M1203.7 612.7h0M1309.3 698.0h0M1287.4 632.7h0M1237.0 658.4h0M1275.0 566.1h0M1296.4 686.0h0M1184.1 605.1h0M1179.1 616.9h0M1362.5 600.7h0M1303.0 583.0h0M1189.1 588.3h0M1175.4 564.6h0M1256.6 636.0h0M1284.5 572.1h0M1187.1 669.5h0M1272.6 587.7h0M1175.8 612.6h0M1251.4 607.4h0M1276.4 631.7h0M1167.2 704.9h0M1237.9 656.8h0M1244.4 592.3h0M1165.3 622.5h0M1299.8 635.8h0M1259.8 661.7h0M1269.1 622.6h0M1196.6 586.8h0M1200.8 590.8h0M1317.8 678.0h0M1320.7 616.5h0M1371.4 639.0h0M1295.4 680.9h0M1245.7 639.8h0M1193.4 768.2h0M1189.5 585.1h0M1302.0 565.8h0M1302.1 641.5h0M1241.5 620.0h0M1319.8 604.9h0M1303.3 647.3h0M1297.9 592.1h0M1196.6 765.9h0M1212.0 653.2h0M1260.4 691.8h0M1283.8 597.5h0M1316.8 696.6h0M1215.0 606.2h0M1306.8 607.2h0M1311.3 626.5h0M1227.5 674.3h0M1362.7 578.2h0M1214.9 604.9h0M1311.2 686.5h0M1337.2 674.2h0M1300.2 607.5h0M1215.2 590.2h0M1225.0 696.6h0M1267.7 618.6h0M1200.3 704.0h0M1270.4 619.4h0M1205.8 576.8h0M1314.9 689.0h0M1256.0 634.1h0M1275.7 656.5h0M1277.7 629.8h0M1240.1 689.7h0M1221.2 600.3h0M1235.2 570.5h0M1184.0 756.0h0M1259.6 655.6h0M1198.4 755.4h0M1188.2 634.7h0M1254.4 632.7h0M1262.4 643.4h0M1224.1 679.4h0M1167.4 694.0h0M1364.6 704.6h0M1345.8 634.2h0M1184.2 692.4h0M1184.3 731.7h0M1265.0 696.9h0M1259.0 688.3h0M1168.3 717.5h0M1239.9 658.1h0M1176.0 599.6h0M1265.9 578.6h0M1274.3 685.8h0M1259.7 600.2h0M1186.1 668.3h0M1246.8 574.2h0M1258.5 635.4h0M1303.7 722.7h0M1203.6 598.9h0M1171.5 679.1h0M1344.3 637.2h0M1171.0 621.4h0M1225.0 663.7h0M1171.7 565.4h0M1258.5 685.0h0M1199.8 622.9h0M1197.0 753.9h0M1234.1 608.8h0M1256.4 591.6h0M1193.0 602.1h0M1370.6 708.5h0M1221.3 702.0h0M1198.1 612.1h0M1242.8 707.7h0M1240.0 589.9h0M1229.6 569.0h0M1316.9 683.1h0M1271.4 662.5h0M1294.2 660.2h0M1208.9 579.8h0M1312.0 565.3h0M1304.0 633.4h0M1367.9 572.8h0M1170.3 695.1h0M1243.7 688.6h0M1175.2 683.7h0M1283.0 677.5h0M1364.7 702.3h0M1333.9 628.4h0M1273.4 610.7h0M1279.9 686.1h0M1189.4 672.0h0M1334.6 740.1h0M1284.7 684.1h0M1348.5 687.8h0M1295.9 743.3h0M1310.9 662.1h0M1282.8 673.2h0M1246.0 607.3h0M1257.2 571.2h0M1180.5 628.1h0M1203.6 628.5h0M1273.4 696.3h0M1334.8 691.1h0M1212.2 670.0h0M1245.2 667.7h0M1224.8 699.5h0M1271.7 583.2h0M1231.0 672.2h0M1350.4 637.4h0M1311.6 686.0h0M1168.7 570.9h0M1200.1 637.5h0M1293.4 667.9h0M1178.3 568.4h0M1270.9 663.2h0M1233.2 672.1h0M1348.3 693.9h0M1323.9 612.1h0M1257.3 648.1h0M1198.0 754.8h0M1255.2 680.8h0M1243.0 686.9h0M1283.9 701.3h0M1287.1 566.4h0M1292.5 659.8h0M1264.4 673.5h0M1209.5 604.9h0M1309.4 685.5h0M1227.7 608.7h0M1289.6 571.9h0M1242.3 610.1h0M1266.2 704.8h0M1260.1 595.9h0M1309.3 704.6h0M1305.8 616.4h0M1253.3 726.2h0M1169.6 651.8h0M1350.9 756.5h0M1262.5 677.8h0M1311.7 609.7h0M1234.7 583.9h0M1313.1 584.8h0M1239.6 668.6h0M1317.6 744.0h0M1242.8 705.7h0M1194.6 646.3h0M1246.4 691.4h0M1285.1 588.4h0M1317.3 685.0h0M1284.0 599.3h0M1247.7 662.8h0M1276.6 642.1h0M1241.7 574.4h0M1270.3 636.6h0M1289.1 674.3h0M1351.1 655.3h0M1306.3 675.9h0M1183.6 572.9h0M1250.9 625.1h0M1232.3 621.4h0M1284.4 630.0h0M1166.5 700.2h0M1169.1 714.8h0M1200.0 632.0h0M1275.3 708.1h0M1256.7 685.7h0M1213.6 627.7h0M1256.3 667.3h0M1328.8 708.6h0M1274.6 657.6h0M1170.0 691.5h0M1291.1 702.4h0M1208.2 657.6h0M1266.7 576.9h0M1275.2 702.4h0M1224.7 634.4h0M1368.1 632.4h0M1215.4 590.6h0M1325.0 629.4h0M1225.3 658.6h0M1211.2 608.4h0M1315.9 682.1h0M1294.0 681.0h0M1186.1 766.5h0M1198.3 568.4h0M1170.5 565.9h0M1356.8 739.4h0M1323.7 587.2h0M1196.7 693.8h0M1313.8 680.2h0M1189.4 649.5h0M1192.7 602.0h0M1340.0 701.4h0M1312.6 669.1h0M1206.1 590.5h0M1285.7 574.5h0M1305.1 582.3h0M1312.5 619.4h0M1335.9 756.0h0M1291.3 649.7h0M1197.8 641.4h0M1311.6 569.4h0M1201.5 569.1h0M1270.7 574.9h0M1218.9 651.4h0M1254.5 655.9h0M1240.8 571.4h0M1255.7 589.0h0M1287.6 635.3h0M1290.9 672.8h0M1272.8 699.3h0M1304.0 701.2h0M1258.8 568.4h0M1175.1 694.6h0M1375.9 611.2h0M1219.5 688.3h0M1299.9 580.3h0M1260.3 608.7h0M1231.8 575.4h0M1179.6 711.5h0M1311.5 695.4h0M1295.9 636.5h0M1353.2 607.7h0M1298.9 690.1h0M1372.2 622.2h0M1168.7 645.6h0M1308.9 610.2h0M1362.5 768.6h0M1241.8 705.2h0M1367.9 628.6h0M1212.9 612.0h0M1184.8 581.0h0M1237.7 585.2h0M1297.9 758.2h0M1210.2 689.7h0M1227.8 577.5h0M1173.0 627.1h0" stroke="#3a1a48" stroke-width="1.50" stroke-linecap="round" fill="none"/></g></g><rect x="1170.0" y="569.0" width="201.0" height="200.4" fill="none" stroke="#444" stroke-width="0.8"/><g font-size="10.5" fill="#333" style="font-family:&quot;Liberation Sans&quot;"><text x="1165" y="569.5" text-anchor="end" dominant-baseline="central">0</text><line x1="1167" y1="569.5" x2="1170" y2="569.5" stroke="#444" stroke-width="0.8"/><text x="1165" y="608.0" text-anchor="end" dominant-baseline="central">500</text><line x1="1167" y1="608.0" x2="1170" y2="608.0" stroke="#444" stroke-width="0.8"/><text x="1165" y="646.3" text-anchor="end" dominant-baseline="central">1000</text><line x1="1167" y1="646.3" x2="1170" y2="646.3" stroke="#444" stroke-width="0.8"/><text x="1165" y="684.5" text-anchor="end" dominant-baseline="central">1500</text><line x1="1167" y1="684.5" x2="1170" y2="684.5" stroke="#444" stroke-width="0.8"/><text x="1165" y="722.8" text-anchor="end" dominant-baseline="central">2000</text><line x1="1167" y1="722.8" x2="1170" y2="722.8" stroke="#444" stroke-width="0.8"/><text x="1165" y="761.0" text-anchor="end" dominant-baseline="central">2500</text><line x1="1167" y1="761.0" x2="1170" y2="761.0" stroke="#444" stroke-width="0.8"/><text x="1170.5" y="778.5" text-anchor="middle" dominant-baseline="central">0</text><text x="1209.0" y="778.5" text-anchor="middle" dominant-baseline="central">500</text><text x="1247.3" y="778.5" text-anchor="middle" dominant-baseline="central">1000</text><text x="1285.6" y="778.5" text-anchor="middle" dominant-baseline="central">1500</text><text x="1324.0" y="778.5" text-anchor="middle" dominant-baseline="central">2000</text><text x="1362.3" y="778.5" text-anchor="middle" dominant-baseline="central">2500</text></g></g>
<g><rect x="1375" y="565" width="337" height="218" fill="#efeff1"/><path d="M1686.0 713.1L1672.7 703.3M1422.0 748.5L1426.2 747.4M1647.5 720.1L1637.2 729.4M1392.9 776.8L1384.9 756.8M1436.6 603.1L1431.4 607.9M1709.7 631.6L1698.3 622.6M1674.7 586.6L1671.9 580.1M1692.3 730.1L1699.9 728.2M1591.9 775.7L1604.2 780.3M1392.9 776.8L1402.0 777.7M1403.4 629.5L1404.0 621.6M1425.3 757.9L1436.5 762.8M1475.2 771.9L1478.3 771.2M1487.9 775.7L1501.5 780.3M1588.5 759.9L1591.9 775.7M1385.8 730.0L1408.3 731.2M1408.3 731.2L1417.3 707.6M1421.3 569.4L1415.2 578.4M1684.4 759.5L1678.8 740.7M1431.0 767.5L1436.5 762.8M1594.7 768.4L1604.2 780.3M1664.0 766.5L1662.9 769.0M1681.1 587.0L1697.1 579.2M1429.6 571.6L1432.7 578.7M1676.8 580.8L1671.9 580.1M1426.2 747.4L1425.3 757.9M1686.2 697.2L1687.5 682.5M1407.7 688.7L1391.4 702.2M1684.4 759.5L1680.2 761.7M1630.7 757.6L1626.6 739.5M1684.7 700.6L1692.5 713.6M1629.8 773.7L1633.2 774.2M1692.3 730.1L1678.8 740.7M1668.1 718.5L1686.0 713.1M1669.8 592.7L1665.8 586.3M1588.5 759.9L1594.7 768.4M1670.9 598.6L1679.2 616.1M1655.5 731.8L1659.6 732.6M1687.4 572.9L1664.1 568.1M1384.9 756.8L1398.7 761.0M1432.7 578.7L1415.2 578.4M1408.3 731.2L1422.0 748.5M1679.8 586.0L1676.6 585.1M1677.3 604.9L1679.2 616.1M1636.3 747.2L1626.6 739.5M1473.9 773.7L1475.2 771.9M1662.3 732.8L1678.8 740.7M1411.8 579.1L1415.2 578.4M1428.9 606.8L1430.8 606.5M1594.7 768.4L1591.9 775.7M1669.8 592.7L1656.7 595.2M1705.9 746.4L1684.4 759.5M1681.1 587.0L1702.2 582.3M1691.2 770.2L1680.6 767.5M1709.7 631.6L1695.3 626.4M1679.8 586.0L1674.7 586.6M1686.2 697.2L1673.7 699.3M1681.1 587.0L1685.8 578.6M1591.3 779.4L1604.2 780.3M1396.1 770.3L1398.7 761.0M1665.3 744.8L1662.3 732.8M1519.2 573.6L1513.9 577.7M1680.6 767.5L1684.4 759.5M1637.3 742.4L1642.6 749.5M1703.2 734.2L1706.2 726.1M1702.2 582.3L1687.4 572.9M1676.6 585.1L1671.9 580.1M1501.5 780.3L1502.3 771.2M1519.8 574.9L1513.9 577.7M1389.4 633.9L1404.0 621.6M1502.3 771.2L1478.3 771.2M1687.4 572.9L1697.1 579.2M1383.9 703.6L1391.4 702.2M1630.7 757.6L1629.8 773.7M1414.7 620.3L1431.4 607.9M1630.7 757.6L1636.3 747.2M1414.8 733.3L1425.9 742.1M1445.5 760.8L1426.2 747.4M1695.3 626.4L1698.3 622.6M1389.4 633.9L1403.4 629.5M1455.8 763.2L1473.9 773.7M1697.8 618.5L1681.2 605.3M1408.3 731.2L1397.9 717.5M1591.3 779.4L1591.9 775.7M1417.3 707.6L1413.3 690.5M1691.2 770.2L1691.9 768.8M1709.7 631.6L1701.2 642.4M1607.1 752.9L1588.5 759.9M1642.6 749.5L1636.3 747.2M1692.3 730.1L1686.0 713.1M1467.2 579.3L1490.3 576.4M1637.3 742.4L1637.2 729.4M1664.0 766.5L1677.1 760.8M1476.5 570.5L1467.2 579.3M1385.0 606.1L1380.2 604.5M1455.8 763.2L1445.5 760.8M1665.8 586.3L1671.9 580.1M1642.6 749.5L1630.7 757.6M1676.8 580.8L1664.1 568.1M1668.1 718.5L1672.7 703.3M1613.8 744.7L1626.6 739.5M1691.2 770.2L1694.9 771.4M1630.7 757.6L1613.8 744.7M1402.0 777.7L1396.1 770.3M1422.0 748.5L1425.3 757.9M1414.8 733.3L1417.3 707.6M1613.8 744.7L1607.1 752.9M1425.1 589.8L1411.8 579.1M1665.3 744.8L1642.6 749.5M1677.1 760.8L1680.2 761.7M1665.8 586.3L1656.7 595.2M1705.9 746.4L1708.0 745.9M1630.8 568.2L1629.4 570.6M1455.8 763.2L1478.3 771.2M1642.6 749.5L1655.5 731.8M1659.6 732.6L1662.3 732.8M1680.6 767.5L1691.9 768.8M1699.2 716.8L1699.9 728.2M1436.7 592.9L1425.1 589.8M1607.1 752.9L1594.7 768.4M1392.9 776.8L1396.1 770.3M1542.6 766.7L1559.2 776.3M1397.9 717.5L1391.4 702.2M1681.1 587.0L1674.7 586.6M1697.8 618.5L1683.3 617.5M1692.5 713.6L1686.2 697.2M1417.3 707.6L1407.7 688.7M1703.7 694.6L1699.2 716.8M1476.5 570.5L1490.3 576.4M1672.7 703.3L1673.7 699.3M1695.5 686.6L1686.2 697.2M1407.7 688.7L1413.3 690.5M1630.7 757.6L1647.2 773.9M1428.5 588.7L1425.1 589.8M1637.3 742.4L1626.6 739.5M1513.8 779.5L1502.3 771.2M1655.5 731.8L1647.5 720.1M1445.5 760.8L1433.9 776.0M1703.7 694.6L1692.5 713.6M1428.5 588.7L1432.7 578.7M1455.8 763.2L1433.9 776.0M1680.6 767.5L1662.9 769.0M1428.9 606.8L1414.7 620.3M1683.3 617.5L1681.2 605.3M1642.6 749.5L1647.2 773.9M1695.3 626.4L1701.2 642.4M1668.1 718.5L1659.6 732.6M1681.1 587.0L1670.9 598.6M1668.1 718.5L1647.5 720.1M1676.8 580.8L1685.8 578.6M1487.9 775.7L1502.3 771.2M1426.2 747.4L1436.5 762.8M1519.8 574.9L1510.2 581.0M1467.2 579.3L1465.9 591.8M1518.4 773.6L1542.6 766.7M1697.1 579.2L1685.8 578.6M1701.9 647.0L1701.2 642.4M1673.7 699.3L1687.5 682.5M1588.5 759.9L1587.5 757.3M1664.1 568.1L1671.9 580.1M1429.6 571.6L1415.2 578.4M1386.7 588.6L1379.9 582.5M1385.8 730.0L1397.9 717.5M1665.3 744.8L1678.8 740.7M1703.2 734.2L1705.9 746.4M1518.4 773.6L1502.3 771.2M1436.7 592.9L1428.5 588.7M1694.9 771.4L1705.7 760.3M1637.3 742.4L1636.3 747.2M1420.0 762.0L1398.7 761.0M1664.1 568.1L1665.8 586.3M1428.9 606.8L1431.4 607.9M1420.0 762.0L1433.9 776.0M1431.0 767.5L1433.9 776.0M1695.5 686.6L1687.5 682.5M1436.7 592.9L1430.8 606.5M1707.6 750.8L1705.9 746.4M1430.8 606.5L1431.4 607.9M1699.9 728.2L1706.2 726.1M1706.2 726.1L1708.0 745.9M1518.4 773.6L1513.8 779.5M1691.9 768.8L1705.7 760.3M1662.9 769.0L1647.2 773.9M1668.1 718.5L1655.5 731.8M1684.7 700.6L1686.2 697.2M1513.9 577.7L1510.2 581.0M1644.3 778.5L1647.2 773.9M1431.0 767.5L1425.9 762.8M1420.0 762.0L1425.9 762.8M1383.9 703.6L1397.9 717.5M1455.8 763.2L1475.2 771.9M1665.3 744.8L1677.1 760.8M1707.6 750.8L1684.4 759.5M1408.3 731.2L1414.8 733.3M1680.6 767.5L1680.2 761.7M1421.3 569.4L1429.6 571.6M1674.7 586.6L1676.6 585.1M1709.7 631.6L1697.8 618.5M1681.2 605.3L1679.2 616.1M1681.1 587.0L1669.8 592.7M1708.5 722.3L1708.0 745.9M1389.4 633.9L1392.3 636.6M1677.1 760.8L1678.8 740.7M1677.3 604.9L1681.2 605.3M1680.6 767.5L1677.1 760.8M1681.1 587.0L1681.2 605.3M1703.2 734.2L1692.3 730.1M1439.4 579.9L1429.6 571.6M1510.2 581.0L1490.3 576.4M1637.3 742.4L1655.5 731.8M1692.3 730.1L1705.9 746.4M1402.0 777.7L1398.7 761.0M1629.8 773.7L1644.3 778.5M1699.2 716.8L1706.2 726.1M1420.0 762.0L1425.3 757.9M1681.1 587.0L1679.8 586.0M1676.8 580.8L1676.6 585.1M1404.0 621.6L1385.0 606.1M1630.7 757.6L1633.2 774.2M1692.3 730.1L1699.2 716.8M1669.8 592.7L1674.7 586.6M1392.3 636.6L1403.4 629.5M1708.5 722.3L1706.2 726.1M1665.3 744.8L1664.0 766.5M1665.3 744.8L1659.6 732.6M1426.2 747.4L1425.9 742.1M1473.9 773.7L1487.9 775.7M1414.7 620.3L1404.0 621.6M1674.7 586.6L1665.8 586.3M1379.9 582.5L1380.2 604.5M1644.3 778.5L1662.9 769.0M1702.2 582.3L1697.1 579.2M1670.9 598.6L1677.3 604.9M1378.8 650.0L1392.3 636.6M1692.5 713.6L1686.0 713.1M1680.6 767.5L1664.0 766.5M1487.9 775.7L1478.3 771.2M1681.1 587.0L1677.3 604.9M1414.7 620.3L1403.4 629.5M1519.2 573.6L1524.7 570.7M1707.6 750.8L1705.7 760.3M1626.6 739.5L1637.2 729.4M1669.8 592.7L1670.9 598.6M1436.5 762.8L1433.9 776.0M1703.2 734.2L1708.0 745.9M1607.1 752.9L1587.5 757.3M1695.3 626.4L1683.3 617.5M1384.9 756.8L1396.1 770.3M1436.6 603.1L1436.7 592.9M1684.7 700.6L1673.7 699.3M1519.8 574.9L1524.7 570.7M1425.1 589.8L1432.7 578.7M1420.0 762.0L1422.0 748.5M1630.7 757.6L1607.1 752.9M1707.6 750.8L1708.0 745.9M1436.7 592.9L1439.4 579.9M1676.8 580.8L1687.4 572.9M1670.9 598.6L1656.7 595.2M1684.4 759.5L1705.7 760.3M1695.3 626.4L1697.8 618.5M1436.5 762.8L1425.9 762.8M1684.7 700.6L1672.7 703.3M1665.3 744.8L1655.5 731.8M1697.8 618.5L1698.3 622.6M1655.5 731.8L1637.2 729.4M1386.7 588.6L1385.0 606.1M1386.7 588.6L1380.2 604.5M1420.0 762.0L1402.0 777.7M1428.5 588.7L1439.4 579.9M1684.4 759.5L1691.9 768.8M1644.3 778.5L1633.2 774.2M1425.3 757.9L1425.9 762.8M1692.5 713.6L1699.2 716.8M1411.8 579.1L1421.3 569.4M1519.2 573.6L1519.8 574.9M1709.7 631.6L1701.9 647.0M1694.9 771.4L1691.9 768.8M1703.2 734.2L1699.9 728.2M1473.9 773.7L1478.3 771.2M1397.9 717.5L1417.3 707.6M1668.1 718.5L1662.3 732.8M1679.8 586.0L1676.8 580.8M1677.1 760.8L1684.4 759.5M1664.0 766.5L1647.2 773.9M1704.6 658.4L1701.9 647.0M1703.7 694.6L1686.2 697.2M1383.9 703.6L1381.0 690.5M1679.8 586.0L1685.8 578.6M1381.0 690.5L1391.4 702.2M1425.1 589.8L1415.2 578.4M1436.6 603.1L1430.8 606.5M1699.2 716.8L1708.5 722.3M1683.3 617.5L1679.2 616.1M1389.4 633.9L1378.8 650.0M1684.7 700.6L1686.0 713.1M1445.5 760.8L1436.5 762.8M1513.9 577.7L1490.3 576.4M1668.1 718.5L1678.8 740.7M1425.1 589.8L1430.8 606.5M1692.5 713.6L1692.3 730.1M1431.0 767.5L1420.0 762.0M1695.5 686.6L1703.7 694.6M1422.0 748.5L1414.8 733.3M1428.9 606.8L1425.1 589.8M1687.4 572.9L1685.8 578.6M1439.4 579.9L1432.7 578.7M1422.0 748.5L1425.9 742.1M1513.8 779.5L1501.5 780.3M1633.2 774.2L1647.2 773.9" stroke="#4f5a60" stroke-width="0.7" fill="none" opacity="0.8"/><path d="M1389.4 633.9h0M1691.2 770.2h0M1665.3 744.8h0M1668.1 718.5h0M1436.7 592.9h0M1681.1 587.0h0M1455.8 763.2h0M1385.8 730.0h0M1518.4 773.6h0M1428.9 606.8h0M1476.5 570.5h0M1703.7 694.6h0M1408.3 731.2h0M1420.0 762.0h0M1524.7 570.7h0M1676.8 580.8h0M1386.7 588.6h0M1439.4 579.9h0M1703.2 734.2h0M1642.6 749.5h0M1397.9 717.5h0M1664.0 766.5h0M1704.6 658.4h0M1630.7 757.6h0M1670.9 598.6h0M1664.1 568.1h0M1686.2 697.2h0M1655.5 731.8h0M1414.7 620.3h0M1692.3 730.1h0M1465.9 591.8h0M1487.9 775.7h0M1421.3 569.4h0M1707.6 750.8h0M1402.0 777.7h0M1607.1 752.9h0M1396.1 770.3h0M1417.3 707.6h0M1674.7 586.6h0M1659.6 732.6h0M1701.9 647.0h0M1644.3 778.5h0M1426.2 747.4h0M1510.2 581.0h0M1407.7 688.7h0M1676.6 585.1h0M1403.4 629.5h0M1633.2 774.2h0M1647.5 720.1h0M1425.9 742.1h0M1542.6 766.7h0M1701.2 642.4h0M1502.3 771.2h0M1404.0 621.6h0M1391.4 702.2h0M1588.5 759.9h0M1385.0 606.1h0M1430.8 606.5h0M1677.3 604.9h0M1694.9 771.4h0M1626.6 739.5h0M1431.4 607.9h0M1685.8 578.6h0M1490.3 576.4h0M1691.9 768.8h0M1380.2 604.5h0M1591.9 775.7h0M1671.9 580.1h0M1706.2 726.1h0M1647.2 773.9h0M1681.2 605.3h0M1604.2 780.3h0M1433.9 776.0h0M1415.2 578.4h0M1425.9 762.8h0" stroke="#3f8f8a" stroke-width="2.40" stroke-linecap="round" fill="none"/><path d="M1436.6 603.1h0M1709.7 631.6h0M1519.2 573.6h0M1695.5 686.6h0M1695.3 626.4h0M1428.5 588.7h0M1519.8 574.9h0M1431.0 767.5h0M1637.3 742.4h0M1669.8 592.7h0M1684.7 700.6h0M1679.8 586.0h0M1383.9 703.6h0M1513.9 577.7h0M1392.9 776.8h0M1425.1 589.8h0M1378.8 650.0h0M1680.6 767.5h0M1411.8 579.1h0M1702.2 582.3h0M1384.9 756.8h0M1687.4 572.9h0M1692.5 713.6h0M1467.2 579.3h0M1697.1 579.2h0M1630.8 568.2h0M1587.7 567.5h0M1422.0 748.5h0M1473.9 773.7h0M1699.2 716.8h0M1445.5 760.8h0M1613.8 744.7h0M1686.0 713.1h0M1379.9 582.5h0M1629.8 773.7h0M1414.8 733.3h0M1705.9 746.4h0M1677.1 760.8h0M1684.4 759.5h0M1475.2 771.9h0M1513.8 779.5h0M1501.5 780.3h0M1381.0 690.5h0M1636.3 747.2h0M1680.2 761.7h0M1392.3 636.6h0M1665.8 586.3h0M1699.9 728.2h0M1656.7 595.2h0M1662.3 732.8h0M1708.5 722.3h0M1678.8 740.7h0M1591.3 779.4h0M1672.7 703.3h0M1662.9 769.0h0M1425.3 757.9h0M1594.7 768.4h0M1697.8 618.5h0M1398.7 761.0h0M1436.5 762.8h0M1673.7 699.3h0M1559.2 776.3h0M1429.6 571.6h0M1629.4 570.6h0M1683.3 617.5h0M1637.2 729.4h0M1705.7 760.3h0M1413.3 690.5h0M1708.0 745.9h0M1587.5 757.3h0M1698.3 622.6h0M1432.7 578.7h0M1478.3 771.2h0M1679.2 616.1h0M1687.5 682.5h0" stroke="#2a2440" stroke-width="2.40" stroke-linecap="round" fill="none"/><g clip-path="url(#grc)"><rect x="1375" y="565" width="337" height="218" fill="#77709a"/><polygon points="1430.0,710.0 1530.0,714.0 1650.0,690.0 1670.0,670.0 1630.0,730.0 1510.0,766.0 1430.0,750.0" fill="#6d3f7c" opacity="0.5"/><path d="M1564.9 651.3h0M1521.1 726.8h0M1466.0 718.3h0M1563.4 673.2h0M1565.6 694.4h0M1618.9 621.4h0M1518.2 636.5h0M1444.3 602.5h0M1561.1 729.8h0M1604.9 623.7h0M1484.0 613.8h0M1626.0 623.7h0M1592.8 732.7h0M1634.1 666.9h0M1515.6 641.0h0M1553.8 706.6h0M1452.0 683.4h0M1470.0 665.1h0M1456.8 665.2h0M1618.4 680.5h0M1674.9 648.5h0M1634.0 624.1h0M1610.3 731.9h0M1438.1 681.4h0M1493.5 715.6h0M1485.3 596.5h0M1513.7 757.1h0M1414.7 643.2h0M1640.4 696.8h0M1427.1 614.6h0M1554.2 690.9h0M1582.5 570.1h0M1606.4 706.6h0M1620.2 613.3h0M1534.3 724.9h0M1614.9 683.6h0M1526.0 659.7h0M1425.1 726.5h0M1442.0 738.4h0M1539.7 651.9h0M1465.4 701.1h0M1584.6 747.0h0M1470.6 704.2h0M1506.1 616.5h0M1680.5 661.0h0M1444.8 675.6h0M1438.1 672.8h0M1646.9 615.2h0M1459.9 686.3h0M1435.5 747.2h0M1479.6 757.6h0M1684.8 667.8h0M1580.8 651.2h0M1479.7 669.1h0M1569.8 629.1h0M1538.3 642.1h0M1603.6 647.6h0M1506.5 610.2h0M1573.7 591.1h0M1526.4 738.5h0M1509.3 709.5h0M1607.3 737.2h0M1603.8 624.5h0M1619.9 635.3h0M1476.7 701.8h0M1480.5 714.6h0M1607.7 733.3h0M1584.6 692.8h0M1604.2 702.6h0M1535.8 715.6h0M1487.3 692.5h0M1565.4 735.5h0M1415.4 630.1h0M1483.3 728.1h0M1522.1 721.3h0M1477.5 595.9h0M1565.9 750.6h0M1450.1 662.6h0M1507.8 596.0h0M1543.8 746.6h0M1517.7 712.9h0M1490.6 701.8h0M1565.8 603.9h0M1428.4 666.4h0M1648.0 640.2h0M1536.1 736.4h0M1445.4 647.9h0M1534.1 697.4h0M1565.2 705.9h0M1440.1 636.1h0M1509.8 704.9h0M1449.2 710.4h0M1425.4 662.0h0M1505.6 647.2h0M1420.6 639.0h0M1456.6 641.7h0M1566.6 721.3h0M1407.9 681.3h0M1585.2 578.5h0M1611.5 622.3h0M1580.3 630.2h0M1591.4 680.4h0M1654.9 660.8h0M1561.7 658.7h0M1467.1 610.5h0M1678.2 656.5h0M1566.4 748.0h0M1426.2 617.1h0M1522.1 703.3h0M1567.3 698.7h0M1669.0 646.7h0M1480.7 634.2h0M1592.5 686.9h0M1624.3 591.0h0M1495.6 737.9h0M1514.8 599.1h0M1664.5 637.5h0M1582.6 723.1h0M1599.8 650.4h0M1610.8 653.2h0M1509.0 695.3h0M1643.1 649.7h0M1605.3 700.9h0M1393.7 661.9h0M1582.1 662.3h0M1580.2 678.5h0M1657.2 683.9h0M1485.0 759.7h0M1504.1 647.4h0M1528.0 713.5h0M1490.1 589.7h0M1546.6 634.6h0M1615.8 629.3h0M1556.2 764.0h0M1594.5 733.2h0M1641.3 587.4h0M1536.5 762.7h0M1476.6 630.6h0M1580.4 647.9h0M1511.5 739.1h0M1575.0 750.3h0M1428.0 730.4h0M1663.6 663.3h0M1512.1 698.9h0M1628.2 608.7h0M1553.7 606.9h0M1447.1 720.1h0M1514.5 611.6h0M1499.4 616.8h0M1416.9 637.9h0M1596.3 583.9h0M1487.9 697.1h0M1516.5 760.1h0M1605.9 618.5h0M1430.6 699.1h0M1552.4 572.5h0M1645.7 621.4h0M1544.8 737.5h0M1496.9 627.3h0M1510.9 692.4h0M1492.9 743.0h0M1621.5 579.9h0M1441.9 721.1h0M1593.2 588.9h0M1645.3 589.1h0M1528.7 699.4h0M1586.9 610.0h0M1437.1 644.6h0M1524.6 761.2h0M1571.2 649.7h0M1545.8 682.9h0M1428.0 709.2h0M1500.1 656.4h0M1548.2 601.9h0M1405.3 655.7h0M1420.9 665.1h0M1485.1 593.0h0M1489.5 707.3h0M1564.1 626.1h0M1663.4 646.1h0M1577.4 751.8h0M1583.6 599.8h0M1413.7 659.5h0M1469.9 673.8h0M1548.4 602.3h0M1555.5 665.9h0M1632.9 675.4h0M1502.2 589.2h0M1612.1 643.8h0M1529.1 695.6h0M1556.2 761.2h0M1592.6 743.0h0M1528.1 726.9h0M1583.7 613.8h0M1499.2 639.1h0M1507.5 743.2h0M1512.2 756.8h0M1668.4 689.3h0M1602.5 735.6h0M1442.3 718.2h0M1502.1 608.1h0M1512.3 631.2h0M1552.5 585.1h0M1495.3 631.7h0M1468.4 758.0h0M1644.5 622.5h0M1645.0 681.9h0M1691.2 664.3h0M1545.7 741.0h0M1620.3 724.4h0M1663.4 645.3h0M1666.9 644.1h0M1570.9 580.9h0M1492.2 759.7h0M1508.8 642.8h0M1610.6 606.0h0M1500.2 686.3h0M1597.5 718.8h0M1536.6 627.6h0M1500.5 617.4h0M1525.3 713.1h0M1486.3 693.5h0M1574.1 722.2h0M1630.7 616.4h0M1502.8 703.1h0M1519.7 652.1h0M1619.2 620.1h0M1473.0 627.9h0M1583.6 674.9h0M1423.4 724.7h0M1486.9 728.9h0M1597.8 685.2h0M1600.3 662.2h0M1571.1 570.0h0M1471.7 680.8h0M1541.6 611.4h0M1550.3 759.5h0M1537.5 592.9h0M1564.1 622.6h0M1517.0 593.9h0M1590.1 581.5h0M1506.2 722.9h0M1437.3 652.5h0M1511.3 747.9h0M1494.7 630.6h0M1675.0 664.2h0M1409.6 632.0h0M1584.1 613.5h0M1551.0 722.1h0M1610.5 612.8h0M1632.5 576.5h0M1618.5 653.7h0M1521.8 663.1h0M1530.0 746.5h0M1625.4 630.3h0M1484.1 610.6h0M1618.8 574.8h0M1420.3 642.1h0M1558.7 762.3h0M1543.4 622.7h0M1472.3 644.3h0M1487.3 710.9h0M1640.8 612.8h0M1399.8 674.1h0M1569.5 577.8h0M1619.2 571.3h0M1547.3 638.0h0M1683.3 666.2h0M1462.9 663.4h0M1521.4 582.7h0M1655.5 682.1h0M1533.4 630.9h0M1455.9 633.6h0M1588.0 657.3h0M1516.2 753.1h0M1447.2 748.2h0M1498.6 726.9h0M1501.6 756.3h0M1628.5 599.2h0M1457.3 623.1h0M1658.2 681.9h0M1657.5 646.9h0M1649.4 633.4h0M1533.6 615.0h0M1582.9 588.0h0M1461.4 621.2h0M1530.4 580.5h0M1612.5 732.9h0M1673.5 621.7h0M1545.3 582.0h0M1580.5 580.2h0M1594.0 739.5h0M1435.1 698.3h0M1582.2 692.8h0M1518.3 704.2h0M1505.0 684.7h0M1559.8 637.6h0M1489.4 621.5h0M1497.4 697.9h0M1556.2 674.6h0M1495.5 749.1h0M1621.6 650.5h0M1590.6 690.2h0M1451.8 620.1h0M1413.8 667.5h0M1424.6 659.2h0M1604.2 663.1h0M1468.2 703.7h0M1510.2 651.8h0M1403.1 671.3h0M1576.9 631.6h0M1657.3 694.8h0M1617.4 643.5h0M1506.2 650.9h0M1618.1 642.2h0M1401.8 670.6h0M1438.4 665.8h0M1584.7 617.3h0M1404.5 650.1h0M1684.1 644.8h0M1627.2 587.7h0M1534.7 630.7h0M1597.0 633.8h0M1550.8 647.4h0M1595.7 626.8h0M1505.8 669.8h0M1628.6 581.4h0M1654.2 673.8h0M1479.2 604.6h0M1472.8 640.3h0M1504.6 600.8h0M1435.4 641.9h0M1619.0 700.3h0M1650.3 606.9h0M1558.0 587.4h0M1613.5 638.2h0M1509.6 637.4h0M1470.5 720.7h0M1648.4 612.8h0M1414.4 657.6h0M1676.3 637.2h0M1405.0 667.8h0M1588.2 704.8h0M1451.7 671.8h0M1608.3 698.4h0M1467.3 718.8h0M1582.1 737.3h0M1686.7 670.7h0M1622.2 702.2h0M1581.9 622.3h0M1469.4 721.3h0M1490.1 656.2h0M1574.0 690.0h0M1557.8 689.1h0M1574.2 759.5h0M1501.0 723.1h0M1653.0 698.6h0M1447.2 615.8h0M1450.8 752.6h0M1506.7 702.5h0M1608.7 582.7h0M1520.6 660.9h0M1454.9 744.8h0M1453.5 730.9h0M1581.4 618.0h0M1636.3 636.7h0M1676.7 655.0h0M1496.6 749.3h0M1634.6 581.9h0M1415.3 684.9h0M1405.1 661.7h0M1440.3 615.2h0M1400.8 646.3h0M1618.0 569.6h0M1509.1 745.2h0M1438.6 671.6h0M1478.5 651.2h0M1598.9 579.8h0M1598.8 584.2h0M1413.3 655.0h0M1534.9 694.9h0M1653.7 609.6h0M1650.6 640.7h0M1590.7 609.3h0M1629.3 730.6h0M1640.1 691.0h0M1571.6 607.2h0M1563.5 715.5h0M1458.2 659.8h0M1558.1 603.1h0M1628.2 689.5h0M1606.8 719.9h0M1498.4 604.7h0M1652.0 655.4h0M1531.9 596.4h0M1526.7 658.2h0M1513.1 587.9h0M1432.4 636.0h0M1648.2 601.3h0M1476.4 658.9h0M1613.8 601.3h0M1601.9 726.7h0M1497.9 676.4h0M1542.6 576.1h0M1557.5 700.3h0M1554.6 682.3h0M1665.3 636.7h0M1689.4 667.2h0M1415.8 660.2h0M1563.0 721.9h0M1445.8 705.6h0M1583.1 741.5h0M1538.7 714.2h0M1608.2 605.5h0M1482.7 607.8h0M1603.7 624.9h0M1654.2 653.1h0M1590.3 651.9h0M1610.8 601.8h0M1613.9 688.8h0M1648.4 607.8h0M1426.1 689.8h0M1642.0 594.2h0M1649.4 673.5h0M1570.8 652.1h0M1442.0 631.3h0M1600.0 587.4h0M1576.8 648.7h0M1460.6 718.9h0M1631.9 634.3h0M1525.4 579.1h0M1540.6 645.2h0M1582.9 731.1h0M1479.2 629.1h0M1672.2 652.7h0M1634.1 629.1h0M1588.1 637.8h0M1393.4 662.3h0M1669.9 657.0h0M1448.0 663.5h0M1538.3 610.6h0M1433.6 639.4h0M1586.0 711.1h0M1560.4 692.6h0M1561.0 619.2h0M1473.4 760.9h0M1444.8 745.3h0M1468.0 678.1h0M1401.7 635.8h0M1551.8 661.5h0M1493.7 604.4h0M1674.9 672.6h0M1579.4 732.5h0M1396.4 658.0h0M1492.5 713.7h0M1458.2 621.3h0M1587.3 706.9h0M1570.1 653.3h0M1494.2 747.1h0M1466.7 618.7h0M1455.8 671.0h0M1490.8 758.3h0M1664.0 630.0h0M1590.5 625.2h0M1611.2 633.8h0M1527.4 719.8h0M1533.4 712.2h0M1439.4 681.3h0M1467.2 693.2h0M1611.1 613.9h0M1445.2 736.8h0M1554.0 695.0h0M1553.8 576.0h0M1588.8 710.4h0M1642.2 597.4h0M1452.4 748.5h0M1613.2 740.9h0M1526.4 728.3h0M1501.8 758.0h0M1615.6 615.3h0M1588.9 693.1h0M1475.1 755.5h0M1451.6 757.9h0M1440.1 647.9h0M1613.4 671.2h0M1535.5 622.0h0M1457.6 718.0h0M1607.6 697.7h0M1568.0 760.5h0M1450.2 679.5h0M1608.9 578.3h0M1646.3 678.7h0M1584.2 685.1h0M1619.5 709.8h0M1424.9 645.6h0M1463.0 722.6h0M1515.6 627.3h0M1612.0 723.8h0M1644.9 669.7h0M1444.6 665.0h0M1563.9 584.7h0M1579.2 702.4h0M1449.7 720.9h0M1424.1 706.7h0M1554.1 761.9h0M1552.0 592.5h0M1562.6 648.4h0M1586.2 727.4h0M1543.6 567.4h0M1433.5 696.8h0M1478.8 730.0h0M1588.0 673.8h0M1438.1 750.0h0M1532.0 676.0h0M1594.7 577.7h0M1593.0 734.6h0M1644.8 701.8h0M1480.6 747.5h0M1510.8 686.7h0M1630.5 610.7h0M1454.8 607.1h0M1437.8 638.5h0M1592.8 687.0h0M1533.4 598.8h0M1602.3 598.8h0M1447.6 728.7h0M1463.2 674.0h0M1573.2 711.0h0M1551.9 692.4h0M1543.6 720.6h0M1519.9 664.0h0M1574.8 623.6h0M1502.1 693.3h0M1632.7 675.3h0M1644.1 632.0h0M1526.4 617.0h0M1468.5 747.4h0M1505.8 720.7h0M1456.9 612.8h0M1485.6 619.6h0M1631.0 669.7h0M1433.3 702.7h0M1428.2 658.6h0M1511.6 655.1h0M1678.7 667.8h0M1589.9 741.0h0M1526.0 691.3h0M1585.9 594.5h0M1613.6 572.0h0M1467.9 646.6h0M1452.0 695.1h0M1435.5 645.9h0M1589.1 606.1h0M1582.6 644.6h0M1550.2 643.2h0M1570.0 588.8h0M1608.6 605.5h0M1462.3 672.0h0M1543.7 673.9h0M1455.0 748.1h0M1455.6 738.8h0M1430.3 637.6h0M1419.4 634.4h0M1648.0 678.5h0M1625.5 733.4h0M1570.5 578.8h0M1585.3 579.9h0M1514.0 761.8h0M1442.9 605.4h0M1627.9 690.1h0M1543.5 656.7h0M1530.5 757.4h0M1534.1 623.0h0M1635.9 652.4h0M1572.6 574.9h0M1551.1 696.8h0M1683.5 637.5h0M1525.6 659.3h0M1671.1 651.3h0M1586.4 591.5h0M1488.8 724.5h0M1559.4 746.9h0M1605.6 617.3h0M1601.3 653.2h0M1530.8 766.0h0M1594.2 725.4h0M1578.2 621.4h0M1418.3 669.1h0M1455.5 645.3h0M1458.1 640.4h0M1491.5 598.9h0M1480.2 739.6h0M1496.4 636.5h0M1525.3 672.7h0M1540.4 634.3h0M1485.2 596.8h0M1423.1 680.2h0M1472.8 632.8h0M1500.4 728.6h0M1469.3 609.2h0M1470.1 668.6h0M1524.4 714.7h0M1635.1 630.9h0M1430.9 668.6h0M1646.2 684.9h0M1520.3 743.6h0M1537.1 713.9h0M1586.5 687.3h0M1565.8 578.5h0M1631.6 706.6h0M1619.2 638.3h0M1498.6 677.8h0M1493.9 734.9h0M1561.7 656.5h0M1621.6 737.9h0M1597.4 579.6h0M1549.1 617.9h0M1679.8 656.0h0M1669.3 613.9h0M1524.6 628.8h0M1665.7 678.1h0M1685.5 645.3h0M1436.7 679.7h0M1427.9 635.2h0M1592.6 629.5h0M1523.8 574.5h0M1488.4 756.3h0M1565.2 663.9h0M1558.6 623.7h0M1477.7 629.2h0M1543.8 723.9h0M1599.2 618.7h0M1638.3 597.8h0M1478.4 746.5h0M1551.0 646.7h0M1428.1 734.0h0M1609.8 598.6h0M1585.5 585.4h0M1664.7 625.8h0M1522.7 624.8h0M1472.4 626.9h0M1482.5 729.3h0M1520.9 659.1h0M1472.4 622.2h0M1554.7 733.2h0M1526.3 651.5h0M1595.4 700.3h0M1513.5 691.4h0M1552.1 740.5h0M1505.7 646.9h0M1509.1 688.1h0M1626.3 645.0h0M1518.9 664.7h0M1425.2 670.7h0M1618.4 598.1h0M1479.6 600.5h0M1610.4 662.6h0M1554.8 684.5h0M1645.7 622.3h0M1491.3 660.3h0M1497.3 664.2h0M1578.7 592.8h0M1688.6 631.9h0M1503.0 738.6h0M1430.9 713.9h0M1576.0 661.0h0M1542.3 666.9h0M1577.2 696.8h0M1526.3 594.8h0M1495.6 746.3h0M1583.0 646.5h0M1522.8 715.3h0M1412.4 648.1h0M1575.3 585.4h0M1599.9 627.3h0M1544.4 665.1h0M1607.4 702.8h0M1604.2 696.7h0M1511.2 623.2h0M1460.7 672.7h0M1433.9 628.1h0M1605.0 622.8h0M1645.6 682.9h0M1468.5 711.2h0M1477.3 612.4h0M1450.1 634.2h0M1595.7 631.1h0M1560.5 575.6h0M1522.3 672.0h0M1519.7 739.0h0M1502.6 610.8h0M1652.5 647.0h0M1537.4 762.0h0M1560.4 690.6h0M1440.0 649.0h0M1457.7 605.0h0M1447.5 679.5h0M1476.3 737.9h0M1425.3 718.4h0M1455.7 695.9h0M1572.4 745.9h0M1633.5 644.2h0M1589.9 675.7h0M1509.5 625.9h0M1663.2 693.3h0M1496.0 605.2h0M1538.5 624.5h0M1500.4 639.1h0M1603.6 611.9h0M1634.7 623.7h0M1646.7 585.7h0M1607.9 713.9h0M1410.9 633.8h0M1532.3 732.5h0M1638.3 611.9h0M1590.9 689.7h0M1491.1 701.8h0M1502.5 709.1h0M1588.7 586.7h0M1407.3 669.5h0M1586.5 615.0h0M1567.0 684.7h0M1548.8 594.5h0M1521.8 592.8h0M1631.5 648.0h0M1429.6 636.8h0M1568.3 573.4h0M1424.9 680.1h0M1476.7 620.8h0M1562.9 721.1h0M1462.5 719.2h0M1671.6 632.9h0M1604.9 598.4h0M1502.1 596.6h0M1641.0 612.6h0M1505.7 639.9h0M1421.6 654.5h0M1541.5 598.3h0M1408.8 645.0h0M1461.6 756.2h0M1426.0 737.1h0M1466.0 595.8h0M1616.4 606.0h0M1612.7 679.7h0M1461.6 612.8h0M1611.8 573.0h0M1607.3 610.9h0M1549.7 634.8h0M1526.6 668.2h0M1590.7 747.7h0M1588.5 641.3h0M1500.7 618.4h0M1613.5 588.3h0M1478.6 635.9h0M1438.6 617.9h0M1665.4 664.2h0M1591.7 624.3h0M1430.4 696.9h0M1467.2 663.0h0M1597.7 681.7h0M1468.5 603.7h0M1529.6 648.6h0M1643.9 708.9h0M1650.7 662.9h0M1466.1 744.1h0M1520.9 616.5h0M1655.5 637.6h0M1513.3 752.0h0M1462.7 757.1h0M1527.1 637.0h0M1616.4 719.5h0M1620.6 663.8h0M1421.2 644.1h0M1567.9 663.8h0M1537.8 729.0h0M1555.9 589.0h0M1422.1 623.2h0M1573.9 576.9h0M1549.7 690.9h0M1588.3 724.6h0M1565.7 592.8h0M1558.6 671.6h0M1490.6 729.4h0M1497.1 657.6h0M1468.0 750.8h0M1573.4 577.2h0M1493.8 625.2h0M1519.0 649.4h0M1517.9 707.8h0M1561.8 634.5h0M1514.9 651.6h0M1522.9 747.1h0M1578.3 695.6h0M1561.8 669.1h0M1604.4 575.9h0M1468.6 649.8h0M1430.3 730.8h0M1515.3 672.5h0M1539.1 617.6h0M1604.3 570.5h0M1455.8 670.3h0M1593.3 715.0h0M1619.2 576.7h0M1589.4 652.0h0M1560.1 760.9h0M1602.4 658.6h0M1516.0 719.6h0M1405.7 642.3h0M1643.4 584.8h0M1469.9 721.6h0M1530.1 749.2h0M1470.5 612.3h0M1575.3 725.9h0M1493.8 664.8h0M1426.2 625.9h0M1533.3 692.3h0M1434.8 744.1h0M1564.6 738.8h0M1654.3 669.1h0M1582.4 689.7h0M1597.7 726.3h0M1492.0 731.4h0M1461.0 637.1h0M1600.7 731.9h0M1503.6 615.7h0M1563.4 573.9h0M1571.3 760.3h0M1551.5 722.2h0M1475.4 687.7h0M1644.8 589.6h0M1480.8 593.3h0M1617.2 698.5h0M1518.5 724.8h0M1589.5 597.8h0M1492.0 597.2h0M1662.9 676.2h0M1625.2 657.2h0M1472.7 676.5h0M1545.0 582.4h0M1424.2 682.5h0M1598.9 595.8h0M1399.8 643.5h0M1627.8 682.9h0M1421.5 624.7h0M1561.3 672.5h0M1574.7 733.9h0M1519.7 585.0h0M1418.9 636.6h0M1518.1 676.0h0M1579.5 598.3h0M1519.9 751.5h0M1577.1 573.0h0M1455.9 726.4h0M1574.8 575.6h0M1503.8 615.2h0M1523.3 685.5h0M1637.4 674.1h0M1406.1 652.3h0M1547.7 761.5h0M1584.4 724.3h0M1527.6 620.5h0M1566.4 641.2h0M1614.1 685.8h0M1455.8 609.6h0M1440.0 743.5h0M1626.1 597.5h0M1592.5 732.9h0M1538.8 759.9h0M1410.0 679.6h0M1623.1 720.0h0M1638.3 598.9h0M1542.8 627.0h0M1640.2 671.8h0M1537.1 720.4h0M1609.4 633.6h0M1589.2 631.6h0M1422.8 637.7h0M1556.6 730.6h0M1487.3 637.1h0M1607.8 594.9h0M1488.0 599.1h0M1539.7 708.4h0M1517.2 618.9h0M1644.6 610.4h0M1575.4 634.1h0M1523.0 625.4h0M1595.5 625.9h0M1525.4 654.8h0M1415.4 641.2h0M1478.2 740.7h0M1463.7 667.3h0M1509.7 667.8h0M1631.7 675.7h0M1565.0 600.0h0M1500.8 740.8h0M1605.3 695.8h0M1571.4 689.3h0M1540.6 591.0h0M1431.8 741.7h0M1587.4 574.8h0M1391.2 655.7h0M1498.8 757.6h0M1628.1 646.2h0M1571.4 656.5h0M1425.8 636.5h0M1571.6 705.8h0M1431.6 728.6h0M1404.4 679.7h0M1568.7 657.7h0M1577.6 699.4h0M1473.6 638.2h0M1470.5 612.0h0M1611.3 568.3h0M1670.7 635.3h0M1512.3 718.4h0M1593.4 730.4h0M1527.9 627.3h0M1605.9 660.1h0M1422.6 663.3h0M1610.9 683.1h0M1469.6 617.4h0M1457.5 691.4h0M1527.9 665.3h0M1578.4 724.5h0M1669.5 673.9h0M1598.5 570.8h0M1518.0 673.0h0M1490.1 644.2h0M1586.0 587.0h0M1618.4 690.5h0M1570.5 644.0h0M1626.4 587.5h0M1656.1 636.9h0M1492.6 629.5h0M1516.1 660.3h0M1585.3 634.5h0M1593.2 678.3h0M1588.6 740.4h0M1518.7 611.3h0M1408.5 677.5h0M1513.6 740.1h0M1571.5 605.3h0M1543.5 678.9h0M1516.2 693.6h0M1589.5 575.0h0M1477.6 686.9h0M1520.6 761.5h0M1613.8 657.0h0M1558.7 595.1h0M1421.2 663.1h0M1519.5 646.1h0M1626.0 708.9h0M1544.0 734.1h0M1675.3 678.8h0M1440.9 659.9h0M1439.5 728.6h0M1567.9 701.5h0M1522.5 668.7h0M1540.2 613.7h0M1483.3 727.7h0M1518.1 765.3h0M1421.7 714.2h0M1527.7 656.7h0M1555.1 752.6h0M1439.1 706.2h0M1549.7 706.0h0M1545.2 725.1h0M1663.2 637.7h0M1650.8 704.3h0M1516.9 589.2h0M1447.7 728.9h0M1514.5 659.3h0M1507.0 681.7h0M1592.0 595.6h0M1600.9 588.0h0M1607.2 647.9h0M1564.1 710.3h0M1563.1 610.1h0M1447.1 666.0h0M1562.3 739.1h0M1434.7 616.4h0M1691.8 656.6h0M1507.1 659.1h0M1553.1 658.5h0M1623.2 730.1h0M1629.5 724.0h0M1453.6 662.7h0M1425.8 688.7h0M1633.5 637.9h0M1446.2 725.7h0M1628.4 619.3h0M1505.4 709.4h0M1609.8 570.3h0M1490.0 727.0h0M1526.8 692.6h0M1657.1 657.0h0M1645.3 682.7h0M1458.6 677.6h0M1604.9 585.7h0M1471.7 719.9h0M1688.8 654.9h0M1643.5 653.0h0M1565.0 592.4h0M1487.3 722.4h0M1658.2 616.0h0M1482.5 622.6h0M1667.3 632.4h0M1418.5 680.5h0M1608.2 700.6h0M1599.5 572.3h0M1452.7 678.4h0M1613.0 698.3h0M1583.7 678.0h0M1497.7 632.8h0M1406.0 655.4h0M1555.0 677.8h0M1476.5 761.5h0M1616.2 577.6h0M1547.6 612.6h0M1516.9 642.9h0M1627.4 669.8h0M1517.7 598.8h0M1553.1 708.4h0M1590.6 673.2h0M1410.7 635.4h0M1502.6 762.1h0M1594.7 643.4h0M1556.0 569.4h0M1572.5 716.6h0M1499.7 655.9h0M1530.6 609.2h0M1570.7 601.2h0M1559.2 701.9h0M1460.6 608.1h0M1528.4 675.5h0M1430.5 675.5h0M1568.9 649.7h0M1526.8 758.6h0M1577.3 719.0h0" stroke="#4f8a98" stroke-width="2.25" stroke-linecap="round" fill="none"/><path d="M1458.6 743.8h0M1631.1 585.8h0M1665.2 628.6h0M1625.2 733.4h0M1472.6 661.8h0M1468.4 693.8h0M1483.9 678.3h0M1498.7 651.1h0M1541.3 765.7h0M1528.3 641.1h0M1482.0 699.6h0M1647.6 692.9h0M1576.2 716.9h0M1476.2 756.7h0M1521.9 639.2h0M1488.4 740.2h0M1542.0 757.9h0M1590.6 671.6h0M1478.8 710.6h0M1646.7 630.1h0M1473.3 609.8h0M1610.0 709.0h0M1544.1 647.9h0M1590.8 576.9h0M1538.1 659.6h0M1548.7 681.9h0M1540.9 724.1h0M1636.4 630.8h0M1464.4 708.3h0M1452.7 655.4h0M1436.7 608.9h0M1513.3 595.2h0M1518.1 654.1h0M1626.4 610.5h0M1452.0 608.7h0M1474.3 646.8h0M1470.6 675.2h0M1465.2 736.5h0M1594.3 666.8h0M1619.3 583.2h0M1606.7 631.4h0M1568.6 750.3h0M1532.7 719.4h0M1449.9 724.1h0M1523.3 630.5h0M1578.5 743.7h0M1485.4 618.5h0M1533.9 723.4h0M1567.2 621.4h0M1629.8 657.5h0M1606.6 664.9h0M1399.3 648.3h0M1537.5 695.9h0M1435.8 620.4h0M1509.5 762.7h0M1463.8 598.9h0M1612.4 679.7h0M1483.8 648.7h0M1568.7 647.9h0M1432.6 695.5h0M1506.0 705.2h0M1495.1 724.6h0M1630.6 694.0h0M1442.9 628.8h0M1448.6 674.9h0M1419.5 719.7h0M1686.2 631.3h0M1544.3 608.3h0M1557.0 638.5h0M1417.7 646.5h0M1625.7 649.1h0M1464.2 752.9h0M1509.4 685.7h0M1489.3 596.8h0M1573.3 706.9h0M1593.6 705.9h0M1410.6 669.6h0M1440.8 660.0h0M1597.7 734.2h0M1490.4 707.4h0M1506.5 673.5h0M1482.6 753.3h0M1518.2 649.3h0M1660.4 620.2h0M1590.5 629.8h0M1535.0 602.4h0M1611.8 582.2h0M1616.5 590.1h0M1677.4 639.8h0M1456.4 700.5h0M1487.7 608.9h0M1476.1 711.6h0M1469.9 639.0h0M1569.1 681.4h0M1466.2 732.5h0M1465.9 641.4h0M1482.9 708.4h0M1442.1 622.2h0M1486.3 696.5h0M1527.4 641.5h0M1529.7 728.0h0M1608.2 715.6h0M1469.7 743.9h0M1650.0 639.4h0M1480.2 634.4h0M1449.4 694.7h0M1462.6 657.1h0M1479.9 658.0h0M1477.9 608.6h0M1476.6 630.6h0M1578.4 577.2h0M1512.7 622.4h0M1483.6 632.6h0M1441.2 648.9h0M1428.7 678.7h0M1405.5 674.9h0M1494.3 609.9h0M1624.2 602.8h0M1464.8 613.3h0M1471.1 716.7h0M1565.6 676.4h0M1442.8 724.9h0M1633.1 684.5h0M1559.6 756.7h0M1496.5 727.2h0M1503.2 614.9h0M1645.1 589.9h0M1529.6 617.7h0M1481.0 630.2h0M1659.3 676.2h0M1566.7 674.2h0M1590.4 630.2h0M1516.0 621.3h0M1562.7 757.0h0M1647.2 683.6h0M1632.9 584.8h0M1569.4 625.5h0M1474.8 728.2h0M1515.0 727.3h0M1590.9 736.7h0M1489.0 725.5h0M1583.1 662.2h0M1615.8 648.5h0M1532.0 746.5h0M1503.6 678.5h0M1588.4 627.9h0M1424.1 624.1h0M1515.8 634.9h0M1602.7 718.4h0M1528.4 590.9h0M1487.5 672.9h0M1503.5 666.5h0M1530.9 605.8h0M1532.7 669.5h0M1612.3 585.7h0M1452.6 628.7h0M1491.4 587.5h0M1680.0 630.6h0M1465.0 673.2h0M1549.1 710.9h0M1636.6 641.9h0M1553.5 593.8h0M1405.4 680.3h0M1503.0 696.8h0M1634.4 586.9h0M1618.3 630.9h0M1637.2 610.0h0M1389.5 661.0h0M1482.6 736.5h0M1523.6 663.5h0M1458.8 612.7h0M1557.5 685.3h0M1623.6 596.2h0M1639.1 613.1h0M1590.1 574.0h0M1499.8 742.0h0M1437.2 694.9h0M1609.2 670.0h0M1435.5 669.4h0M1629.4 682.3h0M1640.9 690.2h0M1443.2 701.7h0M1608.5 577.1h0M1515.8 598.7h0M1675.6 634.7h0M1533.1 598.3h0M1500.8 761.1h0M1514.1 680.8h0M1558.3 717.5h0M1521.8 736.2h0M1448.5 727.3h0M1666.8 615.6h0M1628.2 672.2h0M1414.0 654.9h0M1653.4 627.7h0M1692.4 661.8h0M1530.5 663.9h0M1524.6 712.6h0M1609.0 635.9h0M1526.6 615.8h0M1664.5 683.4h0M1425.4 707.8h0M1428.2 722.0h0M1597.9 570.3h0M1495.3 675.0h0M1452.9 696.1h0M1498.5 716.8h0M1468.6 660.0h0M1526.5 603.5h0M1684.5 641.0h0M1463.3 707.6h0M1566.6 654.7h0M1667.1 640.9h0M1537.2 759.7h0M1641.2 602.0h0M1487.1 754.0h0M1515.5 722.0h0M1465.6 692.9h0M1479.1 699.1h0M1541.5 681.3h0M1555.9 666.9h0M1495.3 748.1h0M1561.3 684.5h0M1519.6 613.7h0M1536.9 760.8h0M1488.0 688.1h0M1461.1 663.3h0M1464.7 759.1h0M1479.5 728.7h0M1626.5 699.7h0M1592.9 725.0h0M1559.4 616.8h0M1590.8 603.7h0M1635.9 722.3h0M1683.0 630.1h0M1629.3 665.6h0M1512.2 696.2h0M1467.9 624.9h0M1482.2 624.1h0M1608.5 704.0h0M1441.0 683.8h0M1449.6 633.5h0M1538.8 605.2h0M1403.2 645.6h0M1531.1 598.6h0M1528.9 704.7h0M1432.7 682.7h0M1624.0 658.7h0M1472.3 601.1h0M1585.5 613.0h0M1403.0 672.7h0M1555.1 743.5h0M1431.3 634.2h0M1643.2 589.7h0M1626.2 589.1h0M1530.0 743.1h0M1536.2 635.1h0M1560.5 567.0h0M1523.4 698.3h0M1614.6 673.5h0M1441.3 648.6h0M1577.6 577.7h0M1497.5 706.7h0M1515.4 722.5h0M1440.0 623.7h0M1603.3 741.4h0M1399.1 659.2h0M1580.0 575.4h0M1605.6 611.9h0M1479.0 698.0h0M1499.9 647.9h0M1592.7 607.9h0M1576.1 651.1h0M1541.8 758.8h0M1404.0 649.6h0M1562.5 743.4h0M1550.0 594.2h0M1474.7 623.5h0M1417.2 644.4h0M1566.2 730.6h0M1549.6 743.3h0M1545.2 714.3h0M1542.7 572.2h0M1439.4 662.2h0M1497.0 679.8h0M1497.2 665.9h0M1435.8 749.5h0M1652.0 678.5h0M1547.7 689.9h0M1544.2 667.6h0M1642.1 588.0h0M1435.4 692.7h0M1542.4 596.4h0M1433.5 661.1h0M1442.0 670.1h0M1585.0 618.9h0M1596.6 670.8h0M1519.2 756.0h0M1525.6 706.2h0M1508.5 749.3h0M1526.2 713.9h0M1669.3 681.6h0M1575.0 651.6h0M1626.0 646.4h0M1431.0 621.2h0M1538.0 610.6h0M1571.7 602.3h0M1612.1 662.9h0M1666.8 664.5h0M1423.2 728.9h0M1600.5 596.4h0M1696.6 645.8h0M1497.0 744.1h0M1572.5 715.8h0M1651.9 603.1h0M1637.1 645.1h0M1491.5 626.9h0M1607.0 568.7h0M1502.5 713.9h0M1483.6 701.2h0M1640.9 690.4h0M1434.7 676.8h0M1539.7 637.7h0M1463.3 635.2h0M1654.3 620.4h0M1481.9 604.6h0M1580.9 574.1h0M1613.1 626.2h0M1426.0 738.7h0M1535.7 725.9h0M1502.6 605.3h0M1485.0 698.7h0M1661.8 628.5h0M1559.3 630.5h0M1448.2 702.0h0M1542.6 680.3h0M1412.4 676.2h0M1492.5 684.0h0M1560.4 596.7h0M1559.1 637.7h0M1515.7 700.0h0M1627.6 716.1h0M1582.0 671.0h0M1433.6 689.1h0M1551.9 689.7h0M1603.5 721.6h0M1577.6 614.9h0M1578.7 743.7h0M1461.4 727.6h0M1574.2 672.8h0M1404.1 677.0h0M1617.6 581.4h0M1506.7 693.6h0M1637.3 690.8h0M1634.9 649.2h0M1668.9 627.6h0M1554.3 688.7h0M1609.0 699.8h0M1488.0 634.3h0M1610.1 687.7h0M1494.0 730.9h0M1505.7 644.3h0M1574.7 627.8h0M1475.6 727.5h0M1480.6 636.5h0M1425.6 687.3h0M1626.3 632.9h0M1524.2 740.4h0M1629.5 635.8h0M1653.0 601.4h0M1423.2 676.1h0M1476.1 612.7h0M1515.8 640.3h0M1537.3 705.4h0M1521.2 641.4h0M1488.4 631.3h0M1529.6 732.9h0M1461.1 729.3h0M1671.7 622.8h0M1486.4 603.4h0M1582.7 584.9h0M1661.3 659.7h0M1623.0 584.8h0M1423.6 702.9h0M1572.4 749.7h0M1458.9 670.5h0M1538.6 633.0h0M1551.4 581.5h0M1599.2 649.8h0M1571.1 677.8h0M1530.5 644.7h0M1619.8 660.7h0M1660.3 638.0h0M1639.6 675.2h0M1492.6 733.4h0M1569.6 572.2h0M1599.4 690.4h0M1532.2 637.0h0M1634.2 597.7h0M1628.7 666.0h0M1551.6 570.4h0M1556.3 738.2h0M1599.7 675.2h0M1507.1 646.0h0M1395.7 647.7h0M1486.1 734.6h0M1405.2 633.0h0M1477.8 681.0h0M1533.0 737.5h0M1523.2 575.3h0M1628.6 708.9h0M1647.9 609.7h0M1397.4 644.0h0M1473.9 637.7h0M1477.9 647.4h0M1510.6 763.5h0M1551.0 745.8h0M1507.7 695.5h0M1474.6 691.5h0M1607.3 657.5h0M1587.5 587.6h0M1507.7 629.7h0M1510.9 619.2h0M1565.8 679.5h0M1562.6 710.8h0M1574.7 705.1h0M1569.7 738.8h0M1584.0 591.8h0M1648.6 662.5h0M1618.4 721.5h0M1587.4 630.8h0M1541.3 691.6h0M1453.4 716.4h0M1429.1 701.3h0M1433.9 655.9h0M1523.9 736.2h0M1618.7 645.5h0M1647.3 646.3h0M1434.4 721.3h0M1600.7 734.9h0M1564.0 657.7h0M1638.0 710.6h0M1457.5 733.8h0M1399.7 639.3h0M1668.6 626.8h0M1602.4 627.1h0M1445.0 751.3h0M1624.5 707.0h0M1416.4 669.4h0M1577.0 585.9h0M1606.5 672.4h0M1439.2 623.4h0M1572.5 660.4h0M1439.9 751.0h0M1602.8 619.9h0M1557.3 677.2h0M1674.9 684.7h0M1438.1 648.4h0M1655.2 659.1h0M1552.9 645.0h0M1471.9 597.4h0M1449.8 622.0h0M1545.1 691.7h0M1552.4 754.7h0M1468.9 622.7h0M1596.0 585.4h0M1407.3 662.8h0M1561.9 616.7h0M1531.0 607.6h0M1451.0 687.9h0M1602.9 664.5h0M1612.8 573.9h0M1559.7 567.2h0M1560.8 742.2h0M1623.5 582.1h0M1535.5 658.8h0M1445.3 752.4h0M1456.6 705.4h0M1446.2 702.0h0M1555.1 605.5h0M1671.5 645.8h0M1420.3 670.9h0M1594.9 592.2h0M1544.3 645.6h0M1454.0 733.6h0M1397.3 664.2h0M1450.6 601.0h0M1515.5 599.7h0M1444.1 733.8h0M1490.8 676.1h0M1647.9 695.1h0M1568.1 604.1h0M1532.5 580.3h0M1663.8 673.7h0M1548.5 695.6h0M1422.4 644.2h0M1576.1 753.9h0M1603.6 593.6h0M1482.3 733.8h0M1445.2 750.3h0M1402.7 659.4h0M1519.7 584.6h0M1447.6 608.0h0M1516.4 687.4h0M1498.3 695.0h0M1532.9 602.7h0M1540.9 682.9h0M1569.7 591.0h0M1628.6 632.5h0M1614.2 610.3h0M1557.8 606.3h0M1608.0 612.1h0M1448.9 642.6h0M1445.4 692.5h0M1552.4 614.4h0M1493.6 636.1h0M1533.3 659.9h0M1530.4 609.9h0M1636.6 681.8h0M1505.5 731.5h0M1442.9 665.3h0M1520.0 756.4h0M1656.2 693.8h0M1590.8 637.0h0M1519.4 651.5h0M1629.2 606.6h0M1669.9 675.2h0M1648.4 592.0h0M1694.8 645.6h0M1456.9 693.6h0M1693.9 645.9h0M1621.7 728.5h0M1574.3 741.8h0M1577.0 756.7h0M1552.8 573.8h0M1589.7 591.0h0M1545.6 688.0h0M1635.6 650.1h0M1619.2 594.7h0M1605.9 573.3h0M1443.0 607.4h0M1457.8 601.4h0M1471.7 683.9h0M1620.8 647.7h0M1434.0 661.8h0M1493.5 682.3h0M1457.0 712.6h0M1495.5 678.7h0M1644.8 682.4h0M1428.5 681.1h0M1623.0 588.4h0M1667.6 647.3h0M1559.3 752.5h0M1627.0 714.1h0M1588.8 695.7h0M1623.2 710.9h0M1632.7 591.2h0M1570.1 678.4h0M1492.7 756.5h0M1478.8 612.1h0M1652.1 647.8h0M1489.2 683.1h0M1443.8 603.3h0M1661.7 645.1h0M1552.8 695.9h0M1577.9 703.5h0M1663.1 662.2h0M1418.1 623.3h0M1439.2 738.8h0M1447.0 605.7h0M1545.7 741.8h0M1610.5 609.5h0M1552.5 686.5h0M1488.3 656.9h0M1531.8 745.3h0M1482.3 649.4h0M1553.4 669.2h0M1414.7 658.7h0M1531.4 648.6h0M1619.5 659.5h0M1542.5 643.4h0M1507.8 676.4h0M1406.4 678.7h0M1632.7 668.7h0M1455.8 740.9h0M1578.3 623.4h0M1552.1 670.5h0M1415.5 685.8h0M1450.8 697.3h0M1455.1 759.2h0M1434.9 627.3h0M1567.9 751.7h0M1444.5 706.1h0M1555.0 580.5h0M1598.6 736.8h0M1669.1 659.7h0M1565.8 758.9h0M1425.1 660.9h0M1551.2 758.4h0M1568.6 632.8h0M1448.9 682.8h0M1571.2 732.5h0M1596.7 713.3h0M1614.9 658.5h0M1473.2 596.4h0M1517.6 615.6h0M1593.5 573.1h0M1598.6 713.8h0M1553.6 698.7h0M1605.0 714.3h0M1508.3 724.9h0M1452.4 715.0h0M1556.0 727.9h0M1598.4 704.9h0M1583.7 575.8h0M1653.1 620.8h0M1421.5 639.7h0M1447.1 696.8h0M1529.9 737.5h0M1441.8 628.6h0M1599.2 731.4h0M1644.3 615.6h0M1627.8 658.9h0M1698.0 651.3h0M1439.0 631.7h0M1448.5 663.5h0M1477.6 723.1h0M1423.0 627.5h0M1601.6 672.0h0M1443.8 602.9h0M1443.3 641.0h0M1550.1 717.1h0M1516.4 584.1h0M1530.4 705.9h0M1442.3 674.6h0M1472.8 634.4h0M1456.8 639.4h0M1467.4 759.5h0M1603.0 626.4h0M1435.3 618.2h0M1570.4 654.2h0M1505.0 727.8h0M1452.4 656.0h0M1639.2 697.1h0M1523.8 718.0h0M1569.2 700.0h0M1506.9 605.4h0M1529.2 620.9h0M1584.0 640.0h0M1591.9 619.3h0M1430.4 683.1h0M1513.1 765.1h0M1665.0 681.3h0M1540.4 675.8h0M1429.5 691.7h0M1545.6 594.6h0M1546.6 692.6h0M1505.3 592.5h0M1697.5 645.5h0" stroke="#5aa6a0" stroke-width="2.25" stroke-linecap="round" fill="none"/><path d="M1501.3 748.2h0M1544.4 584.9h0M1610.1 642.4h0M1603.1 575.3h0M1631.9 685.1h0M1640.1 704.4h0M1557.6 595.6h0M1523.5 727.8h0M1410.2 637.6h0M1579.9 635.9h0M1469.6 592.8h0M1665.8 636.4h0M1564.0 577.1h0M1531.3 685.4h0M1677.4 655.4h0M1623.6 640.8h0M1436.8 694.0h0M1649.9 597.9h0M1493.0 710.3h0M1463.3 635.0h0M1595.7 674.1h0M1510.7 627.9h0M1461.1 715.3h0M1423.0 708.7h0M1576.5 694.5h0M1509.3 759.1h0M1548.1 759.1h0M1636.5 594.2h0M1666.0 638.3h0M1649.1 695.4h0M1461.9 708.6h0M1653.7 679.4h0M1447.2 731.4h0M1426.7 664.1h0M1448.5 686.2h0M1639.6 660.3h0M1519.8 598.4h0M1554.5 637.6h0M1531.7 693.6h0M1556.6 693.0h0M1493.4 640.9h0M1679.3 653.1h0M1606.7 624.9h0M1538.6 568.1h0M1511.2 644.2h0M1470.8 599.7h0M1667.0 621.1h0M1455.1 637.2h0M1547.6 725.5h0M1485.8 742.0h0M1615.4 664.7h0M1433.6 648.4h0M1589.0 599.9h0M1531.4 632.1h0M1569.2 654.8h0M1560.3 649.6h0M1516.8 608.8h0M1549.1 656.8h0M1692.2 647.2h0M1555.9 707.8h0M1583.0 644.5h0M1646.0 591.5h0M1661.8 687.9h0M1553.8 605.9h0M1642.2 676.5h0M1540.1 618.5h0M1479.2 608.2h0M1613.9 708.5h0M1502.8 709.8h0M1620.5 640.2h0M1506.6 724.6h0M1554.9 714.1h0M1621.3 584.3h0M1623.2 592.3h0M1446.8 683.9h0M1512.8 754.3h0M1576.1 681.8h0M1590.8 570.5h0M1499.9 609.8h0M1672.8 632.0h0M1523.5 749.9h0M1559.1 606.9h0M1565.9 587.4h0M1551.7 744.1h0M1610.7 580.8h0M1601.1 698.8h0M1629.1 623.5h0M1595.1 696.2h0M1397.2 639.9h0M1550.2 670.3h0M1435.7 720.5h0M1511.8 759.8h0M1611.9 603.9h0M1556.9 575.3h0M1570.8 756.9h0M1606.8 578.0h0M1497.2 672.6h0M1410.0 642.5h0M1459.2 649.2h0M1595.9 599.9h0M1428.5 715.3h0M1409.7 655.4h0M1488.1 609.1h0M1425.6 655.8h0M1498.6 724.4h0M1588.3 618.5h0M1573.4 675.1h0M1561.6 702.4h0M1622.6 729.3h0M1466.8 619.7h0M1430.9 659.1h0M1639.2 719.4h0M1492.6 642.1h0M1630.3 648.6h0M1535.7 622.5h0M1422.4 686.3h0M1693.2 662.4h0M1577.3 659.2h0M1526.0 668.8h0M1630.7 690.9h0M1458.0 735.2h0M1539.2 727.3h0M1428.0 740.4h0M1563.9 578.6h0M1656.5 605.4h0M1438.3 635.3h0M1673.4 681.3h0M1666.6 634.6h0M1677.7 643.3h0M1500.6 645.7h0M1558.3 679.1h0M1566.4 608.5h0M1654.7 697.0h0M1568.7 599.8h0M1681.9 657.9h0M1595.3 659.0h0M1467.6 710.7h0M1647.8 651.4h0M1514.3 725.9h0M1402.2 662.7h0M1561.3 746.3h0M1454.1 721.6h0M1554.4 675.6h0M1580.3 748.6h0M1658.4 655.7h0M1542.0 573.5h0M1576.3 590.1h0M1590.1 614.3h0M1599.6 599.7h0M1507.9 749.8h0M1526.3 664.0h0M1456.3 678.5h0M1560.3 576.8h0M1467.7 654.2h0M1469.3 690.8h0M1544.4 685.7h0M1529.3 606.7h0M1434.6 635.7h0M1534.6 762.6h0M1433.7 649.4h0M1534.7 750.3h0M1538.7 622.7h0M1647.4 632.2h0M1470.1 598.1h0M1670.8 642.0h0M1481.3 743.0h0M1551.5 626.4h0M1659.6 637.7h0M1570.6 724.1h0M1572.2 614.6h0M1620.8 620.8h0M1567.3 664.3h0M1583.6 725.2h0M1535.4 591.6h0M1435.0 651.4h0M1554.4 586.9h0M1484.1 700.5h0M1434.6 668.0h0M1528.9 689.0h0M1493.5 666.0h0M1490.8 632.7h0M1588.6 725.9h0M1472.8 664.0h0M1535.8 573.8h0M1599.6 657.0h0M1460.5 728.5h0M1460.4 726.7h0M1571.1 703.9h0M1477.3 702.4h0M1441.6 661.1h0M1572.4 697.9h0M1454.2 745.5h0M1479.5 608.0h0M1557.4 650.7h0M1581.5 741.8h0M1491.1 739.8h0M1549.0 570.1h0M1589.3 709.5h0M1562.9 761.4h0M1450.8 718.8h0M1513.8 639.4h0M1536.3 658.3h0M1622.8 582.5h0M1531.1 637.6h0M1552.5 752.5h0M1506.5 662.2h0M1628.9 615.6h0M1552.1 728.4h0M1504.2 628.7h0M1577.0 675.3h0M1511.2 657.4h0M1643.8 709.8h0M1543.3 742.2h0M1516.7 581.0h0M1585.0 738.7h0M1478.2 628.3h0M1607.8 574.6h0M1605.4 687.0h0M1562.4 689.7h0M1510.2 710.1h0M1549.2 608.1h0M1568.7 654.9h0M1639.6 682.7h0M1622.8 572.0h0M1601.4 580.3h0M1466.2 621.1h0M1523.0 653.7h0M1538.1 569.3h0M1424.1 656.0h0M1491.3 617.9h0M1567.9 735.7h0M1677.1 629.8h0M1528.2 626.3h0M1578.7 624.6h0M1416.9 633.1h0M1601.2 684.6h0M1516.8 647.0h0M1644.6 715.2h0M1542.8 656.6h0M1503.8 637.3h0M1575.9 714.1h0M1595.2 705.8h0M1629.8 698.6h0M1622.0 575.4h0M1574.6 583.2h0M1594.1 692.4h0M1426.9 721.4h0M1474.8 672.9h0M1477.3 633.0h0M1395.5 643.3h0M1594.7 594.4h0M1579.8 711.2h0M1463.3 596.1h0M1640.0 605.7h0M1551.6 713.9h0M1508.0 584.1h0M1506.2 759.4h0M1598.4 709.0h0M1561.4 575.7h0M1454.6 665.0h0M1461.6 613.2h0M1433.9 608.7h0M1664.1 669.6h0M1604.1 704.6h0M1539.5 590.3h0M1618.0 686.3h0M1660.7 635.5h0M1450.4 630.6h0M1432.3 663.0h0M1624.1 633.6h0M1559.9 730.1h0M1621.1 572.9h0M1558.8 735.4h0M1675.7 644.9h0M1587.6 644.1h0M1611.1 639.7h0M1395.6 643.6h0M1472.4 595.1h0M1442.6 687.0h0M1540.4 722.5h0M1439.0 623.2h0M1462.6 735.2h0M1614.2 576.8h0M1454.1 737.5h0M1616.5 638.1h0M1698.5 650.0h0M1485.4 596.9h0M1501.2 632.1h0M1627.6 619.3h0M1423.0 704.6h0M1597.9 717.2h0M1398.3 645.0h0M1640.8 705.4h0M1685.7 638.4h0M1526.2 674.2h0M1509.2 749.3h0M1615.9 616.2h0M1398.3 645.9h0M1694.5 654.8h0M1452.4 711.1h0M1406.8 657.2h0M1439.2 616.8h0M1601.0 664.0h0M1677.6 667.9h0M1631.5 694.4h0M1661.1 681.5h0M1664.2 657.2h0M1503.9 613.6h0M1574.0 624.8h0M1502.4 628.7h0M1441.1 639.2h0M1486.2 664.0h0M1560.4 752.6h0M1390.0 655.5h0M1448.3 649.0h0M1653.5 653.2h0M1459.8 637.3h0M1552.6 640.2h0M1562.7 644.6h0M1570.7 578.1h0M1470.5 728.2h0M1555.9 712.4h0M1461.1 690.3h0M1508.9 671.6h0M1404.0 648.1h0M1505.2 733.2h0M1463.9 715.2h0M1421.7 644.7h0M1562.2 582.7h0M1641.2 617.8h0M1639.5 660.0h0M1435.0 664.9h0M1536.4 645.7h0M1636.3 646.3h0M1574.5 725.2h0M1453.5 674.2h0M1520.4 598.8h0M1602.4 577.0h0M1570.9 612.7h0M1626.9 716.4h0M1535.3 760.3h0M1475.5 729.8h0M1655.2 697.2h0M1446.2 725.0h0M1685.9 652.4h0M1671.8 626.0h0M1535.9 688.7h0M1435.7 680.4h0M1504.6 645.8h0M1502.9 587.6h0M1578.6 658.9h0M1601.5 709.1h0M1601.6 664.2h0M1476.0 672.8h0M1451.7 659.4h0M1576.2 597.9h0M1625.3 581.5h0M1459.1 658.1h0M1502.4 629.2h0M1587.3 716.6h0M1534.6 640.0h0M1615.8 601.3h0M1603.3 650.5h0M1590.2 654.3h0M1533.5 633.4h0M1422.3 729.0h0M1581.7 745.5h0M1687.6 665.0h0M1652.9 637.4h0M1531.9 685.5h0M1422.2 619.3h0M1474.3 622.8h0M1434.2 734.8h0M1598.2 618.1h0M1511.4 722.3h0M1535.3 652.5h0M1623.5 632.1h0M1522.2 681.2h0M1653.5 665.4h0M1523.6 651.1h0M1614.5 580.3h0M1635.5 669.7h0M1612.5 662.4h0M1505.6 609.4h0M1606.1 635.6h0M1514.5 627.3h0M1444.7 628.4h0M1474.4 699.4h0M1482.8 758.5h0M1473.8 607.7h0M1582.9 640.6h0M1589.0 652.6h0M1622.3 619.5h0M1592.9 601.7h0M1504.4 742.5h0M1496.3 686.0h0M1567.0 689.2h0M1517.1 674.8h0M1614.2 588.8h0M1451.3 627.9h0M1629.1 657.2h0M1547.3 670.2h0M1478.1 714.4h0M1563.1 716.6h0M1558.0 679.8h0M1605.8 568.8h0M1588.1 687.5h0M1497.2 611.3h0M1584.5 701.4h0M1422.9 677.5h0M1549.1 690.3h0M1548.4 594.1h0M1564.9 722.6h0M1600.1 729.3h0M1612.7 648.7h0M1516.1 724.0h0M1624.2 587.7h0M1501.5 716.3h0M1558.5 763.3h0M1540.0 639.8h0M1499.2 663.6h0M1461.7 623.3h0M1660.3 644.2h0M1492.3 735.0h0M1601.3 610.1h0M1482.4 639.2h0M1460.4 638.2h0M1590.2 718.7h0M1425.0 707.4h0M1636.5 654.4h0M1532.9 758.5h0M1629.3 723.8h0M1581.5 603.6h0M1574.9 624.0h0M1564.1 747.7h0M1575.4 711.4h0M1624.4 679.9h0M1468.9 697.2h0M1481.7 717.1h0M1630.9 711.2h0M1637.8 615.8h0M1549.3 763.4h0M1596.2 688.2h0M1618.1 583.1h0M1477.8 656.9h0M1540.4 700.3h0M1439.2 679.8h0M1534.0 759.5h0M1596.2 572.9h0M1485.5 670.1h0M1505.3 744.5h0M1539.7 741.0h0M1603.6 695.5h0M1519.7 646.7h0M1639.8 712.4h0M1646.8 631.8h0M1397.0 661.3h0M1519.4 758.4h0M1539.0 609.7h0M1611.5 726.6h0M1567.6 707.0h0M1460.6 708.5h0M1566.6 569.4h0M1529.6 709.1h0M1538.0 587.8h0M1557.7 574.0h0M1592.4 643.8h0M1443.5 754.3h0M1516.0 616.8h0M1609.3 692.6h0M1509.1 640.1h0M1644.9 698.2h0M1495.5 755.1h0M1447.8 617.7h0M1518.0 584.9h0M1492.7 612.8h0M1663.5 664.0h0M1475.2 636.9h0M1566.4 700.0h0M1423.4 629.1h0M1688.0 649.3h0M1601.9 652.4h0M1572.0 638.0h0M1597.3 731.9h0M1438.5 725.6h0M1557.5 692.0h0M1508.5 732.7h0M1659.5 668.7h0M1444.8 637.3h0M1588.1 741.4h0M1441.7 608.3h0M1651.5 667.3h0M1491.5 751.9h0M1668.7 650.5h0M1518.6 606.2h0M1646.6 649.1h0M1626.3 672.7h0M1604.0 687.6h0M1600.4 573.3h0M1478.1 637.5h0M1678.7 629.9h0M1632.7 696.1h0M1602.9 729.2h0M1532.7 594.7h0M1457.4 645.1h0M1558.4 693.6h0M1598.5 655.7h0M1530.7 671.0h0M1441.5 728.5h0M1580.7 640.6h0M1535.7 715.1h0M1444.8 714.3h0M1549.4 629.5h0M1529.4 708.1h0M1487.6 761.0h0M1671.8 631.0h0M1433.7 656.8h0M1636.2 631.6h0M1608.0 647.6h0M1504.3 709.5h0M1613.6 611.7h0M1606.7 687.0h0M1589.8 682.9h0M1439.8 684.1h0M1499.0 586.3h0M1621.2 648.5h0M1567.0 610.4h0M1554.0 754.5h0M1617.6 684.2h0M1601.7 660.7h0M1504.1 709.9h0M1503.1 639.0h0M1602.0 597.7h0M1594.9 685.7h0M1640.5 660.4h0M1412.2 652.2h0M1455.2 678.7h0M1669.9 678.4h0M1561.3 609.0h0M1627.0 630.9h0M1399.6 664.9h0M1611.2 670.1h0M1518.1 661.2h0M1498.9 759.1h0M1647.8 663.9h0M1422.2 674.2h0M1597.4 662.6h0M1648.8 596.7h0M1553.3 716.1h0M1590.1 584.4h0M1607.9 575.5h0M1475.6 594.3h0M1620.9 669.7h0M1525.7 620.3h0M1657.7 636.8h0M1572.0 725.2h0M1479.1 646.6h0M1554.0 627.2h0M1614.2 602.2h0M1600.8 736.7h0M1513.8 720.4h0M1513.7 598.6h0M1549.0 671.6h0M1583.1 588.5h0M1551.8 614.1h0M1629.5 704.4h0M1664.7 668.5h0M1647.0 698.1h0M1579.6 685.8h0M1583.0 609.2h0M1641.7 681.0h0M1598.6 645.1h0M1451.2 720.5h0M1525.3 644.4h0M1631.4 604.2h0M1594.7 582.3h0M1620.0 676.2h0M1650.7 672.3h0M1577.9 689.5h0M1585.8 590.6h0M1473.3 759.3h0M1546.5 715.2h0M1596.0 718.6h0M1647.7 623.4h0M1502.6 670.7h0M1555.6 687.5h0M1507.7 701.2h0M1549.0 572.0h0M1601.7 620.1h0M1491.8 744.9h0M1442.8 682.5h0M1444.1 727.6h0M1443.7 674.9h0M1432.1 716.5h0M1657.2 612.2h0M1483.5 722.6h0M1687.3 664.3h0M1511.6 586.7h0M1553.4 566.8h0M1659.9 613.2h0M1442.2 731.8h0M1565.8 680.0h0M1650.1 650.8h0M1471.1 721.0h0M1568.8 678.2h0M1628.1 726.3h0M1426.5 623.0h0M1583.2 666.5h0M1459.9 708.5h0M1474.0 677.6h0M1533.5 731.9h0M1416.8 662.2h0M1612.8 582.2h0M1490.5 743.8h0M1524.3 754.6h0M1456.5 617.2h0M1507.0 587.9h0M1493.3 607.7h0M1620.3 664.9h0M1556.1 670.7h0M1614.8 680.2h0M1515.3 739.2h0M1641.6 599.2h0M1561.0 588.7h0M1441.6 653.3h0M1653.4 689.4h0M1615.5 644.2h0M1566.7 575.8h0M1646.1 683.5h0M1572.0 731.1h0M1464.7 695.7h0M1543.5 726.0h0M1523.6 581.3h0M1473.6 640.9h0M1503.8 743.4h0M1572.9 677.4h0M1631.9 644.1h0M1613.7 652.1h0M1538.0 624.0h0M1502.9 738.6h0M1463.0 624.8h0M1536.0 700.5h0M1572.9 668.1h0M1597.5 628.7h0M1567.2 599.3h0M1554.7 739.3h0M1547.8 630.6h0M1635.8 710.8h0M1397.2 662.0h0M1618.6 645.2h0M1421.3 672.3h0M1567.9 592.2h0M1591.4 651.5h0M1430.7 618.1h0M1563.6 608.1h0M1459.3 750.9h0M1588.6 626.1h0M1497.2 753.0h0M1489.6 736.7h0M1654.8 618.9h0M1559.4 674.5h0M1422.3 630.7h0M1471.5 722.8h0M1639.9 634.1h0M1661.7 686.7h0M1596.8 699.2h0M1499.4 652.2h0M1478.7 675.2h0M1573.6 645.8h0M1530.9 674.6h0M1547.2 584.0h0M1572.7 751.0h0M1450.9 679.7h0M1453.2 660.1h0M1521.3 598.4h0M1515.6 602.3h0M1642.7 703.0h0M1441.7 742.0h0M1592.5 673.9h0M1605.8 618.8h0M1461.6 688.6h0M1547.1 672.1h0M1570.6 761.0h0M1461.2 751.1h0M1565.9 669.2h0M1412.6 649.4h0M1534.0 576.4h0M1493.0 762.1h0M1447.6 721.4h0M1633.7 605.4h0M1667.8 678.4h0M1490.0 600.6h0M1499.1 605.7h0M1472.0 733.4h0M1514.1 660.1h0M1482.9 630.2h0M1423.2 647.9h0M1492.6 629.1h0M1441.1 710.7h0M1548.9 571.1h0M1540.2 589.9h0M1580.3 681.4h0M1508.7 650.4h0M1644.1 649.2h0M1627.0 573.2h0M1425.6 719.3h0M1416.3 630.9h0M1490.2 652.0h0M1601.8 635.7h0M1526.2 749.0h0M1474.6 668.0h0M1674.4 674.8h0M1524.3 630.0h0M1648.1 645.9h0M1608.5 579.3h0M1548.1 737.7h0M1535.4 680.2h0M1509.9 723.3h0M1510.8 704.9h0M1471.5 759.2h0M1489.5 672.0h0M1539.1 637.4h0M1510.4 649.8h0M1424.7 644.0h0M1559.6 677.4h0M1603.9 678.9h0M1593.1 730.8h0M1467.7 704.9h0M1519.8 715.9h0M1482.1 715.3h0M1479.2 621.7h0M1614.1 678.2h0M1503.3 615.3h0M1578.4 608.3h0M1442.4 717.1h0M1577.7 718.0h0M1597.7 708.1h0M1458.9 648.1h0M1586.9 729.9h0M1479.8 666.7h0M1586.8 593.9h0M1436.4 665.7h0M1551.8 574.2h0M1575.4 628.7h0M1599.0 654.5h0M1646.5 602.9h0M1498.5 608.3h0M1642.4 648.8h0M1515.8 710.8h0M1668.6 679.3h0M1472.8 645.9h0M1603.6 704.2h0M1496.0 754.4h0M1509.3 637.6h0M1519.1 728.0h0M1549.1 672.9h0M1453.7 659.9h0M1568.4 601.7h0M1408.1 677.0h0M1605.1 642.9h0M1552.2 568.0h0M1455.7 630.1h0M1638.4 680.3h0M1646.0 589.3h0M1520.1 578.1h0M1646.1 648.5h0M1454.4 759.5h0M1499.2 651.7h0M1627.1 675.5h0M1557.6 627.7h0M1510.5 654.5h0M1446.6 693.2h0M1469.9 625.8h0M1477.1 659.6h0M1407.7 637.8h0M1620.5 667.0h0M1621.4 601.9h0M1589.9 726.1h0M1434.3 699.4h0M1578.5 587.5h0M1668.1 687.9h0M1404.1 650.2h0M1630.6 625.0h0M1570.2 664.6h0M1495.4 670.8h0M1602.4 590.5h0M1516.9 750.7h0M1423.7 685.3h0M1586.2 620.7h0M1650.0 632.4h0M1529.9 692.8h0M1596.0 712.4h0M1442.5 651.5h0M1661.9 673.1h0M1669.9 616.3h0M1600.5 570.1h0M1468.1 737.8h0M1523.7 726.4h0M1535.5 686.7h0M1406.9 659.9h0M1622.1 653.4h0M1529.4 618.8h0M1569.2 593.9h0M1436.0 618.5h0M1627.5 620.1h0M1548.0 764.4h0M1432.6 637.5h0M1399.9 664.8h0M1584.2 716.2h0M1634.0 685.6h0M1506.6 692.2h0M1500.7 680.1h0M1562.9 628.7h0M1415.9 642.6h0M1653.0 674.6h0M1494.2 650.1h0M1536.8 676.7h0M1471.9 702.5h0M1531.5 639.5h0M1662.6 637.7h0M1442.3 699.6h0M1633.4 699.4h0M1492.2 709.5h0M1490.3 738.0h0M1565.6 757.9h0M1654.0 623.6h0M1650.1 621.2h0M1525.1 585.4h0M1456.6 752.6h0M1474.5 623.3h0M1620.4 592.4h0M1569.2 730.4h0M1499.0 674.4h0M1491.1 682.6h0M1474.4 595.7h0M1605.8 607.7h0M1568.5 717.4h0M1517.6 597.0h0M1613.6 632.2h0M1618.5 736.6h0M1444.6 644.5h0M1557.5 709.4h0M1550.6 591.5h0M1501.2 686.4h0M1479.9 692.6h0M1599.7 614.1h0M1554.2 728.0h0M1491.6 701.8h0M1587.5 697.0h0M1449.6 621.0h0M1535.9 591.0h0M1600.9 724.3h0M1501.6 662.8h0M1494.7 740.2h0M1491.4 705.5h0M1536.1 667.9h0M1595.8 747.9h0M1645.5 680.7h0M1484.0 593.8h0M1441.0 714.8h0M1474.1 684.6h0M1590.7 598.9h0M1664.6 610.5h0M1483.7 749.7h0M1533.0 664.6h0M1603.2 684.9h0M1538.6 705.0h0M1698.8 652.6h0M1598.0 570.1h0M1488.8 609.3h0M1582.7 737.1h0M1477.7 620.1h0M1604.0 733.2h0M1574.2 604.7h0M1467.5 761.9h0M1626.5 581.8h0M1572.8 685.3h0M1505.4 663.7h0M1461.8 601.9h0M1533.8 646.2h0M1696.4 640.5h0M1573.9 610.3h0M1447.4 658.7h0M1636.2 717.2h0M1411.2 653.7h0M1439.4 740.1h0M1469.3 637.0h0M1515.5 761.3h0M1636.1 677.1h0M1477.8 668.5h0M1630.3 695.3h0M1477.2 675.2h0M1568.9 574.8h0M1609.7 695.7h0M1645.9 694.0h0M1562.4 650.0h0M1586.1 653.7h0M1461.9 713.4h0M1540.2 611.7h0M1604.6 581.6h0M1579.0 722.2h0M1635.9 707.3h0M1626.3 709.6h0M1456.6 613.1h0M1443.0 740.0h0M1477.4 658.6h0M1613.9 680.5h0M1443.3 708.4h0M1527.9 732.0h0M1588.2 648.8h0M1554.8 576.5h0M1469.2 748.5h0M1623.7 633.3h0M1591.2 698.8h0M1620.4 626.1h0M1462.2 645.0h0M1503.6 682.4h0M1609.7 595.4h0M1392.9 650.5h0M1658.6 612.6h0M1674.3 650.5h0M1496.1 624.5h0M1574.9 638.7h0M1516.2 692.3h0M1464.0 728.6h0M1477.0 593.7h0M1470.2 617.7h0M1536.9 717.3h0M1462.0 595.6h0M1463.3 704.1h0M1622.7 669.7h0M1533.7 699.6h0M1648.1 684.3h0M1504.5 603.5h0M1526.5 703.8h0M1545.7 606.8h0M1541.8 756.3h0M1609.5 657.3h0M1457.8 701.4h0M1543.8 576.9h0M1571.4 649.5h0M1474.3 726.7h0M1524.7 662.2h0M1547.9 721.6h0M1463.2 688.5h0M1597.2 710.4h0M1417.3 681.3h0M1651.3 638.7h0M1511.7 601.3h0M1485.3 629.3h0M1522.7 753.6h0M1480.5 616.0h0M1453.1 676.5h0M1573.0 718.7h0M1596.6 657.9h0M1601.7 740.0h0M1485.4 592.9h0M1646.2 645.6h0M1413.8 655.4h0M1549.4 653.3h0M1525.1 610.7h0M1632.4 693.9h0M1443.8 660.9h0M1434.4 671.2h0M1481.3 731.4h0M1549.6 601.0h0M1605.2 608.7h0M1465.6 725.1h0M1534.1 644.5h0M1506.6 718.1h0M1579.2 597.5h0M1501.3 752.2h0M1442.4 656.4h0M1471.3 595.9h0M1535.8 710.5h0M1652.9 612.7h0M1634.8 720.1h0M1511.2 625.3h0M1633.7 597.3h0M1573.9 603.1h0M1588.9 684.0h0M1534.7 703.5h0M1453.9 674.3h0M1619.9 603.4h0M1616.7 608.6h0M1538.5 721.2h0M1554.7 584.9h0M1502.8 705.7h0M1477.3 679.9h0M1565.3 727.9h0M1544.2 674.7h0M1609.3 596.2h0M1466.5 612.7h0M1497.4 603.3h0M1505.7 630.9h0M1536.7 706.7h0M1557.7 733.3h0M1644.1 706.4h0M1648.8 659.5h0M1418.0 638.0h0M1559.2 575.9h0M1571.9 598.7h0M1560.0 743.8h0M1599.3 664.8h0M1519.7 666.1h0M1659.7 676.0h0M1538.6 581.0h0M1465.6 598.0h0M1616.2 717.2h0M1494.1 712.4h0M1428.8 684.1h0M1596.9 704.2h0M1609.0 576.3h0M1561.6 711.2h0M1551.7 719.0h0M1509.3 640.6h0M1571.7 642.7h0M1470.9 603.2h0M1661.4 635.8h0M1432.4 637.2h0M1495.2 685.7h0M1593.4 613.7h0M1549.0 625.6h0M1565.6 609.2h0M1608.5 729.8h0M1483.6 638.4h0M1568.6 720.3h0M1639.7 643.5h0M1515.3 658.4h0M1552.9 735.4h0M1507.0 685.3h0M1564.0 658.0h0M1590.7 614.8h0M1431.9 676.5h0M1660.6 635.2h0M1444.2 658.8h0M1506.5 649.8h0M1678.5 669.8h0M1575.5 609.3h0M1545.2 638.9h0M1647.6 598.7h0M1658.2 608.1h0M1552.3 648.3h0M1594.7 738.4h0M1454.5 621.1h0M1691.2 656.5h0M1520.2 756.3h0M1656.1 688.1h0M1477.0 658.0h0M1587.3 588.7h0M1642.8 617.6h0M1463.0 720.2h0M1582.4 639.6h0M1634.0 678.4h0M1454.4 692.3h0M1488.6 630.7h0M1644.3 598.7h0" stroke="#8a4a98" stroke-width="2.25" stroke-linecap="round" fill="none"/><path d="M1507.8 627.0h0M1623.9 625.5h0M1539.2 763.5h0M1638.4 613.8h0M1560.8 612.2h0M1678.6 664.2h0M1603.6 685.2h0M1569.7 629.1h0M1550.5 637.7h0M1520.2 632.3h0M1489.6 602.0h0M1647.8 604.1h0M1603.0 655.1h0M1446.8 664.0h0M1552.0 760.5h0M1651.6 694.8h0M1621.6 587.6h0M1452.2 740.1h0M1616.0 624.1h0M1571.8 650.9h0M1585.4 624.4h0M1628.5 577.0h0M1552.4 664.7h0M1465.5 688.4h0M1537.8 608.8h0M1517.8 700.6h0M1615.7 678.6h0M1564.7 672.3h0M1481.8 595.2h0M1521.4 748.3h0M1617.8 725.8h0M1462.1 745.1h0M1466.8 741.6h0M1459.0 694.8h0M1482.5 741.7h0M1635.7 615.2h0M1475.5 621.5h0M1675.2 643.1h0M1662.6 678.1h0M1471.7 684.0h0M1593.4 653.9h0M1633.6 689.0h0M1614.5 729.8h0M1443.8 661.3h0M1481.7 662.6h0M1602.2 706.6h0M1549.3 749.8h0M1669.8 667.8h0M1597.5 731.5h0M1514.4 621.9h0M1533.3 595.5h0M1636.8 659.9h0M1666.5 689.2h0M1667.0 645.3h0M1597.5 717.8h0M1600.4 620.2h0M1499.7 755.0h0M1466.1 708.5h0M1595.8 745.1h0M1678.3 656.8h0M1678.7 680.4h0M1592.8 738.8h0M1529.8 753.1h0M1561.6 693.2h0M1625.1 657.1h0M1523.0 620.4h0M1552.9 655.3h0M1567.6 620.1h0M1429.4 616.7h0M1506.9 742.1h0M1548.8 590.6h0M1619.1 700.5h0M1504.6 667.7h0M1533.1 693.4h0M1528.8 748.5h0M1528.3 580.5h0M1522.5 711.4h0M1485.6 678.5h0M1594.5 575.8h0M1618.8 701.9h0M1537.2 674.1h0M1617.0 701.3h0M1666.5 683.9h0M1640.7 625.5h0M1575.8 692.0h0M1648.7 649.7h0M1428.9 668.7h0M1536.8 757.9h0M1521.0 757.1h0M1531.8 639.9h0M1630.8 709.7h0M1605.3 678.7h0M1635.1 658.4h0M1433.1 624.6h0M1578.7 686.8h0M1578.8 701.2h0M1694.2 661.0h0M1657.4 632.3h0M1481.8 617.2h0M1532.5 746.6h0M1501.2 620.1h0M1676.6 660.0h0M1586.8 698.4h0M1631.2 684.5h0M1522.1 638.6h0M1629.4 664.1h0M1421.8 645.9h0M1644.1 657.5h0M1548.7 571.8h0M1598.8 643.5h0M1612.9 595.8h0M1458.2 679.2h0M1623.1 730.2h0M1632.4 677.9h0M1602.1 657.1h0M1411.5 651.9h0M1586.1 745.0h0M1681.1 654.0h0M1607.9 703.9h0M1562.9 678.2h0M1581.3 660.7h0M1497.8 706.6h0M1448.4 643.2h0M1577.3 675.4h0M1556.6 752.4h0M1606.9 742.6h0M1575.0 700.6h0M1462.5 610.4h0M1513.0 695.0h0M1492.5 639.7h0M1547.9 752.3h0M1697.0 641.7h0M1585.3 741.7h0M1425.2 635.2h0M1448.5 692.3h0M1634.1 665.5h0M1520.7 645.8h0M1539.9 676.7h0M1655.1 604.0h0M1617.6 740.5h0M1470.2 732.2h0M1611.6 639.2h0M1497.3 672.8h0M1623.5 703.9h0M1428.7 666.2h0M1520.1 703.7h0M1627.4 686.7h0M1625.1 733.9h0M1421.5 662.6h0M1390.1 656.1h0M1492.7 621.2h0M1513.2 598.3h0M1487.4 737.7h0M1467.1 706.9h0M1631.3 592.0h0M1512.6 682.6h0M1430.8 725.1h0M1572.1 715.8h0M1557.4 743.8h0M1624.0 598.7h0M1616.0 575.4h0M1661.5 664.6h0M1567.0 752.0h0M1508.7 700.8h0M1561.7 754.7h0M1602.7 617.0h0M1461.2 670.2h0M1672.8 679.3h0M1450.6 755.9h0M1539.2 762.8h0M1529.2 641.9h0M1538.1 754.5h0M1680.1 648.9h0M1608.9 737.6h0M1580.6 628.1h0M1550.1 610.3h0M1698.8 649.3h0M1466.0 707.8h0M1467.9 759.7h0M1616.5 610.8h0M1554.1 660.6h0M1594.3 655.8h0M1533.8 687.6h0M1481.6 656.4h0M1565.8 715.1h0M1565.0 704.9h0M1629.3 683.6h0M1622.8 648.1h0M1512.3 715.8h0M1617.2 662.4h0M1558.0 591.6h0M1663.8 650.8h0M1481.2 741.8h0M1431.7 705.5h0M1520.8 613.4h0M1496.5 644.5h0M1535.3 667.2h0M1680.6 659.5h0M1616.1 730.1h0M1598.4 726.5h0M1587.5 703.8h0M1633.5 710.3h0M1445.5 710.2h0M1604.1 661.1h0M1540.2 603.8h0M1521.7 604.2h0M1607.2 641.0h0M1615.7 569.3h0M1561.7 717.2h0M1508.7 748.4h0M1569.2 728.5h0M1559.8 713.3h0M1487.0 713.8h0M1625.7 658.4h0M1630.1 623.7h0M1605.9 673.6h0M1635.9 641.3h0M1498.7 592.4h0M1535.7 657.4h0M1623.1 694.4h0M1569.2 667.2h0M1675.2 682.4h0M1539.7 747.1h0M1474.6 739.6h0M1625.9 649.6h0M1462.2 709.8h0M1679.1 673.0h0M1637.5 603.3h0M1444.2 661.1h0M1504.9 711.5h0M1413.8 659.6h0M1608.2 635.7h0M1586.5 655.2h0M1572.1 646.0h0M1524.1 759.6h0M1597.9 666.2h0M1627.6 694.1h0M1458.1 658.5h0M1635.1 707.5h0M1607.4 738.7h0M1547.8 718.4h0M1499.5 705.0h0M1649.3 693.1h0M1613.0 599.8h0M1629.0 717.9h0M1414.8 666.7h0M1555.8 713.3h0M1473.0 619.8h0M1592.4 737.5h0M1438.3 712.4h0M1663.1 636.0h0M1659.5 625.4h0M1450.8 726.9h0M1635.2 584.8h0M1507.7 748.0h0M1584.9 652.8h0M1507.0 692.4h0M1520.0 724.3h0M1547.5 759.5h0M1572.6 757.0h0M1464.0 743.4h0M1569.7 729.1h0M1622.4 666.7h0M1538.9 698.1h0M1540.8 761.5h0M1475.6 716.3h0M1615.5 616.2h0M1614.3 674.3h0M1616.4 634.8h0M1459.6 755.0h0M1473.1 620.0h0M1509.9 715.3h0M1610.0 667.3h0M1655.6 675.7h0M1579.0 701.4h0M1446.0 718.1h0M1432.0 740.0h0M1627.4 675.2h0M1592.5 701.9h0M1597.0 635.0h0M1571.0 648.0h0M1516.0 689.5h0M1676.8 648.3h0M1550.5 663.1h0M1507.6 630.2h0M1468.5 761.0h0M1513.5 755.2h0M1487.9 639.3h0M1474.2 650.1h0M1500.9 757.0h0M1426.1 674.4h0M1632.5 578.8h0M1607.8 639.6h0M1588.6 571.9h0M1502.9 657.2h0M1455.0 697.9h0M1687.0 632.7h0M1606.1 643.4h0M1603.8 656.9h0M1628.3 648.3h0M1556.9 734.8h0M1428.2 739.3h0M1524.7 648.7h0M1512.9 610.1h0M1501.5 750.4h0M1514.7 655.9h0M1518.9 711.2h0M1554.8 692.1h0M1478.5 607.8h0M1655.7 672.9h0M1498.6 658.6h0M1581.0 655.1h0M1559.3 626.1h0M1546.8 693.2h0M1628.0 586.4h0M1432.9 728.9h0M1493.2 723.4h0M1584.3 631.9h0M1565.4 626.9h0M1626.0 707.0h0M1465.4 686.8h0M1563.9 685.9h0M1558.7 587.4h0M1532.9 757.1h0M1416.1 650.6h0M1580.6 699.2h0M1487.9 608.1h0M1451.0 662.5h0M1502.4 665.7h0M1512.2 743.0h0M1529.3 660.6h0M1427.7 641.2h0M1621.4 686.4h0M1550.7 712.9h0M1629.5 702.2h0M1585.4 589.0h0M1489.0 748.7h0M1600.5 693.6h0M1633.1 714.2h0M1600.3 723.8h0M1587.4 638.9h0M1563.1 723.8h0M1551.1 743.7h0M1462.8 648.0h0M1597.8 608.4h0M1557.0 745.7h0M1529.4 744.0h0M1559.5 577.6h0M1512.8 686.0h0M1694.2 651.8h0M1515.9 742.9h0M1529.2 689.4h0M1509.1 751.9h0M1422.9 670.5h0M1641.8 633.8h0M1637.4 660.0h0M1619.9 739.7h0M1620.6 703.3h0M1631.8 710.2h0M1626.4 608.4h0M1530.3 720.1h0M1584.8 662.8h0M1606.1 573.4h0M1568.2 578.7h0M1412.1 669.2h0M1496.7 758.4h0M1587.8 671.3h0M1685.9 665.1h0M1607.2 604.5h0M1532.6 603.9h0M1605.2 651.6h0M1636.8 626.8h0M1476.3 739.4h0M1543.8 746.1h0M1420.5 729.3h0M1470.1 642.3h0M1470.5 650.1h0M1606.1 577.0h0M1628.6 677.7h0M1589.4 723.1h0M1575.5 742.3h0M1457.2 604.3h0M1618.6 719.3h0M1464.9 724.1h0M1617.9 712.5h0M1480.9 655.8h0M1477.7 706.1h0M1550.4 701.4h0M1543.1 578.0h0M1616.9 730.0h0M1637.2 584.4h0M1456.3 665.5h0M1522.8 664.5h0M1516.2 742.9h0M1407.8 677.0h0M1670.8 623.5h0M1631.0 600.7h0M1619.6 665.0h0M1571.1 634.8h0M1457.5 690.8h0M1643.5 640.4h0M1642.2 634.0h0M1639.6 615.9h0M1447.0 632.6h0M1666.2 620.5h0M1484.9 603.2h0M1443.5 658.7h0M1419.0 623.2h0M1595.2 585.1h0M1586.8 675.7h0M1651.3 639.9h0M1595.0 689.8h0M1616.5 725.9h0M1598.7 639.6h0M1630.3 700.5h0M1625.2 711.1h0M1637.3 668.7h0M1655.6 666.6h0M1550.0 703.7h0M1492.0 694.9h0M1614.4 574.2h0M1656.9 688.9h0M1551.1 686.6h0M1618.6 732.9h0M1426.1 664.1h0M1597.8 661.5h0M1519.7 669.7h0M1491.3 648.1h0M1433.7 623.1h0M1605.9 627.0h0M1613.2 698.8h0M1689.3 644.9h0M1481.6 731.8h0M1663.3 627.5h0M1617.3 692.5h0M1544.4 722.9h0M1514.5 760.2h0M1522.0 720.0h0M1576.3 644.6h0M1592.4 689.1h0M1577.3 720.9h0M1608.7 614.8h0M1532.9 671.5h0M1495.6 644.4h0M1606.6 577.7h0M1620.7 691.9h0M1456.1 683.6h0M1611.1 741.9h0M1657.9 654.6h0M1585.9 631.6h0M1574.0 677.0h0M1546.1 652.3h0M1629.7 598.1h0M1450.1 708.8h0M1609.6 632.5h0M1692.3 635.8h0M1520.5 586.2h0M1619.8 722.9h0M1599.0 700.8h0M1589.4 656.6h0M1612.0 739.0h0M1509.2 641.2h0M1469.8 699.0h0M1482.1 669.9h0M1514.8 699.2h0M1585.5 751.2h0M1478.9 672.9h0M1435.6 673.1h0M1439.5 716.8h0M1619.9 694.0h0M1510.8 593.7h0M1599.4 740.1h0M1646.4 638.9h0M1526.8 707.2h0M1609.6 731.2h0M1427.0 698.5h0M1599.2 745.1h0M1605.6 638.9h0M1565.9 755.6h0M1530.2 579.2h0M1645.4 589.7h0M1677.6 628.0h0M1597.4 576.8h0M1408.8 679.3h0M1607.8 643.4h0M1545.2 673.6h0M1565.6 748.1h0M1465.0 756.9h0M1567.2 625.8h0M1604.6 648.8h0M1594.6 632.4h0M1624.1 683.3h0M1586.2 580.6h0M1520.0 737.5h0M1630.5 658.5h0M1670.5 652.5h0M1663.7 647.4h0M1404.5 635.8h0M1576.3 703.6h0M1427.4 736.9h0M1582.4 662.1h0M1540.7 726.8h0M1640.2 710.4h0M1646.4 686.9h0M1559.6 756.5h0M1555.6 598.4h0M1497.7 661.8h0M1577.5 653.8h0M1521.1 727.1h0M1593.3 738.8h0M1509.9 632.3h0M1637.0 639.2h0M1617.0 594.4h0M1577.0 747.2h0M1593.9 685.9h0M1657.3 637.6h0M1548.8 711.0h0M1589.2 617.0h0M1575.9 598.1h0M1635.0 675.3h0M1479.8 688.6h0M1646.5 637.9h0M1636.2 689.5h0M1562.0 607.4h0M1670.9 681.2h0M1413.8 637.5h0M1594.9 708.2h0M1633.7 710.7h0M1500.2 643.7h0M1405.7 677.4h0M1574.5 663.5h0M1536.4 667.0h0M1603.8 648.1h0M1517.1 689.7h0M1577.2 656.1h0M1641.4 656.4h0M1501.8 666.8h0M1499.8 637.0h0M1471.3 618.6h0M1555.0 598.8h0M1494.8 760.9h0M1561.8 606.3h0M1435.5 616.5h0M1576.3 678.3h0M1556.6 721.7h0M1492.8 713.0h0M1421.6 645.4h0M1515.5 602.9h0M1657.8 667.7h0M1573.2 609.5h0M1613.0 700.7h0M1659.0 691.5h0M1483.0 638.2h0M1410.9 669.9h0M1661.5 640.3h0M1452.8 664.8h0M1490.8 721.6h0M1596.4 602.9h0M1596.7 731.1h0M1499.0 676.6h0M1511.8 743.2h0M1442.2 619.9h0M1483.6 738.9h0M1596.8 703.9h0M1488.5 590.6h0M1488.6 673.5h0M1488.6 700.1h0M1461.6 615.6h0M1594.0 708.0h0M1502.0 644.4h0M1623.0 734.8h0M1514.0 602.5h0M1454.9 737.6h0M1569.5 609.3h0M1682.0 646.6h0M1565.5 661.8h0M1599.4 576.2h0M1504.5 611.6h0M1473.9 625.1h0M1614.1 667.5h0M1631.3 654.0h0M1524.5 702.1h0M1467.8 630.1h0M1597.9 711.2h0M1687.4 643.3h0M1497.1 645.9h0M1448.0 737.7h0M1436.1 718.3h0M1564.5 690.6h0M1620.7 699.5h0M1501.3 732.5h0M1690.7 648.4h0M1504.5 731.2h0M1683.5 628.1h0M1635.6 667.5h0M1637.9 582.0h0M1450.3 667.5h0M1640.7 600.2h0M1463.6 701.9h0M1624.1 618.5h0M1595.9 673.6h0M1582.2 598.2h0M1576.2 643.1h0M1435.2 617.9h0M1549.5 581.2h0M1629.8 572.2h0M1578.2 600.8h0M1568.1 709.7h0M1654.9 674.0h0M1634.6 708.6h0M1565.5 712.2h0M1638.8 710.1h0M1499.7 644.4h0M1536.1 658.6h0M1452.5 753.3h0M1592.8 639.1h0M1530.4 636.6h0M1482.7 726.1h0M1479.6 676.2h0M1456.6 711.4h0M1541.8 606.6h0M1489.8 739.2h0M1435.9 611.0h0M1569.1 685.0h0M1567.4 592.4h0M1657.1 648.5h0M1442.5 737.9h0M1465.7 733.2h0M1485.4 600.5h0M1595.6 636.6h0M1590.6 743.7h0M1569.7 639.0h0M1521.6 759.6h0M1643.1 598.2h0M1600.6 583.6h0M1419.0 713.4h0M1578.0 727.5h0M1629.5 653.8h0M1414.1 669.6h0M1634.7 593.2h0M1468.2 681.9h0M1509.7 650.1h0M1467.5 633.1h0M1510.1 762.4h0M1467.6 749.3h0M1566.0 734.4h0M1517.4 699.3h0M1658.7 640.7h0M1470.3 655.1h0M1570.1 748.4h0M1590.4 684.6h0M1497.2 730.3h0M1423.8 678.5h0M1619.9 686.1h0M1550.5 738.9h0M1451.4 604.0h0M1514.5 719.6h0M1484.9 661.6h0M1621.8 583.8h0M1596.5 714.5h0M1569.4 603.2h0M1652.2 657.9h0M1576.1 662.4h0M1634.3 578.9h0M1604.3 691.2h0M1506.5 685.6h0M1621.5 624.3h0M1588.0 742.2h0M1693.0 659.8h0M1644.3 709.0h0M1505.5 706.8h0M1609.8 715.3h0M1436.4 737.7h0M1667.4 632.1h0M1640.2 640.3h0M1611.0 713.4h0M1538.1 706.3h0M1605.3 617.8h0M1643.9 621.2h0M1605.0 708.0h0M1626.5 713.3h0M1495.6 661.7h0M1578.9 587.3h0M1535.2 670.7h0M1556.3 724.3h0M1617.3 713.6h0M1653.9 651.8h0M1653.4 652.2h0M1594.3 690.0h0M1590.0 688.6h0M1613.0 606.4h0M1578.0 628.9h0M1499.8 740.7h0M1572.8 756.4h0M1558.3 685.9h0M1493.1 673.0h0M1636.5 695.5h0M1498.7 662.5h0M1556.7 762.3h0M1504.1 742.9h0M1514.6 666.8h0M1667.5 625.2h0M1659.6 624.4h0M1673.7 683.8h0M1685.5 630.5h0M1474.2 754.7h0M1625.2 627.4h0M1620.0 694.6h0M1475.1 652.8h0M1513.1 748.0h0M1412.7 671.3h0M1642.3 582.5h0M1597.1 676.7h0M1617.5 642.4h0M1573.1 650.5h0M1630.6 609.3h0M1630.1 724.3h0M1501.9 760.4h0M1480.0 740.5h0M1427.7 703.1h0M1630.2 726.2h0M1527.8 756.2h0M1493.4 619.5h0M1638.0 696.3h0M1432.4 622.2h0M1636.6 626.8h0M1575.2 638.4h0M1570.3 684.7h0M1568.3 692.0h0M1578.5 665.3h0M1563.7 693.5h0M1636.7 714.6h0M1674.3 672.5h0M1470.1 681.9h0M1687.4 637.7h0M1600.4 719.3h0M1645.0 683.2h0M1597.6 744.9h0M1687.3 662.5h0M1631.8 702.6h0M1515.5 621.3h0M1555.2 678.4h0M1551.1 687.5h0M1626.7 610.8h0M1632.6 720.7h0M1531.6 621.1h0M1430.6 722.1h0M1595.0 712.5h0M1580.0 600.6h0M1482.3 746.1h0M1549.5 667.6h0M1461.1 754.6h0M1628.0 615.6h0M1539.9 731.4h0M1568.7 626.1h0M1605.2 604.1h0M1668.1 665.0h0M1515.0 751.6h0M1484.8 658.5h0M1487.1 687.0h0M1531.7 763.8h0M1593.4 678.1h0M1513.0 763.4h0M1582.0 593.9h0M1581.1 605.4h0M1596.9 705.8h0M1623.2 695.8h0M1531.1 597.2h0M1503.9 592.2h0M1620.9 664.5h0M1547.7 732.3h0M1463.7 632.5h0M1459.5 714.9h0M1586.0 617.3h0M1615.9 622.8h0M1553.2 628.0h0M1584.4 640.2h0M1567.0 676.9h0M1620.6 709.2h0M1486.8 702.7h0M1593.2 685.5h0M1538.7 600.5h0M1554.2 612.3h0M1611.1 722.9h0M1661.9 677.1h0M1460.5 682.4h0M1466.0 642.5h0M1574.6 678.1h0M1431.4 705.1h0M1462.5 679.9h0M1579.0 739.5h0M1642.3 665.1h0M1656.7 606.1h0M1458.9 671.1h0M1594.6 621.6h0M1509.1 646.1h0M1453.9 643.5h0M1623.9 702.0h0M1635.8 709.6h0M1637.0 707.5h0M1626.3 594.5h0M1538.5 747.5h0M1592.1 726.5h0M1400.8 645.7h0M1617.2 572.3h0M1565.7 621.0h0M1460.4 699.5h0M1586.0 620.3h0M1566.9 616.3h0M1599.7 722.4h0M1575.1 643.1h0M1587.8 582.5h0M1434.0 641.7h0M1518.2 620.7h0M1518.4 752.5h0M1525.8 624.2h0M1515.1 612.8h0M1594.8 737.9h0M1664.1 691.8h0M1621.2 666.2h0M1593.8 679.3h0M1505.4 671.7h0M1635.0 599.7h0M1697.5 644.6h0M1509.4 665.9h0M1460.9 698.6h0M1485.2 624.6h0M1437.5 609.7h0M1646.8 632.5h0M1481.1 653.6h0M1501.3 632.5h0M1598.0 644.8h0M1524.3 610.1h0M1617.6 615.9h0M1512.7 590.7h0M1638.7 663.6h0M1624.3 628.5h0M1635.5 682.9h0M1696.9 648.4h0M1518.4 699.8h0M1642.9 670.6h0M1521.3 681.2h0M1525.1 675.5h0M1545.5 724.9h0M1672.4 646.2h0M1438.6 681.5h0M1476.0 757.7h0M1641.6 593.8h0M1611.5 709.9h0M1589.7 728.1h0M1592.2 576.5h0M1651.4 703.4h0M1492.6 724.8h0M1582.7 614.3h0M1450.5 618.6h0M1540.2 729.3h0M1596.2 587.4h0M1439.8 741.6h0M1595.9 676.6h0M1618.0 687.4h0M1490.0 673.8h0M1536.2 706.4h0M1571.4 659.2h0M1647.0 618.8h0M1494.7 710.6h0M1618.2 689.0h0M1515.4 757.4h0M1605.0 701.1h0M1511.8 740.5h0M1572.6 697.8h0M1570.3 745.9h0M1680.7 664.2h0M1599.6 740.4h0M1597.8 700.9h0M1507.4 683.0h0M1537.5 666.9h0M1641.4 590.2h0M1589.8 627.4h0M1605.6 685.6h0M1535.3 696.1h0M1538.5 710.7h0M1546.2 675.7h0M1460.9 617.7h0M1405.4 679.3h0M1616.5 721.2h0M1561.2 746.1h0M1609.3 627.6h0M1575.2 627.6h0M1618.2 586.7h0M1436.4 633.3h0M1503.6 696.0h0M1517.1 688.9h0M1620.8 736.4h0M1584.3 717.6h0M1546.7 722.6h0M1608.0 688.4h0M1461.8 606.5h0M1661.6 644.0h0M1411.0 633.0h0M1644.9 633.9h0M1679.2 635.1h0M1522.8 680.1h0M1518.0 752.0h0M1594.7 583.7h0M1577.3 708.0h0M1487.2 602.0h0M1617.0 686.7h0M1567.7 755.4h0M1511.9 761.0h0M1512.1 652.3h0M1614.0 635.5h0M1539.5 629.0h0M1629.5 587.0h0M1659.4 687.5h0M1647.8 679.9h0M1572.4 712.4h0M1566.6 607.2h0M1445.3 698.6h0M1692.3 646.3h0M1648.6 675.6h0M1587.9 719.1h0M1462.4 613.8h0M1515.4 638.4h0M1554.1 722.2h0M1576.8 708.5h0M1528.4 580.6h0M1574.9 724.4h0M1685.0 663.2h0M1563.0 700.3h0M1528.2 725.5h0M1674.6 634.2h0M1469.0 696.8h0M1464.6 714.2h0M1581.8 584.3h0M1615.6 663.0h0M1695.9 653.4h0M1595.3 724.6h0M1482.7 654.7h0M1397.8 649.1h0M1589.6 609.1h0M1439.0 700.2h0M1503.3 683.2h0M1562.8 663.5h0M1591.8 667.8h0M1527.1 606.4h0M1514.9 655.9h0M1676.5 636.6h0M1539.6 614.2h0M1553.9 735.6h0M1493.9 703.5h0M1458.1 661.8h0M1469.7 733.9h0M1581.1 698.7h0M1586.5 702.5h0M1432.1 621.3h0M1581.4 634.0h0M1654.4 633.1h0M1678.7 650.8h0M1490.0 739.5h0M1617.8 662.7h0M1641.4 654.3h0M1554.8 694.7h0M1505.0 698.6h0M1585.2 647.1h0M1457.2 728.6h0M1599.9 680.4h0M1598.5 689.5h0M1448.9 721.1h0M1546.4 716.2h0M1455.3 656.5h0M1656.3 663.6h0M1568.9 571.1h0M1570.7 579.7h0M1625.0 661.0h0M1534.9 634.7h0M1441.5 649.8h0M1544.8 629.4h0M1557.0 678.6h0M1439.3 643.4h0M1491.1 628.2h0M1555.5 691.4h0M1613.0 608.7h0M1424.6 730.3h0M1529.8 674.7h0M1543.4 653.3h0M1558.8 580.8h0M1514.5 748.0h0M1573.7 747.9h0M1579.9 588.1h0M1524.7 700.7h0M1623.7 732.0h0M1492.0 680.3h0M1573.4 747.4h0M1519.9 737.1h0M1537.7 703.4h0M1527.5 692.9h0M1490.4 694.0h0M1474.9 741.8h0M1564.4 699.7h0M1608.9 591.5h0M1460.2 699.2h0M1579.2 596.5h0M1466.9 741.2h0M1466.9 744.8h0M1628.5 587.3h0M1586.2 688.3h0M1641.4 665.0h0M1567.3 651.8h0M1536.6 639.4h0M1646.2 675.8h0M1529.8 732.3h0M1482.9 702.9h0M1572.0 746.1h0M1587.8 664.6h0M1600.1 701.8h0M1619.6 590.6h0M1632.9 671.9h0M1562.6 607.0h0M1457.3 670.3h0M1555.7 720.2h0M1578.2 577.6h0M1535.5 614.4h0M1416.4 636.5h0M1568.7 640.6h0M1595.8 683.8h0M1494.9 643.6h0M1563.7 760.5h0M1644.1 671.5h0M1559.6 586.5h0M1521.2 698.7h0M1610.9 732.1h0M1514.0 706.0h0M1411.0 664.7h0M1506.3 739.4h0M1494.4 637.7h0M1637.9 637.5h0M1535.8 657.3h0M1420.8 715.3h0M1527.6 632.4h0M1547.1 665.3h0M1451.7 713.1h0M1643.6 709.5h0M1602.0 675.2h0M1483.0 753.9h0M1556.0 697.2h0M1467.5 714.2h0M1521.5 632.7h0M1567.5 737.6h0M1514.7 603.6h0M1513.0 628.4h0M1521.3 656.7h0M1638.9 608.6h0M1572.8 596.7h0M1522.8 752.4h0M1672.1 621.4h0M1659.5 618.9h0M1485.4 594.9h0M1636.6 723.2h0M1587.9 600.2h0M1507.9 697.6h0M1462.1 703.0h0M1678.2 622.0h0M1536.7 763.4h0M1469.9 710.6h0M1414.9 682.5h0M1686.7 663.8h0M1547.6 599.8h0M1507.5 611.2h0M1570.8 583.3h0M1465.7 627.4h0M1546.0 699.4h0M1506.5 661.1h0M1639.5 717.4h0M1583.9 604.5h0M1515.7 704.6h0M1487.4 632.0h0M1452.4 754.1h0M1440.3 729.4h0M1411.0 643.6h0M1532.6 698.3h0M1631.4 688.3h0M1608.1 715.5h0M1474.1 730.7h0M1599.9 670.1h0M1417.7 645.4h0M1552.9 643.8h0M1556.9 713.9h0M1643.0 662.4h0M1568.7 761.4h0M1599.2 721.2h0M1499.8 687.8h0M1688.5 665.4h0M1595.3 601.7h0M1555.7 582.3h0M1579.1 713.1h0M1575.2 741.8h0M1493.3 745.7h0M1610.2 698.1h0M1470.9 669.9h0M1447.7 660.7h0M1626.6 572.4h0M1526.8 765.6h0M1549.1 653.3h0M1444.6 712.9h0M1629.0 664.1h0M1462.4 732.2h0M1561.4 636.7h0M1520.9 599.0h0M1545.3 739.5h0M1472.8 681.9h0M1597.0 597.9h0M1667.8 646.5h0M1573.6 576.8h0M1511.3 681.0h0M1648.6 638.0h0M1494.2 623.6h0M1481.6 756.6h0M1646.2 705.6h0M1472.8 741.3h0M1569.6 643.2h0M1491.8 596.3h0M1527.3 656.3h0M1590.9 583.1h0M1549.1 726.1h0M1534.4 647.1h0M1615.4 592.9h0M1629.2 719.2h0M1472.2 631.7h0M1405.9 642.9h0M1528.2 610.9h0M1615.4 665.5h0M1654.9 639.7h0M1528.5 708.1h0M1631.1 677.4h0M1507.7 639.1h0M1575.4 757.1h0M1551.3 704.0h0M1568.1 720.4h0M1515.7 626.0h0M1566.3 652.5h0M1510.5 754.7h0M1467.4 629.8h0M1516.7 716.5h0M1521.6 631.2h0M1477.5 680.1h0M1538.5 574.1h0M1625.5 731.9h0M1623.1 731.6h0M1661.1 618.0h0M1541.6 597.9h0M1453.6 756.6h0M1427.4 717.5h0M1662.9 611.6h0M1638.5 691.2h0M1677.7 642.6h0M1622.0 638.6h0M1552.7 750.7h0M1534.1 728.4h0M1686.2 647.0h0M1619.9 729.0h0M1518.7 600.6h0M1611.8 652.0h0M1682.7 656.4h0M1613.2 599.3h0M1619.8 638.2h0M1545.0 648.9h0M1596.2 572.8h0M1430.4 653.0h0M1509.8 673.1h0M1462.3 726.9h0M1452.9 642.2h0M1450.3 659.0h0M1609.2 719.5h0M1447.6 684.9h0M1462.5 711.7h0M1518.6 758.9h0M1592.0 683.9h0M1516.5 744.7h0M1502.6 587.7h0M1567.0 688.1h0M1431.4 689.7h0M1604.7 694.4h0M1561.2 668.1h0M1616.7 619.5h0M1614.8 661.2h0M1629.6 594.7h0M1550.9 712.2h0M1456.2 618.1h0M1600.2 584.7h0M1642.8 712.1h0M1554.6 730.7h0M1616.8 598.9h0M1543.5 727.6h0M1582.5 707.1h0M1584.6 697.6h0M1477.4 753.5h0M1462.2 664.4h0M1659.8 660.6h0M1592.2 652.9h0M1660.8 621.4h0M1558.7 677.6h0M1412.8 653.5h0M1606.1 642.2h0M1584.3 738.4h0M1550.1 667.9h0M1654.8 644.2h0M1603.6 602.0h0M1623.3 626.4h0M1660.4 645.9h0M1630.4 632.9h0M1520.6 599.9h0M1578.6 713.3h0M1565.9 642.3h0M1545.6 736.1h0M1601.6 634.4h0M1486.5 610.1h0M1482.3 712.3h0M1483.0 752.7h0M1419.5 678.4h0M1425.7 681.2h0M1578.8 663.4h0M1567.1 759.5h0M1592.8 585.6h0M1553.2 583.7h0M1561.4 760.3h0M1519.2 670.0h0M1635.4 717.7h0M1624.2 677.2h0M1539.5 763.4h0M1680.1 657.8h0M1597.3 639.4h0M1487.4 707.4h0M1641.9 692.0h0M1506.8 622.3h0M1615.3 722.4h0M1560.5 644.8h0M1466.6 622.5h0M1595.8 574.7h0M1598.0 705.8h0M1473.7 691.0h0M1558.3 665.6h0M1543.2 604.1h0M1664.6 686.2h0M1624.7 613.7h0M1570.8 664.5h0M1568.7 593.8h0M1449.5 705.4h0M1618.6 605.2h0M1643.0 698.0h0M1572.4 675.3h0M1620.7 688.4h0M1624.2 643.2h0M1438.0 681.8h0M1451.6 748.5h0M1496.8 609.3h0M1497.9 733.0h0M1655.7 602.2h0M1565.5 618.5h0M1666.9 675.8h0M1477.3 636.4h0M1621.0 573.4h0M1633.8 725.6h0M1474.8 733.1h0M1671.6 630.7h0M1419.3 625.5h0M1451.3 726.9h0M1482.2 645.1h0M1673.4 669.5h0M1550.7 714.7h0M1612.2 677.1h0M1490.6 669.0h0M1485.4 759.1h0M1433.3 643.3h0M1649.8 673.5h0M1549.8 710.4h0M1548.0 610.2h0M1604.7 639.2h0M1453.0 701.2h0M1598.4 604.4h0M1562.0 726.1h0M1483.5 701.3h0M1588.4 709.0h0M1447.2 669.8h0M1602.1 655.5h0M1547.4 683.6h0M1438.6 687.1h0M1643.8 607.2h0M1621.7 593.8h0M1411.4 672.8h0M1570.2 748.5h0M1493.8 682.9h0M1590.5 619.7h0M1546.8 680.3h0M1537.9 634.1h0M1552.9 672.4h0M1442.9 735.4h0M1612.6 580.4h0M1690.3 636.8h0M1602.7 582.6h0M1617.7 704.5h0M1697.7 645.7h0M1500.7 744.3h0M1562.8 615.9h0M1509.2 733.7h0M1667.6 643.4h0M1450.2 712.3h0M1400.7 671.9h0M1606.5 609.7h0M1422.2 643.0h0M1603.7 717.6h0M1499.3 598.7h0M1597.6 598.2h0M1447.3 718.0h0M1486.2 674.0h0M1646.5 627.3h0M1617.8 598.7h0M1685.1 641.9h0M1505.8 724.0h0M1527.6 629.0h0M1539.3 668.0h0M1632.9 599.4h0M1591.3 586.1h0M1554.3 705.1h0M1472.1 689.3h0M1494.5 738.0h0M1561.5 754.8h0M1689.0 637.5h0M1658.6 680.3h0M1538.3 587.7h0M1550.8 634.8h0M1576.0 750.2h0M1674.5 625.7h0M1562.2 709.5h0M1501.9 631.6h0M1499.5 604.6h0M1497.4 690.1h0M1649.1 632.2h0M1529.7 761.8h0M1622.2 594.6h0M1561.9 665.5h0M1621.5 613.6h0M1550.1 624.6h0M1571.4 595.6h0M1638.9 630.5h0M1636.4 606.2h0M1609.5 618.2h0M1508.5 745.2h0M1568.7 749.1h0M1576.2 575.1h0M1606.0 743.5h0M1639.6 661.6h0M1485.5 725.2h0M1552.1 700.6h0M1562.9 628.1h0M1464.0 629.6h0M1524.3 603.8h0M1510.8 717.3h0M1597.5 574.7h0M1510.4 609.9h0M1509.8 675.5h0M1467.1 691.3h0M1569.5 657.4h0M1508.8 594.6h0M1481.1 612.3h0M1482.3 658.0h0M1471.5 595.6h0M1507.1 727.0h0M1456.4 697.1h0M1525.5 652.1h0M1508.8 749.6h0M1647.3 600.3h0M1539.6 738.6h0M1561.2 570.8h0M1660.6 632.2h0M1581.0 710.6h0M1602.9 682.0h0M1553.9 744.4h0M1623.9 719.2h0M1656.7 676.6h0M1538.9 635.4h0M1659.0 631.7h0M1461.3 686.0h0M1637.4 591.2h0M1508.3 616.5h0M1468.2 616.4h0M1435.1 652.5h0M1517.1 670.8h0M1651.4 652.4h0M1439.0 749.5h0M1529.0 682.4h0M1639.6 719.2h0M1553.5 722.7h0M1478.2 747.8h0M1554.0 683.1h0M1540.0 652.7h0M1581.6 685.0h0M1496.5 696.1h0M1548.1 625.5h0M1523.7 676.6h0M1638.2 634.3h0M1634.5 632.5h0M1406.1 643.6h0M1578.5 646.4h0M1654.5 621.6h0M1590.0 700.8h0M1599.9 630.1h0M1491.8 685.6h0M1550.5 594.6h0M1641.6 678.3h0M1595.1 733.6h0M1522.0 746.5h0M1529.4 572.9h0M1667.1 617.8h0M1576.7 706.4h0M1421.6 687.7h0M1644.4 652.6h0M1584.7 609.1h0M1522.4 623.2h0M1631.5 727.3h0M1599.9 728.5h0M1472.0 608.5h0M1566.4 613.3h0M1413.3 670.9h0M1652.6 602.1h0M1565.9 625.3h0M1609.0 709.1h0M1546.9 700.4h0M1557.4 632.4h0M1587.9 731.4h0M1464.4 740.1h0M1585.0 613.6h0M1553.6 587.0h0M1645.8 613.5h0M1488.2 723.5h0M1439.3 681.9h0M1486.1 634.3h0M1602.4 593.3h0M1577.3 634.8h0M1590.3 732.2h0M1623.3 730.9h0M1575.1 734.7h0M1471.2 711.8h0M1627.9 705.3h0M1513.0 711.0h0M1564.9 689.0h0M1509.1 710.3h0M1543.3 729.5h0M1545.3 689.1h0M1424.4 668.2h0M1442.7 752.8h0M1606.7 728.8h0M1568.6 718.2h0M1512.2 725.8h0M1642.0 696.5h0M1532.5 680.9h0M1566.1 567.9h0M1494.6 621.6h0M1632.7 625.6h0M1497.0 644.5h0M1568.0 740.0h0M1652.7 618.1h0M1528.8 734.0h0M1613.2 708.9h0M1576.3 586.6h0M1551.7 760.1h0M1552.4 589.8h0M1524.2 586.1h0M1684.9 669.5h0M1588.0 575.6h0M1546.5 644.6h0M1625.1 648.9h0M1484.5 709.9h0M1550.5 718.9h0M1455.8 638.0h0M1399.1 643.2h0M1468.6 676.2h0M1579.0 717.7h0M1614.0 661.3h0M1581.0 722.9h0M1447.1 713.8h0M1520.2 646.8h0M1564.9 626.3h0M1540.6 694.4h0M1538.8 750.2h0M1673.1 668.6h0M1574.9 624.4h0M1454.9 676.2h0M1600.1 622.9h0M1484.7 701.6h0M1614.9 682.1h0M1495.7 688.8h0M1593.3 637.2h0M1573.9 625.8h0M1595.0 736.3h0M1390.7 656.9h0M1612.5 719.2h0M1425.0 659.9h0M1578.6 679.5h0M1435.6 675.2h0M1620.1 657.7h0M1496.3 761.2h0M1445.6 616.6h0M1461.7 750.8h0M1659.9 689.2h0M1470.7 628.4h0M1410.6 653.2h0M1544.5 586.4h0M1487.8 700.2h0M1606.0 677.9h0M1675.5 670.2h0M1500.7 677.1h0M1452.9 624.8h0M1640.6 615.8h0M1592.0 723.2h0M1441.3 676.8h0M1490.6 744.5h0M1528.1 652.2h0M1655.9 666.8h0M1440.8 746.4h0M1673.2 664.0h0M1614.8 667.3h0" stroke="#4a1560" stroke-width="2.25" stroke-linecap="round" fill="none"/><path d="M1574.2 660.0h0M1627.6 612.1h0M1508.2 682.5h0M1599.9 658.5h0M1569.8 655.4h0M1448.9 687.0h0M1607.0 673.6h0M1396.4 659.2h0M1643.9 653.4h0M1505.8 651.7h0M1533.7 644.1h0M1454.9 709.7h0M1473.8 742.6h0M1533.8 629.0h0M1474.3 717.2h0M1584.9 612.1h0M1446.4 692.8h0M1502.0 643.4h0M1502.1 695.0h0M1650.3 654.4h0M1560.0 733.8h0M1480.4 734.5h0M1487.2 664.4h0M1555.3 635.5h0M1514.5 676.1h0M1578.7 686.8h0M1616.2 708.5h0M1559.8 758.2h0M1649.3 640.1h0M1613.6 706.0h0M1513.5 623.4h0M1563.7 670.9h0M1507.9 630.4h0M1545.0 585.2h0M1542.4 655.2h0M1479.4 625.3h0M1530.5 595.2h0M1535.0 723.0h0M1551.9 722.2h0M1636.0 691.8h0M1624.6 702.0h0M1434.5 704.5h0M1529.1 746.9h0M1445.6 700.7h0M1639.6 643.4h0M1533.8 642.6h0M1526.3 580.8h0M1463.9 694.1h0M1537.4 675.3h0M1475.3 686.2h0M1442.3 681.3h0M1421.1 656.8h0M1536.9 673.8h0M1483.5 612.6h0M1454.9 622.3h0M1455.2 645.2h0M1552.2 568.7h0M1524.0 685.0h0M1613.5 586.3h0M1539.9 694.9h0M1503.6 759.3h0M1580.0 662.5h0M1525.8 706.7h0M1426.4 669.5h0M1634.4 615.6h0M1585.8 622.2h0M1643.0 623.6h0M1572.7 706.5h0M1522.2 626.9h0M1598.4 572.0h0M1543.3 696.4h0M1406.4 667.8h0M1589.0 620.5h0M1624.4 734.2h0M1429.9 708.0h0M1592.8 698.0h0M1426.4 627.1h0M1493.2 744.4h0M1613.5 619.2h0M1483.3 618.1h0M1592.7 673.7h0M1645.8 690.6h0M1529.4 592.4h0M1650.9 610.5h0M1459.7 741.6h0M1399.5 645.1h0M1446.0 621.0h0M1515.9 679.7h0M1454.6 744.4h0M1544.6 650.3h0M1568.8 606.0h0M1519.6 660.2h0M1540.9 707.2h0M1549.9 754.4h0M1641.3 717.5h0M1648.5 592.4h0M1639.4 710.2h0M1635.5 595.7h0M1461.4 659.9h0M1555.9 748.2h0M1480.2 645.7h0M1584.4 716.0h0M1535.7 643.1h0M1480.8 600.2h0M1616.5 678.1h0M1652.0 680.0h0M1530.4 743.7h0M1577.8 731.8h0M1438.6 745.6h0M1610.0 626.8h0M1472.7 694.2h0M1641.4 716.0h0M1535.8 584.1h0M1502.3 687.4h0M1456.7 637.3h0M1561.0 583.0h0M1401.2 644.2h0M1499.1 592.0h0M1476.3 610.3h0M1503.5 710.0h0M1496.8 594.2h0M1428.0 629.8h0M1575.9 657.5h0M1473.2 643.8h0M1551.7 717.7h0M1663.4 613.6h0M1577.3 571.0h0M1561.8 747.8h0M1557.5 674.5h0M1588.9 631.5h0M1528.2 600.9h0M1441.8 745.0h0M1533.2 632.0h0M1509.8 710.7h0M1471.5 635.0h0M1425.2 657.2h0M1521.0 604.0h0M1602.8 678.3h0M1623.5 620.2h0M1670.6 668.3h0M1510.0 637.7h0M1472.0 732.2h0M1556.3 652.0h0M1665.7 658.7h0M1675.0 639.7h0M1620.9 634.1h0M1541.9 628.1h0M1565.8 722.9h0M1582.5 707.9h0M1659.5 614.7h0M1404.8 663.7h0M1583.8 625.6h0M1483.5 729.4h0M1460.1 612.8h0M1494.7 607.9h0M1437.4 699.3h0M1661.2 670.5h0M1640.5 640.2h0M1540.8 643.4h0M1663.4 681.3h0M1573.4 677.1h0M1400.5 637.8h0M1427.9 668.0h0M1661.1 659.7h0M1581.1 743.6h0M1401.7 643.7h0M1547.5 690.4h0M1402.0 649.4h0M1627.9 577.6h0M1547.4 758.4h0M1459.9 660.7h0M1627.5 662.9h0M1451.6 733.2h0M1449.9 639.8h0M1615.7 660.4h0M1490.7 638.5h0M1424.2 733.1h0M1434.7 697.1h0M1422.1 717.6h0M1555.3 580.9h0M1666.0 638.5h0M1580.2 645.3h0M1421.2 723.6h0M1582.7 605.4h0M1574.4 594.2h0M1550.7 650.7h0M1465.6 735.1h0M1475.7 625.2h0M1662.8 660.8h0M1476.8 627.2h0M1596.5 667.5h0M1460.8 704.6h0M1437.0 743.6h0M1552.2 689.5h0M1455.8 627.3h0M1550.3 668.1h0M1555.4 567.5h0M1525.4 681.2h0M1613.3 643.1h0M1440.4 607.1h0M1509.0 656.9h0M1579.4 743.5h0M1659.1 657.5h0M1480.7 722.5h0M1456.9 622.6h0M1565.3 644.9h0M1558.9 659.5h0M1632.5 720.2h0M1676.0 626.3h0M1593.7 739.9h0M1395.4 658.4h0M1583.9 681.4h0M1485.2 738.1h0M1497.3 647.1h0M1433.0 698.2h0M1482.3 725.2h0M1543.6 759.5h0M1573.2 699.8h0M1589.0 604.5h0M1631.1 712.4h0M1532.4 739.4h0M1487.9 596.7h0M1662.8 674.7h0M1588.1 709.6h0M1500.5 596.2h0M1460.1 710.3h0M1609.8 578.4h0M1661.2 644.5h0M1516.7 644.6h0M1562.0 639.6h0M1538.0 738.1h0M1547.8 701.8h0M1481.5 683.0h0M1535.1 572.1h0M1430.5 714.4h0M1540.3 647.1h0M1445.0 635.1h0M1518.5 696.4h0M1452.4 720.5h0M1475.4 652.5h0M1533.1 676.7h0M1647.9 590.1h0M1625.1 726.9h0M1592.3 747.7h0M1573.5 581.3h0M1481.1 608.2h0M1592.1 588.4h0M1552.6 582.5h0M1477.7 594.7h0M1561.8 693.8h0M1608.5 638.8h0M1578.7 756.7h0M1431.8 743.5h0M1568.4 659.3h0M1565.7 651.5h0M1565.8 684.2h0M1662.5 609.4h0M1538.5 660.3h0M1455.3 673.6h0M1645.2 582.4h0M1564.1 617.6h0M1558.0 595.1h0M1553.4 612.9h0M1606.4 634.7h0M1534.7 605.3h0M1567.5 619.5h0M1547.0 756.5h0M1540.3 617.7h0M1499.3 689.6h0M1622.5 679.4h0M1595.3 689.8h0M1480.2 661.3h0M1570.4 609.1h0M1599.6 682.9h0M1507.7 637.4h0M1546.7 742.6h0M1434.2 737.1h0M1563.9 653.5h0M1603.5 587.9h0M1499.9 735.5h0M1433.5 742.6h0M1455.2 743.4h0M1626.5 606.7h0M1468.3 728.1h0M1599.4 652.2h0M1638.7 668.6h0M1499.0 732.7h0M1686.2 660.9h0M1533.4 712.8h0M1469.1 654.8h0M1503.7 739.2h0M1599.5 611.3h0M1649.3 645.6h0M1574.6 630.9h0M1659.4 652.0h0M1619.7 583.5h0M1583.9 723.1h0M1569.4 680.3h0M1612.7 632.4h0M1532.6 760.8h0M1571.7 698.6h0M1511.6 599.1h0M1463.0 744.3h0M1549.5 659.6h0M1478.0 628.2h0M1500.7 601.8h0M1446.3 720.8h0M1494.8 754.4h0M1626.6 632.7h0M1600.4 722.1h0M1466.7 626.2h0M1421.6 651.7h0M1665.2 664.4h0M1567.5 638.7h0M1543.3 641.1h0M1650.8 689.6h0M1616.6 696.9h0M1478.4 714.0h0M1685.1 648.0h0M1598.7 731.1h0M1629.0 666.4h0M1646.9 644.6h0M1594.3 623.5h0M1530.0 598.3h0M1693.6 647.4h0M1554.5 631.8h0M1522.7 678.1h0M1633.4 595.4h0M1470.6 635.7h0M1622.1 700.2h0M1649.2 673.4h0M1642.3 619.9h0M1646.8 655.6h0M1678.0 675.9h0M1611.9 695.2h0M1544.7 610.6h0M1613.5 604.9h0M1420.8 717.3h0M1422.8 679.9h0M1523.7 715.0h0M1590.3 622.2h0M1628.8 622.9h0M1605.5 611.9h0M1554.9 626.2h0M1531.3 574.7h0M1533.1 569.2h0M1531.1 765.5h0M1467.2 714.6h0M1577.7 756.9h0M1496.1 613.7h0M1567.2 744.8h0M1597.5 572.3h0M1670.1 655.6h0M1550.6 662.1h0M1537.5 726.8h0M1515.8 611.0h0M1434.1 712.6h0M1509.8 737.7h0M1572.0 579.3h0M1549.9 686.5h0M1414.1 678.0h0M1520.8 753.5h0M1487.4 705.6h0M1603.1 730.4h0M1583.1 607.2h0M1483.3 746.0h0M1463.9 661.0h0M1605.5 593.3h0M1630.0 703.9h0M1393.6 648.7h0M1470.3 722.6h0M1561.3 634.3h0M1612.3 626.0h0M1453.1 748.6h0M1678.8 670.1h0M1550.9 673.8h0M1437.1 659.7h0M1531.3 687.5h0M1614.5 720.5h0M1468.8 660.8h0M1571.5 624.0h0M1649.8 696.0h0M1452.3 650.2h0M1501.2 676.0h0M1595.6 644.2h0M1554.2 685.1h0M1543.6 723.6h0M1676.9 633.5h0M1612.3 639.8h0M1541.6 599.1h0M1570.2 589.1h0M1443.7 632.7h0M1509.7 587.5h0M1500.1 706.5h0M1646.1 681.3h0M1641.6 667.5h0M1614.2 592.8h0M1574.1 593.4h0M1482.3 647.4h0M1445.1 685.6h0M1476.4 707.2h0M1616.4 629.0h0M1416.8 670.1h0M1530.1 742.9h0M1456.9 760.6h0M1557.2 566.8h0M1532.6 682.9h0M1598.6 652.5h0M1621.9 619.9h0M1682.3 664.8h0M1505.0 642.4h0M1453.3 599.9h0M1575.3 702.1h0M1549.0 728.0h0M1461.5 684.6h0M1653.4 694.4h0M1666.4 617.7h0M1408.1 638.1h0M1657.8 651.9h0M1475.3 662.1h0M1627.2 679.2h0M1502.3 657.3h0M1438.9 727.0h0M1504.3 596.4h0M1407.3 669.3h0M1611.4 706.1h0M1530.2 762.9h0M1433.0 713.0h0M1398.1 654.5h0M1667.7 613.2h0M1515.5 638.6h0M1464.0 637.5h0M1599.9 618.0h0M1469.6 745.6h0M1521.3 720.0h0M1683.6 650.5h0M1465.0 755.2h0M1405.0 672.8h0M1425.0 726.7h0M1554.4 632.0h0M1530.7 573.8h0M1507.1 689.1h0M1631.5 710.6h0M1437.9 701.3h0M1566.1 758.1h0M1425.3 627.7h0M1649.3 640.9h0M1581.5 715.5h0M1607.9 657.7h0M1462.9 623.5h0M1538.3 671.3h0M1472.0 626.8h0M1495.2 589.7h0M1642.4 685.1h0M1467.7 615.8h0M1465.8 697.3h0M1524.2 657.1h0M1493.8 752.1h0M1485.9 641.8h0M1558.2 760.0h0M1440.2 689.1h0M1670.6 670.2h0M1506.8 731.3h0M1500.8 645.1h0M1621.9 700.4h0M1629.9 716.3h0M1547.6 595.1h0M1588.0 616.8h0M1554.8 712.2h0M1627.7 721.4h0M1497.1 594.1h0M1554.5 671.6h0M1580.5 676.9h0M1595.8 587.6h0M1482.1 592.7h0M1591.2 594.5h0M1677.9 658.7h0M1561.3 628.7h0M1477.3 700.5h0M1499.6 696.1h0M1456.0 622.1h0M1507.4 658.8h0M1525.9 727.9h0M1636.6 694.5h0M1513.8 623.5h0M1595.6 654.1h0M1568.9 721.1h0M1516.8 625.5h0M1588.2 615.2h0M1549.3 606.5h0M1447.9 690.0h0M1497.9 674.4h0M1507.1 636.3h0M1462.9 691.3h0M1663.2 643.8h0M1494.1 684.0h0M1603.6 705.9h0M1465.3 655.7h0M1404.9 658.5h0M1511.9 657.8h0M1516.4 687.2h0M1477.4 701.6h0M1611.0 601.8h0M1494.0 623.3h0M1580.9 734.4h0M1517.0 596.7h0M1605.7 650.8h0M1567.8 665.1h0M1518.1 679.6h0M1622.7 614.9h0M1669.7 677.3h0M1620.1 638.8h0M1442.4 727.1h0M1560.0 684.7h0M1462.8 707.6h0M1567.4 624.9h0M1467.9 595.5h0M1634.8 669.3h0M1536.1 706.1h0M1573.8 708.0h0M1568.6 664.7h0M1459.7 672.6h0M1474.4 599.8h0M1574.0 686.4h0M1550.6 639.9h0M1476.2 673.8h0M1664.2 660.9h0M1522.7 610.8h0M1424.1 639.0h0M1559.6 656.9h0M1581.8 648.9h0M1460.5 700.1h0M1605.9 707.1h0M1645.7 614.2h0M1696.8 649.7h0M1570.0 603.2h0M1663.5 616.5h0M1543.9 572.5h0M1611.4 585.6h0M1400.3 675.8h0M1514.4 690.0h0M1463.3 759.9h0M1652.9 619.9h0M1602.1 574.6h0M1485.0 607.8h0M1595.9 677.7h0M1403.5 641.4h0M1535.5 723.3h0M1427.2 689.5h0M1640.4 613.4h0M1645.0 669.8h0M1641.2 608.1h0M1628.0 583.8h0M1553.4 594.4h0M1421.7 665.6h0M1488.3 704.8h0M1444.9 684.3h0M1544.0 655.6h0M1623.4 729.0h0M1445.9 731.6h0M1442.9 719.0h0M1698.0 649.6h0M1496.2 593.1h0M1608.1 620.9h0M1633.3 644.6h0M1466.4 668.1h0M1643.6 714.9h0M1502.9 610.7h0M1630.0 638.6h0M1436.7 748.7h0M1633.5 645.7h0M1419.6 662.0h0M1623.4 668.2h0M1650.8 632.9h0M1520.4 641.8h0M1647.7 619.8h0M1523.3 701.4h0M1510.7 714.9h0M1547.3 696.2h0M1601.1 704.2h0M1496.7 641.0h0M1592.0 600.6h0M1578.8 752.8h0M1509.0 593.3h0M1508.0 705.7h0M1503.0 698.8h0M1602.5 592.8h0M1544.2 746.6h0M1466.0 702.1h0M1567.6 599.1h0M1521.6 595.6h0M1587.7 738.1h0M1644.6 636.9h0M1663.3 621.9h0M1566.7 592.6h0M1524.4 623.4h0M1502.7 715.0h0M1429.6 679.1h0M1559.2 602.1h0M1509.9 625.0h0M1505.0 735.5h0M1562.0 590.1h0M1420.7 656.7h0M1536.1 638.7h0M1516.8 680.5h0M1611.4 727.9h0M1517.3 729.9h0M1650.2 673.1h0M1581.0 616.7h0M1527.8 643.4h0M1515.2 655.5h0M1498.3 639.9h0M1454.2 755.3h0M1533.8 575.9h0M1678.9 661.8h0M1587.9 638.8h0M1529.5 571.2h0M1656.5 624.9h0M1497.8 751.0h0M1454.8 603.1h0M1536.9 751.7h0M1422.5 712.5h0M1585.4 743.5h0M1676.9 649.6h0M1534.6 653.6h0M1589.8 668.8h0M1498.2 695.2h0M1674.7 673.9h0M1454.2 618.9h0M1616.1 597.0h0M1502.1 709.7h0M1555.3 634.8h0M1509.3 679.7h0M1509.5 650.6h0M1669.8 615.9h0M1433.8 617.5h0M1408.8 670.9h0M1593.9 606.7h0M1436.0 698.4h0M1507.6 729.8h0M1594.3 656.6h0M1475.6 761.4h0M1480.6 625.5h0M1427.9 640.9h0M1422.4 724.3h0M1642.9 654.6h0M1494.9 708.0h0M1596.2 578.4h0M1538.3 675.0h0M1576.6 730.6h0M1562.0 723.3h0M1558.8 635.6h0M1433.6 665.9h0M1447.6 602.5h0M1622.5 618.2h0M1622.6 695.6h0M1576.2 646.4h0M1551.0 729.3h0M1594.2 721.0h0M1573.5 602.6h0M1532.2 688.2h0M1451.0 727.2h0M1511.2 762.7h0M1396.0 668.9h0M1420.0 673.2h0M1398.0 656.1h0M1578.5 688.6h0M1524.0 735.7h0M1606.2 664.0h0M1521.6 672.0h0M1442.5 730.1h0M1427.7 680.2h0M1593.6 608.4h0M1591.2 717.6h0M1503.7 719.6h0M1429.1 721.0h0M1486.5 731.2h0M1488.5 748.7h0M1457.9 666.4h0M1621.8 681.2h0M1464.6 709.3h0M1582.5 571.2h0M1579.3 734.7h0M1696.0 640.5h0M1479.6 609.5h0M1606.9 627.0h0M1442.4 643.2h0M1542.2 582.6h0M1589.6 621.3h0M1546.3 710.7h0M1551.5 669.9h0M1606.5 585.1h0M1398.6 666.0h0M1471.8 752.6h0M1506.9 681.1h0M1584.2 689.8h0M1440.4 626.0h0M1523.9 701.4h0M1476.5 661.4h0M1491.6 639.3h0M1626.6 571.9h0M1568.8 623.3h0M1458.1 618.4h0M1547.5 668.8h0M1549.3 586.8h0M1528.3 614.4h0M1554.5 761.3h0M1520.3 653.9h0M1483.8 702.1h0M1649.1 682.9h0M1451.5 676.2h0M1494.7 709.0h0M1440.2 751.4h0M1484.4 711.6h0M1480.0 677.4h0M1508.4 730.1h0M1529.9 584.1h0M1427.6 698.8h0M1539.5 601.9h0M1476.3 657.2h0M1548.0 699.2h0M1457.6 760.8h0M1467.7 702.8h0M1629.5 666.6h0M1573.1 641.4h0M1426.6 725.3h0M1493.1 615.3h0M1504.1 610.1h0M1457.3 682.7h0M1451.8 651.6h0M1535.1 580.2h0M1479.2 710.1h0M1585.1 751.7h0M1491.2 605.1h0M1646.9 695.6h0M1594.7 629.8h0M1574.3 651.0h0M1587.9 607.1h0M1422.3 642.7h0M1428.0 697.0h0M1568.4 590.1h0M1513.9 621.2h0M1594.7 660.6h0M1634.8 664.7h0M1400.0 657.1h0M1422.8 681.8h0M1422.3 670.1h0M1565.4 732.7h0M1503.0 638.3h0M1672.2 681.8h0M1592.8 634.7h0M1499.4 595.7h0M1457.0 639.6h0M1583.5 661.8h0M1506.0 638.2h0M1655.6 636.9h0M1578.3 592.8h0M1605.3 661.4h0M1555.4 750.0h0M1547.2 582.7h0M1569.4 596.3h0M1573.5 731.7h0M1638.1 657.6h0M1463.7 701.1h0M1508.9 607.7h0M1438.9 606.3h0M1492.0 606.7h0M1619.2 569.9h0M1555.5 568.5h0M1606.4 715.0h0M1495.6 752.4h0M1554.6 725.7h0M1553.6 579.5h0M1487.1 592.2h0M1525.8 634.0h0M1625.7 624.8h0M1678.8 670.4h0M1662.1 631.9h0M1567.8 664.7h0M1555.0 715.1h0M1403.1 636.9h0M1532.0 757.9h0M1423.5 680.3h0M1627.9 664.6h0M1687.2 670.6h0M1562.1 601.1h0M1559.5 685.5h0M1555.4 676.8h0M1659.0 659.9h0M1522.1 736.2h0M1611.8 663.2h0M1567.2 620.7h0M1457.1 718.6h0M1442.2 691.4h0M1557.7 721.7h0M1450.2 750.5h0M1547.1 693.5h0M1527.2 621.5h0M1612.5 687.7h0M1625.6 700.6h0M1530.2 727.2h0M1624.9 667.3h0M1464.0 651.4h0M1544.3 574.9h0M1622.5 588.8h0M1606.9 646.7h0M1627.5 694.2h0M1655.8 638.5h0M1490.9 704.1h0M1607.5 670.6h0M1575.8 650.6h0M1561.6 682.5h0M1531.1 714.4h0M1498.0 754.1h0M1442.3 709.0h0M1444.7 648.2h0M1585.6 669.0h0M1488.7 659.7h0M1610.4 611.1h0M1459.4 626.5h0M1491.7 589.7h0M1654.3 619.8h0M1672.1 624.2h0M1533.1 658.1h0M1441.0 680.0h0M1434.4 727.5h0M1459.2 710.2h0M1409.6 640.4h0M1396.1 664.4h0M1506.9 594.1h0M1605.9 593.1h0M1453.6 715.1h0M1399.8 639.6h0M1517.9 628.9h0M1633.2 582.8h0M1492.9 609.3h0M1427.9 655.6h0M1532.1 651.3h0M1402.1 652.9h0M1443.6 646.4h0M1653.7 675.0h0M1531.0 752.8h0M1510.4 603.8h0M1462.9 695.2h0M1580.0 725.1h0M1469.4 641.9h0M1548.2 713.6h0M1553.3 615.7h0M1644.9 636.9h0M1433.6 681.3h0M1602.0 618.9h0M1453.0 690.8h0M1600.7 654.3h0M1423.8 704.6h0M1539.5 702.5h0M1587.2 725.6h0M1572.2 685.8h0M1480.6 636.9h0M1546.2 627.8h0M1623.7 638.4h0M1511.8 713.9h0M1475.5 618.6h0M1500.2 757.4h0M1578.2 703.2h0M1569.5 578.7h0M1568.8 593.8h0M1587.1 692.1h0M1666.5 675.4h0M1675.6 633.8h0M1650.8 595.4h0M1579.5 665.7h0M1552.7 571.8h0M1583.6 659.9h0M1663.2 633.6h0M1578.8 622.8h0M1687.9 657.1h0M1650.6 621.9h0M1536.1 626.6h0M1588.7 750.4h0M1505.5 683.6h0M1575.0 708.1h0M1665.7 623.2h0M1576.2 738.2h0M1516.8 639.5h0M1423.8 633.6h0M1528.2 744.4h0M1582.9 702.8h0M1588.7 693.6h0M1583.1 600.2h0M1671.8 664.2h0M1547.5 640.9h0M1535.7 713.9h0M1487.2 694.9h0M1477.8 673.0h0M1537.9 629.3h0M1596.3 602.4h0M1461.9 681.8h0M1626.6 681.5h0M1610.3 706.2h0M1551.6 622.9h0M1622.8 622.3h0M1537.6 599.1h0M1506.2 732.0h0M1562.5 722.3h0M1512.3 712.2h0M1647.8 660.3h0M1539.8 730.3h0M1524.6 756.6h0M1579.2 651.5h0M1619.8 573.4h0M1469.5 629.8h0M1561.1 586.4h0M1527.4 629.7h0M1467.5 640.9h0M1456.4 667.7h0M1631.5 655.0h0M1563.5 634.4h0M1486.0 607.8h0M1529.5 716.6h0M1489.3 759.1h0M1484.6 644.4h0" stroke="#a83a8e" stroke-width="2.25" stroke-linecap="round" fill="none"/><path d="M1554.9 645.8h0M1483.3 759.3h0M1472.0 728.3h0M1475.4 663.0h0M1500.5 696.0h0M1509.0 696.2h0M1450.9 603.8h0M1476.6 702.2h0M1514.5 718.8h0M1550.2 760.9h0M1588.0 676.3h0M1529.7 601.6h0M1500.8 654.6h0M1518.8 683.1h0M1540.5 677.0h0M1684.5 641.6h0M1480.9 692.5h0M1625.0 636.4h0M1527.8 725.1h0M1467.4 614.6h0M1525.2 732.9h0M1446.4 725.4h0M1571.4 570.7h0M1451.9 700.5h0M1434.2 682.0h0M1467.0 652.6h0M1545.5 585.3h0M1554.0 583.3h0M1577.9 590.8h0M1416.6 649.2h0M1618.0 679.3h0M1475.2 753.5h0M1492.1 708.0h0M1442.2 618.2h0M1436.6 629.2h0M1505.5 754.8h0M1512.1 710.4h0M1496.5 621.0h0M1640.0 661.3h0M1578.7 599.5h0M1527.9 601.0h0M1486.7 736.5h0M1547.3 679.1h0M1508.7 742.8h0M1473.9 599.2h0M1615.6 599.4h0M1581.8 701.5h0M1586.9 610.0h0M1470.6 684.8h0M1652.6 611.3h0M1492.6 735.4h0M1530.8 575.9h0M1482.3 674.8h0M1469.5 735.9h0M1605.5 583.6h0M1470.8 701.8h0M1601.8 629.6h0M1400.1 664.4h0M1423.3 665.1h0M1524.0 665.1h0M1512.0 659.2h0M1568.3 675.8h0M1609.6 621.3h0M1443.9 653.5h0M1471.9 682.3h0M1605.3 665.2h0M1664.0 667.8h0M1544.6 630.8h0M1622.3 708.3h0M1534.8 630.8h0M1476.1 635.6h0M1639.1 666.3h0M1547.6 762.9h0M1450.8 607.1h0M1541.9 576.3h0M1570.7 690.5h0M1499.0 730.3h0M1452.1 756.4h0M1580.6 615.8h0M1612.4 696.0h0M1608.2 729.7h0M1573.6 682.9h0M1473.3 653.7h0M1412.9 650.1h0M1428.1 649.0h0M1521.5 684.7h0M1566.9 702.1h0M1427.1 687.7h0M1491.1 758.0h0M1444.5 723.8h0M1559.9 750.1h0M1478.0 761.0h0M1437.2 729.4h0M1517.9 634.0h0M1429.8 727.6h0M1662.3 655.9h0M1530.9 656.2h0M1590.5 599.4h0M1584.0 673.6h0M1613.1 601.1h0M1468.2 599.3h0M1570.5 570.7h0M1542.3 594.5h0M1491.8 611.9h0M1601.2 572.4h0M1548.0 710.3h0M1600.5 628.8h0M1598.7 652.1h0M1627.8 612.8h0M1596.6 720.1h0M1472.7 598.2h0M1507.7 667.9h0M1561.4 639.2h0M1451.6 606.3h0M1556.0 726.6h0M1456.8 694.2h0M1564.9 670.3h0M1599.0 745.8h0M1480.4 744.9h0M1579.5 636.4h0M1575.8 644.0h0M1617.2 666.7h0M1431.9 688.9h0M1592.0 669.1h0M1607.9 643.5h0M1444.6 608.7h0M1478.3 609.7h0M1568.0 650.9h0M1445.0 749.2h0M1501.3 753.2h0M1646.1 591.8h0M1438.6 629.3h0M1419.5 688.4h0M1519.8 580.8h0M1674.4 657.0h0M1637.3 655.5h0M1456.8 744.9h0M1437.5 645.3h0M1546.2 638.5h0M1529.4 662.4h0M1602.7 586.4h0M1521.6 717.3h0M1587.2 618.4h0M1495.7 654.4h0M1514.4 706.8h0M1549.3 604.0h0M1677.8 631.1h0M1564.8 660.1h0M1419.7 648.4h0M1555.8 577.4h0M1445.3 674.7h0M1488.9 693.5h0M1465.3 723.2h0M1484.8 757.8h0M1531.8 721.9h0M1405.1 658.6h0M1594.3 666.3h0M1606.9 582.5h0M1488.0 605.3h0M1464.0 595.8h0M1561.9 588.2h0M1444.5 716.1h0M1531.0 694.1h0M1524.9 682.3h0M1607.4 645.5h0M1558.4 733.7h0M1623.6 583.8h0M1625.2 575.7h0M1469.3 731.0h0M1416.1 625.4h0M1552.4 587.0h0M1450.1 720.7h0M1504.9 668.7h0M1600.9 576.5h0M1582.1 659.5h0M1428.3 640.8h0M1430.4 650.2h0M1455.9 702.1h0M1636.0 621.1h0M1632.7 592.8h0M1635.1 656.1h0M1595.6 621.6h0M1580.0 704.2h0M1523.7 678.3h0M1682.6 658.7h0M1476.6 668.5h0M1430.7 690.3h0M1586.0 722.5h0M1481.9 590.5h0M1527.1 712.1h0M1611.7 678.8h0M1492.8 608.2h0M1485.5 628.5h0M1531.3 747.2h0M1528.4 731.7h0M1504.8 640.0h0M1689.3 641.3h0M1688.6 641.1h0M1463.5 594.4h0M1528.7 637.5h0M1617.9 671.5h0M1448.9 617.1h0M1566.2 718.4h0M1511.1 737.3h0M1445.5 713.6h0M1589.1 647.8h0M1425.6 703.3h0M1669.9 676.6h0M1573.6 647.3h0M1539.6 601.7h0M1572.9 569.9h0M1639.8 665.5h0M1467.4 724.1h0M1471.4 679.4h0M1495.5 680.3h0M1627.1 611.8h0M1509.3 664.1h0M1467.3 610.1h0M1393.8 666.8h0M1457.7 708.2h0M1507.1 615.3h0M1644.5 707.2h0M1652.0 658.0h0M1539.0 751.8h0M1573.9 649.6h0M1604.2 624.1h0M1524.3 696.0h0M1467.1 609.2h0M1447.7 676.1h0M1452.6 732.4h0M1622.5 718.1h0M1508.2 700.1h0M1509.7 630.3h0M1586.7 661.2h0M1527.8 584.8h0M1500.6 662.0h0M1583.2 668.4h0M1457.6 656.1h0M1459.3 646.7h0M1603.3 624.3h0M1621.2 625.3h0M1463.1 640.4h0M1514.7 632.8h0M1461.0 606.6h0M1451.8 665.3h0M1483.3 616.6h0M1572.5 719.9h0M1496.2 758.4h0M1644.9 663.0h0M1454.0 606.9h0M1539.9 730.8h0M1531.0 624.6h0M1590.3 749.9h0M1533.7 760.7h0M1451.8 692.1h0M1455.1 655.5h0M1395.6 656.5h0M1398.4 652.0h0M1559.4 663.0h0M1469.7 675.1h0M1523.8 662.6h0M1484.9 639.5h0M1640.3 680.3h0M1471.4 742.5h0M1594.3 716.3h0M1481.7 665.2h0M1577.2 589.7h0M1598.8 655.2h0M1492.2 728.2h0M1473.9 693.7h0M1444.9 630.8h0M1473.1 662.7h0M1440.9 664.5h0M1407.5 663.9h0M1515.4 698.2h0M1603.2 708.8h0M1457.1 705.2h0M1522.2 635.5h0M1584.9 749.4h0M1470.0 603.9h0M1554.1 650.1h0M1542.6 616.6h0M1574.9 649.5h0M1521.7 596.2h0M1415.5 665.0h0M1542.6 630.0h0M1409.9 648.7h0M1530.7 630.6h0M1454.7 721.5h0M1446.0 648.5h0M1596.3 653.7h0M1401.4 651.1h0M1556.1 572.8h0M1521.1 680.5h0M1540.5 621.7h0M1627.6 620.6h0M1498.3 710.6h0M1484.2 593.6h0M1441.6 623.5h0M1558.9 625.7h0M1548.7 715.9h0M1600.6 618.5h0M1436.2 640.0h0M1556.4 716.6h0M1552.2 604.8h0M1518.7 682.6h0M1550.8 713.4h0M1526.7 678.7h0M1676.6 625.6h0M1502.3 656.5h0M1452.8 723.6h0M1430.3 664.8h0M1549.0 701.5h0M1443.2 678.2h0M1494.4 627.3h0M1533.0 571.3h0M1541.7 749.0h0M1666.3 638.8h0M1532.3 623.8h0M1438.0 718.1h0M1491.6 752.6h0M1519.9 632.5h0M1534.6 597.7h0M1592.0 631.3h0M1480.9 626.1h0M1548.0 573.8h0M1538.5 673.3h0M1427.2 651.2h0M1486.2 608.0h0M1494.5 755.8h0M1506.5 687.7h0M1566.8 704.2h0M1543.4 695.4h0M1406.2 666.9h0M1522.8 710.9h0M1435.3 637.7h0M1452.5 682.1h0M1550.0 625.2h0M1452.3 666.1h0M1444.4 654.1h0M1552.7 582.3h0M1438.3 712.6h0M1553.2 738.2h0M1460.9 627.7h0M1501.7 613.4h0M1515.2 747.1h0M1513.3 615.5h0M1549.9 647.4h0M1629.6 630.1h0M1453.5 738.0h0M1505.1 703.4h0M1484.4 759.6h0M1468.1 662.4h0M1461.0 744.5h0M1500.4 644.8h0M1595.9 594.8h0M1568.1 574.1h0M1527.7 652.5h0M1588.8 572.5h0M1550.3 692.4h0M1562.0 611.2h0M1644.4 700.5h0M1442.7 644.4h0M1450.5 647.6h0M1519.5 660.6h0M1418.3 681.1h0M1485.4 697.2h0M1464.1 748.2h0M1511.7 707.5h0M1420.8 706.4h0M1533.8 726.0h0M1420.9 723.6h0M1434.4 744.6h0M1607.9 657.8h0M1436.3 729.1h0M1515.3 720.3h0M1479.7 742.0h0M1465.4 732.4h0M1593.6 712.4h0M1553.1 667.3h0M1446.3 660.9h0M1444.1 622.8h0M1520.4 598.6h0M1449.7 748.1h0M1518.1 648.4h0M1557.2 764.2h0M1506.5 589.5h0M1514.5 761.9h0M1445.4 692.1h0M1426.5 625.7h0M1475.6 716.0h0M1537.7 632.0h0M1495.1 761.6h0M1593.4 653.4h0M1498.4 631.6h0M1448.4 750.0h0M1451.7 710.5h0M1626.4 625.1h0M1507.4 688.3h0M1490.8 626.1h0M1561.5 646.0h0M1545.0 734.8h0M1490.6 599.3h0M1445.2 738.9h0M1472.4 752.4h0M1542.6 706.3h0M1457.6 719.9h0M1554.4 618.1h0M1530.5 712.6h0M1434.5 616.8h0M1593.9 594.7h0M1482.1 607.7h0M1599.7 580.6h0M1447.4 642.4h0M1524.2 741.3h0M1489.5 656.6h0M1450.7 623.7h0M1547.7 699.0h0M1661.9 618.0h0M1487.0 673.7h0M1594.2 733.1h0M1420.8 668.6h0M1480.6 634.5h0M1424.3 702.4h0M1575.3 598.4h0M1545.5 576.2h0M1522.9 709.8h0M1572.2 726.0h0M1504.9 673.4h0M1447.8 658.8h0M1463.2 641.3h0M1565.3 668.4h0M1494.7 686.6h0M1480.2 760.9h0M1423.9 680.0h0M1488.7 712.8h0M1472.9 695.8h0M1499.2 613.0h0M1450.1 673.3h0M1520.6 694.0h0M1413.4 627.5h0M1509.1 669.7h0M1586.2 698.8h0M1511.2 679.6h0M1500.0 594.7h0M1394.5 650.4h0M1568.2 632.2h0M1539.0 596.1h0M1543.1 647.1h0M1486.1 662.4h0M1500.4 589.6h0M1466.7 607.8h0M1564.4 589.0h0M1516.8 745.5h0M1556.4 615.5h0M1493.1 748.5h0M1582.4 711.6h0M1417.9 716.5h0M1521.7 650.4h0M1423.0 672.9h0M1614.1 572.8h0M1535.6 669.2h0M1430.9 714.3h0M1476.0 628.8h0M1498.4 591.2h0M1520.8 615.1h0M1525.5 594.4h0M1474.0 749.2h0M1445.1 622.9h0M1566.4 708.9h0M1455.4 695.2h0M1487.9 680.1h0M1442.1 745.7h0M1584.2 641.3h0M1624.1 594.5h0M1533.0 753.8h0M1622.8 651.3h0M1452.7 742.9h0M1449.5 602.2h0M1631.8 724.5h0M1618.9 626.7h0M1606.4 585.6h0M1485.5 693.7h0M1519.8 650.1h0M1552.7 629.2h0M1616.6 587.6h0M1494.9 722.7h0M1565.7 567.6h0M1426.2 667.2h0M1437.9 666.4h0M1471.5 681.3h0M1542.4 610.7h0M1583.0 644.7h0M1512.0 701.8h0M1528.7 728.0h0M1480.4 670.0h0M1483.6 710.4h0M1426.4 659.4h0M1592.4 707.0h0M1489.9 743.7h0M1576.2 730.5h0M1464.9 677.5h0M1443.7 604.2h0M1538.2 624.6h0M1500.7 648.9h0M1632.5 658.5h0M1580.3 621.0h0M1544.9 630.9h0M1571.6 759.3h0M1545.0 710.6h0M1493.7 724.9h0M1519.7 673.2h0M1491.2 618.1h0M1505.1 585.2h0M1490.8 739.9h0M1561.9 624.1h0M1578.1 681.5h0M1515.9 730.8h0M1482.7 729.5h0M1516.7 645.1h0M1481.3 687.7h0M1602.3 711.3h0M1417.2 664.5h0M1443.4 611.3h0M1637.9 717.8h0M1641.1 633.7h0M1507.2 715.3h0M1430.7 619.8h0M1481.0 629.2h0M1424.1 671.6h0M1455.1 681.7h0M1483.6 732.0h0M1428.7 729.8h0M1468.1 713.0h0M1579.1 617.5h0M1539.4 729.6h0M1582.9 605.9h0" stroke="#f2c23a" stroke-width="2.25" stroke-linecap="round" fill="none"/><path d="M1580.4 611.3h0M1473.6 621.3h0M1568.7 603.4h0M1439.0 733.9h0M1593.6 743.6h0M1539.6 575.8h0M1652.0 683.3h0M1490.9 705.2h0M1608.3 602.6h0M1632.5 573.6h0M1632.6 656.8h0M1422.0 730.8h0M1488.2 725.3h0M1485.1 746.5h0M1492.5 719.7h0M1540.0 622.6h0M1518.6 761.3h0M1517.7 758.1h0M1427.0 618.5h0M1450.9 642.9h0M1493.4 715.9h0M1509.1 588.5h0M1443.3 709.9h0M1493.4 664.6h0M1649.0 660.0h0M1459.5 602.4h0M1590.4 743.7h0M1408.4 657.3h0M1636.2 678.6h0M1432.8 703.3h0M1477.6 644.5h0M1564.6 643.9h0M1653.4 669.2h0M1478.8 685.4h0M1556.0 741.3h0M1514.6 624.5h0M1432.0 700.1h0M1412.0 667.1h0M1515.6 693.4h0M1520.1 644.0h0M1526.3 583.4h0M1492.2 596.2h0M1476.1 623.9h0M1508.6 618.1h0M1478.9 621.1h0M1423.7 619.0h0M1520.8 717.5h0M1449.8 711.1h0M1598.0 595.1h0M1514.6 681.9h0M1516.5 698.6h0M1407.2 649.8h0M1502.3 610.8h0M1537.9 715.1h0M1674.7 625.1h0M1593.3 615.6h0M1572.2 649.4h0M1442.5 717.6h0M1624.9 670.9h0M1427.9 657.5h0M1453.9 749.2h0M1451.0 598.2h0M1541.8 607.9h0M1454.5 624.2h0M1514.8 656.3h0M1638.7 624.0h0M1507.8 752.5h0M1560.1 714.8h0M1437.1 637.7h0M1403.9 673.4h0M1447.5 710.4h0M1465.5 597.5h0M1442.9 705.6h0M1442.5 632.9h0M1476.0 643.5h0M1497.7 629.4h0M1634.8 722.2h0M1452.5 666.3h0M1467.5 729.8h0M1621.3 636.1h0M1482.7 757.1h0M1461.2 607.8h0M1430.4 660.1h0M1647.1 650.1h0M1518.4 711.1h0M1519.6 749.3h0M1465.8 719.3h0M1456.3 618.2h0M1523.4 693.5h0M1476.1 757.7h0M1444.6 659.0h0M1463.1 740.6h0M1577.5 591.1h0M1605.8 731.6h0M1599.8 678.2h0M1418.4 631.7h0M1457.6 652.7h0M1501.6 623.8h0M1548.1 611.3h0M1629.6 652.9h0M1568.3 619.6h0M1479.5 646.5h0M1599.1 737.0h0M1423.9 668.3h0M1500.4 623.9h0M1523.3 703.1h0M1443.7 616.7h0M1567.6 722.3h0M1599.7 737.1h0M1543.5 594.9h0M1543.6 611.7h0M1442.0 733.9h0M1566.5 694.8h0M1491.7 672.3h0M1519.8 719.5h0M1585.0 681.9h0M1583.3 650.8h0M1418.3 655.4h0M1672.7 635.1h0M1573.8 623.3h0M1570.4 709.3h0M1522.9 576.9h0M1608.4 573.1h0M1575.6 575.2h0M1440.8 649.6h0M1402.5 674.5h0M1453.1 604.1h0M1452.7 731.2h0M1435.5 676.0h0M1652.0 656.5h0M1659.1 640.2h0M1487.3 672.5h0M1458.2 603.5h0M1537.5 730.0h0M1489.9 679.9h0M1525.7 662.7h0M1520.3 603.8h0M1630.6 631.8h0M1473.1 622.5h0M1457.4 670.9h0M1517.3 750.4h0M1644.6 584.8h0M1461.7 719.2h0M1516.3 730.6h0M1508.9 674.8h0M1449.9 658.3h0M1463.9 694.2h0M1539.9 654.0h0M1465.6 704.5h0M1407.8 662.4h0M1620.9 685.2h0M1416.5 676.6h0M1578.6 648.6h0M1480.7 711.3h0M1477.3 605.0h0M1493.8 636.7h0M1601.3 612.3h0M1440.2 632.9h0M1562.3 710.4h0M1484.6 698.0h0M1513.0 674.9h0M1426.0 726.0h0M1444.9 662.4h0M1540.8 636.8h0M1474.1 738.9h0M1475.9 606.3h0M1588.2 715.4h0M1465.6 713.0h0M1521.9 719.4h0M1629.6 671.2h0M1454.5 705.1h0M1518.2 639.5h0M1651.4 619.7h0M1585.4 573.8h0M1483.5 678.2h0M1449.8 666.5h0M1659.0 687.8h0M1599.5 601.5h0M1514.9 697.0h0M1559.1 688.5h0M1602.3 650.8h0M1418.4 685.9h0M1467.9 682.5h0M1569.9 658.4h0M1608.3 622.7h0M1568.2 618.9h0M1468.5 717.8h0M1487.3 754.7h0M1605.9 628.4h0M1513.6 637.6h0M1495.6 700.3h0M1617.6 686.5h0M1666.2 616.7h0M1537.8 759.1h0M1561.0 581.9h0M1618.2 690.8h0M1509.0 589.2h0M1576.8 666.7h0M1566.1 756.8h0M1478.0 675.2h0M1560.4 567.4h0M1471.6 744.2h0M1558.7 687.1h0M1601.1 703.2h0M1507.5 681.9h0M1550.9 651.8h0M1431.9 619.7h0M1526.0 708.0h0M1586.1 625.0h0M1583.0 611.0h0M1589.2 746.6h0M1575.5 603.2h0M1524.9 642.6h0M1528.9 752.8h0M1476.8 718.4h0M1609.4 655.9h0M1498.0 635.1h0M1627.7 686.3h0M1472.5 760.6h0M1458.2 667.9h0M1439.2 752.4h0M1446.1 746.4h0M1478.8 658.4h0M1498.5 672.0h0M1567.4 714.5h0M1470.2 611.7h0M1452.4 600.7h0M1403.0 637.2h0M1643.9 607.7h0M1475.1 702.8h0M1488.9 612.9h0M1506.3 608.6h0M1547.3 730.2h0M1462.8 614.3h0M1461.7 609.9h0M1612.5 656.1h0M1474.2 726.9h0M1634.5 608.2h0M1528.3 698.1h0M1553.8 722.8h0M1445.7 659.3h0M1408.4 661.1h0M1561.7 724.1h0M1459.1 599.7h0M1470.5 624.9h0M1401.8 644.3h0M1415.8 666.1h0M1412.3 671.2h0M1546.6 646.5h0M1611.3 613.5h0M1512.6 721.8h0M1528.1 661.3h0M1534.7 615.1h0M1616.1 636.5h0M1427.0 683.4h0M1519.4 697.5h0M1438.1 726.8h0M1403.7 649.3h0M1472.8 699.5h0M1498.0 715.7h0M1436.1 621.8h0M1512.5 655.3h0M1426.7 720.7h0M1540.9 578.0h0M1615.6 591.3h0M1531.3 585.8h0M1510.3 719.1h0M1469.1 711.3h0M1512.6 736.8h0M1516.0 716.3h0M1441.1 604.9h0M1411.7 666.5h0M1450.9 703.2h0M1576.3 721.5h0M1529.6 718.5h0M1428.3 689.0h0M1574.0 735.8h0M1467.4 733.7h0M1538.3 654.8h0M1558.1 650.1h0M1425.8 678.4h0M1396.0 667.4h0M1465.8 623.5h0M1439.0 662.9h0M1452.1 736.2h0M1552.6 569.9h0M1437.2 665.3h0M1503.1 663.1h0M1530.8 601.6h0M1583.3 621.2h0M1488.1 748.6h0M1639.5 636.4h0M1499.8 629.8h0M1430.6 742.3h0M1573.5 655.9h0M1435.6 658.1h0M1627.1 702.8h0M1481.2 637.0h0M1585.6 651.3h0M1562.0 635.6h0M1602.9 596.0h0M1389.8 658.7h0M1610.8 582.5h0M1409.2 645.9h0M1499.8 693.9h0M1522.0 620.0h0M1514.8 598.1h0M1696.8 649.4h0M1439.4 701.9h0M1439.2 605.0h0M1486.7 632.6h0M1595.0 620.0h0M1448.3 662.3h0M1555.5 710.1h0M1585.1 724.0h0M1521.2 730.1h0M1421.7 640.7h0M1469.8 611.4h0M1455.6 659.2h0M1559.9 653.0h0M1395.4 656.4h0M1499.7 637.5h0M1604.1 667.3h0M1599.8 583.9h0M1464.2 695.0h0M1462.1 728.4h0M1430.6 710.1h0M1437.6 696.5h0M1500.2 687.6h0M1526.0 654.1h0M1464.1 650.4h0M1416.2 678.9h0M1496.6 681.7h0M1548.7 694.6h0" stroke="#e89a30" stroke-width="2.25" stroke-linecap="round" fill="none"/><path d="M1622.6 596.2h0M1436.5 671.3h0M1632.1 657.5h0M1559.6 593.0h0M1563.5 672.9h0M1434.1 726.7h0M1520.4 622.1h0M1615.3 729.1h0M1421.1 650.6h0M1577.6 727.9h0M1497.9 704.3h0M1530.1 610.1h0M1546.7 733.9h0M1428.4 675.2h0M1427.0 730.1h0M1604.9 592.1h0M1473.2 630.3h0M1493.7 737.0h0M1503.4 635.2h0M1539.6 742.0h0M1582.6 655.4h0M1468.9 628.7h0M1487.0 693.3h0M1585.0 622.9h0M1563.9 749.3h0M1477.8 705.4h0M1453.7 739.8h0M1572.9 754.9h0M1452.4 651.3h0M1417.9 639.0h0M1517.3 642.7h0M1455.1 640.9h0M1457.0 629.4h0M1575.4 666.1h0M1594.4 569.4h0M1468.3 708.4h0M1587.3 684.1h0M1599.1 569.3h0M1451.3 615.7h0M1460.1 624.0h0M1500.2 734.3h0M1544.1 658.7h0M1604.1 741.5h0M1505.2 611.7h0M1441.2 698.1h0M1427.6 704.5h0M1467.1 713.9h0M1423.9 660.8h0M1422.5 729.7h0M1560.4 725.1h0M1537.3 688.5h0M1540.8 718.7h0M1428.6 697.8h0M1609.8 585.8h0M1567.2 615.2h0M1425.3 681.0h0M1613.6 688.5h0M1551.8 566.8h0M1503.9 710.3h0M1533.5 661.2h0M1440.4 702.8h0M1504.7 634.0h0M1529.1 645.7h0M1607.4 740.6h0M1417.6 631.8h0M1429.3 682.7h0M1551.1 632.5h0M1516.5 745.5h0M1617.6 668.9h0M1586.7 732.9h0M1523.2 673.9h0M1630.7 701.9h0M1469.9 709.1h0M1554.3 723.2h0M1505.3 745.8h0M1550.8 758.7h0M1472.7 625.7h0M1462.6 675.7h0M1453.3 645.0h0M1427.1 654.4h0M1535.2 727.6h0M1581.9 577.5h0M1655.0 616.3h0M1600.1 595.3h0M1506.9 650.7h0M1469.4 632.0h0M1531.1 715.3h0M1549.4 593.4h0M1513.5 718.2h0M1452.5 738.2h0M1599.5 701.2h0M1542.5 620.6h0M1436.9 658.1h0M1625.5 653.2h0M1480.9 699.5h0M1617.2 627.7h0M1539.8 584.4h0M1608.5 713.1h0M1392.6 665.3h0M1663.7 684.7h0M1528.0 738.4h0M1488.8 655.7h0M1542.4 644.9h0M1473.8 599.9h0M1505.2 672.2h0M1445.0 723.3h0M1547.1 656.6h0M1601.9 664.5h0M1433.4 739.5h0M1404.3 667.1h0M1455.8 610.6h0M1469.4 685.3h0M1609.6 701.6h0M1397.0 671.6h0M1495.7 608.5h0M1509.9 760.2h0M1480.5 629.8h0M1550.4 654.3h0M1475.4 703.0h0M1442.5 619.1h0M1443.4 704.0h0M1467.8 737.2h0M1549.8 750.3h0M1525.5 637.3h0M1475.0 602.6h0M1527.7 629.0h0M1512.7 684.6h0M1665.3 636.1h0M1448.8 715.5h0M1565.2 672.1h0M1573.0 748.1h0M1597.9 602.7h0M1507.4 637.3h0M1563.9 573.2h0M1565.3 592.3h0M1416.2 666.7h0M1460.2 602.1h0M1578.4 580.2h0M1494.5 748.5h0M1462.3 695.1h0M1586.9 626.8h0M1556.2 582.2h0M1509.1 593.2h0M1487.4 761.8h0M1572.0 581.1h0M1556.3 711.9h0M1420.0 651.1h0M1495.8 680.8h0M1471.3 757.9h0M1539.2 750.4h0M1629.6 653.6h0M1475.0 599.7h0M1467.6 707.6h0M1428.8 710.4h0M1460.8 726.2h0M1462.5 708.8h0M1604.0 693.1h0M1445.5 664.6h0M1494.0 711.3h0M1458.7 740.6h0M1443.9 728.2h0M1648.2 661.7h0M1441.4 723.8h0M1399.1 650.9h0M1443.4 652.2h0M1501.0 592.1h0M1542.3 599.8h0M1645.9 702.4h0M1427.0 689.7h0M1488.5 603.5h0M1436.2 664.2h0M1477.3 688.7h0M1459.1 642.1h0M1566.4 622.6h0M1496.0 652.8h0M1473.2 754.6h0M1440.5 614.2h0M1469.2 638.8h0M1504.3 665.6h0M1580.9 614.2h0M1579.5 698.0h0M1413.2 641.0h0M1517.3 718.9h0M1420.8 668.6h0M1495.0 735.2h0M1544.9 573.3h0M1483.9 658.0h0M1610.3 612.4h0M1652.8 642.5h0M1475.1 676.1h0M1455.8 706.1h0M1398.7 643.4h0M1628.2 695.8h0M1524.9 639.2h0M1588.9 743.0h0M1556.8 700.0h0M1397.5 650.6h0M1644.7 651.7h0M1520.3 672.3h0M1659.1 614.5h0M1553.8 756.4h0M1568.5 612.7h0M1656.2 606.1h0M1443.1 706.8h0M1629.8 573.3h0M1442.2 660.1h0M1513.0 739.8h0M1471.9 676.4h0M1455.1 717.0h0M1548.0 586.1h0M1534.4 751.0h0M1453.3 634.8h0M1649.9 593.4h0M1397.5 673.3h0M1521.4 650.7h0M1626.6 619.0h0M1587.4 733.5h0M1497.5 707.0h0M1427.5 718.5h0M1679.5 624.8h0M1484.5 593.1h0M1436.5 745.6h0M1545.5 742.9h0M1423.2 624.0h0M1540.7 670.5h0M1515.8 687.2h0M1637.2 696.2h0M1436.1 632.4h0M1495.9 598.2h0M1502.8 669.6h0M1540.0 720.9h0M1455.6 733.2h0M1449.1 689.2h0M1453.2 726.1h0M1557.7 727.8h0M1404.1 635.6h0M1580.5 700.0h0M1560.1 735.2h0M1541.0 716.2h0M1410.2 639.8h0M1568.8 650.0h0M1584.0 602.5h0M1438.5 712.1h0M1418.9 662.2h0M1468.4 752.5h0M1606.5 638.5h0M1461.7 754.2h0M1536.1 620.5h0M1443.2 732.7h0M1477.2 683.0h0M1467.4 751.0h0M1615.2 627.4h0M1525.4 734.0h0M1544.5 763.1h0M1528.3 686.3h0M1549.9 662.8h0M1466.8 641.9h0M1400.9 666.1h0M1542.0 675.0h0M1455.9 606.9h0M1520.7 663.2h0M1501.1 750.2h0M1528.9 647.3h0M1496.4 635.7h0M1541.8 702.7h0M1605.2 641.1h0M1570.6 722.3h0M1526.3 735.3h0M1643.4 703.5h0M1640.7 661.4h0M1424.4 644.3h0M1509.1 688.9h0M1573.0 630.5h0M1521.7 583.7h0M1403.7 641.4h0M1505.5 694.3h0M1539.4 632.8h0M1431.2 739.0h0M1455.3 611.7h0M1420.0 669.4h0M1460.7 628.0h0M1649.1 624.6h0M1463.1 628.9h0M1534.6 629.0h0M1485.6 703.7h0M1618.6 729.1h0M1550.5 728.8h0M1456.3 633.0h0M1579.1 741.5h0M1422.4 717.2h0M1501.2 659.5h0M1590.1 718.4h0M1423.6 691.1h0M1669.8 615.6h0M1432.5 658.8h0M1460.8 753.3h0M1442.8 690.9h0M1443.6 659.7h0M1450.2 691.2h0M1544.4 743.5h0M1562.3 721.2h0M1524.8 593.0h0M1422.1 624.8h0M1518.4 673.8h0M1532.3 576.8h0M1446.6 643.6h0M1524.1 594.5h0M1590.3 638.9h0M1533.6 655.6h0M1465.8 659.5h0M1500.9 605.6h0M1463.5 711.9h0M1442.8 713.4h0M1594.5 622.6h0M1467.9 702.5h0M1483.2 735.8h0M1523.9 687.2h0M1623.0 639.6h0M1502.9 598.8h0M1474.8 642.8h0M1540.8 711.4h0M1531.7 665.4h0M1494.1 699.4h0M1504.9 755.1h0M1484.2 715.0h0M1583.5 659.0h0M1479.1 754.9h0M1465.8 688.8h0M1537.0 597.7h0M1607.4 714.4h0M1621.3 635.7h0M1588.7 686.5h0M1638.6 709.4h0M1477.4 687.6h0M1628.8 724.5h0M1450.2 623.7h0M1472.4 691.6h0M1458.4 694.0h0M1478.4 732.6h0M1463.7 689.1h0M1597.2 595.4h0M1422.2 724.8h0M1502.9 595.9h0M1477.1 758.6h0M1497.8 608.7h0M1498.7 619.4h0M1584.5 584.6h0M1534.7 752.6h0M1557.0 655.4h0M1449.5 741.7h0M1572.1 595.6h0M1581.8 702.5h0M1428.4 741.3h0M1573.0 667.4h0M1638.5 634.1h0M1471.6 609.1h0M1617.4 645.7h0M1474.9 723.9h0M1413.8 661.5h0M1558.3 589.2h0M1622.9 708.8h0M1517.1 678.7h0M1562.1 644.4h0M1623.6 674.1h0M1589.3 699.7h0M1442.1 703.7h0M1581.2 597.1h0M1656.0 610.1h0M1416.4 669.4h0M1457.1 602.6h0M1442.0 638.2h0M1445.5 718.6h0M1531.9 607.7h0M1605.0 637.8h0M1550.2 605.6h0M1588.1 682.1h0M1453.4 677.7h0M1471.7 719.2h0M1565.2 588.8h0M1430.7 638.6h0M1460.8 609.7h0M1519.7 624.9h0M1560.3 638.9h0M1533.4 743.4h0M1428.3 659.6h0M1587.6 592.5h0M1425.5 699.4h0M1439.9 703.0h0M1490.5 728.7h0M1446.4 702.3h0M1520.3 634.6h0M1582.7 679.1h0M1486.3 688.6h0M1499.1 606.2h0M1497.2 739.6h0M1572.0 634.5h0M1644.0 707.5h0M1460.5 665.1h0M1454.2 604.4h0M1478.2 677.5h0M1454.4 612.1h0M1521.7 647.5h0M1513.5 650.9h0M1556.5 626.4h0M1541.9 660.5h0M1600.9 735.9h0M1575.4 633.0h0M1635.0 614.0h0M1468.0 656.7h0M1550.6 687.4h0M1468.7 716.5h0M1528.3 739.1h0M1473.3 659.1h0M1497.8 601.7h0M1436.3 732.3h0M1549.1 715.5h0M1572.1 593.5h0M1549.5 761.0h0M1590.6 725.2h0M1528.2 748.8h0M1453.4 649.0h0M1590.2 606.1h0M1415.9 681.6h0M1488.7 750.2h0M1622.3 732.6h0M1576.0 733.8h0M1391.7 648.2h0M1576.0 604.5h0M1481.0 613.7h0M1528.1 739.0h0M1471.1 605.7h0M1488.2 687.4h0M1489.5 743.4h0M1585.7 718.7h0M1580.6 637.8h0M1485.8 687.0h0M1487.3 723.8h0M1430.6 742.9h0M1562.3 674.4h0M1439.5 667.1h0M1458.2 713.1h0M1456.5 623.8h0M1448.0 669.2h0M1450.3 713.2h0M1574.0 714.4h0M1544.2 681.9h0M1502.6 718.9h0M1601.5 690.6h0M1614.4 699.5h0M1449.1 680.7h0M1505.5 753.2h0M1532.4 694.6h0M1496.0 653.9h0M1614.4 723.3h0M1485.3 656.3h0M1484.0 747.8h0M1419.2 708.6h0M1492.1 735.6h0M1660.4 683.2h0M1475.8 636.9h0M1548.6 621.5h0M1485.0 705.7h0M1621.6 613.4h0M1650.9 641.2h0M1664.5 660.3h0M1461.7 638.6h0M1649.8 652.6h0M1448.8 710.7h0M1565.4 736.5h0M1562.3 749.3h0M1427.4 627.9h0M1568.6 689.0h0M1407.3 664.6h0M1644.8 584.6h0M1511.4 715.4h0M1409.0 657.6h0M1625.8 654.2h0M1610.0 743.2h0M1418.0 682.6h0M1571.6 581.2h0M1529.1 677.3h0M1432.0 663.4h0M1403.4 647.3h0M1633.5 597.8h0M1622.8 703.2h0M1523.2 634.7h0M1412.8 658.3h0M1443.5 680.8h0M1622.0 603.6h0M1531.7 705.1h0M1505.2 588.3h0M1534.9 639.2h0M1665.8 675.2h0M1453.0 735.8h0M1605.5 683.6h0M1500.0 685.3h0M1438.4 630.6h0M1481.0 732.2h0M1471.3 667.5h0M1588.9 677.7h0M1502.9 640.2h0M1546.8 571.2h0M1520.0 647.1h0M1564.9 668.4h0M1525.3 752.7h0" stroke="#9cc060" stroke-width="2.25" stroke-linecap="round" fill="none"/><path d="M1594.2 676.2h0M1573.4 593.5h0M1517.6 589.6h0M1606.9 650.7h0M1462.7 716.5h0M1658.6 604.3h0M1535.6 587.2h0M1580.4 635.5h0M1538.0 687.8h0M1551.3 704.8h0M1527.1 687.1h0M1460.4 616.2h0M1515.0 615.2h0M1557.1 733.0h0M1527.1 749.5h0M1482.2 702.9h0M1597.2 724.9h0M1543.1 720.6h0M1622.5 616.7h0M1689.9 667.3h0M1488.8 724.4h0M1616.4 646.2h0M1576.6 583.0h0M1631.7 582.4h0M1599.6 717.3h0M1661.0 681.0h0M1610.8 605.6h0M1469.6 699.1h0M1646.8 657.3h0M1493.3 704.5h0M1542.3 691.7h0M1458.0 719.3h0M1474.2 710.6h0M1544.6 570.7h0M1499.3 684.4h0M1481.2 641.3h0M1481.1 629.2h0M1493.8 638.3h0M1469.3 632.1h0M1547.7 704.9h0M1526.9 600.7h0M1392.4 647.4h0M1641.6 614.6h0M1468.5 701.0h0M1502.4 650.5h0M1544.8 578.4h0M1465.7 715.0h0M1459.0 738.6h0M1565.6 620.2h0M1461.2 757.8h0M1448.8 741.2h0M1602.0 713.6h0M1462.6 715.8h0M1482.4 691.3h0M1578.0 661.0h0M1634.3 706.4h0M1571.1 652.0h0M1525.0 696.2h0M1538.1 621.7h0M1589.2 594.4h0M1515.3 747.2h0M1662.4 618.5h0M1500.3 710.8h0M1456.1 681.9h0M1466.0 637.3h0M1435.4 611.2h0M1442.8 693.2h0M1547.8 619.0h0M1537.7 697.8h0M1498.2 656.1h0M1638.1 661.6h0M1506.3 727.0h0M1476.1 695.1h0M1534.6 657.3h0M1450.4 670.8h0M1438.4 716.7h0M1547.0 704.2h0M1496.3 738.2h0M1545.2 723.3h0M1615.6 618.7h0M1685.2 628.0h0M1540.6 647.8h0M1561.0 753.1h0M1650.9 694.0h0M1528.8 757.9h0M1601.9 673.2h0M1519.6 741.9h0M1641.1 708.6h0M1649.9 618.4h0M1559.7 726.3h0M1526.4 603.4h0M1674.7 621.8h0M1504.2 620.2h0M1491.8 724.4h0M1616.6 660.4h0M1640.1 591.1h0M1474.4 661.4h0M1474.0 666.4h0M1546.6 631.1h0M1469.4 604.6h0M1584.4 580.0h0M1426.3 731.5h0M1592.2 611.5h0M1680.3 669.7h0M1602.6 680.3h0M1600.3 727.8h0M1547.3 599.9h0M1484.5 598.7h0M1647.6 708.4h0M1546.7 664.1h0M1558.3 670.3h0M1619.6 694.1h0M1569.0 692.1h0M1678.4 653.3h0M1639.5 636.3h0M1534.6 606.3h0M1530.5 593.7h0M1611.8 704.7h0M1461.8 739.6h0M1560.6 566.7h0M1475.0 704.6h0M1486.2 614.8h0M1548.5 749.6h0M1483.8 713.9h0M1565.4 621.6h0M1574.9 737.9h0M1648.4 596.6h0M1485.6 647.7h0M1584.0 651.2h0M1653.6 664.3h0M1620.5 656.0h0M1504.4 702.2h0M1612.7 687.3h0M1597.0 603.1h0M1537.2 762.2h0M1577.6 723.2h0M1486.8 713.3h0M1590.9 637.3h0M1586.2 682.5h0M1633.5 695.8h0M1479.0 701.3h0M1661.3 689.7h0M1591.3 596.6h0M1556.8 690.6h0M1603.9 712.1h0M1511.6 629.9h0M1564.2 627.1h0M1544.4 685.4h0M1403.2 637.6h0M1614.9 616.3h0M1609.4 628.3h0M1607.6 600.7h0M1438.0 619.2h0M1614.9 571.0h0M1634.6 617.9h0M1526.7 647.9h0M1480.3 704.3h0M1453.2 669.0h0M1468.9 678.5h0M1633.3 687.9h0M1580.5 653.1h0M1431.2 622.1h0M1570.6 666.1h0M1552.9 693.6h0M1589.7 720.5h0M1406.1 632.8h0M1638.7 584.3h0M1620.7 686.7h0M1669.1 689.8h0M1450.7 717.2h0M1557.9 631.6h0M1496.4 691.0h0M1542.7 617.5h0M1637.6 721.7h0M1491.5 646.3h0M1505.6 585.1h0M1435.9 610.9h0M1431.5 624.0h0M1649.2 598.9h0M1592.0 610.5h0M1667.9 640.5h0M1616.0 659.3h0M1620.5 660.7h0M1634.5 610.5h0M1462.3 686.5h0M1568.7 685.7h0M1613.9 631.2h0M1466.7 727.0h0M1592.9 728.1h0M1599.1 736.6h0M1632.8 646.7h0M1602.3 602.4h0M1421.0 642.4h0M1680.4 628.4h0M1562.3 601.8h0M1665.3 689.4h0M1598.7 704.1h0M1481.0 700.4h0M1619.7 706.3h0M1628.9 730.2h0M1519.3 642.5h0M1628.0 603.6h0M1597.2 659.4h0M1561.4 641.4h0M1472.5 704.4h0M1482.0 636.3h0M1671.2 629.9h0M1527.2 765.7h0M1407.6 679.0h0M1661.7 629.9h0M1406.5 641.0h0M1537.4 570.5h0M1423.8 702.6h0M1644.3 600.3h0M1428.8 701.9h0M1530.9 620.8h0M1659.2 696.4h0M1496.8 598.4h0M1469.4 635.5h0M1488.6 683.8h0M1510.3 667.5h0M1631.5 720.5h0M1448.8 746.1h0M1508.4 733.6h0M1643.6 665.3h0M1629.7 683.5h0M1647.8 698.4h0M1568.7 641.9h0M1458.1 727.3h0M1607.5 683.5h0M1439.7 617.2h0M1593.7 688.7h0M1540.8 745.0h0M1666.8 662.0h0M1528.8 671.5h0M1508.7 611.5h0M1538.9 737.1h0M1506.1 635.7h0M1578.6 733.6h0M1595.2 745.4h0M1600.0 619.5h0M1636.6 633.4h0M1562.2 656.4h0M1585.1 660.0h0M1578.4 704.9h0M1532.5 672.5h0M1518.6 633.0h0M1493.1 670.9h0M1409.0 629.6h0M1641.4 645.2h0M1580.9 652.4h0M1605.6 669.3h0M1424.8 641.7h0M1555.2 592.7h0M1520.9 610.1h0M1525.5 721.0h0M1540.9 761.9h0M1554.7 723.8h0M1501.2 665.6h0M1484.0 668.4h0M1535.6 638.8h0M1673.9 662.2h0M1506.4 758.1h0M1577.7 661.6h0M1517.4 688.2h0M1631.4 587.5h0M1438.4 605.4h0M1626.0 727.0h0M1625.5 672.5h0M1421.0 625.3h0M1537.1 725.5h0M1565.3 682.5h0M1483.9 594.5h0M1453.0 669.5h0M1555.0 594.4h0M1525.0 605.4h0M1433.1 665.8h0M1515.4 620.9h0M1584.4 630.2h0M1474.3 690.0h0M1445.9 714.1h0M1538.2 679.6h0M1475.3 713.5h0M1513.9 633.7h0M1632.7 643.7h0M1489.7 658.8h0M1576.0 745.5h0M1562.4 617.2h0M1665.5 621.3h0M1447.7 684.7h0M1620.0 734.7h0M1556.8 616.0h0M1566.2 746.1h0M1643.7 615.0h0M1615.3 592.0h0M1648.3 653.8h0M1404.4 659.1h0M1643.9 668.6h0M1662.4 687.4h0M1617.2 617.8h0M1682.1 653.7h0M1445.6 653.7h0M1563.2 587.0h0M1554.4 637.1h0M1514.3 670.3h0M1658.5 647.7h0M1578.1 728.7h0M1634.5 621.4h0M1530.7 626.9h0M1670.0 616.0h0M1430.6 691.6h0M1570.4 635.3h0M1584.4 605.7h0M1441.3 717.8h0M1502.7 587.8h0M1563.6 632.3h0M1568.4 617.5h0M1672.4 645.4h0M1566.7 735.7h0M1459.9 629.2h0M1531.0 752.0h0M1479.8 674.2h0M1503.5 752.8h0M1442.8 688.7h0M1638.3 644.4h0M1583.5 583.5h0M1446.6 671.1h0M1544.6 619.3h0M1613.9 584.9h0M1542.3 755.9h0M1476.2 657.1h0M1457.1 683.3h0M1625.7 675.2h0M1442.5 611.0h0M1539.7 641.3h0M1500.9 751.3h0M1435.4 653.2h0M1663.4 642.3h0M1473.9 608.8h0M1463.3 608.9h0M1543.8 691.5h0M1595.9 747.5h0M1697.0 657.6h0M1509.0 668.3h0M1607.9 677.9h0M1594.6 602.4h0M1616.1 594.2h0M1605.9 625.7h0M1600.4 735.1h0M1535.3 592.8h0M1548.3 744.5h0M1579.3 667.9h0M1429.8 715.2h0M1590.6 577.1h0M1545.8 648.2h0M1444.2 751.0h0M1504.9 671.0h0M1606.0 663.2h0M1560.1 656.1h0M1655.1 700.6h0M1656.7 667.3h0M1502.5 739.2h0M1536.6 581.9h0M1538.7 688.8h0M1532.1 636.1h0M1576.0 679.3h0M1634.0 651.2h0M1574.1 602.6h0M1556.9 758.1h0M1505.1 736.2h0M1557.8 679.6h0M1462.2 759.6h0M1695.5 657.1h0M1486.4 597.9h0M1676.6 658.5h0M1574.5 669.4h0M1597.5 614.0h0M1641.0 595.8h0M1597.0 675.6h0M1545.6 756.1h0M1487.1 627.8h0M1514.2 690.4h0M1623.5 604.3h0M1543.3 758.4h0M1656.7 681.8h0M1612.8 570.0h0M1498.9 680.1h0M1648.3 663.9h0M1575.9 712.4h0M1419.0 641.0h0M1582.2 635.7h0M1481.5 738.7h0M1675.1 648.3h0M1647.1 615.6h0M1484.4 591.9h0M1490.4 685.7h0M1600.3 610.9h0M1526.9 614.8h0M1526.1 697.8h0M1581.4 689.9h0M1486.2 739.6h0M1480.3 661.9h0M1503.0 605.0h0M1556.1 641.0h0M1437.5 628.6h0M1432.0 651.8h0M1433.1 720.1h0M1445.8 734.5h0M1660.8 639.2h0M1559.5 709.8h0M1480.8 710.1h0M1655.9 652.4h0M1488.2 658.0h0M1578.8 697.2h0M1597.5 614.6h0M1553.5 710.5h0M1449.4 715.2h0M1445.5 723.8h0M1590.0 579.3h0M1471.0 615.0h0M1402.1 652.8h0M1654.0 658.8h0M1590.3 581.3h0M1557.9 698.7h0M1634.6 723.1h0M1460.2 730.3h0M1471.3 720.9h0M1520.7 682.4h0M1490.9 666.6h0M1573.6 701.2h0M1482.5 627.3h0M1488.5 634.1h0M1572.0 715.8h0M1427.2 731.7h0M1546.6 724.8h0M1661.5 694.5h0M1603.7 693.8h0M1576.6 711.9h0M1652.4 692.1h0M1529.0 620.1h0M1507.8 680.0h0M1533.3 623.3h0M1562.0 739.5h0M1569.3 593.2h0M1586.2 572.0h0M1610.7 629.9h0M1393.9 644.5h0M1506.6 666.0h0M1623.4 696.1h0M1440.6 747.0h0M1628.4 700.8h0M1582.5 625.0h0M1438.9 750.9h0M1536.6 742.6h0M1498.7 725.7h0M1604.2 601.0h0M1666.9 662.7h0M1416.0 661.8h0M1542.8 569.3h0M1564.8 634.2h0M1488.1 670.7h0M1581.2 667.1h0M1641.6 690.0h0M1563.0 692.6h0M1594.2 717.5h0M1550.9 750.9h0M1546.2 648.1h0M1494.5 761.8h0M1515.2 585.8h0M1640.5 689.8h0M1621.0 717.2h0M1626.8 672.8h0M1440.4 711.5h0M1680.7 660.8h0M1580.1 605.7h0M1492.9 717.0h0M1634.8 583.8h0M1634.8 582.4h0M1611.6 701.1h0M1569.8 671.4h0M1523.5 620.2h0M1513.5 625.8h0M1613.8 587.5h0M1556.9 687.5h0M1509.4 710.9h0M1466.7 663.6h0M1450.8 602.5h0M1551.6 592.5h0M1558.1 619.5h0M1532.9 622.7h0M1452.1 613.0h0M1661.7 647.0h0M1587.2 595.7h0M1424.6 631.4h0M1625.8 659.7h0M1609.8 647.5h0M1484.8 691.6h0M1471.1 638.6h0M1557.0 686.1h0M1418.2 635.3h0M1548.9 606.1h0M1664.6 665.4h0M1692.3 647.6h0M1559.1 674.7h0M1628.2 603.3h0M1540.2 726.1h0M1565.5 669.6h0M1442.4 623.6h0M1452.6 636.5h0M1603.0 744.1h0M1682.2 658.0h0M1603.9 623.4h0M1498.6 718.8h0M1518.8 621.0h0M1464.4 726.8h0M1550.5 668.3h0M1505.6 690.0h0M1559.0 636.7h0M1415.0 685.9h0M1421.3 641.3h0M1622.9 572.1h0M1436.9 745.6h0M1520.3 687.6h0M1513.7 586.4h0M1464.5 669.9h0M1545.8 598.9h0M1515.2 620.4h0M1533.2 681.3h0M1637.9 705.5h0M1449.1 624.7h0M1472.3 648.9h0M1560.0 652.3h0M1568.6 692.0h0M1652.7 604.5h0M1669.2 689.8h0M1557.6 676.2h0M1587.8 690.8h0M1629.1 633.5h0M1531.0 587.8h0M1483.5 701.4h0M1562.5 581.5h0M1505.2 641.1h0M1585.8 623.5h0M1458.6 663.7h0M1434.0 677.2h0M1564.2 714.1h0M1470.7 680.7h0M1564.2 599.1h0M1470.5 760.6h0M1400.3 646.8h0M1436.5 611.2h0M1517.2 643.3h0M1626.1 708.6h0M1542.7 711.2h0M1550.1 745.2h0M1475.9 635.1h0M1499.2 685.8h0M1485.2 589.3h0M1401.6 669.1h0M1558.8 658.2h0M1669.5 657.9h0M1456.1 656.6h0M1549.0 753.5h0M1694.0 642.8h0M1452.3 686.4h0M1507.7 695.2h0M1511.6 683.9h0M1531.0 608.9h0M1596.0 582.9h0M1463.5 638.4h0M1555.7 616.4h0M1550.4 597.0h0M1642.3 669.5h0M1521.0 737.5h0M1394.7 660.6h0M1534.9 699.0h0M1503.3 636.9h0M1526.9 652.2h0M1453.5 697.4h0M1529.7 754.3h0M1538.6 612.0h0M1681.8 631.4h0M1401.5 670.9h0M1505.5 759.3h0M1581.0 677.2h0M1478.4 614.4h0M1488.6 653.6h0M1578.8 749.2h0M1671.5 666.2h0M1562.5 683.5h0M1469.9 753.8h0M1583.8 680.7h0M1674.4 670.1h0M1434.9 718.7h0M1549.6 680.0h0M1606.4 663.1h0M1435.8 683.3h0M1605.0 630.0h0M1559.1 690.7h0M1502.3 672.3h0M1644.1 620.4h0M1439.2 743.3h0M1552.2 621.8h0M1607.0 666.1h0M1557.2 673.9h0M1566.5 619.5h0M1454.2 753.6h0M1583.7 672.5h0M1654.6 684.6h0M1423.2 634.9h0M1586.7 645.2h0M1586.5 680.5h0M1465.1 728.0h0M1618.7 594.7h0M1428.7 652.2h0M1541.8 749.8h0M1630.3 633.5h0M1425.8 712.8h0M1570.3 648.7h0M1558.8 608.1h0M1645.9 680.6h0M1479.7 691.2h0M1501.4 675.0h0M1576.3 681.2h0M1577.2 727.6h0M1521.8 727.3h0M1597.4 573.6h0M1543.7 706.2h0M1542.0 760.9h0M1591.0 583.8h0M1465.9 724.3h0M1482.6 591.9h0M1673.8 638.8h0M1579.6 705.8h0M1632.8 710.7h0M1502.1 727.3h0M1464.7 749.6h0M1554.8 699.0h0M1438.1 725.4h0M1587.4 743.9h0M1445.3 700.5h0M1597.6 700.7h0M1578.6 661.1h0M1619.1 702.4h0M1462.2 678.2h0M1502.2 755.2h0M1660.6 613.0h0M1445.7 625.5h0M1460.9 617.1h0M1562.2 734.6h0M1555.8 671.6h0M1570.4 604.5h0M1582.2 738.6h0M1494.3 642.8h0M1585.4 654.2h0M1418.8 671.4h0M1478.9 733.2h0M1622.5 631.2h0M1561.6 615.9h0M1421.8 652.4h0M1580.5 657.8h0M1543.0 741.3h0M1431.1 632.1h0M1581.1 633.3h0M1603.8 679.0h0M1561.9 566.5h0M1569.0 575.4h0M1584.1 673.8h0M1604.0 665.5h0M1550.0 675.7h0M1498.5 708.3h0M1484.1 704.4h0M1534.4 669.6h0M1425.4 634.6h0M1601.7 711.7h0M1565.0 706.8h0M1563.9 615.9h0M1569.4 657.3h0M1483.3 635.8h0M1585.2 611.6h0M1498.3 719.9h0M1455.8 733.6h0M1415.6 623.9h0M1535.9 597.3h0M1524.4 672.7h0M1646.8 611.2h0M1614.0 583.1h0M1517.2 744.6h0M1542.7 621.0h0M1464.4 645.5h0M1553.4 765.0h0M1634.8 618.9h0M1452.0 600.2h0M1410.6 662.7h0M1520.5 631.6h0M1637.4 664.3h0M1646.7 589.1h0M1478.1 749.5h0M1651.0 654.4h0M1653.4 608.3h0M1645.5 665.2h0M1595.6 702.6h0M1602.1 707.7h0M1456.5 704.0h0M1411.1 646.6h0M1549.8 603.7h0M1470.3 681.4h0M1567.3 730.9h0M1405.8 667.9h0M1689.4 639.1h0M1423.3 704.1h0M1563.7 575.4h0M1567.6 586.0h0M1430.5 737.4h0M1609.0 647.1h0M1577.1 650.0h0M1516.5 646.6h0M1502.4 721.0h0M1493.8 590.8h0M1642.8 664.4h0M1558.3 722.6h0M1430.8 736.1h0M1496.2 608.5h0M1520.9 765.7h0M1457.4 604.3h0M1523.7 718.1h0M1430.8 627.1h0M1644.4 599.0h0M1627.1 699.8h0M1659.9 692.1h0M1551.8 754.8h0M1619.6 729.3h0M1596.9 663.6h0M1435.9 733.0h0M1691.7 636.7h0M1529.6 581.1h0M1602.7 745.7h0M1698.1 649.0h0M1635.8 679.2h0M1462.8 740.4h0M1600.5 592.0h0M1585.8 732.8h0M1678.2 639.3h0M1676.1 630.2h0M1564.3 750.1h0M1567.3 665.4h0M1530.0 579.7h0M1442.6 687.7h0M1437.9 702.7h0M1510.9 726.0h0M1538.1 721.0h0M1510.3 741.0h0M1564.4 688.5h0M1548.8 658.8h0M1611.3 719.1h0M1521.3 718.2h0M1588.0 640.7h0M1423.2 691.2h0M1605.1 703.4h0M1625.8 637.2h0M1525.5 581.5h0M1615.1 728.3h0M1622.5 639.2h0M1428.2 718.7h0M1500.4 699.8h0M1698.5 654.4h0M1659.6 692.6h0M1517.0 677.6h0M1558.6 679.9h0M1503.4 754.3h0M1668.6 659.8h0M1609.3 646.8h0M1583.7 727.8h0M1563.1 688.0h0M1680.6 652.6h0M1629.0 726.3h0M1626.3 635.5h0M1652.5 616.4h0M1486.9 690.4h0M1537.2 725.3h0M1494.3 758.2h0M1546.4 725.2h0M1514.1 660.6h0M1587.9 699.8h0M1453.2 695.3h0M1643.1 581.4h0M1679.3 644.2h0M1637.0 721.6h0M1451.3 754.9h0M1478.6 716.2h0M1568.0 759.4h0M1569.0 733.7h0M1444.3 657.7h0M1558.2 692.0h0M1569.6 748.4h0M1418.8 674.3h0M1495.1 675.9h0M1686.6 667.6h0M1495.8 592.2h0M1510.0 604.0h0M1571.1 599.4h0M1600.4 675.2h0M1433.4 726.9h0M1594.5 687.7h0M1577.8 599.8h0M1498.9 747.9h0M1588.9 593.5h0M1581.9 745.5h0M1515.1 711.9h0M1489.5 656.8h0M1503.7 632.7h0M1427.7 689.6h0M1507.5 692.2h0M1526.5 684.8h0M1458.6 611.4h0M1499.7 584.8h0M1567.9 715.2h0M1495.6 753.3h0M1535.8 733.9h0M1634.0 667.2h0M1675.7 650.2h0M1462.5 598.9h0M1543.5 605.5h0M1477.1 648.5h0M1588.2 671.8h0M1494.5 734.8h0M1521.8 676.7h0M1610.8 676.8h0M1618.0 622.7h0M1420.7 722.4h0M1613.7 575.4h0M1408.8 653.1h0M1482.2 605.4h0M1536.6 662.8h0M1550.9 752.2h0M1556.1 742.7h0M1663.1 664.6h0" stroke="#5a6aa0" stroke-width="2.25" stroke-linecap="round" fill="none"/><path d="M1590.7 696.0h0M1528.9 639.2h0M1570.9 661.2h0M1432.5 705.4h0M1633.1 697.0h0M1401.9 654.3h0M1471.7 675.5h0M1431.5 670.9h0M1567.0 662.7h0M1619.7 584.8h0M1659.2 649.1h0M1495.3 705.1h0M1546.0 631.7h0M1447.3 684.7h0M1609.5 646.4h0M1425.1 732.2h0M1503.8 691.0h0M1434.4 629.8h0M1541.5 764.7h0M1585.1 582.4h0M1533.9 734.4h0M1576.7 723.9h0M1601.4 694.4h0M1626.5 571.9h0M1576.8 738.6h0M1492.2 712.4h0M1600.9 595.6h0M1424.9 704.1h0M1660.8 624.2h0M1610.2 647.6h0M1599.0 720.5h0M1615.0 711.8h0M1535.5 762.2h0M1598.9 694.8h0M1536.1 758.9h0M1647.4 659.4h0M1637.7 676.5h0M1627.5 732.3h0M1464.1 689.0h0M1630.4 641.5h0M1624.9 626.0h0M1568.6 598.4h0M1431.2 633.5h0M1541.6 661.3h0M1447.0 629.3h0M1676.1 646.3h0M1505.7 590.0h0M1643.7 710.0h0M1491.7 616.1h0M1579.0 680.4h0M1418.6 651.9h0M1390.9 657.5h0M1583.8 588.4h0M1586.0 736.3h0M1524.1 633.3h0M1395.6 655.1h0M1566.2 576.9h0M1499.9 704.0h0M1561.5 598.2h0M1532.6 594.7h0M1593.4 619.1h0M1455.0 701.1h0M1552.6 717.7h0M1536.3 715.4h0M1498.0 661.7h0M1499.9 615.6h0M1558.2 735.1h0M1550.9 639.1h0M1650.5 700.7h0M1468.8 616.8h0M1582.6 723.7h0M1488.2 713.9h0M1454.3 733.1h0M1564.8 597.1h0M1490.6 663.3h0M1504.1 760.0h0M1453.0 636.0h0M1504.8 710.1h0M1526.0 627.3h0M1627.8 680.0h0M1477.1 704.2h0M1652.0 606.1h0M1577.0 580.4h0M1520.1 623.5h0M1462.1 715.0h0M1663.2 660.1h0M1577.7 719.9h0M1609.8 708.2h0M1615.3 704.1h0M1587.0 655.6h0M1536.4 695.5h0M1544.8 578.6h0M1477.0 614.8h0M1566.5 568.9h0M1598.5 574.6h0M1614.4 738.6h0M1488.1 761.3h0M1592.7 578.4h0M1640.0 706.2h0M1599.1 725.9h0M1581.0 578.6h0M1665.2 685.0h0M1499.9 619.4h0M1548.6 758.9h0M1580.0 712.9h0M1567.9 707.6h0M1443.8 609.9h0M1617.1 704.9h0M1442.4 629.6h0M1633.9 661.0h0M1693.7 657.0h0M1445.3 719.4h0M1468.2 760.9h0M1616.8 740.2h0M1434.2 660.6h0M1646.3 685.3h0M1605.4 592.4h0M1636.8 652.4h0M1611.9 572.4h0M1609.8 614.5h0M1606.8 591.3h0M1536.8 764.5h0M1389.7 658.7h0M1606.8 628.6h0M1650.2 687.1h0M1637.5 684.2h0M1495.7 731.0h0M1595.2 684.4h0M1625.6 646.7h0M1545.4 691.3h0M1465.7 604.7h0M1445.4 623.6h0M1489.4 604.4h0M1547.3 591.5h0M1471.3 732.3h0M1506.4 660.8h0M1624.4 601.2h0M1535.8 693.9h0M1606.7 662.4h0M1460.5 697.2h0M1542.4 696.1h0M1573.3 668.0h0M1528.1 697.4h0M1430.1 741.7h0M1461.9 750.5h0M1561.4 589.2h0M1636.1 598.2h0M1480.9 660.3h0M1480.5 678.3h0M1632.0 613.9h0M1623.2 586.5h0M1501.8 620.3h0M1476.5 591.6h0M1668.1 630.8h0M1456.1 755.1h0M1555.7 580.8h0M1602.1 694.3h0M1457.4 612.9h0M1693.0 652.3h0M1472.2 645.8h0M1542.5 745.6h0M1568.7 614.4h0M1549.0 661.5h0M1560.2 747.6h0M1496.1 587.8h0M1539.5 614.2h0M1604.5 571.8h0M1459.2 663.0h0M1691.4 656.5h0M1448.6 652.8h0M1511.7 670.2h0M1666.0 628.3h0M1514.9 613.5h0M1626.2 720.1h0M1623.9 722.2h0M1521.9 741.5h0M1579.7 739.3h0M1462.3 634.6h0M1574.3 575.5h0M1575.0 613.9h0M1618.0 642.6h0M1400.5 677.8h0M1406.8 657.2h0M1512.7 687.2h0M1557.4 660.6h0M1439.9 715.2h0M1460.4 709.2h0M1600.2 731.7h0M1462.2 662.9h0M1646.3 689.3h0M1523.9 613.8h0M1519.5 618.9h0M1522.0 665.4h0M1664.8 676.0h0M1648.7 627.8h0M1556.0 733.7h0M1499.3 638.8h0M1620.3 737.1h0M1565.4 604.1h0M1530.2 635.7h0M1501.5 605.7h0M1517.4 671.7h0M1419.5 687.4h0M1599.7 672.9h0M1648.1 707.2h0M1416.9 722.4h0M1558.1 643.3h0M1603.0 621.3h0M1552.3 760.0h0M1606.2 709.6h0M1457.6 631.4h0M1498.6 731.1h0M1507.3 716.4h0M1684.5 642.9h0M1594.3 709.6h0M1655.9 679.9h0M1595.3 699.4h0M1573.7 703.6h0M1490.2 723.5h0M1443.7 631.8h0M1453.6 686.9h0M1579.1 725.8h0M1577.2 714.4h0M1631.8 701.8h0M1443.1 617.3h0M1607.9 628.8h0M1521.2 626.2h0M1466.9 727.6h0M1419.4 671.2h0M1542.2 620.9h0M1616.6 577.5h0M1527.3 717.1h0M1545.3 732.9h0M1555.8 581.3h0M1511.2 668.6h0M1518.4 608.6h0M1583.6 650.6h0M1452.6 717.7h0M1497.9 755.0h0M1472.2 751.4h0M1543.8 714.7h0M1531.3 621.6h0M1420.5 633.6h0M1571.6 672.1h0M1402.8 652.8h0M1602.9 695.0h0M1450.2 684.7h0M1422.4 671.1h0M1489.2 601.9h0M1427.8 732.8h0M1627.6 628.4h0M1449.2 738.3h0M1568.1 644.3h0M1572.9 716.3h0M1558.6 591.8h0M1624.7 708.0h0M1424.1 665.1h0M1437.5 713.1h0M1515.7 632.0h0M1577.5 602.9h0M1526.8 719.9h0M1476.8 642.6h0M1497.0 675.4h0M1614.6 596.3h0M1577.1 675.6h0M1440.9 657.7h0M1495.3 606.3h0M1515.2 688.4h0M1420.7 640.4h0M1588.1 647.0h0M1674.3 617.9h0M1531.8 611.2h0M1540.2 672.9h0M1563.0 727.8h0M1407.8 663.4h0M1609.1 618.4h0M1530.4 591.1h0M1493.5 751.9h0M1586.0 684.6h0M1555.4 598.3h0M1454.3 666.4h0M1514.4 711.9h0M1663.7 608.9h0M1623.7 642.1h0M1653.0 681.8h0M1623.6 678.0h0M1428.5 705.7h0M1563.8 689.7h0M1599.1 593.9h0M1501.6 722.9h0M1636.7 673.8h0M1488.2 654.8h0M1520.7 590.4h0M1634.9 721.4h0M1447.9 605.2h0M1472.0 605.4h0M1459.9 708.7h0M1609.1 616.6h0M1627.0 713.9h0M1488.5 723.8h0M1659.9 640.2h0M1520.1 714.6h0M1410.3 650.5h0M1566.5 728.9h0M1416.4 686.2h0M1428.9 612.9h0M1560.8 589.7h0M1451.6 607.2h0M1469.3 725.9h0M1484.4 601.2h0M1463.5 679.6h0M1535.1 738.5h0M1505.0 652.6h0M1520.1 648.2h0M1597.0 721.2h0M1582.3 706.4h0M1521.2 687.7h0M1597.1 644.4h0M1494.0 722.3h0M1583.9 599.9h0M1497.0 665.7h0M1528.6 706.8h0M1531.9 654.0h0M1538.4 598.7h0M1468.1 617.9h0M1646.4 613.2h0M1432.9 706.5h0M1546.3 703.8h0M1590.2 682.8h0M1477.4 673.4h0M1450.6 699.8h0M1610.5 682.0h0M1404.4 643.3h0M1535.6 692.2h0M1554.3 668.1h0M1524.4 685.9h0M1484.5 650.3h0M1649.0 690.5h0M1502.7 755.6h0M1437.4 687.7h0M1545.0 578.5h0M1570.7 583.7h0M1508.2 619.4h0M1689.6 648.1h0M1508.5 702.2h0M1592.5 579.2h0M1462.3 622.5h0M1582.0 661.4h0M1588.8 733.1h0M1396.8 657.8h0M1459.0 637.8h0M1501.3 609.5h0M1552.0 721.8h0M1488.1 705.0h0M1395.8 672.2h0M1604.8 705.7h0M1469.3 682.2h0M1647.2 669.1h0M1584.0 688.8h0M1624.0 733.6h0M1564.1 613.9h0M1588.0 680.5h0M1499.2 715.6h0M1632.1 682.0h0M1545.7 707.4h0M1553.7 631.3h0M1626.4 672.8h0M1609.2 721.2h0M1536.6 599.6h0M1449.7 655.5h0M1501.4 618.2h0M1558.6 592.4h0M1617.1 702.9h0M1603.7 693.9h0M1625.8 645.7h0M1457.6 602.4h0M1491.5 726.7h0M1527.0 760.0h0M1543.3 726.1h0M1636.7 706.2h0M1598.7 683.2h0M1568.7 600.2h0M1583.6 673.5h0M1630.9 654.2h0M1451.7 603.1h0M1607.1 622.5h0M1500.2 741.7h0M1572.0 750.3h0M1616.9 679.2h0M1472.8 596.7h0M1603.7 734.1h0M1550.9 730.9h0M1550.0 592.0h0M1632.3 677.0h0M1554.6 617.7h0M1533.6 579.2h0M1661.5 659.7h0M1556.4 621.8h0M1484.6 592.9h0M1450.1 633.1h0M1618.2 642.0h0M1668.1 656.2h0M1663.1 669.1h0M1419.9 635.1h0M1620.7 646.5h0M1630.8 625.1h0M1570.6 585.3h0M1633.5 688.1h0M1458.8 627.3h0M1636.0 692.9h0M1414.0 655.2h0M1552.7 734.5h0M1654.8 661.4h0M1572.7 686.7h0M1485.5 632.4h0M1597.3 578.6h0M1438.4 684.1h0M1420.9 720.8h0M1566.5 605.0h0M1476.1 755.9h0M1619.4 621.0h0M1654.4 683.5h0M1436.7 669.6h0M1632.7 714.5h0M1550.2 757.8h0M1595.5 625.2h0M1664.7 615.3h0M1509.9 745.4h0M1590.8 708.5h0M1615.0 722.5h0M1555.4 729.1h0M1651.6 670.6h0M1571.3 585.2h0M1407.8 634.7h0M1644.6 621.7h0M1463.8 706.4h0M1500.0 738.7h0M1403.2 669.4h0M1650.0 680.8h0M1663.3 674.3h0M1428.5 643.5h0M1637.7 604.4h0M1504.1 762.2h0M1639.5 706.9h0M1415.9 623.5h0M1616.1 731.6h0M1551.7 634.2h0M1693.3 642.3h0M1551.2 731.9h0M1405.8 638.9h0M1548.3 590.1h0M1520.7 762.7h0M1665.9 610.5h0M1566.6 626.1h0M1535.4 695.3h0M1631.3 709.5h0M1537.8 600.4h0M1504.7 763.5h0M1565.7 735.2h0M1400.3 660.0h0M1686.6 650.3h0M1593.6 703.2h0M1555.8 723.2h0M1515.0 673.4h0M1508.5 590.1h0M1592.0 647.6h0M1563.1 638.6h0M1499.9 623.5h0M1452.3 606.6h0M1536.5 761.6h0M1461.7 607.7h0M1527.9 738.1h0M1467.8 603.3h0M1580.0 746.7h0" stroke="#c0a0c8" stroke-width="2.25" stroke-linecap="round" fill="none"/><path d="M1637.0 599.3h0M1665.1 631.0h0M1586.6 614.2h0M1593.4 651.9h0M1545.9 654.2h0M1572.2 678.2h0M1629.2 617.6h0M1551.4 604.2h0M1463.8 685.3h0M1506.8 691.6h0M1469.6 677.3h0M1489.8 673.2h0M1409.9 676.9h0M1470.2 655.8h0M1625.5 595.7h0M1424.0 736.2h0M1634.8 623.5h0M1524.1 665.0h0M1583.3 577.7h0M1546.3 580.5h0M1456.0 627.6h0M1523.4 593.7h0M1674.0 667.8h0M1641.7 641.6h0M1593.6 636.9h0M1498.8 698.7h0M1565.8 687.9h0M1625.9 619.4h0M1628.7 589.5h0M1502.8 719.3h0M1448.0 661.6h0M1574.3 651.2h0M1672.5 631.3h0M1540.7 666.8h0M1578.0 736.2h0M1545.9 577.3h0M1497.6 593.8h0M1659.8 680.1h0M1446.3 618.4h0M1610.4 623.4h0M1568.9 637.9h0M1697.2 650.3h0M1463.8 726.2h0M1498.6 658.0h0M1556.2 706.3h0M1572.3 688.4h0M1415.2 635.0h0M1632.5 727.1h0M1513.5 648.1h0M1613.5 690.1h0M1620.5 619.2h0M1633.4 647.8h0M1640.9 646.3h0M1503.9 595.7h0M1653.3 669.4h0M1568.8 604.6h0M1608.0 605.1h0M1508.9 591.9h0M1603.8 581.2h0M1530.8 595.9h0M1615.7 626.3h0M1406.2 631.2h0M1574.1 702.4h0M1552.8 715.9h0M1563.1 634.1h0M1510.9 676.9h0M1579.2 690.3h0M1637.0 694.2h0M1542.7 568.8h0M1459.6 730.8h0M1490.7 637.3h0M1591.3 717.4h0M1527.2 596.4h0M1472.2 694.7h0M1445.7 701.6h0M1388.6 653.5h0M1558.4 578.2h0M1677.2 665.8h0M1522.0 712.9h0M1618.1 702.3h0M1473.5 610.7h0M1601.8 591.4h0M1509.2 721.0h0M1465.3 636.4h0M1478.5 636.6h0M1422.1 622.2h0M1615.1 571.7h0M1470.0 685.4h0M1418.3 681.1h0M1538.0 603.7h0M1465.1 599.1h0M1460.1 747.8h0M1551.5 693.2h0M1453.2 696.4h0M1673.4 638.9h0M1591.9 595.1h0M1675.4 644.2h0M1621.2 652.8h0M1600.1 641.8h0M1560.3 594.7h0M1658.1 612.1h0M1591.9 593.9h0M1494.0 754.6h0M1559.0 666.3h0M1516.8 732.0h0M1642.0 604.4h0M1565.1 730.2h0M1687.3 643.0h0M1595.7 689.1h0M1645.0 602.9h0M1471.3 655.9h0M1417.1 646.8h0M1598.7 579.9h0M1619.8 625.4h0M1547.1 757.1h0M1571.4 695.3h0M1544.0 643.0h0M1539.4 718.6h0M1456.0 735.1h0M1615.1 693.5h0M1537.5 576.9h0M1432.1 612.8h0M1601.2 606.0h0M1490.1 638.7h0M1426.7 662.9h0M1629.1 659.6h0M1517.4 654.7h0M1575.9 580.0h0M1466.1 625.7h0M1569.5 734.2h0M1621.5 617.8h0M1562.5 622.3h0M1630.9 677.7h0M1532.5 663.3h0M1628.9 587.0h0M1620.7 626.5h0M1669.9 632.7h0M1637.7 638.2h0M1545.0 610.7h0M1609.4 604.8h0M1655.5 604.7h0M1532.7 604.7h0M1520.5 616.5h0M1516.5 637.7h0M1643.7 686.5h0M1627.9 691.4h0M1646.0 628.3h0M1538.7 738.0h0M1623.5 660.0h0M1480.6 699.3h0M1615.5 589.9h0M1496.2 672.6h0M1672.6 629.7h0M1566.3 691.4h0M1642.0 629.0h0M1537.5 638.4h0M1392.8 650.3h0M1663.7 687.6h0M1562.5 617.9h0M1443.0 673.6h0M1518.6 590.8h0M1576.1 684.9h0M1431.7 682.6h0M1402.1 649.3h0M1549.3 582.0h0M1504.0 613.0h0M1567.1 624.9h0M1631.7 678.9h0M1605.8 614.8h0M1560.4 652.4h0M1622.4 579.1h0M1504.4 624.5h0M1627.1 624.6h0M1649.4 662.4h0M1568.3 615.3h0M1430.2 621.1h0M1519.2 619.5h0M1521.6 623.3h0M1580.4 688.9h0M1625.0 722.5h0M1670.8 622.1h0M1418.7 684.2h0M1553.9 650.9h0M1460.7 603.5h0M1619.5 733.1h0M1599.3 592.7h0M1591.5 575.7h0M1497.3 637.4h0M1475.0 654.4h0M1607.8 663.5h0M1617.4 603.3h0M1617.3 664.9h0M1554.7 597.9h0M1649.2 639.2h0M1516.7 756.0h0M1575.1 742.3h0M1463.0 658.4h0M1451.3 705.3h0M1522.1 604.2h0M1526.4 598.4h0M1493.2 671.9h0M1556.6 631.2h0M1543.2 598.8h0M1630.7 677.1h0M1577.1 585.9h0M1464.9 647.3h0M1403.1 679.9h0M1493.4 731.9h0M1635.0 595.9h0M1645.2 632.7h0M1488.8 740.4h0M1545.4 650.4h0M1482.8 603.1h0M1423.6 715.9h0M1644.8 636.1h0M1592.9 591.2h0M1619.3 714.9h0M1660.4 647.7h0M1586.9 726.3h0M1613.7 631.3h0M1637.6 630.5h0M1609.2 608.3h0M1690.9 641.1h0M1638.5 705.9h0M1474.1 719.2h0M1517.5 687.0h0M1424.5 650.5h0M1435.3 687.9h0M1424.2 716.5h0M1573.2 633.6h0M1550.3 719.5h0M1405.6 647.7h0M1426.6 689.5h0M1600.2 590.6h0M1621.4 630.4h0M1563.4 732.2h0M1602.3 580.7h0M1405.5 670.5h0M1498.3 756.6h0M1681.7 674.4h0M1659.4 621.4h0M1559.9 576.3h0M1450.3 740.6h0M1591.3 599.5h0M1609.7 604.1h0M1482.6 724.0h0M1623.9 714.5h0M1563.5 716.6h0M1410.1 677.4h0M1662.8 647.9h0M1527.5 641.0h0M1533.3 622.3h0M1442.5 698.1h0M1429.9 689.1h0M1573.5 758.4h0M1444.3 659.2h0M1594.4 614.3h0M1645.0 615.3h0M1569.2 684.3h0M1494.8 669.0h0M1453.3 711.7h0M1589.3 670.0h0M1421.2 620.2h0M1543.6 614.8h0M1561.3 702.6h0M1638.5 627.2h0M1632.2 585.7h0M1604.0 579.5h0M1523.2 710.9h0M1571.0 740.2h0M1659.5 658.3h0M1587.6 672.2h0M1570.0 632.3h0M1609.5 699.8h0M1574.2 615.0h0M1588.7 650.4h0M1441.6 682.2h0M1583.6 616.3h0M1554.3 679.2h0M1523.2 619.0h0M1627.5 602.2h0M1511.0 677.3h0M1678.7 634.4h0M1600.4 610.6h0M1439.4 706.9h0M1473.4 708.9h0M1591.8 570.8h0M1444.8 614.4h0M1470.4 691.8h0M1555.1 597.7h0M1487.3 629.9h0M1600.2 602.5h0M1436.6 690.0h0M1517.3 723.5h0M1506.1 755.2h0M1474.9 602.3h0M1549.0 751.6h0M1425.0 666.2h0M1446.2 729.1h0M1605.1 659.7h0M1433.8 706.8h0M1591.7 633.5h0M1577.6 663.9h0M1576.8 677.7h0M1658.5 689.3h0M1614.2 591.7h0M1597.4 644.8h0M1556.4 728.1h0M1501.0 674.7h0M1636.1 577.3h0M1686.3 672.7h0M1560.9 582.2h0M1625.1 668.5h0M1618.1 608.9h0M1507.5 621.1h0M1581.9 698.9h0" stroke="#8a2a3a" stroke-width="2.25" stroke-linecap="round" fill="none"/></g></g>
<g><rect x="1869.6" y="596" width="306.2" height="196" fill="#efeef0"/><path d="M1877.7,676.0 C1879.7,672.1 1887.6,666.7 1892.8,662.1 C1898.0,657.4 1903.6,653.2 1909.0,648.2 C1914.5,643.1 1921.0,636.2 1925.3,631.9 C1929.5,627.7 1928.4,625.7 1934.6,622.6 C1940.7,619.5 1953.9,615.3 1962.4,613.4 C1970.9,611.4 1978.6,613.0 1985.6,611.0 C1992.6,609.1 1998.4,604.1 2004.2,601.8 C2010.0,599.4 2013.4,597.9 2020.4,597.1 C2027.4,596.3 2039.3,596.0 2045.9,597.1 C2052.5,598.3 2054.4,604.1 2059.8,604.1 C2065.2,604.1 2071.4,597.9 2078.4,597.1 C2085.4,596.3 2095.0,596.7 2101.6,599.4 C2108.2,602.1 2113.2,608.3 2117.8,613.4 C2122.5,618.4 2124.4,623.8 2129.4,629.6 C2134.5,635.4 2141.8,641.2 2148.0,648.2 C2154.2,655.1 2164.2,664.4 2166.6,671.4 C2168.9,678.3 2165.0,685.3 2161.9,689.9 C2158.8,694.6 2151.5,695.3 2148.0,699.2 C2144.5,703.1 2144.9,708.5 2141.0,713.1 C2137.2,717.8 2130.2,722.4 2124.8,727.0 C2119.4,731.7 2113.6,736.7 2108.6,741.0 C2103.5,745.2 2099.7,748.7 2094.6,752.6 C2089.6,756.4 2085.0,760.3 2078.4,764.2 C2071.8,768.0 2062.9,774.2 2055.2,775.8 C2047.5,777.3 2039.7,774.2 2032.0,773.4 C2024.3,772.7 2016.5,770.7 2008.8,771.1 C2001.1,771.5 1993.3,774.6 1985.6,775.8 C1977.9,776.9 1970.1,777.9 1962.4,778.1 C1954.7,778.3 1945.4,779.2 1939.2,776.9 C1933.0,774.6 1930.3,768.6 1925.3,764.2 C1920.3,759.7 1912.5,754.9 1909.0,750.2 C1905.6,745.6 1904.0,740.2 1904.4,736.3 C1904.8,732.5 1908.7,730.9 1911.4,727.0 C1914.1,723.2 1921.8,717.4 1920.6,713.1 C1919.5,708.9 1909.8,704.6 1904.4,701.5 C1899.0,698.4 1892.0,697.3 1888.2,694.6 C1884.3,691.9 1882.9,688.4 1881.2,685.3 C1879.5,682.2 1875.8,679.9 1877.7,676.0Z" fill="#440154"/><polygon points="2003.4,724.6 2012.1,717.9 2017.8,715.0 2011.1,706.4 2016.9,704.5 2021.7,704.5 2028.4,699.7 2036.1,698.7 2043.7,697.7 2051.4,695.8 2059.1,693.9 2066.8,691.0 2070.6,685.3 2074.5,681.4 2076.4,678.5 2080.2,677.6 2081.2,681.4 2078.3,685.3 2085.0,689.1 2086.0,695.8 2081.2,698.7 2072.5,699.7 2062.9,702.5 2059.1,710.2 2057.2,714.0 2052.4,717.9 2043.7,718.8 2038.0,721.7 2031.3,723.6 2018.8,724.6 2013.0,725.6 2007.3,726.5" fill="#fde725"/><polygon points="2105.2,649.8 2110.9,642.1 2119.6,638.2 2120.5,632.5 2126.3,633.4 2132.0,640.2 2131.1,645.0 2126.3,646.9 2128.2,650.7 2122.4,654.5 2119.6,659.3 2114.8,656.5 2108.0,653.6" fill="#fde725"/><rect x="2094.6" y="660.3" width="5.8" height="7.7" fill="#fde725"/><rect x="2090.8" y="669.0" width="4.8" height="3.8" fill="#fde725"/><rect x="2085.0" y="671.8" width="2.9" height="5.8" fill="#fde725"/><rect x="2090.8" y="682.4" width="6.7" height="3.8" fill="#fde725"/><rect x="2047.5" y="706" width="2.5" height="3.5" fill="#440154"/><rect x="2050.5" y="711" width="2.5" height="3" fill="#440154"/><path d="M2054,627 L2060,631 L2066,629 L2066,634 L2058,635 Z" fill="#efeef0"/><rect x="1983.3" y="673.7" width="2" height="4" fill="#efeef0"/><path d="M2135.7 755.8h0M1888.9 646.8h0M2048.9 781.5h0M2152.7 647.7h0M1884.2 668.8h0M2126.3 745.1h0M1921.2 623.2h0M2172.1 673.0h0M1878.9 697.9h0M1883.7 609.1h0M2080.4 780.7h0M2156.5 649.7h0M2090.8 784.4h0M2131.1 723.2h0M1990.1 781.5h0M1932.5 786.6h0M2136.3 625.2h0M1884.5 657.6h0M1904.3 739.3h0M2150.9 752.7h0M2173.1 703.8h0M1905.6 757.3h0M1894.9 768.0h0M1889.9 604.5h0M2135.7 616.9h0M1922.4 766.8h0M2147.3 621.4h0M2151.1 611.3h0M2163.3 628.7h0M2173.8 642.3h0M2155.5 707.9h0M2137.2 611.1h0M1891.0 725.6h0M2132.2 613.6h0M1955.1 605.0h0M2127.6 767.4h0M1883.2 625.9h0M1916.3 625.0h0M2155.5 742.7h0M2140.7 607.7h0M1996.2 787.5h0" stroke="#440154" stroke-width="1.30" stroke-linecap="round" fill="none"/></g>
<polyline points="1543.6,86 1543.6,37.6 2298.6,37.6 2298.6,72" fill="none" stroke="#e8321f" stroke-width="5.4"/>
<polygon points="2298.6,85.6 2290.2,70.5 2307,70.5" fill="#e8321f"/>
<polyline points="1543.6,785 1543.6,833.1 2299,833.1 2299,798" fill="none" stroke="#f3be3b" stroke-width="5.4"/>
<polygon points="2299,784.6 2290.6,800 2307.4,800" fill="#f3be3b"/>
<line x1="695.6" y1="355.6" x2="695.6" y2="311.4" stroke="#e8321f" stroke-width="5.0"/><polygon points="695.6,296.8 704.2,312.4 687.0,312.4" fill="#e8321f"/>
<line x1="699.7" y1="537.0" x2="699.7" y2="587.4" stroke="#f3be3b" stroke-width="4.6"/><polygon points="699.7,602.0 691.9,586.4 707.5,586.4" fill="#f3be3b"/>
<line x1="898.7" y1="195.2" x2="1125.5" y2="137.9" stroke="#e8321f" stroke-width="3.0"/><polygon points="1143.0,133.5 1126.4,145.4 1122.7,130.9" fill="#e8321f"/>
<line x1="898.7" y1="227.4" x2="1241.9" y2="357.1" stroke="#e8321f" stroke-width="3.0"/><polygon points="1258.7,363.5 1238.3,363.8 1243.6,349.8" fill="#e8321f"/>
<line x1="1544.7" y1="365.0" x2="1544.7" y2="414.7" stroke="#e8321f" stroke-width="5.0"/><polygon points="1544.7,428.7 1536.2,413.7 1553.2,413.7" fill="#e8321f"/>
<line x1="1626.6" y1="555.2" x2="1626.6" y2="502.1" stroke="#f3be3b" stroke-width="5.3"/><polygon points="1626.6,487.1 1634.5,503.1 1618.7,503.1" fill="#f3be3b"/>
<line x1="1006.9" y1="628.4" x2="1152.2" y2="577.3" stroke="#f3be3b" stroke-width="3.0"/><polygon points="1167.3,572.0 1153.9,585.2 1148.6,570.1" fill="#f3be3b"/>
<line x1="1006.9" y1="701.2" x2="1151.3" y2="763.6" stroke="#f3be3b" stroke-width="3.0"/><polygon points="1166.0,770.0 1147.2,770.6 1153.6,755.9" fill="#f3be3b"/>
<line x1="1507.0" y1="629.6" x2="1384.8" y2="579.1" stroke="#f3be3b" stroke-width="3.0"/><polygon points="1370.0,573.0 1388.8,572.1 1382.7,586.9" fill="#f3be3b"/>
<line x1="1507.0" y1="700.4" x2="1390.2" y2="761.6" stroke="#f3be3b" stroke-width="3.0"/><polygon points="1376.0,769.0 1387.3,754.0 1394.8,768.2" fill="#f3be3b"/>
<line x1="1674.4" y1="450.1" x2="1764.0" y2="450.1" stroke="#2e5f88" stroke-width="3.7"/><polygon points="1778.5,450.1 1763.0,458.4 1763.0,441.8" fill="#2e5f88"/>
<line x1="2136.8" y1="186.1" x2="2246.0" y2="186.1" stroke="#e8321f" stroke-width="4.8"/><polygon points="2260.6,186.1 2245.0,193.5 2245.0,178.7" fill="#e8321f"/>
<line x1="2178.2" y1="694.6" x2="2251.7" y2="694.6" stroke="#f3be3b" stroke-width="4.0"/><polygon points="2265.2,694.6 2250.7,701.8 2250.7,687.4" fill="#f3be3b"/>
<rect x="933.9" y="628.4" width="73" height="72.8" fill="none" stroke="#f3be3b" stroke-width="2.8"/>
<rect x="1507" y="629.6" width="74" height="70.8" fill="none" stroke="#f3be3b" stroke-width="2.8"/>
<rect x="1780.0" y="236.2" width="20.6" height="427.0" rx="4.0" fill="none" stroke="#6aab46" stroke-width="4.4"/>
<rect x="1816.8" y="310.5" width="18.4" height="280.9" rx="4.0" fill="none" stroke="#6aab46" stroke-width="4.4"/>
<rect x="1849.9" y="357.2" width="17.7" height="185.8" rx="4.0" fill="none" stroke="#98358f" stroke-width="4.4"/>
<rect x="2176.9" y="357.0" width="18.7" height="186.2" rx="4.0" fill="none" stroke="#4b9dd6" stroke-width="4.0"/>
<rect x="2211.2" y="354.6" width="19.2" height="188.6" rx="4.0" fill="none" stroke="#4b9dd6" stroke-width="4.0"/>
<line x1="1872.8" y1="509.3" x2="2154.2" y2="509.3" stroke="#2e5f88" stroke-width="3.3"/><polygon points="2169.7,509.3 2153.2,516.5 2153.2,502.1" fill="#2e5f88"/>
<line x1="2022.4" y1="521" x2="2022.4" y2="349" stroke="#2e5f88" stroke-width="3.3"/>
<polygon points="2022.4,334 2014.6,350.5 2030.2,350.5" fill="#2e5f88"/>
<polyline points="1882.0,500.9 1883.0,500.9 1884.0,500.9 1885.0,500.8 1886.0,500.8 1887.0,500.8 1888.0,500.8 1889.0,500.7 1890.0,500.7 1891.0,500.7 1892.0,500.7 1893.0,500.6 1894.0,500.6 1895.0,500.6 1896.0,500.5 1897.0,500.5 1898.0,500.5 1899.0,500.4 1900.0,500.4 1901.0,500.4 1902.0,500.3 1903.0,500.3 1904.0,500.3 1905.0,500.2 1906.0,500.2 1907.0,500.2 1908.0,500.1 1909.0,500.1 1910.0,500.0 1911.0,500.0 1912.0,499.9 1913.0,499.9 1914.0,499.9 1915.1,499.8 1916.1,499.8 1917.1,499.7 1918.1,499.7 1919.1,499.6 1920.1,499.5 1921.1,499.5 1922.1,499.4 1923.1,499.4 1924.1,499.3 1925.1,499.2 1926.1,499.2 1927.1,499.1 1928.1,499.0 1929.1,499.0 1930.1,498.9 1931.1,498.8 1932.1,498.7 1933.1,498.7 1934.1,498.6 1935.1,498.5 1936.1,498.4 1937.1,498.3 1938.1,498.2 1939.1,498.1 1940.1,498.0 1941.1,497.9 1942.1,497.8 1943.1,497.7 1944.1,497.6 1945.1,497.4 1946.1,497.3 1947.1,497.2 1948.1,497.0 1949.1,496.9 1950.1,496.7 1951.1,496.6 1952.1,496.4 1953.1,496.3 1954.1,496.1 1955.1,495.9 1956.1,495.7 1957.1,495.5 1958.1,495.3 1959.1,495.1 1960.1,494.9 1961.1,494.7 1962.1,494.4 1963.1,494.2 1964.1,493.9 1965.1,493.6 1966.1,493.3 1967.1,493.0 1968.1,492.7 1969.1,492.4 1970.1,492.0 1971.1,491.7 1972.1,491.3 1973.1,490.9 1974.1,490.4 1975.1,490.0 1976.1,489.5 1977.1,489.0 1978.2,488.5 1979.2,487.9 1980.2,487.3 1981.2,486.7 1982.2,486.0 1983.2,485.3 1984.2,484.6 1985.2,483.8 1986.2,482.9 1987.2,482.0 1988.2,481.0 1989.2,480.0 1990.2,478.9 1991.2,477.8 1992.2,476.5 1993.2,475.2 1994.2,473.8 1995.2,472.3 1996.2,470.6 1997.2,468.9 1998.2,467.0 1999.2,465.1 2000.2,462.9 2001.2,460.7 2002.2,458.2 2003.2,455.6 2004.2,452.9 2005.2,450.0 2006.2,446.9 2007.2,443.6 2008.2,440.2 2009.2,436.6 2010.2,432.9 2011.2,429.1 2012.2,425.3 2013.2,421.4 2014.2,417.5 2015.2,413.8 2016.2,410.3 2017.2,407.1 2018.2,404.2 2019.2,401.8 2020.2,399.9 2021.2,398.6 2022.2,398.0 2023.2,398.1 2024.2,398.9 2025.2,400.3 2026.2,402.3 2027.2,404.8 2028.2,407.8 2029.2,411.1 2030.2,414.7 2031.2,418.5 2032.2,422.3 2033.2,426.2 2034.2,430.0 2035.2,433.8 2036.2,437.5 2037.2,441.0 2038.2,444.4 2039.2,447.6 2040.2,450.7 2041.2,453.6 2042.2,456.3 2043.3,458.8 2044.3,461.2 2045.3,463.4 2046.3,465.5 2047.3,467.5 2048.3,469.3 2049.3,471.0 2050.3,472.6 2051.3,474.1 2052.3,475.5 2053.3,476.8 2054.3,478.1 2055.3,479.2 2056.3,480.3 2057.3,481.3 2058.3,482.2 2059.3,483.1 2060.3,484.0 2061.3,484.7 2062.3,485.5 2063.3,486.2 2064.3,486.8 2065.3,487.5 2066.3,488.1 2067.3,488.6 2068.3,489.1 2069.3,489.6 2070.3,490.1 2071.3,490.5 2072.3,491.0 2073.3,491.4 2074.3,491.8 2075.3,492.1 2076.3,492.5 2077.3,492.8 2078.3,493.1 2079.3,493.4 2080.3,493.7 2081.3,494.0 2082.3,494.2 2083.3,494.5 2084.3,494.7 2085.3,495.0 2086.3,495.2 2087.3,495.4 2088.3,495.6 2089.3,495.8 2090.3,496.0 2091.3,496.1 2092.3,496.3 2093.3,496.5 2094.3,496.6 2095.3,496.8 2096.3,496.9 2097.3,497.1 2098.3,497.2 2099.3,497.3 2100.3,497.5 2101.3,497.6 2102.3,497.7 2103.3,497.8 2104.3,497.9 2105.3,498.0 2106.3,498.1 2107.4,498.2 2108.4,498.3 2109.4,498.4 2110.4,498.5 2111.4,498.6 2112.4,498.7 2113.4,498.8 2114.4,498.8 2115.4,498.9 2116.4,499.0 2117.4,499.1 2118.4,499.1 2119.4,499.2 2120.4,499.3 2121.4,499.3 2122.4,499.4 2123.4,499.4 2124.4,499.5 2125.4,499.6 2126.4,499.6 2127.4,499.7 2128.4,499.7 2129.4,499.8 2130.4,499.8 2131.4,499.9 2132.4,499.9 2133.4,500.0 2134.4,500.0 2135.4,500.0 2136.4,500.1 2137.4,500.1 2138.4,500.2" fill="none" stroke="#df7b3b" stroke-width="4.6" stroke-linecap="round"/>
<path d="M1976,484.5 C1930,478 1915,455 1924,425 C1932,398 1952,390 1968,387 C1990,383 2005,350 2009.5,318" fill="none" stroke="#e8321f" stroke-width="4.3"/>
<polygon points="2011,303.6 2002.8,319.5 2018.6,319.8" fill="#e8321f"/>
<path d="M2059.2,500 C2059,530 2052,540 2044,548 C2032,556 2026,566 2024.5,582" fill="none" stroke="#f3be3b" stroke-width="4.3"/>
<polygon points="2022.8,595 2015.6,579 2030.6,580" fill="#f3be3b"/>
<circle cx="1985.3" cy="484.4" r="10.6" fill="#e8321f" stroke="#000" stroke-width="3.8"/>
<circle cx="2059.1" cy="493.7" r="10.8" fill="#f3c13d" stroke="#000" stroke-width="3.8"/>
<line x1="2312" y1="121.2" x2="2429.6" y2="448.1" stroke="#000" stroke-width="2.8"/>
<line x1="2312" y1="166.8" x2="2429.6" y2="448.1" stroke="#000" stroke-width="2.8"/>
<line x1="2312" y1="285.9" x2="2429.6" y2="448.1" stroke="#000" stroke-width="2.8"/>
<line x1="2312" y1="336.6" x2="2429.6" y2="448.1" stroke="#000" stroke-width="2.8"/>
<line x1="2308" y1="533.9" x2="2429.6" y2="448.1" stroke="#000" stroke-width="2.8"/>
<line x1="2308" y1="579.6" x2="2429.6" y2="448.1" stroke="#000" stroke-width="2.8"/>
<line x1="2308" y1="697.4" x2="2429.6" y2="448.1" stroke="#000" stroke-width="2.8"/>
<line x1="2308" y1="749.3" x2="2429.6" y2="448.1" stroke="#000" stroke-width="2.8"/>
<rect x="2267.7" y="87.2" width="60" height="288.4" rx="11" fill="none" stroke="#e8321f" stroke-width="4.9"/>
<rect x="2268" y="494.5" width="59.3" height="287.2" rx="11" fill="none" stroke="#f3be3b" stroke-width="4.4"/>
<circle cx="2300.8" cy="121.2" r="10.8" fill="#e83a2c" stroke="#000" stroke-width="4.0"/>
<circle cx="2300.8" cy="166.8" r="10.8" fill="#e83a2c" stroke="#000" stroke-width="4.0"/>
<circle cx="2300.8" cy="285.9" r="10.8" fill="#e83a2c" stroke="#000" stroke-width="4.0"/>
<circle cx="2300.8" cy="336.6" r="10.8" fill="#e83a2c" stroke="#000" stroke-width="4.0"/>
<circle cx="2297.0" cy="533.9" r="10.4" fill="#f3c13d" stroke="#000" stroke-width="3.8"/>
<circle cx="2297.0" cy="579.6" r="10.4" fill="#f3c13d" stroke="#000" stroke-width="3.8"/>
<circle cx="2297.0" cy="697.4" r="10.4" fill="#f3c13d" stroke="#000" stroke-width="3.8"/>
<circle cx="2297.0" cy="749.3" r="10.4" fill="#f3c13d" stroke="#000" stroke-width="3.8"/>
<circle cx="2302.8" cy="215.4" r="3.4" fill="#000"/>
<circle cx="2302.8" cy="228.5" r="3.4" fill="#000"/>
<circle cx="2302.8" cy="241.5" r="3.4" fill="#000"/>
<circle cx="2298.9" cy="628.5" r="3.3" fill="#000"/>
<circle cx="2298.9" cy="641.4" r="3.3" fill="#000"/>
<circle cx="2298.9" cy="654.3" r="3.3" fill="#000"/>
<circle cx="2429.6" cy="448.1" r="11.6" fill="#4a9bd4" stroke="#000" stroke-width="3.8"/>
<text transform="translate(2460.90 466.31) scale(0.0977 0.1018)" font-size="500" style="font-family:&quot;Liberation Serif&quot;;font-style:italic;" fill="#000" stroke="#000" stroke-width="6.01" stroke-linejoin="round">y</text>
<path d="M1409.93,439.44 C1413.61,435.76 1417.06,433.57 1419.67,436.19 C1422.25,439.21 1422.68,447.91 1423.55,453.99 C1424.86,462.65 1426.60,466.57 1429.18,466.57 C1432.22,466.57 1434.36,463.95 1435.91,462.02" fill="none" stroke="#000" stroke-width="4.20" stroke-linecap="butt"/><path d="M1440.86,438.58 C1439.15,434.90 1436.11,434.03 1433.10,435.76 C1430.05,437.49 1426.60,443.56 1423.12,449.64 C1418.80,457.44 1415.32,464.84 1410.13,465.90 C1406.68,466.34 1404.50,463.95 1404.07,462.45" fill="none" stroke="#000" stroke-width="3.25" stroke-linecap="butt"/>
<rect x="1461.3" y="446" width="29.5" height="3.6" fill="#000"/><rect x="1461.3" y="456.2" width="29.5" height="3.6" fill="#000"/>
<text transform="translate(1510.95 469.95) scale(0.0596 0.1060)" font-size="500" style="font-family:&quot;Liberation Serif&quot;;" fill="#000" stroke="#000" stroke-width="18.11" stroke-linejoin="round">{</text>
<text transform="translate(1528.66 466.15) scale(0.0891 0.0954)" font-size="500" style="font-family:&quot;Liberation Serif&quot;;font-style:italic;" fill="#000" stroke="#000" stroke-width="7.59" stroke-linejoin="round">X</text>
<text transform="translate(1558.80 476.70) scale(0.0772 0.0767)" font-size="500" style="font-family:&quot;Liberation Serif&quot;;font-style:italic;" fill="#000" stroke="#000" stroke-width="7.80" stroke-linejoin="round">r</text>
<text transform="translate(1579.10 464.89) scale(0.0496 0.1133)" font-size="500" style="font-family:&quot;Liberation Serif&quot;;font-style:italic;" fill="#000" stroke="#000" stroke-width="12.28" stroke-linejoin="round">,</text>
<text transform="translate(1597.10 466.15) scale(0.0914 0.0954)" font-size="500" style="font-family:&quot;Liberation Serif&quot;;font-style:italic;" fill="#000" stroke="#000" stroke-width="7.49" stroke-linejoin="round">X</text>
<text transform="translate(1629.29 475.58) scale(0.0696 0.0719)" font-size="500" style="font-family:&quot;Liberation Serif&quot;;font-style:italic;" fill="#000" stroke="#000" stroke-width="8.48" stroke-linejoin="round">p</text>
<text transform="translate(1651.35 469.95) scale(0.0600 0.1060)" font-size="500" style="font-family:&quot;Liberation Serif&quot;;" fill="#000" stroke="#000" stroke-width="18.07" stroke-linejoin="round">}</text>
<text transform="translate(1875.90 558.51) scale(0.0892 0.0971)" font-size="500" style="font-family:&quot;Liberation Serif&quot;;font-style:italic;" fill="#000" stroke="#000" stroke-width="8.59" stroke-linejoin="round">q</text>
<text transform="translate(1906.05 558.90) scale(0.0922 0.0996)" font-size="500" style="font-family:&quot;Liberation Serif&quot;;" fill="#000" stroke="#000" stroke-width="9.39" stroke-linejoin="round">(</text>
<text transform="translate(1923.00 558.71) scale(0.1026 0.0979)" font-size="500" style="font-family:&quot;Liberation Serif&quot;;font-style:italic;" fill="#000" stroke="#000" stroke-width="7.98" stroke-linejoin="round">s</text>
<rect x="1951.4" y="524.4" width="4.6" height="44.6" fill="#000"/>
<path d="M1967.75,531.26 C1971.50,527.50 1975.01,525.26 1977.67,527.94 C1980.29,531.03 1980.73,539.91 1981.62,546.11 C1982.95,554.96 1984.72,558.96 1987.34,558.96 C1990.44,558.96 1992.62,556.28 1994.19,554.31" fill="none" stroke="#000" stroke-width="4.29" stroke-linecap="butt"/><path d="M1999.23,530.38 C1997.49,526.62 1994.39,525.74 1991.33,527.50 C1988.22,529.26 1984.72,535.47 1981.17,541.67 C1976.78,549.64 1973.23,557.20 1967.95,558.28 C1964.45,558.72 1962.23,556.28 1961.79,554.76" fill="none" stroke="#000" stroke-width="3.31" stroke-linecap="butt"/>
<text transform="translate(2004.15 558.90) scale(0.0880 0.0996)" font-size="500" style="font-family:&quot;Liberation Serif&quot;;" fill="#000" stroke="#000" stroke-width="9.60" stroke-linejoin="round">)</text>
<text transform="translate(1844.95 139.51) scale(0.1009 0.0879)" font-size="500" style="font-family:&quot;Liberation Serif&quot;;font-style:italic;" fill="#000" stroke="#000" stroke-width="7.42" stroke-linejoin="round">υ</text>
<text transform="translate(1867.70 149.40) scale(0.0868 0.0788)" font-size="500" style="font-family:&quot;Liberation Serif&quot;;font-style:italic;" fill="#000" stroke="#000" stroke-width="7.25" stroke-linejoin="round">r</text>
<path d="M1848.5,113 L1856,105.5 L1863.5,113" fill="none" stroke="#000" stroke-width="2.8"/>
<text transform="translate(1816.35 771.22) scale(0.1035 0.0867)" font-size="500" style="font-family:&quot;Liberation Serif&quot;;font-style:italic;" fill="#000" stroke="#000" stroke-width="7.36" stroke-linejoin="round">υ</text>
<text transform="translate(1842.83 776.76) scale(0.0675 0.0655)" font-size="500" style="font-family:&quot;Liberation Serif&quot;;font-style:italic;" fill="#000" stroke="#000" stroke-width="9.02" stroke-linejoin="round">p</text>
<path d="M1820.5,745 L1828,737.5 L1835.5,745" fill="none" stroke="#000" stroke-width="2.8"/>
<text transform="translate(938.40 416.40) scale(0.0676 0.0712)" font-size="500" style="font-family:&quot;Liberation Sans&quot;;" fill="#000">CT</text>
<text transform="translate(1245.60 416.50) scale(0.0682 0.0695)" font-size="500" style="font-family:&quot;Liberation Sans&quot;;" fill="#000">ROI</text>
<text transform="translate(926.00 542.00) scale(0.0681 0.0733)" font-size="500" style="font-family:&quot;Liberation Sans&quot;;" fill="#000">WSI</text>
</svg>
</body></html>
